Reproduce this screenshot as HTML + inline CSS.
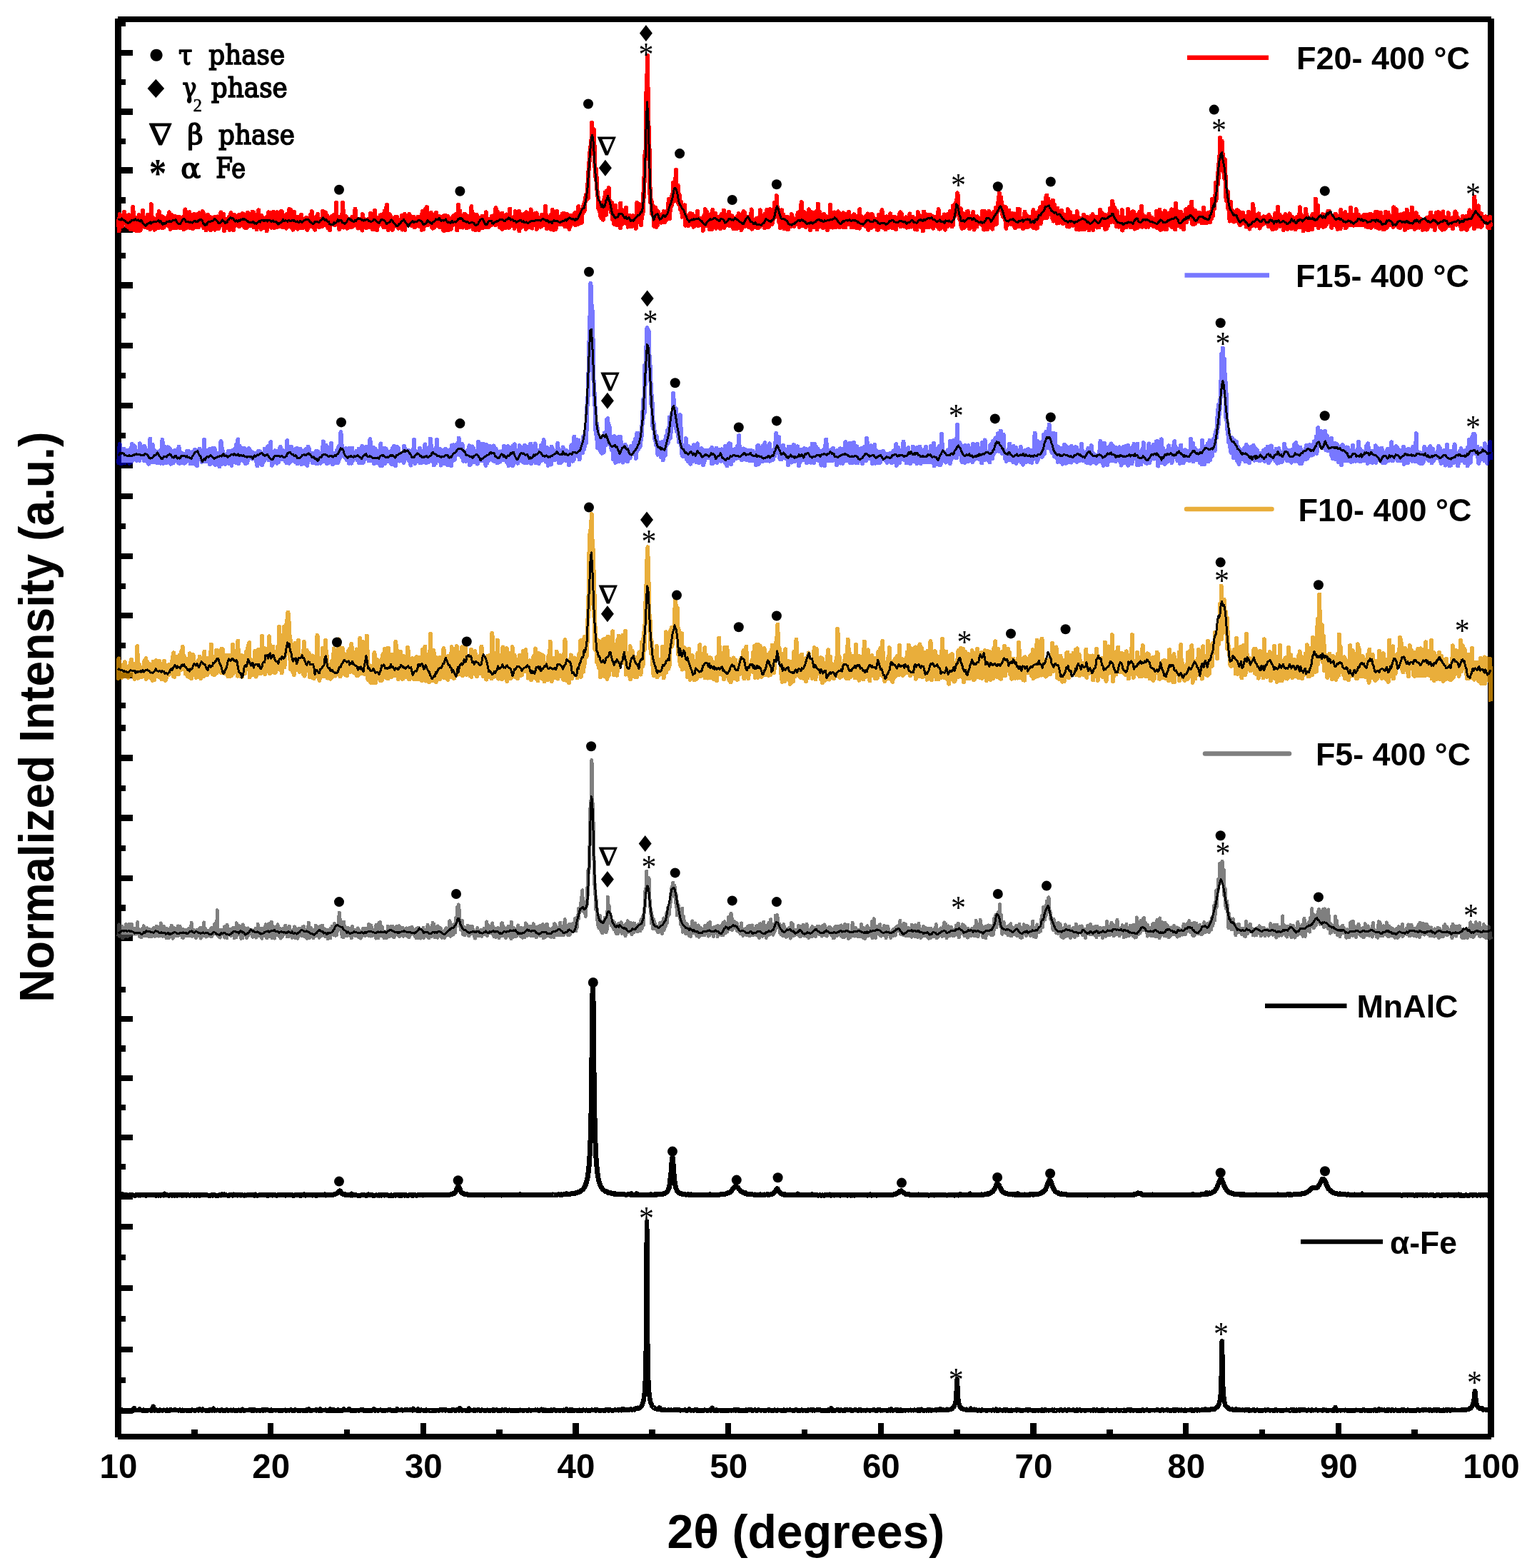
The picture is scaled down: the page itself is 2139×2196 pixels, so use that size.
<!DOCTYPE html>
<html lang="en"><head><meta charset="utf-8"><title>XRD patterns</title>
<style>html,body{margin:0;padding:0;background:#fff}svg{display:block}.ax{font-family:"Liberation Sans",sans-serif;font-weight:bold;fill:#000}.lg{font-family:"Liberation Sans",sans-serif;font-weight:bold;fill:#000}.ph{font-family:"DejaVu Serif","Liberation Serif",serif;fill:#000}.as{font-family:"Liberation Serif",serif;fill:#000}.nb{font-family:"DejaVu Serif","Liberation Serif",serif;fill:#000}.c{fill:none;stroke-linecap:butt;shape-rendering:crispEdges}</style></head><body>
<svg width="2139" height="2196" viewBox="0 0 2139 2196">
<rect width="2139" height="2196" fill="#fff"/>
<g fill="#000" shape-rendering="crispEdges">
<rect x="161" y="26" width="9" height="1987"/>
<rect x="2084" y="26" width="9" height="1987"/>
<rect x="165" y="23" width="1924" height="8"/>
<rect x="165" y="2008" width="1924" height="8"/>
<rect x="166" y="69.5" width="20.0" height="8.5"/>
<rect x="166" y="152.3" width="20.0" height="8.5"/>
<rect x="166" y="234.3" width="20.0" height="8.5"/>
<rect x="166" y="317.4" width="20.0" height="8.5"/>
<rect x="166" y="395.1" width="20.0" height="8.5"/>
<rect x="166" y="479.6" width="20.0" height="8.5"/>
<rect x="166" y="563.6" width="20.0" height="8.5"/>
<rect x="166" y="647.6" width="20.0" height="8.5"/>
<rect x="166" y="690.6" width="20.0" height="8.5"/>
<rect x="166" y="774.8" width="20.0" height="8.5"/>
<rect x="166" y="857.6" width="20.0" height="8.5"/>
<rect x="166" y="941.8" width="20.0" height="8.5"/>
<rect x="166" y="1057.3" width="20.0" height="8.5"/>
<rect x="166" y="1141.2" width="20.0" height="8.5"/>
<rect x="166" y="1225.7" width="20.0" height="8.5"/>
<rect x="166" y="1309.3" width="20.0" height="8.5"/>
<rect x="166" y="1422.8" width="20.0" height="8.5"/>
<rect x="166" y="1505.8" width="20.0" height="8.5"/>
<rect x="166" y="1588.8" width="20.0" height="8.5"/>
<rect x="166" y="1671.8" width="20.0" height="8.5"/>
<rect x="166" y="1713.5" width="20.0" height="8.5"/>
<rect x="166" y="1799.7" width="20.0" height="8.5"/>
<rect x="166" y="1885.5" width="20.0" height="8.5"/>
<rect x="166" y="1971.5" width="20.0" height="8.5"/>
<rect x="166" y="28.4" width="10.0" height="8.5"/>
<rect x="166" y="110.8" width="10.0" height="8.5"/>
<rect x="166" y="193.8" width="10.0" height="8.5"/>
<rect x="166" y="276.4" width="10.0" height="8.5"/>
<rect x="166" y="353.9" width="10.0" height="8.5"/>
<rect x="166" y="437.6" width="10.0" height="8.5"/>
<rect x="166" y="521.8" width="10.0" height="8.5"/>
<rect x="166" y="605.5" width="10.0" height="8.5"/>
<rect x="166" y="732.5" width="10.0" height="8.5"/>
<rect x="166" y="816.6" width="10.0" height="8.5"/>
<rect x="166" y="899.8" width="10.0" height="8.5"/>
<rect x="166" y="983.5" width="10.0" height="8.5"/>
<rect x="166" y="1015.0" width="10.0" height="8.5"/>
<rect x="166" y="1099.5" width="10.0" height="8.5"/>
<rect x="166" y="1183.5" width="10.0" height="8.5"/>
<rect x="166" y="1267.2" width="10.0" height="8.5"/>
<rect x="166" y="1381.7" width="10.0" height="8.5"/>
<rect x="166" y="1464.3" width="10.0" height="8.5"/>
<rect x="166" y="1546.8" width="10.0" height="8.5"/>
<rect x="166" y="1629.8" width="10.0" height="8.5"/>
<rect x="166" y="1756.8" width="10.0" height="8.5"/>
<rect x="166" y="1842.7" width="10.0" height="8.5"/>
<rect x="166" y="1928.5" width="10.0" height="8.5"/>
<rect x="268.1" y="2002.0" width="8.5" height="10.0"/>
<rect x="374.9" y="1993.0" width="8.5" height="19.0"/>
<rect x="481.8" y="2002.0" width="8.5" height="10.0"/>
<rect x="588.6" y="1993.0" width="8.5" height="19.0"/>
<rect x="695.4" y="2002.0" width="8.5" height="10.0"/>
<rect x="802.2" y="1993.0" width="8.5" height="19.0"/>
<rect x="909.1" y="2002.0" width="8.5" height="10.0"/>
<rect x="1015.9" y="1993.0" width="8.5" height="19.0"/>
<rect x="1122.8" y="2002.0" width="8.5" height="10.0"/>
<rect x="1229.6" y="1993.0" width="8.5" height="19.0"/>
<rect x="1336.4" y="2002.0" width="8.5" height="10.0"/>
<rect x="1443.2" y="1993.0" width="8.5" height="19.0"/>
<rect x="1550.1" y="2002.0" width="8.5" height="10.0"/>
<rect x="1656.9" y="1993.0" width="8.5" height="19.0"/>
<rect x="1763.8" y="2002.0" width="8.5" height="10.0"/>
<rect x="1870.6" y="1993.0" width="8.5" height="19.0"/>
<rect x="1977.4" y="2002.0" width="8.5" height="10.0"/>
</g>
<polyline class="c" stroke="#ff0000" stroke-opacity="1" stroke-width="6" stroke-linejoin="round" stroke-linecap="round" points="165.5,318.2 166.4,308.1 166.8,323.5 167.2,319.9 167.6,300.1 168.5,317.1 168.9,301.3 169.8,315.8 170.6,307.9 171.5,316.8 171.9,303.4 172.8,311.2 173.2,304.3 174.0,296.7 174.5,313.4 175.3,310.3 175.8,313.6 176.6,313.3 177.0,302.8 177.5,304.0 177.9,316.8 179.2,317.7 179.6,301.4 180.5,318.3 180.9,308.1 181.7,301.3 182.2,315.7 182.6,320.8 183.4,314.6 183.9,311.7 184.3,301.7 185.2,315.3 185.6,320.7 186.4,289.9 186.9,311.3 188.1,322.1 188.6,304.2 189.0,309.8 189.4,315.2 190.7,315.1 191.1,323.0 191.6,304.9 192.4,318.6 192.8,307.1 193.7,318.7 194.6,301.2 195.0,322.9 195.4,305.2 196.3,318.0 196.7,322.4 197.5,306.5 198.4,304.3 198.8,315.7 199.3,316.0 200.1,294.5 200.5,301.3 201.0,316.0 202.3,307.3 202.7,317.0 203.1,318.5 203.5,311.0 204.4,304.4 205.2,311.4 206.1,307.6 206.5,305.8 207.0,300.6 207.4,319.3 208.2,319.5 209.1,304.5 209.5,301.0 210.4,321.1 211.2,319.9 211.7,286.2 212.1,318.4 212.9,314.1 213.4,318.7 213.8,304.3 214.6,317.7 215.1,311.7 215.9,306.8 216.8,321.7 217.2,318.0 218.1,307.3 218.9,307.8 219.3,314.9 219.8,318.7 220.6,310.9 221.1,300.9 221.5,319.3 222.3,309.9 222.8,296.1 224.0,317.6 224.5,304.1 224.9,307.6 225.3,318.3 226.2,319.0 226.6,303.2 227.5,304.3 228.3,313.8 228.7,304.2 229.6,318.7 230.5,311.4 230.9,313.6 231.7,307.2 232.2,314.3 233.0,314.9 233.4,307.1 233.9,314.6 234.3,304.1 235.2,312.9 235.6,307.1 236.9,297.3 237.3,317.9 238.1,310.6 238.6,321.1 239.0,317.5 239.4,303.4 240.3,307.3 240.7,301.0 242.0,307.0 242.4,314.7 242.8,305.4 243.7,319.0 244.1,303.4 244.6,308.8 245.4,310.4 245.8,303.1 246.7,310.8 247.1,319.2 248.0,303.7 248.4,307.8 249.7,304.8 250.1,317.9 250.5,303.6 251.4,318.9 251.8,309.0 252.7,312.1 253.1,304.9 253.5,318.7 254.4,311.8 254.8,310.7 255.7,319.1 256.5,305.1 256.9,314.8 257.4,321.1 258.7,297.5 259.1,318.3 259.5,293.4 260.4,319.6 261.2,314.8 261.6,307.7 262.1,311.0 262.9,315.0 263.4,304.1 264.2,310.9 264.6,311.2 265.5,297.0 265.9,319.1 266.8,314.6 267.2,311.1 268.1,317.5 268.5,314.3 269.3,307.7 269.8,307.9 270.2,320.3 271.1,311.7 271.9,299.7 272.3,315.4 273.2,300.6 274.0,308.4 274.5,314.3 274.9,318.0 275.3,310.6 276.2,307.6 277.0,300.0 277.9,318.0 278.3,301.5 279.2,298.4 279.6,309.0 280.0,307.0 280.9,314.6 281.7,307.7 282.2,315.1 282.6,308.5 283.0,310.6 283.9,296.2 284.3,315.3 285.2,319.2 285.6,299.8 286.9,314.7 287.3,307.8 287.7,311.5 288.6,322.2 289.0,310.5 289.9,312.0 290.3,301.8 291.1,300.7 291.6,305.2 292.0,310.7 292.8,310.7 293.7,320.0 294.1,303.5 295.0,322.0 295.8,307.9 296.3,311.7 297.1,308.1 297.5,317.5 298.0,320.3 298.4,307.8 299.7,310.4 300.1,304.2 301.0,321.6 301.4,308.3 301.8,313.4 302.2,319.4 303.5,313.6 304.0,311.3 304.4,303.5 305.2,315.5 306.1,320.3 306.5,311.0 307.4,311.4 307.8,317.4 308.2,312.4 308.7,305.9 309.5,297.5 309.9,313.7 311.2,313.9 311.6,300.3 312.1,306.8 312.5,301.4 313.4,300.2 314.2,323.4 314.6,315.1 315.5,308.3 316.3,311.6 316.8,307.8 317.2,319.5 317.6,308.3 318.5,314.2 319.3,306.8 320.2,314.7 320.6,304.3 321.5,321.7 321.9,315.3 322.3,321.3 322.8,304.5 323.6,297.9 324.5,314.4 324.9,309.8 325.3,314.8 326.6,311.6 327.0,322.5 327.9,300.7 328.3,315.2 328.7,315.0 329.6,304.1 330.0,315.8 330.9,307.7 331.3,303.4 332.2,314.4 332.6,314.8 333.0,306.9 333.9,302.0 334.7,312.4 335.2,317.1 335.6,300.7 336.9,307.7 337.3,312.0 337.7,315.3 338.1,310.8 339.0,308.4 339.4,299.2 340.3,310.9 341.1,299.9 342.0,306.2 342.4,318.6 343.3,311.8 343.7,302.7 344.1,304.0 344.6,319.2 345.8,318.7 346.3,303.7 347.1,297.7 347.5,314.6 348.4,314.4 348.8,307.5 349.3,305.7 350.1,316.2 351.0,311.0 351.4,301.8 351.8,309.8 352.7,315.8 353.1,314.3 353.5,296.7 354.8,308.7 355.2,297.4 355.7,318.5 356.1,300.7 356.9,312.4 357.8,307.1 358.7,308.2 359.1,314.2 359.5,321.3 359.9,308.1 360.8,300.6 361.2,312.4 362.1,294.4 362.5,300.8 363.4,317.3 364.2,315.6 364.6,314.0 365.5,318.2 365.9,321.1 366.3,301.8 367.6,312.2 368.1,307.3 368.5,304.8 368.9,311.5 369.8,319.0 370.6,312.9 371.0,314.8 371.9,310.6 372.8,315.8 373.2,304.2 373.6,323.4 374.5,318.0 374.9,303.8 375.3,307.3 376.2,297.4 376.6,313.6 377.5,314.2 378.3,306.9 378.7,304.8 379.2,314.1 380.0,318.7 380.9,297.8 381.3,300.7 381.7,310.9 383.0,313.4 383.4,296.9 384.3,319.1 384.7,310.5 385.1,307.2 385.6,307.9 386.4,318.3 387.3,300.7 388.1,297.3 388.6,312.0 389.4,317.8 389.8,299.2 390.7,303.7 391.1,314.7 392.0,304.5 392.4,308.8 393.3,296.3 393.7,317.3 394.1,317.4 395.0,296.4 395.4,307.9 396.3,318.1 396.7,311.1 397.1,312.6 398.4,315.0 398.8,303.2 399.7,317.1 400.1,314.5 400.5,301.3 401.0,319.6 401.8,300.1 402.2,315.9 403.1,317.3 403.5,304.8 404.4,316.2 405.2,293.1 405.7,298.1 406.1,308.8 406.9,294.0 407.8,318.3 408.2,303.7 409.1,315.0 409.5,309.9 410.4,321.8 410.8,314.2 411.2,306.4 412.1,296.6 412.5,304.2 413.4,307.5 414.2,311.0 415.1,319.1 415.5,307.7 415.9,315.5 416.3,303.5 417.2,320.6 418.1,311.1 418.5,317.5 419.3,314.4 420.2,307.4 420.6,314.8 421.0,310.8 421.9,301.0 422.3,319.2 423.2,315.3 423.6,314.2 424.5,319.2 424.9,315.3 425.7,310.0 426.2,307.0 427.0,314.7 427.5,318.5 428.3,314.3 428.7,311.0 429.2,304.6 430.0,315.3 430.4,322.0 431.7,315.8 432.2,307.9 432.6,317.9 433.4,307.5 434.3,311.6 434.7,301.3 435.1,317.3 436.0,311.3 436.4,312.6 436.9,296.2 437.7,311.8 438.6,307.5 439.0,317.9 439.4,306.7 440.3,314.5 441.1,321.8 441.6,304.4 442.0,308.8 443.3,312.5 443.7,315.7 444.1,306.7 445.0,303.5 445.4,299.8 445.8,314.7 446.7,318.3 447.1,311.9 448.4,311.1 448.8,314.6 449.2,315.0 449.7,306.8 450.5,311.5 451.0,317.4 452.2,296.0 452.7,311.1 453.1,303.0 453.9,315.1 454.8,308.1 455.2,314.9 455.7,297.5 456.1,314.0 457.4,315.2 457.8,301.6 458.2,314.8 459.1,319.1 459.9,306.6 460.4,315.5 461.2,314.7 461.6,304.7 462.1,321.9 462.5,314.5 463.8,314.4 464.2,310.1 464.6,303.0 465.1,311.4 465.9,311.9 466.3,303.2 467.2,308.2 467.6,301.0 468.9,314.9 469.3,301.1 470.2,301.8 470.6,314.5 471.0,283.5 471.9,313.5 472.3,304.6 473.2,314.6 474.0,315.7 474.5,307.0 474.9,307.5 475.3,321.0 476.2,304.0 476.6,313.9 477.5,304.2 478.3,317.9 478.7,300.3 479.6,310.7 480.0,283.5 480.4,289.5 481.3,317.5 481.7,318.5 482.6,314.0 483.4,308.0 483.9,312.0 484.7,303.1 485.6,309.1 486.0,319.6 486.4,309.9 487.3,317.2 487.7,318.8 488.6,306.7 489.4,307.8 489.8,314.8 490.7,310.8 491.1,318.4 491.6,311.8 492.4,305.2 492.8,317.7 493.3,304.0 494.5,317.2 495.0,303.9 495.4,315.7 496.3,310.4 497.1,307.9 497.5,292.7 498.0,314.9 498.4,308.1 499.7,307.3 500.1,312.2 501.0,307.8 501.4,319.6 502.2,310.4 502.7,316.8 503.5,307.4 503.9,318.6 504.8,317.7 505.2,306.8 505.7,316.0 506.5,311.9 507.4,322.6 507.8,300.1 508.6,307.3 509.1,314.5 509.5,306.3 510.4,313.8 510.8,311.7 511.6,308.7 512.1,308.2 512.9,319.1 513.3,315.1 514.2,307.8 514.6,312.3 515.5,318.2 515.9,307.0 516.3,318.2 517.2,307.4 518.0,317.3 518.9,299.1 519.3,318.6 519.8,307.7 520.2,311.6 521.5,318.3 521.9,310.2 522.3,321.3 522.8,302.8 523.6,310.1 524.5,311.2 524.9,295.1 525.3,316.9 526.2,311.3 526.6,304.2 527.9,322.5 528.3,307.6 529.2,316.8 529.6,307.0 530.0,309.8 530.9,314.2 531.3,309.5 531.7,314.3 532.6,301.4 533.4,313.5 533.9,310.7 534.3,300.9 535.6,301.1 536.0,308.8 536.4,306.7 537.3,318.2 537.7,308.7 538.6,295.5 539.0,315.7 539.4,304.5 540.7,291.1 541.1,317.9 541.6,315.3 542.0,286.9 542.8,307.2 543.7,322.1 544.1,313.7 544.5,300.3 545.4,310.8 546.3,300.5 547.1,303.1 547.5,314.8 548.0,314.3 548.4,318.5 549.7,322.0 550.1,310.7 551.0,306.9 551.4,317.5 552.2,316.5 552.7,311.2 553.1,304.3 553.5,307.2 554.4,307.0 555.2,314.6 555.7,314.8 556.1,303.5 556.9,309.1 557.4,318.8 558.2,319.8 559.1,307.8 559.9,307.7 560.4,318.6 560.8,311.2 561.6,310.3 562.1,315.4 562.9,301.9 563.3,303.5 563.8,321.6 565.1,311.8 565.5,318.5 566.3,311.5 566.8,300.0 567.2,321.9 567.6,310.1 568.5,305.5 569.3,315.5 569.8,314.7 570.2,307.6 571.0,314.8 571.5,301.9 572.3,315.6 573.2,300.1 573.6,313.4 574.0,301.0 574.9,307.4 575.3,308.7 576.6,311.2 577.0,315.9 577.4,312.8 577.9,306.5 579.2,310.6 579.6,303.8 580.4,318.5 580.9,306.3 581.3,313.6 581.7,317.5 582.6,316.2 583.0,311.0 583.9,316.2 584.3,307.3 585.1,303.9 585.6,316.1 586.4,314.4 586.9,304.3 587.7,307.2 588.1,317.0 589.0,312.5 589.8,303.9 590.7,321.7 591.1,307.9 591.6,296.1 592.4,312.5 592.8,302.4 593.3,321.0 594.5,310.9 595.0,304.9 595.4,314.8 596.3,292.7 596.7,314.1 597.5,307.3 598.0,290.2 598.4,315.5 599.2,310.6 600.1,314.1 600.5,310.0 601.4,310.5 601.8,310.4 602.7,303.0 603.1,310.3 603.9,298.1 604.8,317.5 605.2,299.9 606.1,319.6 606.5,310.9 606.9,315.4 607.8,304.2 608.2,313.9 608.6,318.5 609.5,300.2 610.4,315.6 611.2,298.0 611.6,311.4 612.1,304.3 612.5,316.2 613.3,311.2 613.8,314.3 614.6,315.2 615.5,303.2 615.9,304.5 616.3,318.2 617.6,305.2 618.0,310.5 618.9,313.3 619.3,303.9 619.8,303.4 620.6,314.4 621.0,322.5 621.5,306.2 622.3,323.1 623.2,301.5 623.6,320.6 624.5,316.8 625.3,311.6 625.7,305.6 626.2,318.9 627.0,302.8 627.4,322.1 628.3,311.8 628.7,321.7 629.6,306.1 630.0,305.9 630.4,308.4 631.7,321.0 632.1,307.2 633.0,313.7 633.4,310.0 634.3,303.8 634.7,314.8 635.1,314.5 635.6,302.1 636.4,303.3 637.3,309.8 638.1,311.4 638.6,307.1 639.0,299.6 639.4,313.5 640.3,322.4 641.1,300.5 641.5,314.0 642.0,287.0 643.3,310.9 643.7,306.6 644.1,295.3 645.0,313.6 645.4,318.5 645.8,314.2 646.7,303.3 647.5,318.3 648.0,318.5 648.8,307.7 649.2,302.8 649.7,310.7 650.5,299.6 651.4,317.1 651.8,308.0 652.7,301.0 653.5,319.5 653.9,311.0 654.8,312.2 655.2,302.5 656.1,308.5 656.5,305.9 656.9,318.4 657.8,313.4 658.2,302.3 658.6,307.4 659.5,307.3 660.4,289.3 660.8,307.2 661.6,297.5 662.5,303.8 662.9,317.4 663.3,321.5 663.8,300.7 665.1,316.9 665.5,307.7 665.9,322.3 666.3,302.0 667.2,307.4 667.6,300.7 668.5,311.2 669.3,305.0 669.8,307.5 670.6,322.1 671.0,304.5 671.9,319.3 672.7,308.1 673.2,314.7 673.6,305.0 674.5,319.5 675.3,314.1 675.7,302.8 676.2,306.4 676.6,319.1 677.4,317.4 678.3,303.6 678.7,318.5 679.2,310.0 680.0,314.9 680.9,297.4 681.3,315.1 681.7,310.9 683.0,307.5 683.4,318.4 683.9,307.2 684.7,317.6 685.6,314.5 686.0,307.1 686.4,314.7 686.8,307.0 688.1,314.5 688.6,303.3 689.0,314.7 689.4,303.0 690.7,307.3 691.1,314.5 692.0,310.5 692.4,307.2 693.3,300.2 693.7,310.9 694.1,315.3 694.5,291.0 695.8,306.3 696.2,312.9 696.7,296.3 697.5,307.0 698.0,314.4 698.8,302.7 699.7,300.0 700.1,318.0 700.9,303.2 701.4,310.2 701.8,317.8 702.2,311.2 703.1,320.8 703.5,298.7 704.4,307.1 704.8,308.2 705.6,309.1 706.1,318.3 707.4,310.3 707.8,314.8 708.2,319.4 709.1,313.8 709.5,300.5 709.9,314.4 710.8,311.8 711.2,314.5 712.5,318.8 712.9,300.7 713.8,318.0 714.2,292.6 714.6,314.2 715.1,307.6 715.9,314.4 716.8,310.4 717.6,315.6 718.0,311.7 718.9,307.4 719.3,315.1 720.2,303.5 720.6,319.8 721.5,310.7 721.9,296.1 722.7,301.0 723.2,317.2 723.6,313.7 724.0,305.7 725.3,306.3 725.7,317.8 726.6,310.4 727.0,295.9 727.4,323.4 728.3,308.1 728.7,313.1 729.6,300.3 730.0,313.3 730.4,318.2 731.3,311.7 731.7,304.4 732.6,310.5 733.4,317.3 734.3,313.8 734.7,299.6 735.6,318.0 736.0,308.0 736.8,320.8 737.3,297.4 737.7,301.2 738.1,315.1 739.0,310.8 739.4,307.6 740.3,307.0 741.1,318.2 741.5,303.1 742.0,310.7 742.8,307.4 743.7,293.4 744.5,307.1 745.0,317.1 745.4,319.6 745.8,315.1 747.1,315.5 747.5,300.8 748.0,311.2 748.8,299.4 749.2,304.6 750.1,299.9 750.9,314.8 751.4,298.4 751.8,320.8 752.2,300.2 753.1,315.5 753.9,310.6 754.4,304.3 755.2,307.7 756.1,309.9 756.5,316.8 756.9,307.3 757.4,317.7 758.2,317.3 759.1,301.1 759.5,314.9 759.9,304.1 760.8,307.7 761.2,314.9 762.1,306.1 762.5,315.0 763.3,306.4 764.2,289.0 765.0,314.5 765.5,317.2 765.9,313.0 766.3,320.5 767.6,318.4 768.0,306.6 768.5,313.6 769.3,310.2 770.2,311.0 770.6,318.4 771.5,301.2 771.9,321.1 772.3,317.5 772.7,306.2 773.6,313.8 774.0,294.0 774.9,300.4 775.7,321.9 776.6,318.1 777.0,311.1 777.4,299.1 778.3,320.8 778.7,320.3 779.2,314.9 780.0,296.1 780.4,304.8 781.7,303.2 782.1,307.2 782.6,314.5 783.0,306.1 784.3,304.1 784.7,313.9 785.1,313.9 785.6,302.9 786.8,312.2 787.3,313.9 787.7,299.4 788.1,310.1 789.0,309.6 789.8,298.7 790.7,303.3 791.1,313.5 791.5,317.4 792.0,306.9 792.8,308.0 793.7,302.8 794.1,299.9 794.5,314.0 795.4,309.1 795.8,305.2 796.7,301.6 797.5,320.7 798.0,303.4 798.8,306.1 799.2,316.3 800.1,305.7 800.5,301.6 801.4,307.9 801.8,305.6 802.2,312.8 803.5,301.3 803.9,309.1 804.8,304.3 805.2,298.3 805.6,297.7 806.1,315.2 806.9,308.3 807.4,314.7 808.2,297.5 809.1,314.0 809.5,311.7 810.3,289.3 810.8,313.6 811.6,299.5 812.5,294.7 812.9,310.1 813.8,293.9 814.2,305.5 815.0,311.7 815.5,294.1 816.3,299.2 816.8,296.1 817.6,286.5 818.0,296.1 818.9,294.7 819.3,282.1 820.2,281.7 820.6,273.2 821.5,274.0 821.9,279.2 822.7,268.0 823.2,257.4 823.6,278.0 824.4,240.0 824.9,235.4 825.3,229.6 826.2,216.1 827.0,206.0 827.9,211.6 828.3,196.1 828.7,210.2 829.1,171.6 830.4,199.7 830.9,215.0 831.7,181.3 832.1,201.7 833.0,205.2 833.4,233.7 833.8,238.3 834.7,252.0 835.1,236.8 836.0,259.1 836.4,266.2 837.3,273.1 837.7,277.7 838.5,292.4 839.4,283.4 839.8,296.2 840.7,284.0 841.1,302.0 842.0,284.0 842.4,305.1 842.8,300.8 843.3,286.1 844.5,291.2 845.0,307.7 845.4,300.9 845.8,282.7 847.1,275.2 847.5,300.8 848.0,269.3 848.4,282.8 849.2,300.7 850.1,267.2 850.5,273.9 850.9,284.7 851.8,282.4 852.7,263.0 853.1,284.8 853.9,280.7 854.4,283.1 855.2,287.6 855.6,297.0 856.1,283.8 856.9,296.4 857.4,284.2 858.2,307.7 858.6,287.7 859.5,305.1 860.3,313.9 860.8,311.1 861.2,306.5 862.1,287.7 862.9,310.3 863.3,307.8 864.2,315.0 864.6,308.7 865.5,296.5 865.9,307.3 866.3,304.4 867.2,311.2 867.6,303.3 868.9,319.2 869.3,284.6 869.7,314.9 870.2,296.8 871.0,314.6 871.5,293.9 872.3,307.5 872.7,302.2 873.6,309.1 874.4,303.2 874.9,311.8 875.7,299.1 876.2,306.5 877.0,290.7 877.4,301.9 877.9,309.6 878.7,303.2 879.6,317.7 880.0,316.7 880.9,302.4 881.7,313.3 882.1,301.8 882.6,315.8 883.0,311.7 883.8,317.2 884.3,302.8 885.1,309.3 886.0,316.8 886.4,302.2 887.3,312.0 887.7,302.5 888.1,308.9 889.4,305.5 889.8,309.7 890.3,308.3 890.7,319.8 891.5,308.5 892.4,283.9 892.8,300.8 893.7,304.5 894.1,303.2 895.0,285.6 895.8,307.9 896.2,300.5 896.7,311.8 897.5,290.7 897.9,315.4 898.8,289.4 899.2,306.4 899.7,290.9 900.5,299.4 900.9,271.2 901.8,277.3 902.6,243.6 903.1,254.3 903.5,216.5 904.4,222.5 905.2,139.5 906.1,105.0 906.5,125.9 906.9,77.8 907.8,141.9 908.2,168.4 909.1,191.3 909.9,223.7 910.3,271.4 910.8,263.4 911.2,283.1 912.5,279.9 912.9,298.9 913.8,294.1 914.2,298.5 915.0,302.9 915.5,289.0 916.3,316.8 916.8,291.0 917.2,294.6 918.0,302.1 918.5,291.1 919.3,317.8 919.7,306.2 920.6,304.3 921.5,314.7 921.9,296.3 922.7,299.2 923.2,308.5 923.6,307.2 924.4,310.1 924.9,308.2 925.7,303.3 926.2,311.8 927.0,304.0 927.9,299.9 928.3,302.1 929.1,307.4 929.6,300.6 930.0,296.0 930.9,311.5 931.7,305.8 932.1,309.4 933.0,296.3 933.4,305.9 933.8,301.8 934.7,307.1 935.6,300.2 936.0,284.6 936.4,295.0 936.8,279.2 938.1,306.3 938.5,295.5 939.0,295.9 939.4,280.9 940.3,282.3 940.7,288.2 941.5,272.9 942.4,283.2 942.8,278.3 943.2,256.0 944.1,276.5 945.0,280.8 945.4,269.1 945.8,261.9 947.1,237.5 947.5,267.0 948.4,260.1 948.8,282.2 949.7,259.7 950.1,268.3 950.5,285.8 951.4,272.3 952.2,274.0 952.6,292.9 953.5,288.1 953.9,282.2 954.8,297.9 955.2,288.7 955.6,303.7 956.5,298.9 956.9,292.7 957.3,301.3 958.6,297.0 959.1,287.4 959.5,301.1 960.3,315.9 960.8,311.9 961.2,310.4 962.0,303.6 962.5,310.7 963.3,301.6 963.8,315.7 964.6,308.4 965.0,315.9 966.3,309.8 966.7,298.9 967.6,302.7 968.0,308.7 968.5,309.8 968.9,303.5 969.7,299.8 970.6,315.8 971.0,305.2 971.5,317.8 972.7,307.4 973.2,309.5 973.6,303.1 974.4,315.8 975.3,306.8 975.7,313.1 976.6,315.5 977.0,296.1 977.4,310.1 978.3,316.2 979.1,314.3 979.6,306.2 980.4,306.1 980.9,310.4 981.3,306.9 982.1,315.1 982.6,314.1 983.4,306.1 984.3,308.1 984.7,322.7 985.1,313.7 986.0,304.2 986.4,301.6 987.3,314.8 987.7,293.2 988.1,306.8 989.4,315.0 989.8,296.9 990.3,316.1 990.7,308.5 991.5,316.6 992.0,310.4 992.8,304.3 993.7,313.7 994.1,321.0 994.5,306.3 995.8,310.5 996.2,299.4 996.7,321.4 997.1,298.8 998.4,294.0 998.8,317.5 999.7,314.5 1000.1,307.1 1000.5,304.4 1000.9,317.6 1001.8,298.8 1002.6,319.0 1003.1,319.6 1003.9,317.0 1004.4,313.3 1004.8,303.6 1005.6,318.3 1006.5,310.6 1006.9,310.2 1007.8,305.6 1008.2,307.1 1009.1,320.4 1009.5,302.9 1010.3,308.5 1011.2,299.9 1011.6,317.2 1012.0,306.9 1012.9,306.1 1013.8,294.5 1014.2,318.9 1014.6,313.4 1015.5,306.8 1015.9,315.1 1016.7,300.5 1017.6,310.6 1018.0,315.6 1018.5,307.4 1018.9,306.4 1019.7,312.2 1020.6,307.6 1021.0,296.6 1021.9,313.7 1022.3,316.2 1023.2,310.3 1023.6,313.2 1024.0,302.0 1024.9,316.2 1025.7,302.4 1026.6,310.3 1027.0,312.5 1027.4,320.3 1027.9,305.6 1028.7,305.6 1029.6,309.1 1030.4,317.0 1030.8,309.3 1031.3,309.2 1032.1,320.4 1032.6,303.0 1033.0,315.3 1033.8,314.0 1034.7,299.0 1035.1,313.9 1036.0,310.2 1036.4,306.3 1036.8,313.5 1038.1,307.9 1038.5,322.1 1039.0,313.4 1039.4,317.5 1040.7,310.0 1041.1,304.4 1041.5,296.3 1042.0,314.0 1042.8,297.9 1043.7,316.9 1044.5,312.0 1045.0,307.3 1045.4,310.4 1045.8,315.4 1046.7,315.0 1047.1,310.1 1047.9,315.0 1048.4,304.0 1049.2,318.2 1049.7,306.8 1050.9,310.9 1051.4,318.9 1052.2,310.7 1052.6,293.5 1053.1,320.6 1053.5,311.0 1054.8,306.9 1055.2,314.6 1056.1,318.3 1056.5,310.9 1056.9,311.7 1057.3,316.5 1058.6,311.7 1059.1,318.0 1059.9,305.7 1060.3,313.9 1060.8,318.9 1061.6,307.1 1062.0,309.7 1062.5,318.7 1063.3,304.9 1064.2,306.6 1064.6,317.6 1065.0,294.3 1066.3,315.7 1066.7,302.5 1067.2,307.9 1067.6,311.6 1068.5,307.3 1069.3,311.3 1070.2,304.3 1070.6,319.1 1071.4,299.9 1071.9,311.3 1072.7,315.0 1073.2,318.1 1074.0,312.5 1074.4,293.5 1075.3,313.8 1075.7,306.5 1076.1,302.0 1077.0,318.0 1077.4,313.1 1078.3,303.1 1078.7,293.1 1079.1,307.7 1080.4,310.9 1080.8,303.3 1081.3,314.0 1081.7,312.6 1082.6,308.0 1083.0,293.5 1084.3,295.2 1084.7,304.4 1085.1,283.8 1086.0,303.8 1086.8,295.8 1087.3,297.6 1087.7,274.1 1088.1,293.5 1089.0,290.0 1089.4,302.7 1090.2,292.6 1091.1,305.0 1091.5,311.4 1092.4,294.5 1092.8,319.1 1093.2,299.0 1094.1,313.4 1094.5,297.8 1095.4,294.2 1095.8,310.1 1097.1,300.1 1097.5,314.4 1098.4,310.5 1098.8,320.4 1099.2,304.1 1099.7,311.6 1100.5,306.0 1100.9,303.7 1101.8,314.4 1102.6,314.5 1103.5,304.3 1103.9,321.5 1104.8,304.6 1105.2,309.6 1105.6,310.1 1106.5,311.3 1107.3,317.4 1107.8,304.4 1108.6,315.8 1109.1,300.1 1109.9,304.3 1110.3,312.7 1110.8,310.1 1111.6,315.1 1112.5,317.1 1112.9,307.3 1113.3,309.5 1113.8,314.1 1114.6,314.1 1115.0,309.5 1115.9,306.8 1116.3,311.5 1117.6,298.4 1118.0,311.2 1118.5,297.4 1119.3,306.9 1119.7,317.7 1120.2,308.2 1121.4,314.9 1121.9,292.9 1122.7,283.3 1123.2,314.7 1124.0,307.7 1124.4,316.1 1124.9,310.5 1125.3,307.3 1126.6,311.3 1127.0,297.4 1127.4,313.9 1127.9,308.7 1128.7,318.2 1129.6,303.4 1130.0,311.7 1130.4,302.0 1131.3,312.9 1131.7,303.0 1133.0,293.2 1133.4,307.4 1134.3,303.4 1134.7,314.9 1135.1,322.2 1136.0,310.0 1136.4,297.3 1136.8,311.4 1138.1,318.2 1138.5,310.3 1139.4,297.8 1139.8,310.6 1140.2,312.4 1140.7,305.4 1142.0,306.7 1142.4,318.2 1143.2,296.9 1143.7,318.3 1144.1,304.5 1144.5,321.2 1145.8,285.6 1146.2,317.9 1147.1,310.5 1147.5,314.7 1147.9,296.6 1148.4,315.3 1149.2,312.3 1150.1,306.5 1150.5,306.6 1150.9,303.8 1151.8,318.3 1152.6,311.3 1153.1,318.9 1153.9,299.9 1154.3,310.7 1155.2,318.4 1155.6,311.0 1156.5,305.1 1157.3,312.0 1157.8,303.2 1158.6,308.6 1159.0,322.3 1159.5,311.0 1159.9,318.9 1161.2,313.1 1161.6,317.9 1162.5,312.1 1162.9,287.0 1163.3,293.0 1164.2,314.7 1164.6,317.9 1165.5,304.2 1165.9,312.1 1166.7,318.6 1167.6,302.5 1168.0,316.8 1168.5,297.5 1169.3,311.3 1169.7,314.3 1170.6,298.0 1171.0,318.2 1171.4,315.3 1172.7,300.4 1173.2,311.3 1173.6,314.8 1174.0,296.4 1174.9,297.1 1175.7,318.0 1176.1,318.3 1177.0,310.1 1177.4,308.0 1178.3,313.8 1178.7,299.7 1179.1,310.0 1180.0,303.8 1180.8,314.3 1181.3,298.4 1181.7,318.3 1182.6,307.5 1183.4,313.8 1183.8,307.3 1184.3,318.4 1185.5,299.7 1186.0,307.7 1186.4,305.4 1187.3,313.3 1187.7,303.2 1188.5,308.3 1189.0,296.7 1189.8,314.5 1190.2,310.5 1191.1,303.3 1191.5,303.8 1192.4,312.1 1192.8,318.4 1193.7,302.8 1194.5,306.7 1194.9,318.1 1195.8,307.3 1196.2,300.3 1196.7,315.3 1197.5,311.1 1197.9,318.5 1198.4,303.7 1199.6,318.6 1200.1,307.3 1200.5,319.4 1200.9,310.4 1201.8,302.4 1202.2,319.5 1203.1,303.5 1203.9,319.6 1204.3,293.2 1204.8,310.4 1206.1,312.4 1206.5,305.7 1206.9,309.4 1207.3,314.3 1208.2,304.4 1208.6,314.8 1209.9,307.9 1210.3,315.5 1210.8,315.0 1211.6,304.1 1212.5,316.7 1212.9,303.1 1213.7,309.0 1214.2,317.1 1215.0,311.6 1215.5,299.5 1216.3,321.8 1216.7,315.0 1217.6,307.7 1218.0,303.0 1218.9,307.3 1219.3,318.1 1220.2,318.8 1220.6,307.6 1221.0,299.5 1221.9,308.6 1222.3,300.9 1222.7,315.4 1223.6,304.6 1224.0,315.6 1224.9,317.4 1225.3,311.0 1226.1,311.0 1227.0,317.3 1227.9,313.3 1228.3,307.3 1228.7,321.6 1229.1,307.5 1230.4,321.7 1230.8,300.9 1231.7,311.2 1232.1,318.5 1232.6,302.3 1233.0,315.6 1234.3,304.2 1234.7,309.9 1235.1,318.2 1235.5,294.3 1236.4,317.7 1237.3,303.6 1237.7,318.7 1238.5,307.7 1239.0,312.4 1239.8,315.5 1240.2,307.5 1240.7,321.3 1242.0,303.4 1242.4,315.0 1242.8,318.2 1243.7,306.8 1244.1,318.9 1244.9,305.3 1245.8,312.6 1246.2,311.5 1247.1,299.3 1247.5,314.2 1247.9,317.2 1248.8,307.6 1249.2,314.4 1249.6,318.8 1250.5,304.3 1251.4,319.2 1252.2,313.5 1252.6,318.1 1253.1,304.2 1253.5,312.5 1254.3,310.7 1255.2,321.3 1255.6,307.4 1256.5,309.9 1257.3,314.1 1257.8,311.7 1258.2,315.1 1259.0,303.9 1259.5,315.0 1259.9,300.3 1261.2,297.2 1261.6,317.5 1262.0,307.3 1262.5,315.3 1263.3,300.3 1263.7,311.9 1264.6,307.7 1265.0,315.6 1265.9,315.2 1266.7,307.6 1267.2,317.1 1267.6,311.1 1268.9,304.4 1269.3,313.2 1269.7,304.5 1270.2,318.8 1271.0,317.1 1271.4,304.5 1272.7,310.1 1273.1,318.4 1273.6,303.5 1274.4,299.5 1274.9,308.4 1275.3,314.8 1276.1,308.3 1277.0,317.6 1277.4,311.8 1277.8,316.6 1278.7,303.8 1279.1,308.2 1280.0,306.9 1280.8,315.1 1281.3,308.3 1282.1,321.1 1283.0,316.8 1283.4,308.6 1284.3,321.6 1284.7,304.9 1285.5,308.1 1286.0,297.1 1286.8,300.4 1287.2,309.1 1288.1,302.4 1288.5,317.3 1289.4,307.9 1289.8,314.9 1290.2,303.2 1290.7,318.4 1291.5,315.4 1292.4,303.9 1292.8,323.4 1293.7,296.6 1294.1,317.6 1294.5,296.8 1295.4,318.1 1295.8,304.7 1296.7,309.4 1297.1,314.8 1297.9,318.2 1298.8,311.8 1299.2,311.8 1300.1,300.5 1300.5,304.5 1300.9,318.0 1302.2,301.1 1302.6,310.8 1303.1,301.2 1303.5,310.6 1304.8,311.4 1305.2,307.4 1305.6,312.2 1306.1,302.8 1307.3,319.7 1307.8,311.6 1308.2,312.2 1308.6,305.5 1309.9,315.0 1310.3,310.1 1310.8,304.0 1311.2,308.3 1312.0,315.5 1312.5,311.3 1313.3,317.8 1313.7,307.7 1314.6,293.3 1315.5,314.3 1315.9,320.6 1316.3,311.8 1317.2,309.6 1318.0,319.7 1318.4,317.1 1319.3,306.9 1319.7,314.2 1320.6,313.4 1321.4,303.2 1321.9,311.9 1322.3,318.6 1322.7,300.4 1324.0,321.6 1324.4,310.2 1324.9,314.7 1325.3,311.8 1326.1,313.6 1326.6,301.1 1327.4,317.2 1328.3,299.7 1328.7,315.7 1329.1,310.5 1330.0,306.7 1330.4,313.6 1331.3,295.7 1332.1,307.6 1333.0,298.4 1333.4,317.4 1334.3,305.3 1334.7,315.9 1335.1,288.2 1335.5,306.1 1336.4,289.4 1336.8,303.2 1337.7,302.7 1338.1,285.1 1339.0,283.1 1339.4,291.3 1340.2,282.1 1341.1,270.2 1341.9,274.5 1342.4,295.3 1342.8,296.8 1343.7,302.4 1344.1,295.1 1344.5,308.0 1345.8,292.2 1346.2,315.0 1347.1,309.3 1347.5,319.9 1347.9,305.0 1348.4,309.5 1349.6,319.3 1350.1,299.4 1350.9,310.0 1351.3,300.9 1351.8,317.9 1352.2,309.8 1353.5,300.9 1353.9,313.8 1354.8,296.5 1355.2,313.0 1355.6,295.9 1356.1,313.5 1357.3,314.7 1357.8,306.3 1358.2,320.2 1358.6,311.6 1359.5,307.1 1359.9,302.7 1360.8,303.3 1361.6,310.3 1362.0,317.9 1362.5,306.9 1363.3,296.9 1364.2,315.1 1364.6,321.6 1365.5,303.0 1366.3,304.4 1366.7,317.7 1367.2,307.7 1367.6,311.9 1368.4,317.5 1368.9,303.4 1369.7,303.8 1370.6,313.2 1371.0,310.5 1371.4,307.9 1372.3,310.7 1372.7,307.5 1374.0,307.7 1374.4,314.1 1375.3,314.9 1375.7,302.2 1376.1,295.6 1376.6,314.4 1377.8,304.4 1378.3,321.6 1378.7,307.6 1379.6,296.0 1380.0,310.7 1380.8,303.5 1381.7,312.8 1382.1,300.1 1382.5,318.1 1383.4,321.4 1383.8,317.2 1384.7,313.6 1385.1,314.1 1385.5,295.9 1386.4,318.1 1387.2,306.2 1387.7,306.7 1388.5,309.7 1389.0,303.3 1389.4,308.8 1390.2,320.7 1391.1,311.8 1391.5,304.8 1392.4,296.6 1392.8,298.7 1393.7,308.2 1394.1,314.1 1394.9,290.6 1395.8,313.7 1396.2,307.0 1396.6,296.2 1397.1,290.1 1398.4,283.0 1398.8,294.4 1399.2,290.7 1399.6,270.0 1400.5,285.8 1400.9,280.8 1402.2,276.1 1402.6,283.0 1403.1,285.5 1403.9,299.7 1404.3,288.3 1405.2,303.8 1405.6,303.7 1406.5,294.8 1407.3,302.3 1407.8,305.8 1408.2,308.9 1408.6,290.0 1409.5,319.8 1409.9,297.5 1411.2,315.0 1411.6,295.1 1412.5,305.0 1412.9,310.7 1413.3,294.7 1414.2,309.5 1414.6,309.3 1415.4,310.3 1415.9,313.6 1416.7,305.8 1417.6,298.6 1418.0,314.5 1418.9,313.4 1419.3,305.4 1420.2,312.4 1420.6,317.0 1421.4,299.5 1421.9,319.4 1422.3,311.6 1423.1,303.3 1424.0,316.8 1424.4,303.1 1425.3,311.0 1425.7,292.7 1426.1,307.3 1426.6,311.4 1427.4,317.5 1428.3,293.4 1428.7,314.7 1429.1,304.3 1430.4,308.0 1430.8,317.6 1431.7,315.1 1432.1,306.1 1432.5,311.2 1433.0,320.5 1433.8,311.1 1434.7,303.9 1435.1,304.6 1435.5,296.8 1436.8,310.0 1437.2,307.8 1437.7,308.9 1438.5,318.4 1439.0,302.4 1439.8,314.6 1440.2,314.6 1441.1,303.7 1441.5,316.7 1441.9,306.4 1442.8,314.4 1443.2,310.2 1444.1,303.5 1444.5,316.4 1445.4,306.0 1445.8,303.2 1446.6,317.4 1447.5,294.0 1447.9,319.2 1448.4,299.9 1449.2,305.9 1450.1,313.6 1450.9,298.7 1451.3,319.8 1451.8,306.0 1452.6,297.8 1453.1,318.8 1453.5,309.2 1454.8,296.9 1455.2,311.7 1455.6,306.4 1456.0,296.1 1456.9,290.4 1457.8,313.3 1458.2,309.3 1459.0,296.5 1459.5,307.1 1459.9,296.3 1460.7,283.8 1461.6,305.5 1462.5,298.1 1462.9,289.9 1463.7,288.0 1464.2,300.0 1464.6,277.5 1465.0,305.0 1466.3,273.6 1466.7,304.9 1467.6,293.3 1468.0,300.1 1468.4,278.7 1469.3,290.4 1469.7,293.1 1470.6,298.0 1471.0,294.6 1471.9,285.4 1472.3,300.9 1472.7,284.3 1473.6,298.8 1474.4,306.7 1474.8,280.6 1475.7,309.6 1476.6,302.8 1477.0,286.5 1477.8,290.2 1478.3,297.4 1478.7,297.3 1479.5,305.6 1480.0,298.5 1480.8,312.6 1481.3,291.7 1481.7,306.4 1482.5,306.5 1483.0,300.3 1483.8,311.9 1484.3,300.7 1485.5,307.3 1486.0,301.9 1486.4,307.8 1487.2,294.7 1487.7,305.8 1488.5,299.0 1489.0,313.5 1489.8,300.5 1490.2,301.8 1491.1,305.4 1491.9,301.3 1492.4,310.2 1492.8,308.2 1493.2,311.1 1494.1,310.1 1494.9,317.3 1495.8,293.3 1496.2,311.9 1497.1,306.2 1497.5,316.2 1497.9,317.5 1498.4,299.1 1499.2,297.2 1499.6,311.0 1500.5,309.6 1501.3,313.1 1502.2,310.3 1502.6,302.9 1503.1,315.7 1503.9,303.8 1504.8,313.5 1505.2,303.3 1505.6,313.8 1506.0,307.3 1506.9,315.2 1507.3,307.3 1508.2,321.5 1508.6,296.3 1509.5,310.3 1509.9,303.5 1511.2,306.3 1511.6,321.6 1512.5,308.0 1512.9,307.5 1513.7,312.7 1514.2,306.2 1515.0,306.6 1515.4,321.5 1516.3,317.6 1516.7,311.3 1517.6,313.9 1518.0,300.8 1518.9,321.2 1519.3,308.0 1520.1,319.5 1520.6,315.0 1521.0,310.8 1521.4,314.1 1522.3,318.9 1523.1,303.8 1523.6,315.6 1524.0,307.6 1525.3,313.8 1525.7,322.3 1526.6,307.7 1527.0,310.6 1527.8,314.9 1528.3,303.0 1529.1,315.1 1529.5,307.8 1530.0,314.6 1530.4,300.3 1531.3,322.1 1532.1,309.2 1533.0,313.3 1533.4,304.3 1533.8,303.6 1534.2,311.4 1535.1,304.4 1536.0,316.9 1536.8,318.4 1537.2,304.2 1538.1,317.7 1538.5,310.2 1539.4,318.5 1539.8,310.6 1540.7,307.0 1541.1,293.5 1541.9,297.4 1542.4,311.5 1542.8,312.9 1543.2,307.1 1544.1,315.1 1544.9,299.3 1545.4,309.3 1546.2,314.4 1546.6,306.9 1547.5,312.9 1547.9,300.8 1548.4,321.2 1549.2,303.6 1550.1,320.2 1550.5,304.8 1551.3,313.9 1552.2,316.5 1552.6,308.1 1553.1,310.2 1553.5,299.1 1554.3,311.5 1554.8,292.3 1556.0,310.9 1556.5,299.0 1557.3,297.7 1557.8,300.4 1558.2,282.0 1559.0,287.7 1559.5,302.1 1559.9,289.4 1560.7,290.1 1561.2,311.5 1562.0,310.6 1562.9,294.1 1563.3,300.9 1564.2,317.5 1564.6,295.8 1565.0,313.4 1565.9,310.5 1566.3,313.8 1567.2,317.7 1568.0,305.5 1568.9,307.7 1569.3,314.0 1569.7,311.9 1570.1,303.5 1571.0,310.2 1571.9,294.3 1572.3,322.6 1572.7,309.8 1574.0,319.5 1574.4,305.1 1575.3,309.4 1575.7,314.5 1576.1,312.0 1577.0,305.0 1577.4,318.5 1577.8,314.9 1579.1,311.7 1579.5,307.3 1580.0,292.5 1580.8,313.3 1581.7,312.3 1582.1,303.8 1582.5,310.8 1583.4,318.3 1583.8,314.1 1584.2,308.3 1585.5,310.9 1586.0,296.9 1586.8,296.5 1587.2,310.5 1587.7,310.8 1588.1,297.2 1588.9,312.0 1589.4,320.6 1590.7,315.3 1591.1,312.2 1591.5,301.3 1592.4,316.9 1592.8,311.5 1593.6,318.8 1594.1,307.5 1594.5,300.5 1595.8,308.5 1596.2,297.1 1596.6,317.3 1597.1,303.4 1597.9,300.9 1598.8,311.5 1599.2,288.7 1600.1,314.8 1600.5,317.8 1601.3,304.4 1601.8,315.4 1602.2,304.6 1603.0,307.4 1603.5,313.9 1604.3,303.4 1605.2,308.0 1605.6,318.0 1606.0,307.6 1606.9,311.0 1607.3,317.2 1608.6,317.7 1609.0,306.0 1609.5,299.6 1610.3,314.1 1610.7,313.6 1611.6,309.5 1612.0,306.8 1612.5,309.7 1613.7,304.7 1614.2,308.9 1614.6,315.5 1615.4,310.1 1615.9,317.0 1616.3,306.9 1617.2,307.8 1618.0,316.4 1618.4,310.6 1619.3,313.8 1620.1,295.7 1620.6,319.0 1621.4,311.1 1621.9,304.1 1622.3,301.5 1622.7,310.2 1623.6,310.9 1624.4,293.8 1625.3,321.9 1625.7,297.8 1626.1,321.6 1626.6,307.6 1627.8,299.0 1628.3,319.0 1629.1,303.7 1629.5,320.3 1630.4,314.5 1630.8,311.1 1631.7,295.4 1632.1,314.5 1632.5,321.1 1633.4,299.6 1633.8,321.4 1634.2,307.5 1635.5,305.1 1636.0,313.8 1636.4,299.8 1636.8,314.9 1637.7,298.5 1638.5,310.6 1638.9,300.1 1639.4,315.4 1640.7,316.8 1641.1,293.4 1641.9,311.3 1642.4,318.3 1642.8,314.2 1643.2,303.2 1644.5,308.2 1644.9,313.8 1645.8,300.5 1646.2,321.5 1646.6,314.5 1647.1,285.0 1647.9,300.8 1648.3,306.7 1649.2,306.6 1650.1,315.2 1650.9,316.4 1651.3,313.3 1652.2,303.7 1652.6,313.9 1653.0,311.1 1653.9,296.5 1654.3,318.0 1654.8,307.1 1656.0,313.1 1656.5,301.3 1656.9,313.1 1657.7,309.2 1658.2,321.2 1659.0,302.3 1659.5,303.3 1660.3,310.0 1661.2,293.2 1661.6,308.4 1662.0,311.4 1662.9,303.8 1663.3,303.7 1663.7,292.5 1664.6,296.8 1665.4,301.6 1665.9,289.8 1666.3,304.0 1667.1,298.1 1667.6,306.3 1668.4,299.5 1669.3,282.5 1670.1,313.6 1670.6,298.2 1671.0,295.8 1671.4,314.5 1672.3,305.6 1673.1,299.3 1674.0,294.6 1674.4,312.9 1674.8,301.2 1675.7,309.0 1676.6,302.7 1677.0,306.4 1677.8,309.2 1678.3,298.1 1678.7,310.4 1679.1,305.4 1680.0,309.0 1680.4,298.0 1681.3,306.1 1681.7,304.9 1682.5,311.0 1683.4,305.3 1683.8,312.5 1684.2,300.6 1685.5,308.3 1686.0,290.7 1686.4,301.5 1686.8,299.7 1687.7,305.3 1688.1,312.3 1688.9,299.0 1689.8,310.7 1690.2,312.0 1691.1,303.8 1691.5,299.1 1692.4,309.8 1692.8,298.3 1693.6,309.7 1694.5,301.9 1694.9,311.5 1695.4,308.2 1695.8,297.2 1697.1,299.9 1697.5,305.9 1697.9,278.6 1698.8,291.3 1699.2,301.8 1700.1,281.4 1700.9,292.4 1701.3,277.6 1701.8,275.3 1702.2,281.7 1703.0,255.7 1703.5,281.0 1704.3,263.0 1704.8,255.7 1706.0,258.5 1706.5,240.2 1706.9,249.0 1707.7,221.6 1708.2,232.3 1709.0,193.0 1709.9,228.3 1710.3,214.8 1710.7,217.4 1711.6,197.7 1712.0,204.9 1712.9,220.8 1713.3,240.1 1713.7,225.2 1715.0,238.4 1715.4,250.6 1715.9,223.3 1716.7,250.9 1717.1,272.5 1717.6,278.6 1718.4,281.8 1719.3,275.1 1719.7,268.1 1720.1,291.6 1721.0,284.2 1721.8,300.8 1722.7,309.6 1723.1,300.7 1723.6,303.7 1724.0,283.1 1724.8,306.5 1725.3,296.1 1726.1,294.7 1726.5,309.1 1727.4,301.4 1728.3,310.1 1728.7,297.1 1729.1,310.6 1730.0,302.8 1730.4,307.3 1731.2,299.4 1732.1,304.0 1733.0,294.3 1733.4,309.8 1733.8,308.1 1734.7,295.2 1735.5,312.1 1735.9,297.6 1736.4,306.0 1737.2,315.0 1738.1,297.9 1738.5,312.8 1738.9,310.2 1739.4,308.1 1740.7,312.5 1741.1,298.0 1741.5,307.5 1742.4,312.6 1743.2,303.0 1743.6,302.7 1744.1,306.7 1744.9,313.1 1745.4,310.0 1745.8,317.6 1746.6,310.1 1747.1,316.6 1747.9,316.4 1748.8,298.0 1749.2,296.6 1749.6,315.5 1750.5,320.6 1750.9,305.0 1752.2,314.1 1752.6,309.4 1753.0,316.9 1753.9,302.9 1754.3,316.1 1754.8,285.9 1756.0,292.8 1756.5,311.0 1756.9,303.3 1757.7,314.1 1758.2,306.9 1759.0,316.6 1759.9,313.3 1760.3,301.1 1761.2,314.3 1761.6,305.0 1762.0,301.9 1762.4,311.5 1763.3,299.4 1764.2,314.4 1764.6,319.6 1765.0,306.5 1765.9,317.0 1766.3,307.2 1767.6,310.9 1768.0,305.2 1768.9,312.3 1769.3,307.0 1769.7,313.7 1770.1,303.2 1771.0,303.6 1771.8,311.0 1772.7,311.1 1773.1,310.1 1773.6,310.9 1774.4,303.9 1774.8,313.3 1775.3,307.1 1776.5,302.8 1777.0,317.5 1777.4,301.1 1778.3,308.1 1778.7,313.2 1779.1,303.6 1780.4,307.5 1780.8,316.9 1781.2,307.4 1782.1,315.9 1782.5,321.4 1783.4,307.9 1783.8,307.2 1784.7,314.5 1785.1,319.9 1785.9,304.4 1786.4,299.0 1787.2,317.4 1787.7,320.2 1788.1,311.2 1789.4,317.1 1789.8,303.8 1790.2,289.8 1790.6,310.8 1791.9,303.4 1792.4,311.0 1792.8,301.0 1793.2,316.6 1794.5,312.6 1794.9,303.8 1795.3,304.0 1795.8,305.0 1796.6,306.3 1797.1,314.7 1797.9,322.3 1798.8,307.3 1799.2,307.7 1800.0,313.3 1800.5,300.3 1801.3,313.7 1801.8,301.2 1802.6,306.7 1803.0,306.9 1803.5,320.9 1804.8,307.0 1805.2,314.8 1805.6,309.8 1806.5,299.3 1807.3,309.7 1807.7,318.3 1808.6,311.1 1809.0,320.3 1809.5,314.0 1809.9,303.6 1810.7,317.0 1811.6,310.1 1812.4,307.0 1812.9,312.0 1813.3,311.0 1814.2,314.5 1814.6,321.3 1815.4,307.8 1816.3,304.2 1816.7,317.9 1817.6,303.7 1818.0,313.7 1818.9,314.0 1819.3,310.0 1819.7,300.6 1820.6,318.3 1821.0,290.3 1821.4,306.9 1822.3,306.0 1822.7,300.6 1823.6,315.3 1824.0,307.0 1825.3,304.2 1825.7,323.3 1826.5,304.3 1827.0,310.7 1827.4,311.0 1827.8,319.2 1828.7,313.5 1829.1,292.8 1830.0,315.0 1830.4,300.5 1831.7,308.8 1832.1,322.1 1832.5,310.3 1833.4,318.5 1833.8,307.3 1834.2,321.7 1835.1,306.6 1835.5,311.0 1836.8,311.5 1837.2,306.5 1838.1,321.4 1838.5,300.0 1839.4,315.7 1839.8,307.6 1840.2,300.1 1841.1,307.8 1841.9,308.0 1842.4,314.9 1842.8,278.6 1843.2,284.6 1844.1,315.3 1844.9,303.8 1845.3,300.1 1845.8,287.5 1846.6,319.1 1847.1,310.0 1847.9,306.9 1848.3,317.2 1849.6,306.1 1850.0,309.9 1850.9,314.9 1851.3,306.4 1852.2,314.4 1852.6,300.0 1853.0,309.7 1853.9,317.9 1854.7,315.4 1855.2,307.3 1856.0,311.5 1856.5,316.6 1856.9,315.9 1857.3,300.5 1858.6,313.5 1859.0,306.8 1859.4,307.0 1860.3,295.9 1861.2,299.6 1861.6,311.0 1862.4,296.1 1862.9,310.2 1863.3,311.8 1863.7,299.6 1865.0,310.1 1865.4,318.8 1865.9,304.5 1866.7,313.9 1867.1,315.8 1867.6,306.5 1868.4,311.7 1868.9,303.6 1870.1,300.1 1870.6,308.9 1871.0,313.6 1871.4,300.1 1872.7,317.5 1873.1,311.4 1873.6,321.0 1874.0,307.9 1874.8,314.5 1875.7,306.8 1876.1,302.8 1876.5,320.5 1877.8,320.3 1878.3,294.0 1878.7,315.3 1879.5,301.4 1880.0,306.9 1880.4,315.2 1881.2,303.7 1882.1,311.6 1882.5,308.2 1883.4,315.1 1884.2,297.2 1884.7,319.5 1885.5,316.0 1885.9,319.0 1886.4,311.5 1886.8,300.5 1888.1,314.5 1888.5,310.7 1888.9,301.0 1889.4,315.1 1890.6,303.2 1891.1,315.2 1891.9,291.1 1892.4,310.7 1892.8,300.4 1893.6,315.1 1894.5,313.8 1894.9,300.4 1895.8,304.2 1896.2,315.7 1896.6,301.4 1897.5,307.6 1897.9,314.1 1898.8,307.2 1899.2,314.7 1899.6,293.2 1900.9,300.5 1901.3,315.0 1902.2,314.3 1902.6,311.8 1903.0,300.5 1903.9,314.7 1904.7,303.0 1905.2,310.6 1906.0,310.9 1906.5,313.1 1906.9,315.1 1907.3,310.2 1908.2,312.4 1909.0,303.9 1909.9,315.2 1910.3,301.2 1910.7,311.9 1911.2,308.5 1912.4,314.3 1912.9,310.9 1913.7,317.4 1914.1,301.1 1914.6,314.6 1915.4,304.0 1915.9,318.5 1916.7,307.0 1917.6,305.1 1918.0,317.9 1918.4,314.0 1918.8,299.9 1920.1,307.9 1920.6,319.0 1921.4,300.4 1921.8,307.3 1922.7,308.3 1923.1,311.2 1924.0,305.3 1924.4,303.8 1924.8,305.6 1925.3,314.9 1926.5,310.6 1927.0,296.7 1927.4,318.3 1928.2,302.6 1928.7,311.3 1929.1,318.6 1930.0,297.2 1930.8,304.7 1931.7,304.5 1932.1,320.4 1932.5,313.9 1933.0,307.4 1933.8,310.9 1934.2,297.9 1935.1,315.0 1935.9,307.6 1936.4,303.9 1937.2,306.9 1937.7,321.4 1938.1,311.8 1939.4,321.3 1939.8,307.0 1940.2,315.0 1941.1,297.1 1941.5,314.6 1941.9,313.0 1942.8,319.0 1943.2,311.1 1944.5,297.6 1944.9,312.0 1945.3,307.1 1945.8,301.1 1947.1,308.2 1947.5,315.0 1947.9,312.9 1948.8,310.6 1949.6,307.6 1950.0,314.0 1950.5,315.2 1951.3,302.4 1951.8,317.9 1952.2,290.4 1953.0,306.4 1953.5,315.6 1954.3,304.9 1954.7,311.8 1955.6,293.1 1956.5,313.5 1956.9,315.5 1957.3,304.1 1958.6,310.2 1959.0,318.1 1959.9,302.4 1960.3,309.1 1961.2,319.0 1961.6,300.4 1962.0,307.1 1962.4,300.7 1963.3,301.1 1964.1,307.7 1964.6,308.8 1965.0,316.2 1965.9,299.4 1966.7,314.3 1967.6,303.4 1968.0,321.8 1968.4,306.6 1969.3,311.5 1970.1,307.1 1970.6,293.7 1971.0,307.0 1971.8,319.1 1972.3,302.6 1972.7,317.6 1973.5,308.9 1974.4,301.5 1974.8,299.6 1975.7,303.2 1976.5,308.6 1977.0,318.1 1977.4,315.7 1977.8,290.6 1978.7,302.6 1979.1,315.6 1980.0,316.3 1980.8,301.4 1981.2,310.4 1981.7,320.9 1982.5,318.9 1983.4,304.0 1983.8,298.2 1984.7,318.2 1985.1,318.7 1985.5,315.5 1986.8,303.8 1987.2,314.9 1988.1,318.7 1988.5,307.1 1989.4,312.6 1989.8,307.6 1990.2,307.3 1990.6,311.7 1991.5,315.1 1992.3,308.0 1992.8,321.7 1993.6,309.9 1994.1,315.9 1994.9,308.6 1995.8,308.3 1996.2,307.6 1996.6,321.2 1997.5,306.7 1998.3,311.0 1998.8,321.6 1999.2,304.7 1999.6,314.2 2000.5,318.5 2001.3,310.6 2002.2,303.2 2002.6,314.0 2003.0,305.1 2003.5,316.3 2004.3,297.7 2005.2,315.2 2005.6,310.0 2006.5,302.6 2006.9,317.5 2007.7,310.8 2008.2,317.0 2008.6,312.6 2009.4,307.8 2009.9,322.1 2010.7,315.4 2011.2,309.8 2012.0,297.8 2012.9,310.7 2013.3,314.5 2014.1,299.2 2015.0,297.2 2015.4,314.0 2015.9,311.4 2016.7,306.0 2017.1,318.7 2018.0,304.5 2018.4,306.4 2018.8,319.3 2020.1,321.7 2020.6,311.9 2021.4,296.4 2021.8,312.8 2022.3,312.9 2023.1,321.3 2024.0,307.7 2024.4,315.6 2024.8,310.5 2025.3,319.2 2026.5,314.6 2027.0,310.3 2027.4,307.3 2027.8,315.9 2028.7,298.1 2029.5,309.9 2030.0,306.7 2030.4,316.4 2031.2,306.5 2031.7,313.9 2032.9,307.4 2033.4,306.2 2034.2,305.4 2034.7,311.8 2035.1,320.4 2035.5,304.4 2036.4,311.8 2037.2,304.2 2037.6,310.2 2038.5,296.4 2039.4,314.2 2039.8,298.2 2040.2,307.8 2040.6,314.7 2041.5,311.9 2042.3,304.6 2043.2,308.7 2043.6,313.5 2044.1,311.0 2044.5,314.5 2045.3,307.6 2045.8,316.5 2046.6,308.3 2047.0,320.9 2048.3,307.2 2048.8,302.7 2049.2,314.7 2049.6,308.0 2050.5,320.0 2050.9,304.7 2051.7,307.8 2052.6,303.4 2053.0,314.8 2053.5,303.9 2054.7,322.0 2055.2,302.9 2055.6,317.3 2056.0,306.2 2056.9,317.7 2057.3,307.1 2058.6,294.5 2059.0,315.1 2059.9,311.5 2060.3,306.6 2061.2,309.9 2061.6,313.8 2062.0,312.6 2062.4,302.0 2063.3,302.6 2063.7,304.3 2065.0,320.0 2065.4,275.8 2066.3,301.6 2066.7,313.4 2067.1,304.8 2067.6,312.6 2068.8,315.8 2069.3,308.0 2069.7,302.3 2070.6,317.3 2071.0,288.4 2071.4,317.4 2072.7,314.8 2073.1,307.0 2074.0,304.2 2074.4,317.8 2075.3,299.3 2075.7,314.3 2076.1,316.2 2076.5,303.3 2077.8,311.7 2078.2,310.7 2078.7,303.8 2079.5,308.0 2080.4,310.3 2080.8,304.9 2081.2,303.2 2081.7,307.7 2082.9,311.0 2083.4,314.3 2083.8,311.4 2084.2,318.7 2085.1,314.8 2085.9,307.4 2086.4,319.4 2087.2,304.1 2087.6,313.9 2088.5,317.9"/>
<polyline class="c" stroke="#000" stroke-width="3.0" stroke-linejoin="round" points="165.5,308.4 166.8,307.1 168.1,307.1 169.3,308.1 170.6,306.0 171.9,307.9 173.2,308.2 174.5,309.2 175.8,309.8 177.0,311.3 178.3,311.6 179.6,312.5 180.9,312.1 182.2,310.7 183.4,310.3 184.7,308.3 186.0,309.0 187.3,308.7 188.6,307.5 189.9,306.9 191.1,308.6 192.4,308.9 193.7,308.0 195.0,309.1 196.3,310.1 197.5,308.5 198.8,309.7 200.1,312.8 201.4,314.1 202.7,315.2 204.0,316.5 205.2,315.1 206.5,313.3 207.8,312.9 209.1,312.1 210.4,311.0 211.7,313.0 212.9,312.0 214.2,311.2 215.5,310.3 216.8,310.7 218.1,310.3 219.3,310.1 220.6,309.9 221.9,308.7 223.2,311.1 224.5,309.4 225.8,310.5 227.0,313.2 228.3,314.6 229.6,312.5 230.9,313.5 232.2,313.0 233.4,310.3 234.7,310.4 236.0,310.8 237.3,309.3 238.6,310.6 239.9,310.7 241.1,309.0 242.4,308.7 243.7,309.0 245.0,308.1 246.3,307.8 247.5,310.5 248.8,312.1 250.1,313.3 251.4,313.9 252.7,313.8 254.0,311.0 255.2,308.8 256.5,306.8 257.8,306.6 259.1,308.0 260.4,310.8 261.6,310.3 262.9,311.0 264.2,310.6 265.5,311.4 266.8,310.9 268.1,311.5 269.3,312.1 270.6,311.0 271.9,309.5 273.2,309.2 274.5,310.8 275.8,310.8 277.0,310.3 278.3,308.6 279.6,308.6 280.9,307.0 282.2,307.7 283.4,309.0 284.7,313.6 286.0,313.5 287.3,315.8 288.6,313.7 289.9,314.3 291.1,311.1 292.4,310.5 293.7,310.1 295.0,310.9 296.3,309.4 297.5,309.7 298.8,309.2 300.1,306.8 301.4,306.9 302.7,308.0 304.0,309.8 305.2,311.1 306.5,312.9 307.8,312.8 309.1,311.3 310.4,309.8 311.6,308.0 312.9,309.5 314.2,310.0 315.5,312.4 316.8,311.5 318.1,311.3 319.3,307.9 320.6,307.4 321.9,305.1 323.2,304.3 324.5,306.0 325.7,305.5 327.0,306.6 328.3,309.0 329.6,310.1 330.9,308.8 332.2,310.0 333.4,310.3 334.7,308.4 336.0,309.2 337.3,307.5 338.6,307.5 339.9,306.5 341.1,307.6 342.4,306.7 343.7,307.5 345.0,308.5 346.3,309.3 347.5,310.6 348.8,311.2 350.1,311.3 351.4,311.8 352.7,311.8 354.0,310.7 355.2,310.9 356.5,313.3 357.8,312.5 359.1,313.2 360.4,312.3 361.6,311.1 362.9,309.6 364.2,311.1 365.5,308.7 366.8,308.3 368.1,308.1 369.3,309.7 370.6,308.5 371.9,309.1 373.2,308.1 374.5,310.1 375.7,309.0 377.0,308.0 378.3,309.0 379.6,310.3 380.9,309.9 382.2,308.9 383.4,310.9 384.7,310.3 386.0,311.1 387.3,310.7 388.6,312.8 389.8,314.1 391.1,312.9 392.4,311.8 393.7,311.3 395.0,310.4 396.3,307.3 397.5,309.0 398.8,309.6 400.1,308.6 401.4,309.2 402.7,310.3 404.0,308.2 405.2,308.8 406.5,309.9 407.8,309.5 409.1,308.1 410.4,309.2 411.6,308.6 412.9,309.8 414.2,310.5 415.5,311.0 416.8,309.9 418.1,311.7 419.3,310.9 420.6,309.5 421.9,310.2 423.2,311.7 424.5,310.1 425.7,309.2 427.0,308.1 428.3,307.9 429.6,307.8 430.9,307.3 432.2,307.9 433.4,309.5 434.7,311.2 436.0,311.4 437.3,312.9 438.6,313.4 439.8,313.0 441.1,310.5 442.4,311.0 443.7,310.4 445.0,310.3 446.3,311.7 447.5,310.8 448.8,308.7 450.1,308.4 451.4,306.6 452.7,304.9 453.9,307.4 455.2,308.2 456.5,307.4 457.8,308.8 459.1,310.9 460.4,310.4 461.6,313.5 462.9,314.2 464.2,314.6 465.5,314.3 466.8,314.9 468.1,311.4 469.3,312.8 470.6,311.7 471.9,310.4 473.2,307.7 474.5,310.3 475.7,308.7 477.0,308.4 478.3,308.9 479.6,311.7 480.9,312.1 482.2,313.0 483.4,313.2 484.7,311.6 486.0,310.2 487.3,307.5 488.6,305.9 489.8,306.3 491.1,308.5 492.4,307.9 493.7,309.7 495.0,310.6 496.3,310.4 497.5,308.5 498.8,309.3 500.1,307.3 501.4,305.9 502.7,305.8 503.9,306.8 505.2,306.4 506.5,307.5 507.8,308.8 509.1,309.1 510.4,308.0 511.6,308.3 512.9,307.6 514.2,307.4 515.5,307.9 516.8,309.9 518.0,309.5 519.3,310.3 520.6,310.3 521.9,309.5 523.2,307.8 524.5,307.5 525.7,307.9 527.0,309.7 528.3,311.0 529.6,311.8 530.9,312.3 532.2,310.5 533.4,308.7 534.7,307.0 536.0,307.3 537.3,308.6 538.6,309.0 539.8,310.4 541.1,313.2 542.4,313.4 543.7,312.0 545.0,311.8 546.3,310.7 547.5,308.4 548.8,307.9 550.1,309.7 551.4,311.8 552.7,313.4 553.9,314.5 555.2,316.5 556.5,316.3 557.8,316.0 559.1,313.6 560.4,312.9 561.6,311.3 562.9,309.7 564.2,309.2 565.5,307.5 566.8,309.6 568.0,311.1 569.3,313.2 570.6,314.3 571.9,317.2 573.2,314.8 574.5,313.1 575.7,311.5 577.0,310.3 578.3,309.8 579.6,311.6 580.9,310.8 582.1,310.6 583.4,310.3 584.7,309.9 586.0,308.5 587.3,308.4 588.6,309.2 589.8,309.0 591.1,311.0 592.4,313.5 593.7,314.6 595.0,313.4 596.3,313.4 597.5,311.6 598.8,308.8 600.1,310.1 601.4,311.1 602.7,311.7 603.9,312.8 605.2,313.3 606.5,311.1 607.8,310.3 609.1,310.0 610.4,307.0 611.6,307.3 612.9,307.8 614.2,306.9 615.5,305.3 616.8,308.3 618.0,309.3 619.3,308.1 620.6,308.2 621.9,309.1 623.2,308.4 624.5,306.9 625.7,309.4 627.0,311.6 628.3,310.9 629.6,311.8 630.9,312.6 632.1,310.6 633.4,309.2 634.7,311.7 636.0,311.0 637.3,310.2 638.6,311.1 639.8,309.7 641.1,308.6 642.4,306.1 643.7,306.6 645.0,305.0 646.2,306.3 647.5,306.3 648.8,309.5 650.1,309.1 651.4,310.3 652.7,310.5 653.9,311.1 655.2,310.8 656.5,312.3 657.8,312.5 659.1,312.0 660.4,311.8 661.6,312.0 662.9,311.9 664.2,312.9 665.5,315.3 666.8,315.3 668.0,314.9 669.3,314.5 670.6,311.6 671.9,309.2 673.2,307.5 674.5,306.8 675.7,306.2 677.0,308.7 678.3,311.3 679.6,314.1 680.9,314.5 682.1,314.3 683.4,311.4 684.7,309.8 686.0,309.8 687.3,309.8 688.6,309.7 689.8,313.0 691.1,313.3 692.4,311.4 693.7,310.9 695.0,311.0 696.2,309.8 697.5,309.4 698.8,308.5 700.1,307.8 701.4,307.9 702.7,307.5 703.9,307.5 705.2,308.8 706.5,309.3 707.8,309.3 709.1,307.4 710.3,307.0 711.6,306.6 712.9,304.9 714.2,306.0 715.5,308.2 716.8,307.2 718.0,307.4 719.3,309.5 720.6,309.4 721.9,309.4 723.2,311.3 724.5,310.5 725.7,309.9 727.0,309.4 728.3,308.3 729.6,308.6 730.9,310.4 732.1,310.2 733.4,309.6 734.7,311.8 736.0,311.5 737.3,310.9 738.6,312.3 739.8,312.3 741.1,311.3 742.4,310.2 743.7,310.0 745.0,309.0 746.2,309.6 747.5,309.1 748.8,309.3 750.1,308.5 751.4,308.5 752.7,308.5 753.9,308.9 755.2,308.0 756.5,308.9 757.8,309.1 759.1,307.2 760.3,306.5 761.6,307.1 762.9,307.6 764.2,308.5 765.5,309.8 766.8,308.3 768.0,310.7 769.3,311.4 770.6,310.0 771.9,310.0 773.2,313.0 774.4,310.3 775.7,308.5 777.0,309.5 778.3,309.8 779.6,309.3 780.9,309.8 782.1,310.6 783.4,311.2 784.7,311.8 786.0,310.9 787.3,310.0 788.6,309.8 789.8,309.6 791.1,308.5 792.4,307.7 793.7,309.1 795.0,306.8 796.2,306.4 797.5,305.0 798.8,305.3 800.1,306.4 801.4,307.2 802.7,306.3 803.9,307.7 805.2,308.9 806.5,306.6 807.8,307.5 809.1,306.6 810.3,304.5 811.6,301.2 812.9,298.8 814.2,295.5 815.5,293.0 816.8,291.8 818.0,291.5 819.3,286.3 820.6,281.2 821.9,271.8 823.2,261.2 824.4,243.0 825.7,225.3 827.0,208.2 828.3,194.8 829.6,189.1 830.9,196.1 832.1,213.4 833.4,234.9 834.7,252.3 836.0,265.5 837.3,276.2 838.5,280.8 839.8,281.2 841.1,285.3 842.4,289.4 843.7,286.7 845.0,290.3 846.2,289.9 847.5,287.7 848.8,280.2 850.1,280.1 851.4,274.1 852.7,277.7 853.9,281.9 855.2,287.5 856.5,294.0 857.8,300.6 859.1,300.9 860.3,302.9 861.6,305.3 862.9,304.6 864.2,304.1 865.5,303.7 866.8,300.1 868.0,299.2 869.3,299.2 870.6,299.1 871.9,299.9 873.2,302.6 874.4,304.8 875.7,305.5 877.0,303.9 878.3,306.5 879.6,306.3 880.9,304.6 882.1,306.4 883.4,309.9 884.7,308.7 886.0,308.1 887.3,309.6 888.5,307.7 889.8,305.5 891.1,304.5 892.4,303.2 893.7,301.3 895.0,301.7 896.2,300.0 897.5,296.9 898.8,297.7 900.1,292.2 901.4,279.8 902.6,260.3 903.9,225.7 905.2,174.3 906.5,143.0 907.8,162.3 909.1,205.4 910.3,246.5 911.6,280.7 912.9,295.8 914.2,303.1 915.5,308.1 916.8,306.0 918.0,301.2 919.3,300.6 920.6,299.6 921.9,300.8 923.2,305.2 924.4,307.4 925.7,306.4 927.0,305.3 928.3,302.2 929.6,301.1 930.9,303.2 932.1,303.4 933.4,300.9 934.7,300.0 936.0,295.9 937.3,291.0 938.5,287.9 939.8,284.8 941.1,280.1 942.4,275.6 943.7,267.0 945.0,263.5 946.2,263.8 947.5,266.2 948.8,271.0 950.1,278.5 951.4,284.7 952.6,286.4 953.9,288.9 955.2,291.3 956.5,293.2 957.8,294.2 959.1,298.2 960.3,301.6 961.6,303.6 962.9,307.5 964.2,308.4 965.5,310.6 966.7,308.5 968.0,308.5 969.3,307.5 970.6,308.0 971.9,306.7 973.2,307.2 974.4,306.8 975.7,306.2 977.0,306.8 978.3,305.8 979.6,307.2 980.9,308.4 982.1,309.1 983.4,310.2 984.7,312.2 986.0,313.2 987.3,314.8 988.5,315.3 989.8,312.0 991.1,310.7 992.4,309.4 993.7,308.4 995.0,306.2 996.2,307.8 997.5,307.1 998.8,306.7 1000.1,305.7 1001.4,305.2 1002.6,306.2 1003.9,307.3 1005.2,307.9 1006.5,308.4 1007.8,309.8 1009.1,306.8 1010.3,306.7 1011.6,306.9 1012.9,307.3 1014.2,308.4 1015.5,312.3 1016.7,311.4 1018.0,310.2 1019.3,309.4 1020.6,307.1 1021.9,306.3 1023.2,306.8 1024.4,308.2 1025.7,307.5 1027.0,308.7 1028.3,307.0 1029.6,305.5 1030.8,306.7 1032.1,307.8 1033.4,307.7 1034.7,309.1 1036.0,310.4 1037.3,311.1 1038.5,312.1 1039.8,312.8 1041.1,314.0 1042.4,312.3 1043.7,308.8 1045.0,306.7 1046.2,305.7 1047.5,303.1 1048.8,305.4 1050.1,307.5 1051.4,310.6 1052.6,310.5 1053.9,311.6 1055.2,313.2 1056.5,313.8 1057.8,311.4 1059.1,313.8 1060.3,314.2 1061.6,314.4 1062.9,314.0 1064.2,314.6 1065.5,315.3 1066.7,315.6 1068.0,313.1 1069.3,312.9 1070.6,311.4 1071.9,308.2 1073.2,306.3 1074.4,307.8 1075.7,308.2 1077.0,309.2 1078.3,309.3 1079.6,310.7 1080.8,309.1 1082.1,308.1 1083.4,307.1 1084.7,304.2 1086.0,297.5 1087.3,292.4 1088.5,288.9 1089.8,291.5 1091.1,296.2 1092.4,300.7 1093.7,304.9 1094.9,306.2 1096.2,306.5 1097.5,306.4 1098.8,307.2 1100.1,307.2 1101.4,308.7 1102.6,309.3 1103.9,312.8 1105.2,314.1 1106.5,314.1 1107.8,314.2 1109.1,315.3 1110.3,313.9 1111.6,313.4 1112.9,313.5 1114.2,311.7 1115.5,310.8 1116.7,309.9 1118.0,308.9 1119.3,308.4 1120.6,309.6 1121.9,308.5 1123.2,307.5 1124.4,308.5 1125.7,309.7 1127.0,310.3 1128.3,310.8 1129.6,313.3 1130.8,313.4 1132.1,312.2 1133.4,313.1 1134.7,312.4 1136.0,311.1 1137.3,312.3 1138.5,313.2 1139.8,311.4 1141.1,311.2 1142.4,310.7 1143.7,309.1 1144.9,308.3 1146.2,307.2 1147.5,307.3 1148.8,309.0 1150.1,309.2 1151.4,308.5 1152.6,310.1 1153.9,310.9 1155.2,308.8 1156.5,309.7 1157.8,309.0 1159.0,308.7 1160.3,308.1 1161.6,308.5 1162.9,307.7 1164.2,307.6 1165.5,307.4 1166.7,306.9 1168.0,306.6 1169.3,304.5 1170.6,306.5 1171.9,306.8 1173.2,309.0 1174.4,310.6 1175.7,312.4 1177.0,313.1 1178.3,313.2 1179.6,311.3 1180.8,309.8 1182.1,310.5 1183.4,309.3 1184.7,308.6 1186.0,308.3 1187.3,309.1 1188.5,308.5 1189.8,307.8 1191.1,308.6 1192.4,309.7 1193.7,309.2 1194.9,308.1 1196.2,309.1 1197.5,308.9 1198.8,308.9 1200.1,309.8 1201.4,311.4 1202.6,310.9 1203.9,312.3 1205.2,313.1 1206.5,313.5 1207.8,313.6 1209.0,314.2 1210.3,313.3 1211.6,312.2 1212.9,310.0 1214.2,308.8 1215.5,308.9 1216.7,308.1 1218.0,310.0 1219.3,310.6 1220.6,310.7 1221.9,310.3 1223.1,310.5 1224.4,308.6 1225.7,308.4 1227.0,309.6 1228.3,310.0 1229.6,311.6 1230.8,312.7 1232.1,313.9 1233.4,313.4 1234.7,312.2 1236.0,312.0 1237.3,312.4 1238.5,312.1 1239.8,313.6 1241.1,314.3 1242.4,313.5 1243.7,312.5 1244.9,311.5 1246.2,309.4 1247.5,309.5 1248.8,308.8 1250.1,308.9 1251.4,308.6 1252.6,310.9 1253.9,310.9 1255.2,311.8 1256.5,311.9 1257.8,311.9 1259.0,310.0 1260.3,309.7 1261.6,309.6 1262.9,309.4 1264.2,310.2 1265.5,311.3 1266.7,310.8 1268.0,310.6 1269.3,312.9 1270.6,313.3 1271.9,311.9 1273.1,312.0 1274.4,311.5 1275.7,309.6 1277.0,308.8 1278.3,308.7 1279.6,310.9 1280.8,311.6 1282.1,311.5 1283.4,312.2 1284.7,312.0 1286.0,309.3 1287.2,308.5 1288.5,308.9 1289.8,307.3 1291.1,308.8 1292.4,309.8 1293.7,308.1 1294.9,307.1 1296.2,308.2 1297.5,307.4 1298.8,306.1 1300.1,305.3 1301.4,305.6 1302.6,306.3 1303.9,305.2 1305.2,304.5 1306.5,306.9 1307.8,307.9 1309.0,307.4 1310.3,309.2 1311.6,310.0 1312.9,310.6 1314.2,309.3 1315.5,309.5 1316.7,308.0 1318.0,310.7 1319.3,310.2 1320.6,310.5 1321.9,310.2 1323.1,312.3 1324.4,309.0 1325.7,309.9 1327.0,309.5 1328.3,310.2 1329.6,308.8 1330.8,310.3 1332.1,310.9 1333.4,311.5 1334.7,308.5 1336.0,307.4 1337.2,302.6 1338.5,296.3 1339.8,285.9 1341.1,287.6 1342.4,292.7 1343.7,300.4 1344.9,303.1 1346.2,309.3 1347.5,309.5 1348.8,308.6 1350.1,308.9 1351.3,310.5 1352.6,309.0 1353.9,308.0 1355.2,306.4 1356.5,305.2 1357.8,306.2 1359.0,305.4 1360.3,305.5 1361.6,307.5 1362.9,308.0 1364.2,305.3 1365.5,306.8 1366.7,309.0 1368.0,309.5 1369.3,309.5 1370.6,311.1 1371.9,311.4 1373.1,311.4 1374.4,310.6 1375.7,312.2 1377.0,311.8 1378.3,311.8 1379.6,309.2 1380.8,308.6 1382.1,305.2 1383.4,305.4 1384.7,305.4 1386.0,306.1 1387.2,308.0 1388.5,310.4 1389.8,308.2 1391.1,306.0 1392.4,304.0 1393.7,301.6 1394.9,299.7 1396.2,298.7 1397.5,295.7 1398.8,293.6 1400.1,289.8 1401.3,288.9 1402.6,290.8 1403.9,294.3 1405.2,297.8 1406.5,303.4 1407.8,306.4 1409.0,309.0 1410.3,309.3 1411.6,310.0 1412.9,310.0 1414.2,308.6 1415.4,307.1 1416.7,307.9 1418.0,307.7 1419.3,306.6 1420.6,308.7 1421.9,309.6 1423.1,310.9 1424.4,311.0 1425.7,311.5 1427.0,309.6 1428.3,309.6 1429.6,309.4 1430.8,308.9 1432.1,308.0 1433.4,310.3 1434.7,308.5 1436.0,308.0 1437.2,307.5 1438.5,307.8 1439.8,306.9 1441.1,308.0 1442.4,307.4 1443.7,311.7 1444.9,311.3 1446.2,310.8 1447.5,309.5 1448.8,312.0 1450.1,307.7 1451.3,307.9 1452.6,308.2 1453.9,306.1 1455.2,301.0 1456.5,301.9 1457.8,301.7 1459.0,298.3 1460.3,297.2 1461.6,296.2 1462.9,294.1 1464.2,289.0 1465.4,289.5 1466.7,289.2 1468.0,288.4 1469.3,287.9 1470.6,291.8 1471.9,292.6 1473.1,295.6 1474.4,295.8 1475.7,297.1 1477.0,298.8 1478.3,297.7 1479.5,297.8 1480.8,300.6 1482.1,300.1 1483.4,299.9 1484.7,300.3 1486.0,302.3 1487.2,303.9 1488.5,306.2 1489.8,306.7 1491.1,308.7 1492.4,309.5 1493.7,309.5 1494.9,310.5 1496.2,311.3 1497.5,310.0 1498.8,309.8 1500.1,310.3 1501.3,309.8 1502.6,310.1 1503.9,311.8 1505.2,312.5 1506.5,310.5 1507.8,310.7 1509.0,310.3 1510.3,308.8 1511.6,308.1 1512.9,308.0 1514.2,307.4 1515.4,306.4 1516.7,305.8 1518.0,306.7 1519.3,307.4 1520.6,308.3 1521.9,309.1 1523.1,311.8 1524.4,310.8 1525.7,312.5 1527.0,313.5 1528.3,312.9 1529.5,312.2 1530.8,311.0 1532.1,309.7 1533.4,307.6 1534.7,308.9 1536.0,310.4 1537.2,311.5 1538.5,312.8 1539.8,311.5 1541.1,309.3 1542.4,307.4 1543.6,306.2 1544.9,305.1 1546.2,306.9 1547.5,305.7 1548.8,306.3 1550.1,305.9 1551.3,306.0 1552.6,303.9 1553.9,303.6 1555.2,302.4 1556.5,302.4 1557.8,299.2 1559.0,299.7 1560.3,303.3 1561.6,305.5 1562.9,307.4 1564.2,309.7 1565.4,311.6 1566.7,311.8 1568.0,312.0 1569.3,312.5 1570.6,312.8 1571.9,312.7 1573.1,314.7 1574.4,314.0 1575.7,312.6 1577.0,312.8 1578.3,312.6 1579.5,311.5 1580.8,310.9 1582.1,312.0 1583.4,311.1 1584.7,311.6 1586.0,312.2 1587.2,313.6 1588.5,309.7 1589.8,308.3 1591.1,307.0 1592.4,305.8 1593.6,306.6 1594.9,310.7 1596.2,311.1 1597.5,311.4 1598.8,310.6 1600.1,309.1 1601.3,307.6 1602.6,308.2 1603.9,307.7 1605.2,308.4 1606.5,307.4 1607.7,308.4 1609.0,308.7 1610.3,309.9 1611.6,310.3 1612.9,310.9 1614.2,310.3 1615.4,311.9 1616.7,311.9 1618.0,312.5 1619.3,313.2 1620.6,313.9 1621.9,312.4 1623.1,310.8 1624.4,309.7 1625.7,308.0 1627.0,308.9 1628.3,309.6 1629.5,311.7 1630.8,311.3 1632.1,311.9 1633.4,310.9 1634.7,310.4 1636.0,308.9 1637.2,308.6 1638.5,307.7 1639.8,307.8 1641.1,306.3 1642.4,306.7 1643.6,306.4 1644.9,305.3 1646.2,304.1 1647.5,304.3 1648.8,306.6 1650.1,307.6 1651.3,311.8 1652.6,312.9 1653.9,312.5 1655.2,311.5 1656.5,309.5 1657.7,308.2 1659.0,306.4 1660.3,307.4 1661.6,304.2 1662.9,306.1 1664.2,303.8 1665.4,305.5 1666.7,301.9 1668.0,301.6 1669.3,302.5 1670.6,304.7 1671.8,305.0 1673.1,308.1 1674.4,309.3 1675.7,309.0 1677.0,308.0 1678.3,305.6 1679.5,303.7 1680.8,303.4 1682.1,303.1 1683.4,303.9 1684.7,303.6 1686.0,305.1 1687.2,306.1 1688.5,305.7 1689.8,306.6 1691.1,307.8 1692.4,308.0 1693.6,307.2 1694.9,302.0 1696.2,300.4 1697.5,296.1 1698.8,291.3 1700.1,286.8 1701.3,289.3 1702.6,277.4 1703.9,270.1 1705.2,257.3 1706.5,239.3 1707.7,226.5 1709.0,221.4 1710.3,215.0 1711.6,213.6 1712.9,223.7 1714.2,229.8 1715.4,236.3 1716.7,248.4 1718.0,263.5 1719.3,272.9 1720.6,281.2 1721.8,288.2 1723.1,293.1 1724.4,294.7 1725.7,297.3 1727.0,299.5 1728.3,301.7 1729.5,300.7 1730.8,301.5 1732.1,301.9 1733.4,305.4 1734.7,308.0 1735.9,310.3 1737.2,311.5 1738.5,309.9 1739.8,309.0 1741.1,308.0 1742.4,307.1 1743.6,309.0 1744.9,311.1 1746.2,311.8 1747.5,313.8 1748.8,316.5 1750.1,314.7 1751.3,314.9 1752.6,313.9 1753.9,312.1 1755.2,310.3 1756.5,310.0 1757.7,310.0 1759.0,308.2 1760.3,306.4 1761.6,307.4 1762.9,308.4 1764.2,309.4 1765.4,310.9 1766.7,310.9 1768.0,308.5 1769.3,307.7 1770.6,307.4 1771.8,308.6 1773.1,311.3 1774.4,311.1 1775.7,311.6 1777.0,311.6 1778.3,308.7 1779.5,307.7 1780.8,309.5 1782.1,308.8 1783.4,310.1 1784.7,313.2 1785.9,309.4 1787.2,309.0 1788.5,311.3 1789.8,310.1 1791.1,308.8 1792.4,311.4 1793.6,311.9 1794.9,311.1 1796.2,310.5 1797.5,309.3 1798.8,310.5 1800.0,311.5 1801.3,311.4 1802.6,313.7 1803.9,313.6 1805.2,312.6 1806.5,311.6 1807.7,310.3 1809.0,306.8 1810.3,308.4 1811.6,310.0 1812.9,308.8 1814.2,311.3 1815.4,312.8 1816.7,311.3 1818.0,308.4 1819.3,309.5 1820.6,307.3 1821.8,307.0 1823.1,308.4 1824.4,310.0 1825.7,308.4 1827.0,307.8 1828.3,305.8 1829.5,304.9 1830.8,305.0 1832.1,306.5 1833.4,304.5 1834.7,306.7 1835.9,305.9 1837.2,306.3 1838.5,305.0 1839.8,307.4 1841.1,306.8 1842.4,308.4 1843.6,307.8 1844.9,307.7 1846.2,305.2 1847.5,303.6 1848.8,303.1 1850.0,301.1 1851.3,303.9 1852.6,305.3 1853.9,302.6 1855.2,304.4 1856.5,305.3 1857.7,301.0 1859.0,298.7 1860.3,300.4 1861.6,298.4 1862.9,296.6 1864.1,296.5 1865.4,299.8 1866.7,301.8 1868.0,302.9 1869.3,305.7 1870.6,306.4 1871.8,307.7 1873.1,306.9 1874.4,306.0 1875.7,305.6 1877.0,307.9 1878.3,306.2 1879.5,307.8 1880.8,308.5 1882.1,310.7 1883.4,310.2 1884.7,311.4 1885.9,310.5 1887.2,310.3 1888.5,308.8 1889.8,309.5 1891.1,309.7 1892.4,311.4 1893.6,310.9 1894.9,312.3 1896.2,313.2 1897.5,312.4 1898.8,310.3 1900.0,310.7 1901.3,309.5 1902.6,306.0 1903.9,306.0 1905.2,308.0 1906.5,308.1 1907.7,307.0 1909.0,309.5 1910.3,309.0 1911.6,308.8 1912.9,308.9 1914.1,309.6 1915.4,311.6 1916.7,311.2 1918.0,310.3 1919.3,310.1 1920.6,310.2 1921.8,308.1 1923.1,308.0 1924.4,308.6 1925.7,308.2 1927.0,310.1 1928.2,308.0 1929.5,309.1 1930.8,308.8 1932.1,310.7 1933.4,309.9 1934.7,311.4 1935.9,314.8 1937.2,313.9 1938.5,313.7 1939.8,313.6 1941.1,314.0 1942.4,309.0 1943.6,310.1 1944.9,308.3 1946.2,308.8 1947.5,309.4 1948.8,310.4 1950.0,311.7 1951.3,315.3 1952.6,314.8 1953.9,314.6 1955.2,315.7 1956.5,313.9 1957.7,310.7 1959.0,310.5 1960.3,309.6 1961.6,309.5 1962.9,310.1 1964.1,311.6 1965.4,310.5 1966.7,311.4 1968.0,310.1 1969.3,311.5 1970.6,309.5 1971.8,311.3 1973.1,310.5 1974.4,312.8 1975.7,312.3 1977.0,312.7 1978.2,313.1 1979.5,312.7 1980.8,309.5 1982.1,308.0 1983.4,310.1 1984.7,307.9 1985.9,308.9 1987.2,310.8 1988.5,311.5 1989.8,308.9 1991.1,307.9 1992.3,307.5 1993.6,306.2 1994.9,306.7 1996.2,305.4 1997.5,307.9 1998.8,309.3 2000.0,311.0 2001.3,309.7 2002.6,311.0 2003.9,311.6 2005.2,310.3 2006.5,309.6 2007.7,307.9 2009.0,309.1 2010.3,308.9 2011.6,310.8 2012.9,311.3 2014.1,313.3 2015.4,312.8 2016.7,311.5 2018.0,310.7 2019.3,310.5 2020.6,311.0 2021.8,308.7 2023.1,308.7 2024.4,309.0 2025.7,309.4 2027.0,309.7 2028.2,314.2 2029.5,314.1 2030.8,312.9 2032.1,312.4 2033.4,313.1 2034.7,311.3 2035.9,311.0 2037.2,310.4 2038.5,310.2 2039.8,310.5 2041.1,309.5 2042.3,308.2 2043.6,309.3 2044.9,312.1 2046.2,309.9 2047.5,309.5 2048.8,310.9 2050.0,311.0 2051.3,307.2 2052.6,307.1 2053.9,308.0 2055.2,307.9 2056.4,307.0 2057.7,306.7 2059.0,306.7 2060.3,306.7 2061.6,305.4 2062.9,302.9 2064.1,300.7 2065.4,299.1 2066.7,295.4 2068.0,297.1 2069.3,299.1 2070.6,300.6 2071.8,301.5 2073.1,304.1 2074.4,303.9 2075.7,307.8 2077.0,308.4 2078.2,310.3 2079.5,311.6 2080.8,312.8 2082.1,311.8 2083.4,313.4 2084.7,312.9 2085.9,312.1 2087.2,310.7 2088.5,308.7"/>
<polyline class="c" stroke="#0000ff" stroke-opacity="0.53" stroke-width="6" stroke-linejoin="round" stroke-linecap="round" points="165.5,642.5 166.4,648.1 166.8,633.5 167.2,637.4 167.6,622.1 168.5,632.9 168.9,648.8 169.8,637.9 170.2,649.1 171.5,645.6 171.9,631.6 172.8,645.8 173.2,641.3 173.6,628.6 174.5,646.6 174.9,648.2 175.8,634.6 176.2,642.3 176.6,631.0 177.5,630.9 178.3,639.6 179.2,645.4 179.6,635.6 180.0,631.2 180.9,643.3 181.3,648.7 182.2,638.8 183.0,647.8 183.4,627.9 183.9,636.2 184.7,621.9 185.6,638.5 186.0,644.7 186.9,634.8 187.3,624.2 187.7,629.4 188.1,638.4 189.0,625.4 189.4,640.7 190.3,639.3 191.1,638.4 191.6,645.1 192.4,642.9 192.8,637.9 193.7,631.4 194.1,642.1 194.6,637.6 195.4,645.0 195.8,621.4 196.7,635.2 197.1,636.1 198.4,628.7 198.8,641.0 199.3,634.9 199.7,641.5 200.5,631.9 201.0,635.2 201.8,644.8 202.3,624.8 203.5,628.7 204.0,644.9 204.4,641.4 204.8,644.7 205.7,631.1 206.1,646.2 207.4,642.6 207.8,632.4 208.2,649.6 209.1,638.3 209.5,642.0 210.4,614.7 210.8,638.8 211.2,635.6 212.5,647.0 212.9,635.0 213.8,623.0 214.2,640.1 215.1,641.6 215.5,638.0 215.9,647.0 216.4,631.3 217.2,644.9 217.6,634.9 218.9,644.3 219.3,635.3 219.8,637.2 220.2,648.2 221.1,632.9 221.5,646.1 222.3,633.6 222.8,645.6 224.0,644.9 224.5,631.0 224.9,648.7 225.3,632.9 226.6,645.7 227.0,632.0 227.5,615.9 227.9,644.0 228.7,648.8 229.2,639.6 230.0,636.2 230.5,643.2 231.3,625.9 232.2,643.9 232.6,630.0 233.0,648.4 233.9,627.9 234.3,646.1 235.2,626.3 235.6,644.5 236.4,636.0 236.9,647.7 237.7,628.1 238.1,648.0 239.0,649.5 239.4,642.6 240.3,631.5 240.7,648.9 242.0,642.7 242.4,637.9 242.8,648.5 243.7,641.5 244.6,631.1 245.0,644.8 245.4,639.3 245.8,632.4 246.7,631.2 247.5,643.3 248.0,638.2 248.8,645.5 249.7,630.7 250.1,648.1 250.5,625.7 251.0,647.5 251.8,649.0 252.7,639.1 253.1,637.4 253.5,642.8 254.4,634.3 255.2,646.0 256.1,648.1 256.5,635.4 256.9,648.3 257.4,639.3 258.2,648.6 258.7,638.1 259.5,647.8 259.9,636.1 261.2,641.9 261.6,632.0 262.1,642.4 262.5,645.5 263.8,642.4 264.2,631.6 265.1,644.9 265.5,638.5 266.4,637.8 266.8,649.5 267.2,638.6 268.1,645.4 268.5,649.5 269.3,634.6 269.8,647.5 270.2,632.5 271.5,638.4 271.9,648.2 272.8,629.8 273.2,647.9 273.6,642.1 274.0,650.3 274.9,632.6 275.8,645.3 276.2,652.4 276.6,638.0 277.5,635.4 278.3,630.9 278.7,639.2 279.6,628.7 280.5,639.6 280.9,643.5 281.7,638.2 282.2,635.5 283.0,646.8 283.4,630.6 283.9,634.0 284.3,644.3 285.2,641.0 286.0,616.1 286.9,642.0 287.3,637.8 287.7,633.9 288.1,646.3 289.0,641.5 289.9,631.2 290.3,642.5 290.7,630.9 291.6,638.8 292.4,646.3 292.8,645.3 293.7,629.0 294.1,649.9 295.0,628.5 295.8,635.3 296.3,630.5 297.1,638.9 297.5,628.2 298.0,647.9 298.8,634.2 299.3,632.1 299.7,638.8 300.5,628.1 301.4,651.0 301.8,645.5 302.2,635.5 303.1,649.9 303.5,636.4 304.4,645.5 304.8,635.5 305.7,635.2 306.1,642.2 306.9,635.0 307.4,653.4 308.2,638.7 309.1,637.4 309.5,618.0 310.4,645.1 310.8,627.5 311.2,649.6 312.1,632.2 312.9,643.9 313.4,636.0 313.8,642.3 314.6,640.4 315.1,637.4 315.9,649.8 316.3,636.8 317.2,648.4 317.6,644.8 318.5,646.7 318.9,634.9 320.2,631.6 320.6,649.0 321.0,641.1 321.5,632.4 322.8,640.2 323.2,635.8 323.6,635.5 324.5,651.7 324.9,631.3 325.3,644.7 326.2,632.6 327.0,644.0 327.5,641.5 328.3,645.7 328.7,629.1 329.6,646.5 330.5,638.9 330.9,647.9 331.3,622.3 332.2,647.7 333.0,638.5 333.4,615.4 333.9,649.0 334.7,636.2 335.6,624.7 336.0,645.3 336.4,634.8 337.3,644.7 337.7,641.4 338.6,632.8 339.0,642.9 339.9,636.0 340.3,628.2 340.7,643.2 341.6,628.2 342.0,646.1 342.8,628.2 343.7,641.7 344.1,649.1 344.6,634.5 345.4,641.5 345.8,648.5 346.7,645.5 347.5,641.8 348.0,642.6 348.8,628.1 349.3,640.3 350.1,638.2 350.5,635.1 351.0,631.6 352.2,637.3 352.7,642.0 353.1,636.9 353.5,642.6 354.8,637.8 355.2,634.2 355.7,637.4 356.1,642.0 356.9,640.3 357.8,634.6 358.2,635.6 358.7,645.5 359.9,640.2 360.4,652.5 360.8,638.5 361.6,644.6 362.1,631.9 362.5,649.4 363.4,647.3 364.2,632.4 364.6,640.3 365.1,635.8 365.9,635.5 366.8,651.1 367.6,638.4 368.1,648.3 368.5,637.6 369.3,644.5 370.2,644.9 370.6,628.7 371.5,641.3 371.9,639.0 372.3,642.9 373.2,636.3 373.6,629.7 374.0,638.6 375.3,625.4 375.7,638.8 376.2,637.8 376.6,644.2 377.5,627.7 377.9,638.6 379.2,619.2 379.6,642.3 380.4,633.6 380.9,651.7 381.3,635.1 381.7,646.7 383.0,648.8 383.4,642.0 383.9,638.7 384.3,635.0 385.1,631.2 386.0,645.5 386.4,631.9 387.3,645.5 388.1,648.6 388.6,635.1 389.0,646.7 389.4,631.6 390.3,647.1 390.7,638.7 391.6,638.8 392.0,628.1 392.8,625.8 393.3,635.0 394.1,631.4 394.6,643.5 395.4,641.3 396.3,630.7 397.1,637.4 397.5,641.4 398.4,641.5 398.8,635.1 399.7,645.5 400.1,634.7 401.0,637.9 401.4,648.4 401.8,642.7 402.2,617.2 403.5,641.1 404.0,632.3 404.8,642.1 405.2,648.6 405.7,647.6 406.5,628.0 406.9,644.2 407.8,632.0 408.2,626.0 409.1,641.8 409.5,634.9 409.9,645.5 411.2,633.0 411.6,642.1 412.1,642.2 412.9,629.4 413.4,629.1 413.8,646.8 414.6,642.7 415.1,634.5 415.9,627.5 416.8,649.4 417.2,630.8 417.6,642.7 418.9,641.9 419.3,635.7 419.8,638.7 420.2,629.2 421.0,629.0 421.9,645.8 422.3,650.3 423.2,642.0 424.0,640.2 424.5,648.1 424.9,649.1 425.7,637.3 426.2,645.9 427.0,630.5 427.5,630.7 427.9,639.2 428.7,645.9 429.2,628.5 430.0,636.0 430.4,651.9 431.3,636.3 431.7,625.7 432.6,641.4 433.0,628.5 433.9,637.9 434.7,643.1 435.6,641.8 436.0,641.2 436.4,635.1 437.3,645.7 438.1,648.5 438.6,634.6 439.0,634.6 439.8,642.0 440.3,635.2 440.7,644.9 441.6,636.2 442.0,641.7 442.8,649.2 443.3,631.5 444.5,641.3 445.0,638.3 445.4,632.4 446.3,641.2 446.7,648.7 447.5,641.4 448.0,643.5 448.8,648.8 449.2,635.4 449.7,645.3 451.0,633.7 451.4,645.8 451.8,646.0 452.7,618.5 453.1,627.9 453.9,635.4 454.4,624.9 454.8,638.4 456.1,646.5 456.5,623.7 456.9,635.6 457.8,625.4 458.2,649.1 458.7,638.6 459.5,648.5 460.4,627.9 460.8,647.3 461.6,634.6 462.1,647.3 462.9,639.2 463.4,643.3 463.8,620.9 465.1,643.1 465.5,635.7 465.9,650.3 466.3,635.8 467.2,648.4 467.6,634.9 468.5,641.8 469.3,639.2 470.2,643.7 470.6,634.5 471.0,647.8 471.9,638.8 472.3,630.7 473.2,641.2 473.6,647.7 474.5,625.3 475.3,624.2 475.7,642.7 476.6,636.5 477.0,610.3 477.5,605.1 477.9,634.2 479.2,624.0 479.6,632.4 480.4,628.5 480.9,637.6 481.3,630.9 481.7,638.5 482.6,634.0 483.4,641.2 484.3,641.7 484.7,628.1 485.6,644.1 486.0,637.6 486.4,632.1 486.9,635.7 487.7,638.1 488.1,631.7 489.0,648.7 489.4,627.8 490.3,635.4 491.1,644.9 492.0,637.6 492.4,648.7 492.8,645.7 493.3,627.5 494.1,645.0 494.5,641.3 495.4,633.8 495.8,641.0 496.7,637.7 497.1,639.5 498.4,636.5 498.8,641.8 499.2,641.2 499.7,631.6 500.5,644.5 501.0,642.0 502.2,644.7 502.7,628.7 503.1,648.5 503.9,628.6 504.4,633.8 504.8,645.0 505.7,632.3 506.5,648.5 506.9,645.1 507.4,624.9 508.6,648.0 509.1,634.6 509.9,638.1 510.4,643.8 510.8,629.1 511.2,640.9 512.1,642.6 512.9,638.1 513.3,625.7 514.2,634.8 514.6,638.2 515.5,638.9 516.3,634.6 516.8,645.4 517.2,641.2 518.0,630.9 518.5,615.0 518.9,645.4 520.2,626.8 520.6,635.6 521.0,638.2 521.9,645.7 522.3,645.4 523.2,626.9 524.0,648.9 524.5,635.4 525.3,641.6 525.7,628.7 526.2,632.0 527.0,635.8 527.5,637.9 528.3,648.3 528.7,641.3 529.2,637.9 530.4,640.2 530.9,635.9 531.3,649.1 532.2,630.6 533.0,651.9 533.4,621.4 533.9,640.1 534.7,652.2 535.1,635.8 535.6,651.2 536.4,634.8 537.3,639.3 537.7,627.9 538.6,648.4 539.0,631.7 539.4,649.0 540.3,635.6 540.7,628.5 542.0,646.2 542.4,638.5 542.8,635.5 543.7,638.3 544.5,638.1 545.0,645.6 545.8,632.7 546.3,639.4 546.7,636.8 547.5,648.6 548.4,631.6 548.8,645.8 549.2,650.0 550.1,627.7 550.5,644.5 551.4,635.1 551.8,624.7 552.2,642.5 553.5,635.4 553.9,652.1 554.4,636.1 555.2,645.2 556.1,625.8 556.5,640.9 556.9,643.5 557.8,627.8 558.2,634.5 558.6,645.1 559.5,645.5 559.9,639.4 560.8,645.0 561.6,637.9 562.5,635.3 562.9,638.4 563.3,642.2 563.8,644.1 565.1,634.7 565.5,648.0 565.9,645.5 566.3,624.6 567.6,633.1 568.0,641.4 568.5,642.3 568.9,632.0 570.2,641.4 570.6,631.1 571.5,638.3 571.9,631.0 572.7,644.8 573.2,634.4 573.6,644.3 574.0,640.6 575.3,651.6 575.7,637.9 576.6,634.6 577.0,642.0 577.4,636.8 577.9,631.7 579.2,627.9 579.6,641.2 580.0,615.8 580.4,647.9 581.3,649.2 582.1,631.7 582.6,645.6 583.4,638.5 583.9,633.7 584.3,637.7 585.6,634.4 586.0,644.9 586.4,646.3 587.3,644.8 588.1,628.0 588.6,648.4 589.4,638.5 589.8,633.8 590.3,632.1 591.1,635.7 591.6,647.6 592.4,638.7 592.8,638.4 593.7,632.2 594.1,642.1 594.5,645.9 595.4,622.4 596.3,639.2 596.7,639.4 597.1,648.4 598.4,642.2 598.8,634.6 599.2,638.4 599.7,642.1 600.5,638.0 601.0,646.9 602.2,640.9 602.7,614.5 603.1,642.0 603.9,628.2 604.4,624.1 605.2,642.5 606.1,640.5 606.5,646.1 607.4,638.4 607.8,651.4 608.2,644.6 609.1,634.0 609.5,641.7 610.4,648.7 610.8,626.8 611.2,632.1 612.1,615.5 612.9,642.1 613.8,637.8 614.2,633.8 615.1,634.3 615.5,645.7 615.9,628.7 616.3,645.0 617.2,639.5 617.6,651.6 618.9,641.7 619.3,632.3 619.8,641.4 620.2,630.7 621.0,632.9 621.5,641.1 622.3,649.2 622.7,637.6 624.0,628.5 624.5,647.7 624.9,645.3 625.7,630.3 626.6,640.8 627.0,650.9 627.4,634.5 628.3,647.8 628.7,633.9 629.6,647.2 630.4,630.1 630.9,647.5 631.3,637.3 632.1,652.2 632.6,624.2 633.0,646.8 633.9,643.6 634.7,639.8 635.1,623.3 636.0,639.7 636.8,644.0 637.3,635.4 637.7,638.9 638.6,623.6 639.4,630.2 639.8,622.5 640.3,634.3 641.1,621.3 641.5,629.2 642.0,625.1 642.8,613.6 643.7,626.0 644.1,637.0 644.5,626.9 645.8,629.3 646.2,627.2 647.1,640.7 647.5,622.1 648.4,632.9 648.8,642.5 649.2,645.7 649.7,632.2 651.0,636.1 651.4,641.0 651.8,633.5 652.7,646.1 653.1,642.5 653.5,633.7 654.4,643.8 655.2,630.4 655.7,637.9 656.1,631.9 657.4,624.2 657.8,641.4 658.2,651.3 658.6,635.0 659.5,649.5 660.4,634.4 661.2,645.5 661.6,625.4 662.5,641.9 662.9,627.5 663.3,647.5 663.8,637.9 664.6,644.6 665.5,641.1 666.3,637.8 666.8,641.0 667.2,632.4 668.0,638.5 668.9,649.6 669.3,635.4 669.8,645.4 670.2,618.6 671.5,635.3 671.9,627.9 672.7,645.1 673.2,630.4 673.6,622.5 674.0,629.1 675.3,644.8 675.7,630.8 676.2,645.1 676.6,621.6 677.4,645.3 677.9,629.9 678.7,628.7 679.2,646.1 680.0,632.3 680.4,651.7 681.3,622.8 682.1,648.7 682.6,631.2 683.0,646.5 683.9,631.7 684.3,644.0 685.6,635.2 686.0,624.7 686.4,628.6 686.8,643.6 688.1,630.8 688.6,638.2 689.0,634.6 689.4,642.6 690.7,644.8 691.1,639.6 691.5,624.4 692.4,637.5 693.3,646.2 693.7,637.7 694.5,628.2 695.0,639.3 695.4,639.2 696.2,644.9 696.7,648.3 697.5,637.9 698.0,634.5 698.4,642.1 699.7,638.6 700.1,646.6 700.5,632.5 701.4,641.4 701.8,639.6 702.2,635.7 703.5,635.8 703.9,638.8 704.4,631.3 704.8,644.4 706.1,624.5 706.5,639.1 706.9,634.5 707.8,632.1 708.2,630.9 708.6,644.4 709.9,639.0 710.3,647.3 710.8,645.8 711.6,625.3 712.5,652.1 712.9,639.5 713.3,634.8 713.8,648.9 714.6,638.5 715.1,644.6 716.3,641.5 716.8,626.4 717.6,641.4 718.0,652.3 718.5,624.7 718.9,640.9 719.8,649.3 720.2,634.5 721.0,622.3 721.5,641.4 722.3,646.0 723.2,631.1 723.6,635.6 724.0,631.9 725.3,648.7 725.7,630.7 726.6,635.5 727.0,644.5 727.9,624.2 728.3,644.2 728.7,645.2 729.6,626.4 730.0,634.5 730.9,637.8 731.3,641.9 732.1,636.2 733.0,646.9 733.4,638.8 734.3,634.4 734.7,641.9 735.1,624.1 735.6,648.4 736.4,634.0 737.3,638.9 737.7,637.4 738.1,648.2 739.0,625.9 739.4,631.6 740.3,641.2 740.7,635.3 741.5,642.1 742.4,631.9 742.8,634.7 743.3,621.6 744.1,649.4 744.5,628.8 745.4,630.8 746.2,639.0 747.1,638.6 747.5,632.5 748.4,646.1 748.8,628.1 749.7,621.3 750.1,641.3 750.5,648.4 750.9,637.4 751.8,641.4 752.7,633.6 753.5,635.1 753.9,641.3 754.8,649.2 755.2,630.7 756.1,631.1 756.5,641.3 756.9,630.8 757.8,645.3 758.2,623.8 758.6,644.1 759.5,629.0 760.3,633.8 760.8,641.2 761.6,616.1 762.1,631.6 762.9,644.1 763.3,638.0 763.8,631.9 764.6,634.3 765.0,646.6 765.9,643.3 766.8,627.3 767.2,636.9 767.6,651.9 768.9,646.9 769.3,634.5 769.7,644.6 770.2,641.6 771.5,629.9 771.9,650.6 772.7,625.8 773.2,637.7 774.0,628.4 774.4,644.6 775.3,634.8 775.7,640.8 776.6,631.5 777.0,644.4 777.9,641.5 778.3,635.5 778.7,641.7 779.2,634.5 780.0,639.1 780.9,630.2 781.3,621.0 782.1,642.0 782.6,638.3 783.0,648.5 784.3,637.3 784.7,648.4 785.1,630.9 786.0,647.3 786.4,643.4 786.8,636.6 788.1,645.3 788.6,626.4 789.0,630.1 789.4,637.0 790.7,644.3 791.1,634.0 791.5,630.4 792.4,633.5 792.8,645.0 793.3,630.9 794.5,641.4 795.0,632.2 795.8,634.9 796.2,643.9 796.7,642.8 797.1,651.2 798.0,638.1 798.8,639.9 799.7,639.4 800.1,628.9 800.5,623.5 800.9,636.2 802.2,645.7 802.7,632.8 803.5,635.0 803.9,643.5 804.4,611.7 805.2,635.3 805.6,635.4 806.1,627.8 806.9,628.3 807.4,615.6 808.6,620.7 809.1,638.7 809.5,634.1 810.3,616.5 810.8,630.2 811.6,643.2 812.1,623.2 812.9,630.8 813.3,626.0 813.8,630.6 814.6,625.4 815.5,620.7 816.3,634.1 816.8,611.7 817.2,620.7 818.0,629.8 818.5,628.4 818.9,610.4 819.7,615.5 820.6,606.9 821.0,620.3 821.9,592.7 822.3,574.3 822.7,563.8 823.6,554.6 824.4,522.7 825.3,509.4 825.7,449.8 826.6,441.7 827.0,404.2 827.4,396.9 828.3,412.0 828.7,438.9 829.6,433.9 830.0,486.2 830.9,475.9 831.3,525.4 832.1,552.9 833.0,550.6 833.4,566.1 833.8,574.7 834.3,602.9 835.1,604.1 836.0,615.6 836.4,593.8 837.3,627.6 837.7,622.2 838.1,614.7 839.0,627.8 839.8,621.3 840.7,624.6 841.1,612.7 841.5,632.9 842.0,628.3 843.3,634.7 843.7,623.2 844.1,615.0 844.5,630.7 845.8,633.3 846.2,618.8 846.7,606.5 847.5,615.1 848.4,620.2 848.8,623.3 849.7,607.7 850.1,587.6 850.9,597.6 851.4,586.2 851.8,604.4 852.7,609.7 853.5,596.3 853.9,610.6 854.4,614.1 854.8,610.1 855.6,626.6 856.1,614.4 856.9,630.2 857.8,627.1 858.2,624.9 859.1,642.9 859.9,625.4 860.3,631.4 860.8,611.3 861.2,641.5 862.1,648.0 862.9,628.5 863.8,641.4 864.2,627.3 864.6,627.6 865.0,642.4 865.9,631.7 866.8,611.7 867.2,646.2 867.6,627.8 868.9,641.6 869.3,612.0 869.7,621.5 870.2,641.6 871.0,630.7 871.5,637.2 872.7,647.5 873.2,626.7 874.0,637.9 874.4,641.6 875.3,641.8 875.7,622.9 876.2,634.0 877.0,624.1 877.9,641.6 878.3,633.2 879.1,646.5 879.6,640.7 880.4,631.4 880.9,642.3 881.3,634.1 881.7,638.5 882.6,641.6 883.0,628.3 883.8,637.3 884.3,624.7 885.1,631.7 886.0,627.3 886.8,627.5 887.3,635.6 887.7,620.2 888.5,633.5 889.4,630.5 889.8,636.1 890.3,614.8 890.7,641.9 891.5,634.6 892.4,606.5 892.8,630.6 893.7,617.4 894.1,629.7 895.0,621.5 895.4,619.4 895.8,626.9 896.7,625.0 897.1,607.1 898.4,615.9 898.8,601.7 899.2,597.2 900.1,591.1 900.9,560.2 901.4,585.1 902.2,558.0 902.6,578.7 903.1,511.6 903.9,538.6 904.8,509.8 905.2,485.8 906.1,483.5 906.5,459.0 907.4,487.5 907.8,466.3 908.6,462.9 909.1,479.7 909.5,496.8 910.3,507.8 910.8,514.3 911.6,538.1 912.1,547.1 912.5,567.1 913.3,554.2 914.2,593.5 914.6,599.7 915.0,590.1 916.3,594.9 916.8,613.7 917.2,604.2 918.0,616.7 918.5,611.2 919.3,623.8 919.7,610.8 920.2,624.0 921.0,624.5 921.5,636.8 922.7,632.4 923.2,620.0 924.0,625.2 924.4,627.9 925.3,625.0 925.7,640.2 926.2,635.3 926.6,629.7 927.9,618.8 928.3,637.4 928.7,644.3 929.6,625.4 930.0,631.6 930.9,621.0 931.7,637.9 932.1,618.2 933.0,610.6 933.4,623.7 934.3,616.2 934.7,611.1 935.1,603.0 935.6,620.8 936.4,609.1 937.3,612.5 937.7,584.4 938.5,595.3 939.0,613.7 939.4,607.7 940.3,599.3 940.7,587.1 941.5,578.6 942.0,582.5 942.8,591.4 943.2,550.7 944.1,570.8 945.0,580.6 945.4,571.1 945.8,596.2 946.7,572.4 947.5,601.6 947.9,591.0 948.4,605.0 949.2,590.0 950.1,611.2 950.5,592.0 950.9,618.9 952.2,618.3 952.6,581.0 953.1,587.0 954.4,623.1 954.8,633.9 956.1,638.7 956.5,631.8 957.3,634.6 957.8,638.8 958.2,634.5 959.1,623.5 959.5,638.4 960.3,632.2 960.8,614.3 961.6,630.9 962.0,643.2 962.9,628.3 963.8,646.1 964.2,625.0 964.6,626.6 965.0,643.4 965.9,630.3 966.3,646.1 967.2,649.6 967.6,632.7 968.5,646.9 968.9,626.5 969.7,630.3 970.6,646.1 971.0,644.6 971.9,623.4 972.3,640.3 972.7,630.5 973.6,640.8 974.4,631.3 975.3,647.0 975.7,635.5 976.2,637.1 977.0,621.4 977.9,635.0 978.3,647.1 979.1,648.1 979.6,633.2 980.4,630.5 980.9,643.3 981.7,634.1 982.1,641.3 982.6,644.5 983.0,628.1 983.8,635.3 984.7,647.2 985.1,651.3 986.0,647.7 986.8,631.3 987.3,645.0 988.1,633.6 988.5,639.6 989.0,637.4 989.4,631.2 990.3,631.8 991.1,638.6 991.5,640.8 992.0,639.4 992.8,640.9 993.2,631.1 994.5,636.7 995.0,629.4 995.4,637.8 996.2,631.4 996.7,648.9 997.5,626.9 997.9,634.2 998.8,649.0 999.7,644.3 1000.1,630.8 1000.5,638.7 1001.4,632.7 1002.2,634.2 1002.6,640.9 1003.5,627.6 1003.9,637.7 1004.4,647.7 1004.8,635.0 1006.1,634.9 1006.5,642.6 1006.9,634.7 1007.8,644.6 1008.2,630.0 1009.1,638.0 1009.5,638.6 1009.9,645.7 1010.8,645.1 1011.6,629.3 1012.5,639.8 1012.9,638.2 1013.8,642.0 1014.2,644.5 1015.0,634.2 1015.5,640.9 1015.9,648.1 1016.3,624.6 1017.2,647.6 1018.0,637.9 1018.5,652.5 1018.9,634.7 1019.7,635.2 1020.2,631.1 1021.0,639.0 1021.4,621.2 1022.7,640.0 1023.2,622.2 1024.0,650.5 1024.4,631.7 1025.3,640.1 1025.7,629.9 1026.6,637.9 1027.0,645.3 1027.4,641.6 1027.9,634.8 1028.7,632.5 1029.1,637.8 1030.0,628.7 1030.8,641.5 1031.3,642.1 1031.7,631.5 1032.6,625.1 1033.0,641.3 1034.3,640.0 1034.7,625.8 1035.1,610.2 1036.0,637.0 1036.4,629.8 1036.8,638.1 1037.7,634.4 1038.5,644.2 1039.0,644.3 1039.4,636.8 1040.3,642.3 1041.1,631.8 1041.5,628.5 1042.0,640.0 1043.2,642.6 1043.7,631.9 1044.1,635.6 1045.0,630.4 1045.4,643.8 1045.8,636.7 1046.7,630.9 1047.5,640.4 1047.9,631.2 1048.8,643.5 1049.2,644.8 1050.1,631.3 1050.5,639.4 1051.4,644.7 1051.8,638.4 1052.2,631.0 1053.1,634.0 1053.9,644.9 1054.4,645.3 1054.8,631.9 1056.1,641.6 1056.5,638.1 1057.3,645.7 1057.8,636.8 1058.6,635.0 1059.1,651.0 1059.5,638.0 1060.3,644.4 1061.2,624.4 1061.6,641.5 1062.0,624.1 1062.5,649.9 1063.8,647.3 1064.2,637.1 1064.6,637.6 1065.5,644.1 1065.9,635.2 1066.7,639.0 1067.6,643.8 1068.0,638.1 1068.5,624.5 1068.9,645.9 1069.7,628.8 1070.2,645.0 1071.0,641.9 1071.4,620.3 1072.7,643.4 1073.2,628.8 1073.6,645.1 1074.4,638.3 1074.9,645.2 1075.7,640.4 1076.1,638.6 1077.0,625.3 1077.9,621.4 1078.3,645.7 1079.1,641.0 1079.6,630.3 1080.4,644.5 1080.8,630.8 1081.3,637.2 1081.7,641.9 1082.6,644.1 1083.4,640.0 1083.8,634.6 1084.7,633.0 1085.1,638.7 1085.5,627.1 1086.4,619.3 1087.3,606.9 1087.7,625.5 1088.5,615.6 1089.4,613.7 1089.8,629.4 1090.2,634.4 1091.1,612.4 1092.0,641.3 1092.4,634.4 1092.8,642.9 1093.2,627.3 1094.1,640.1 1094.9,643.2 1095.4,630.4 1095.8,637.9 1096.7,637.5 1097.1,624.0 1098.4,637.8 1098.8,628.1 1099.2,637.6 1100.1,631.4 1100.5,641.8 1101.4,635.8 1101.8,630.2 1102.6,635.4 1103.5,635.0 1103.9,651.4 1104.8,625.6 1105.2,636.9 1105.6,640.5 1106.1,637.9 1106.9,630.5 1107.3,644.7 1108.2,634.8 1108.6,647.5 1109.5,625.7 1110.3,639.1 1111.2,645.4 1111.6,628.3 1112.0,623.2 1112.9,646.2 1113.8,646.1 1114.2,638.9 1115.0,645.5 1115.5,638.3 1116.3,634.4 1116.7,645.0 1117.2,625.4 1118.0,645.5 1118.5,642.6 1119.3,652.3 1119.7,632.0 1120.2,648.4 1121.0,639.3 1121.4,645.5 1122.3,629.7 1123.2,635.6 1123.6,638.9 1124.4,644.5 1124.9,639.7 1125.7,637.7 1126.1,639.6 1126.6,628.1 1127.9,628.8 1128.3,636.9 1129.1,628.6 1129.6,638.9 1130.0,648.3 1130.4,643.3 1131.7,639.6 1132.1,631.6 1133.0,645.5 1133.4,637.8 1133.8,636.8 1134.7,628.0 1135.1,632.1 1136.0,647.7 1136.8,647.4 1137.3,639.0 1137.7,621.6 1138.1,644.2 1139.0,627.6 1139.8,648.1 1140.7,634.3 1141.1,642.9 1141.5,622.1 1142.0,642.2 1142.8,625.3 1143.7,644.2 1144.1,637.9 1144.5,638.5 1145.4,644.1 1145.8,629.0 1146.7,645.1 1147.1,636.8 1147.9,631.2 1148.8,645.1 1149.6,632.3 1150.1,648.4 1150.5,651.5 1151.4,638.6 1151.8,631.8 1152.6,641.9 1153.5,637.6 1153.9,630.0 1154.8,635.7 1155.2,652.1 1155.6,624.1 1156.1,638.6 1156.9,644.3 1157.3,615.5 1158.2,634.1 1158.6,642.6 1159.5,645.4 1159.9,637.6 1160.8,637.8 1161.6,633.3 1162.5,631.3 1162.9,642.0 1163.8,645.0 1164.2,631.0 1164.6,634.6 1165.5,639.0 1165.9,629.1 1166.7,644.8 1167.2,627.8 1167.6,641.1 1168.9,638.1 1169.3,641.2 1169.7,641.0 1170.6,638.4 1171.4,632.3 1171.9,651.3 1172.7,641.1 1173.2,630.5 1173.6,644.3 1174.4,631.3 1175.3,641.3 1175.7,634.5 1176.1,637.9 1177.0,628.3 1177.4,639.6 1177.9,648.6 1179.1,634.7 1179.6,641.4 1180.0,628.5 1180.4,648.9 1181.3,645.3 1182.1,638.2 1183.0,641.1 1183.4,628.1 1183.8,638.3 1184.3,619.2 1185.1,642.4 1185.5,629.0 1186.4,629.5 1186.8,645.5 1187.7,639.3 1188.5,630.7 1189.0,642.3 1189.4,637.3 1190.2,620.6 1190.7,648.2 1191.5,636.0 1192.0,647.8 1193.2,637.6 1193.7,645.9 1194.5,647.7 1194.9,645.0 1195.8,637.5 1196.2,620.0 1196.7,626.0 1197.1,645.0 1198.4,646.0 1198.8,625.2 1199.2,632.0 1199.6,648.2 1200.5,625.5 1201.4,648.3 1201.8,635.9 1202.6,639.3 1203.1,641.8 1203.9,635.9 1204.8,632.9 1205.2,644.4 1206.1,645.5 1206.5,637.2 1207.3,627.7 1207.8,649.2 1208.6,636.0 1209.0,644.5 1209.9,627.9 1210.3,642.1 1210.8,645.3 1211.2,625.7 1212.5,639.8 1212.9,645.0 1213.7,644.5 1214.2,613.6 1214.6,619.6 1215.0,639.6 1216.3,627.3 1216.7,629.4 1217.6,641.8 1218.0,637.4 1218.4,631.4 1218.9,641.4 1220.2,624.4 1220.6,637.7 1221.4,631.6 1221.9,649.4 1222.7,641.1 1223.1,642.2 1224.0,642.1 1224.4,631.4 1224.9,645.8 1225.3,623.0 1226.1,648.6 1226.6,638.2 1227.9,631.3 1228.3,638.6 1228.7,642.3 1229.6,632.6 1230.4,644.7 1230.8,640.2 1231.3,648.4 1231.7,642.0 1233.0,647.2 1233.4,632.7 1234.3,644.2 1234.7,635.9 1235.5,637.5 1236.0,638.8 1236.4,638.5 1237.3,631.7 1237.7,637.6 1238.5,634.0 1239.0,643.0 1239.4,638.1 1240.2,642.0 1240.7,645.1 1241.5,642.3 1242.0,638.4 1242.8,648.1 1243.7,635.7 1244.5,641.6 1244.9,637.1 1245.4,635.4 1245.8,639.6 1246.7,644.2 1247.5,635.1 1247.9,638.3 1248.8,648.1 1249.6,638.4 1250.1,647.9 1250.9,646.0 1251.4,631.5 1251.8,642.2 1252.2,633.3 1253.5,631.2 1253.9,646.9 1254.8,643.8 1255.2,622.3 1255.6,651.9 1256.1,640.6 1256.9,627.4 1257.3,644.4 1258.2,627.1 1258.6,638.7 1259.9,648.4 1260.3,630.6 1260.8,643.0 1261.2,641.7 1262.0,643.6 1262.5,631.2 1263.3,642.5 1263.7,632.1 1265.0,638.5 1265.5,618.8 1266.3,643.4 1266.7,634.3 1267.2,634.8 1268.0,644.7 1268.4,631.0 1269.3,641.8 1269.7,648.4 1270.6,638.7 1271.4,644.4 1271.9,637.0 1272.3,627.3 1273.1,648.5 1273.6,633.7 1274.0,641.8 1274.9,634.0 1275.3,649.4 1276.6,642.5 1277.0,642.1 1277.4,640.9 1278.3,644.7 1278.7,625.6 1279.6,644.8 1280.4,645.2 1280.8,632.1 1281.3,637.9 1281.7,646.3 1282.5,643.2 1283.0,635.4 1284.3,649.0 1284.7,626.8 1285.1,640.5 1286.0,642.5 1286.4,639.5 1286.8,644.6 1287.7,634.4 1288.5,625.6 1289.4,644.8 1289.8,649.1 1290.2,635.3 1291.1,636.6 1291.5,634.1 1292.4,641.8 1293.2,631.9 1293.7,640.2 1294.1,645.1 1294.9,629.6 1295.4,641.9 1295.8,647.4 1297.1,625.5 1297.5,647.3 1297.9,639.8 1298.8,642.5 1299.6,640.8 1300.1,637.5 1300.9,632.7 1301.4,644.9 1302.2,647.0 1302.6,634.8 1303.1,645.3 1303.5,644.8 1304.3,624.8 1305.2,645.9 1306.1,647.7 1306.5,624.5 1306.9,638.7 1307.8,643.9 1308.2,621.0 1308.6,652.2 1309.5,640.7 1310.3,648.9 1310.8,650.4 1311.2,631.7 1312.0,644.7 1312.9,641.0 1313.7,640.5 1314.2,628.0 1315.0,634.5 1315.5,650.9 1316.3,624.6 1316.7,640.8 1317.2,631.7 1317.6,650.9 1318.4,629.1 1318.9,608.1 1319.7,624.1 1320.6,642.0 1321.0,644.4 1321.4,635.8 1322.7,641.5 1323.1,645.3 1323.6,638.7 1324.0,641.9 1324.9,647.6 1325.3,633.1 1326.1,639.1 1326.6,641.5 1327.4,630.5 1327.8,633.4 1328.7,641.3 1329.6,637.2 1330.4,628.9 1330.8,649.0 1331.3,617.6 1332.1,644.2 1333.0,633.8 1333.4,641.5 1333.8,641.7 1334.3,637.1 1335.5,617.1 1336.0,634.8 1336.8,621.8 1337.2,634.1 1338.1,622.3 1338.5,629.1 1339.4,617.2 1339.8,641.4 1340.2,621.1 1341.1,595.1 1341.5,619.2 1341.9,626.9 1343.2,635.2 1343.7,627.5 1344.5,619.9 1344.9,630.8 1345.4,625.7 1346.2,636.4 1347.1,642.4 1347.5,646.9 1347.9,635.6 1348.8,646.2 1349.6,624.7 1350.1,637.0 1350.9,644.1 1351.3,632.1 1351.8,647.9 1352.2,623.6 1353.1,635.2 1353.5,638.8 1354.3,632.9 1355.2,634.1 1355.6,644.6 1356.5,624.2 1356.9,645.8 1357.3,628.6 1358.6,638.7 1359.0,642.1 1359.9,628.0 1360.3,641.4 1360.8,636.2 1361.2,641.2 1362.5,647.3 1362.9,622.1 1363.7,644.7 1364.2,637.6 1364.6,640.7 1365.5,625.2 1366.3,640.8 1366.7,630.2 1367.2,641.8 1368.0,637.1 1368.9,621.6 1369.3,637.9 1370.2,630.8 1370.6,642.3 1371.0,640.7 1371.4,630.9 1372.3,643.1 1372.7,627.9 1374.0,634.5 1374.4,645.0 1374.9,634.9 1375.3,648.3 1376.1,619.9 1376.6,638.8 1377.4,644.3 1377.8,630.8 1378.7,644.4 1379.6,616.5 1380.0,640.6 1380.4,629.2 1381.3,640.3 1381.7,632.6 1383.0,640.8 1383.4,633.8 1383.8,643.7 1384.7,633.2 1385.1,637.0 1385.5,633.4 1386.4,647.3 1386.8,624.2 1387.7,640.4 1388.1,622.4 1389.0,632.3 1389.8,642.5 1390.2,628.4 1390.7,618.1 1391.5,636.7 1392.4,628.3 1392.8,627.6 1393.2,619.3 1394.5,613.4 1394.9,632.6 1395.8,628.1 1396.2,617.1 1396.6,624.5 1397.1,612.7 1397.9,607.2 1398.4,629.1 1399.2,631.6 1399.6,618.5 1400.9,632.0 1401.3,619.9 1401.8,603.5 1402.2,620.6 1403.1,617.9 1403.5,634.7 1404.3,623.2 1405.2,634.2 1405.6,608.9 1406.0,630.0 1407.3,634.3 1407.8,641.7 1408.2,631.6 1409.0,638.6 1409.5,632.1 1409.9,645.8 1410.7,643.1 1411.6,633.3 1412.0,642.3 1412.5,629.9 1413.7,640.7 1414.2,621.6 1414.6,644.5 1415.4,637.5 1416.3,644.2 1416.7,638.1 1417.2,635.9 1418.0,633.4 1418.9,642.6 1419.3,647.2 1419.7,624.9 1420.2,644.5 1421.4,634.0 1421.9,645.6 1422.3,643.4 1423.1,626.6 1423.6,648.8 1424.4,633.5 1425.3,637.9 1425.7,641.9 1426.1,634.2 1426.6,644.1 1427.4,642.1 1427.8,638.2 1429.1,640.8 1429.6,625.9 1430.0,635.9 1430.4,647.1 1431.3,636.4 1431.7,648.2 1433.0,650.6 1433.4,638.2 1433.8,645.4 1434.3,633.7 1435.1,644.0 1435.5,631.3 1436.8,631.8 1437.2,647.4 1438.1,632.3 1438.5,643.6 1439.0,630.0 1439.4,638.1 1440.7,628.9 1441.1,643.9 1441.9,646.1 1442.4,631.5 1442.8,647.1 1443.2,633.6 1444.5,631.2 1444.9,639.8 1445.4,647.9 1445.8,640.7 1446.6,636.3 1447.1,634.6 1447.9,642.1 1448.8,629.4 1449.6,606.6 1450.1,637.1 1450.9,622.5 1451.3,636.5 1452.2,630.4 1452.6,646.8 1453.5,618.2 1453.9,643.5 1454.3,641.0 1454.8,625.4 1455.6,635.5 1456.5,632.5 1456.9,632.8 1457.8,619.5 1458.6,630.5 1459.0,637.7 1459.5,639.9 1459.9,619.1 1460.7,638.3 1461.6,628.8 1462.0,608.8 1462.9,635.7 1463.3,624.9 1464.2,616.6 1464.6,625.2 1465.4,604.8 1466.3,620.2 1466.7,608.6 1467.2,605.1 1468.0,624.9 1468.4,627.2 1468.9,610.9 1469.7,594.7 1470.1,599.3 1471.0,628.4 1471.4,613.2 1472.7,628.1 1473.1,632.8 1474.0,634.1 1474.4,614.4 1474.8,627.5 1475.7,606.8 1476.1,627.6 1476.6,638.7 1477.8,636.7 1478.3,607.6 1478.7,639.8 1479.5,625.3 1480.4,625.0 1480.8,631.6 1481.7,646.9 1482.1,625.8 1482.5,628.3 1483.4,640.1 1483.8,646.3 1484.3,632.9 1485.5,627.6 1486.0,647.0 1486.4,638.2 1486.8,636.8 1487.7,639.0 1488.5,649.8 1489.4,630.4 1489.8,648.7 1490.2,648.2 1491.1,623.1 1491.5,644.9 1492.4,624.3 1492.8,624.7 1493.2,648.9 1494.1,642.0 1494.5,631.0 1495.4,630.5 1496.2,646.8 1496.6,628.1 1497.1,645.3 1497.9,627.0 1498.8,644.3 1499.2,638.0 1499.6,635.2 1500.5,647.6 1500.9,625.0 1502.2,632.1 1502.6,642.4 1503.1,630.2 1503.5,645.2 1504.8,627.5 1505.2,635.7 1506.0,634.1 1506.5,626.0 1507.3,637.8 1507.8,626.9 1508.2,645.6 1508.6,646.9 1509.5,644.8 1510.3,630.5 1510.7,645.5 1511.6,641.9 1512.0,640.2 1512.9,639.2 1513.3,644.6 1514.2,637.1 1514.6,642.4 1515.0,621.6 1516.3,644.7 1516.7,631.6 1517.2,638.4 1518.0,645.0 1518.4,637.8 1518.9,644.5 1519.7,645.1 1520.6,637.8 1521.4,637.1 1521.9,647.9 1522.7,648.1 1523.1,631.2 1524.0,638.6 1524.4,627.9 1524.8,631.1 1525.3,647.6 1526.6,641.7 1527.0,631.6 1527.4,648.7 1528.3,634.8 1528.7,624.0 1529.1,644.6 1530.0,647.3 1530.8,641.5 1531.7,634.9 1532.1,647.3 1532.5,646.5 1533.4,636.8 1533.8,641.8 1534.2,639.0 1535.5,641.1 1536.0,649.0 1536.8,637.7 1537.2,641.2 1537.7,639.0 1538.1,645.8 1539.4,642.1 1539.8,631.9 1540.2,645.8 1540.7,627.7 1541.5,617.9 1542.4,638.8 1543.2,626.6 1543.6,643.8 1544.1,621.6 1544.5,644.4 1545.8,651.9 1546.2,634.9 1547.1,621.0 1547.5,642.0 1547.9,640.3 1548.8,641.3 1549.2,640.9 1550.1,635.3 1550.9,631.1 1551.3,651.2 1552.2,632.2 1552.6,626.8 1553.1,645.9 1553.9,633.6 1554.3,635.7 1554.8,625.2 1555.6,636.9 1556.5,621.5 1556.9,622.1 1557.3,633.8 1558.2,645.2 1558.6,628.7 1559.9,625.3 1560.3,634.3 1561.2,637.7 1561.6,644.6 1562.5,629.3 1562.9,646.3 1563.3,643.9 1563.7,627.3 1564.6,644.7 1565.4,632.3 1566.3,644.6 1566.7,637.5 1567.2,637.8 1568.0,626.4 1568.4,638.5 1568.9,646.2 1570.1,641.2 1570.6,651.6 1571.0,637.9 1571.4,642.2 1572.3,649.0 1573.1,627.1 1573.6,626.4 1574.0,645.7 1574.8,647.3 1575.3,639.9 1576.6,631.5 1577.0,648.1 1577.4,625.0 1577.8,635.2 1579.1,647.0 1579.5,632.3 1580.0,624.1 1580.4,651.8 1581.7,643.4 1582.1,633.0 1583.0,645.1 1583.4,627.6 1584.2,645.6 1584.7,634.7 1585.1,639.4 1585.5,649.3 1586.4,626.9 1587.2,642.6 1587.7,635.1 1588.5,621.9 1589.4,639.2 1589.8,629.2 1590.7,628.3 1591.1,642.1 1591.9,642.2 1592.4,629.0 1592.8,651.2 1593.2,621.5 1594.1,651.5 1594.5,640.3 1595.4,651.2 1596.2,632.5 1597.1,649.3 1597.5,633.8 1597.9,634.9 1598.3,650.5 1599.6,639.3 1600.1,645.7 1600.5,628.4 1601.3,645.4 1601.8,620.1 1602.2,641.1 1603.0,634.9 1603.9,641.6 1604.3,633.2 1604.8,648.3 1606.0,635.1 1606.5,649.0 1606.9,644.2 1607.3,648.1 1608.2,641.5 1609.0,635.8 1609.5,621.4 1609.9,648.0 1611.2,634.3 1611.6,644.6 1612.5,642.1 1612.9,631.8 1613.3,641.5 1614.2,631.5 1615.0,637.9 1615.4,623.3 1616.3,641.3 1616.7,642.6 1617.6,634.2 1618.0,640.0 1618.4,641.4 1619.3,621.9 1619.7,618.7 1620.1,641.3 1621.4,618.0 1621.9,645.0 1622.3,652.6 1623.1,631.1 1623.6,645.2 1624.0,638.2 1624.8,625.0 1625.3,648.3 1626.1,645.6 1627.0,615.3 1627.8,631.2 1628.3,648.5 1629.1,640.7 1629.5,628.5 1630.4,642.0 1630.8,634.7 1631.7,649.8 1632.1,631.5 1632.5,633.1 1633.4,647.3 1633.8,644.4 1634.2,631.2 1635.1,636.7 1636.0,645.0 1636.8,646.0 1637.2,624.4 1637.7,641.7 1638.5,629.3 1639.4,641.8 1639.8,630.9 1640.7,641.9 1641.1,639.0 1641.5,648.1 1642.4,636.1 1642.8,640.4 1643.6,624.8 1644.1,637.5 1644.9,634.3 1645.4,618.2 1645.8,635.3 1646.6,627.7 1647.1,640.1 1647.9,628.0 1648.3,638.5 1649.2,645.3 1650.1,637.7 1650.5,638.4 1650.9,635.1 1651.8,631.1 1652.6,648.9 1653.0,641.1 1653.5,647.8 1654.3,623.7 1654.8,640.9 1656.0,647.9 1656.5,645.3 1657.3,634.9 1657.7,648.3 1658.6,641.1 1659.0,635.3 1659.5,644.2 1659.9,630.4 1661.2,630.5 1661.6,636.9 1662.4,634.5 1662.9,640.6 1663.3,644.3 1663.7,636.9 1664.6,638.2 1665.0,632.5 1665.9,645.3 1666.7,631.8 1667.6,637.4 1668.0,614.8 1668.9,642.2 1669.3,630.3 1669.7,621.3 1670.1,638.1 1671.0,620.5 1671.4,646.5 1672.3,630.1 1672.7,634.0 1673.6,627.6 1674.0,641.3 1674.8,637.0 1675.3,643.7 1676.1,637.0 1677.0,631.4 1677.4,633.5 1677.8,644.2 1678.7,634.3 1679.5,631.4 1680.0,631.3 1680.8,647.8 1681.7,637.8 1682.1,633.8 1683.0,637.2 1683.4,650.2 1684.2,616.8 1684.7,635.5 1685.1,636.1 1685.5,641.2 1686.4,626.2 1687.2,650.3 1688.1,638.6 1688.5,636.3 1688.9,643.7 1689.4,638.9 1690.2,639.1 1690.7,645.6 1691.5,621.9 1691.9,639.0 1692.8,646.2 1693.2,628.9 1694.5,616.9 1694.9,621.6 1695.4,643.8 1696.2,627.7 1697.1,635.0 1697.5,619.1 1697.9,638.7 1698.3,628.9 1699.6,615.0 1700.1,626.9 1700.5,630.9 1700.9,623.6 1701.8,631.3 1702.2,609.2 1703.5,602.9 1703.9,608.8 1704.3,612.7 1705.2,589.4 1706.0,573.7 1706.5,598.0 1706.9,566.7 1707.7,571.2 1708.2,580.0 1709.0,564.7 1709.9,552.7 1710.3,538.6 1710.7,527.6 1711.2,495.6 1712.0,499.6 1712.9,487.5 1713.3,529.4 1713.7,516.3 1715.0,502.9 1715.4,549.3 1716.3,523.9 1716.7,542.3 1717.1,584.2 1718.0,551.9 1718.4,588.3 1719.3,600.4 1720.1,608.4 1720.6,602.6 1721.0,619.2 1721.8,612.5 1722.3,618.4 1723.1,626.0 1724.0,622.8 1724.4,633.7 1724.8,626.8 1725.3,612.6 1726.1,614.2 1726.5,632.7 1727.8,617.0 1728.3,641.2 1728.7,637.7 1729.5,617.2 1730.4,637.8 1730.8,618.9 1731.2,635.6 1732.1,618.7 1733.0,644.9 1733.4,638.0 1733.8,625.1 1734.7,639.2 1735.5,649.7 1735.9,632.2 1736.8,629.4 1737.2,643.0 1737.7,632.9 1738.5,643.6 1738.9,640.3 1739.8,633.1 1740.2,640.1 1741.1,633.3 1741.9,641.0 1742.4,633.8 1743.2,627.2 1743.6,636.5 1744.5,646.3 1744.9,630.3 1745.8,622.8 1746.2,627.6 1747.1,644.3 1747.5,625.6 1747.9,634.1 1748.3,632.2 1749.2,633.6 1750.1,647.9 1750.9,630.5 1751.3,644.3 1752.2,635.0 1752.6,626.2 1753.5,627.8 1753.9,637.0 1754.3,631.5 1754.8,638.9 1755.6,623.9 1756.5,637.2 1757.3,644.6 1757.7,628.9 1758.6,627.9 1759.0,642.9 1759.9,644.4 1760.3,630.8 1760.7,643.8 1761.2,630.9 1762.0,640.2 1762.9,637.1 1763.3,637.9 1763.7,644.9 1765.0,638.0 1765.4,645.1 1765.9,634.8 1766.7,642.8 1767.1,640.7 1767.6,638.0 1768.4,644.0 1769.3,635.5 1769.7,631.2 1770.1,634.7 1771.0,635.3 1771.8,645.7 1772.3,644.2 1773.1,628.6 1774.0,635.3 1774.4,644.2 1775.3,642.6 1775.7,625.7 1776.1,638.7 1777.0,648.3 1777.8,637.6 1778.3,644.6 1778.7,634.4 1779.1,645.0 1780.0,638.1 1780.8,624.4 1781.7,631.8 1782.1,637.3 1782.5,639.4 1783.0,637.2 1784.2,642.5 1784.7,638.0 1785.1,635.5 1785.5,631.5 1786.4,645.3 1787.2,633.5 1787.7,628.7 1788.5,642.1 1788.9,644.2 1789.4,648.8 1790.2,634.5 1791.1,641.2 1791.5,628.3 1791.9,647.7 1792.8,642.3 1793.6,633.4 1794.1,633.5 1794.5,638.2 1795.3,640.6 1795.8,647.0 1797.1,641.4 1797.5,634.8 1797.9,635.5 1798.3,642.5 1799.2,621.9 1799.6,638.6 1800.5,627.0 1800.9,638.1 1801.8,640.4 1802.6,642.0 1803.0,645.1 1803.5,631.1 1804.8,644.9 1805.2,630.7 1805.6,634.8 1806.5,642.5 1806.9,644.9 1807.7,633.5 1808.2,631.6 1809.0,647.6 1809.5,630.1 1810.3,634.8 1810.7,644.5 1811.6,631.8 1812.4,630.8 1812.9,638.9 1813.3,622.5 1814.2,645.9 1815.0,643.1 1815.4,620.1 1815.9,641.0 1816.7,624.7 1817.6,645.9 1818.0,625.9 1818.9,636.9 1819.3,643.3 1819.7,627.1 1820.1,634.7 1821.0,649.4 1821.4,626.6 1822.3,631.9 1823.1,649.4 1824.0,632.9 1824.4,645.9 1825.3,634.5 1825.7,640.9 1826.5,636.4 1827.0,643.2 1827.4,631.9 1828.3,641.0 1829.1,643.0 1829.5,625.9 1830.0,623.6 1830.8,642.3 1831.2,629.1 1831.7,639.7 1832.5,638.4 1833.4,628.7 1833.8,638.8 1834.7,623.3 1835.1,631.6 1835.5,637.5 1836.4,628.0 1837.2,633.0 1837.7,637.6 1838.5,634.4 1838.9,629.5 1839.4,636.8 1840.6,618.7 1841.1,633.9 1841.5,633.9 1842.4,623.9 1843.2,628.1 1843.6,611.5 1844.5,634.7 1844.9,620.0 1845.8,624.8 1846.2,599.2 1847.1,611.8 1847.5,618.9 1847.9,624.5 1848.8,609.7 1849.6,612.8 1850.0,608.7 1850.9,604.0 1851.3,623.9 1851.8,621.6 1852.2,617.0 1853.5,620.6 1853.9,614.8 1854.3,625.6 1855.2,610.5 1855.6,627.3 1856.0,603.8 1856.9,622.2 1857.3,630.0 1858.6,610.3 1859.0,627.5 1859.4,610.9 1860.3,631.0 1860.7,616.4 1861.2,626.2 1862.0,620.2 1862.4,625.7 1863.7,622.3 1864.1,632.4 1865.0,613.7 1865.4,638.5 1865.9,621.3 1866.7,642.2 1867.1,622.5 1867.6,641.8 1868.4,637.1 1868.9,635.8 1869.7,637.1 1870.1,620.9 1871.0,642.8 1871.4,627.4 1872.3,639.2 1872.7,622.2 1874.0,629.7 1874.4,639.8 1874.8,647.2 1875.3,626.9 1876.1,629.1 1877.0,643.0 1877.4,643.6 1878.3,625.1 1879.1,651.1 1879.5,632.8 1880.0,644.4 1880.8,623.1 1881.2,638.1 1881.7,642.5 1882.5,635.1 1883.0,645.5 1883.8,633.3 1884.2,643.5 1885.1,640.3 1885.5,629.9 1886.4,626.4 1886.8,645.1 1888.1,627.1 1888.5,640.9 1888.9,645.5 1889.4,633.9 1890.2,638.0 1890.6,645.5 1891.9,630.9 1892.4,647.0 1893.2,631.1 1893.6,640.6 1894.1,641.3 1894.9,623.8 1895.3,646.0 1896.2,638.3 1896.6,641.5 1897.1,637.0 1898.3,632.2 1898.8,645.6 1899.2,645.4 1900.0,635.2 1900.9,637.8 1901.3,631.3 1901.8,628.6 1902.2,642.4 1903.0,619.1 1903.5,645.6 1904.7,628.3 1905.2,646.0 1905.6,632.9 1906.0,641.5 1907.3,645.8 1907.7,634.3 1908.6,643.2 1909.0,632.4 1909.4,638.1 1909.9,645.3 1911.2,640.9 1911.6,645.2 1912.0,638.4 1912.4,641.4 1913.7,639.5 1914.1,624.5 1914.6,634.1 1915.0,644.8 1915.9,649.1 1916.3,621.4 1917.6,641.5 1918.0,637.5 1918.4,634.0 1918.8,641.2 1920.1,641.5 1920.6,633.3 1921.4,647.6 1921.8,642.7 1922.7,631.6 1923.1,647.6 1924.0,635.0 1924.4,642.5 1924.8,634.4 1925.7,644.3 1926.1,645.4 1927.0,624.3 1927.4,647.7 1928.2,637.9 1929.1,639.1 1929.5,631.4 1930.0,627.8 1930.8,641.3 1931.7,631.0 1932.1,635.4 1932.5,644.1 1933.0,628.5 1933.8,634.6 1934.7,638.4 1935.5,627.6 1935.9,647.5 1936.8,643.1 1937.2,637.5 1937.7,648.4 1938.5,634.9 1938.9,642.1 1939.4,634.3 1940.2,638.6 1941.1,647.7 1941.5,635.8 1942.4,644.3 1942.8,631.5 1943.6,638.5 1944.1,629.1 1944.9,645.5 1945.3,643.4 1945.8,629.7 1947.1,628.2 1947.5,638.5 1948.3,644.3 1948.8,642.1 1949.2,619.4 1950.0,645.2 1950.5,632.1 1950.9,645.5 1951.8,635.6 1952.2,640.5 1953.5,642.0 1953.9,627.2 1954.3,635.3 1955.2,641.7 1955.6,625.0 1956.5,641.4 1956.9,637.1 1957.7,627.8 1958.2,645.4 1959.0,631.8 1959.9,631.4 1960.3,641.5 1960.7,638.3 1961.6,631.1 1962.4,645.2 1962.9,631.5 1963.7,641.2 1964.1,634.8 1964.6,644.8 1965.0,637.9 1965.9,625.7 1966.7,650.0 1967.1,628.5 1967.6,644.7 1968.8,636.3 1969.3,645.9 1970.1,647.7 1970.6,638.7 1971.0,641.2 1971.8,642.7 1972.3,648.0 1973.1,629.0 1974.0,632.3 1974.4,635.3 1975.3,641.3 1975.7,631.2 1976.1,630.4 1977.0,642.7 1977.8,632.9 1978.2,645.6 1978.7,639.7 1979.5,625.6 1980.0,645.4 1980.8,640.8 1981.2,645.5 1982.1,635.5 1982.5,646.4 1983.4,623.0 1983.8,607.2 1984.2,641.5 1985.1,631.6 1985.5,644.3 1986.4,641.6 1987.2,633.3 1987.6,647.8 1988.5,641.3 1989.4,634.1 1989.8,634.9 1990.2,636.5 1990.6,649.5 1991.9,648.2 1992.3,644.3 1992.8,648.9 1993.2,636.0 1994.1,646.0 1994.9,628.3 1995.3,625.9 1996.2,641.4 1996.6,641.7 1997.1,637.3 1998.3,633.9 1998.8,641.5 1999.6,640.4 2000.0,628.8 2000.5,638.0 2001.3,645.0 2001.8,638.2 2002.2,628.2 2003.5,624.9 2003.9,640.7 2004.7,637.0 2005.2,644.4 2005.6,648.3 2006.5,628.7 2006.9,628.6 2007.3,641.8 2008.2,634.6 2008.6,644.8 2009.4,641.8 2009.9,642.6 2010.7,639.0 2011.2,634.8 2012.4,634.8 2012.9,639.0 2013.7,634.0 2014.1,631.5 2014.6,638.4 2015.4,624.8 2015.9,642.2 2016.7,634.3 2017.1,628.2 2018.0,646.6 2018.4,641.6 2018.8,648.8 2020.1,645.8 2020.6,638.0 2021.0,636.2 2021.4,641.4 2022.3,640.1 2022.7,631.1 2023.5,648.7 2024.4,638.8 2024.8,651.6 2025.7,638.8 2026.5,639.6 2027.0,623.0 2027.4,639.6 2027.8,644.4 2029.1,648.6 2029.5,636.6 2030.4,652.2 2030.8,634.2 2031.2,632.0 2031.7,649.2 2032.5,651.7 2032.9,641.5 2033.8,634.3 2034.7,646.4 2035.5,640.0 2035.9,630.8 2036.4,648.2 2036.8,631.4 2037.6,622.5 2038.5,635.9 2039.4,644.9 2039.8,636.2 2040.2,634.6 2040.6,645.1 2041.9,640.5 2042.3,652.5 2042.8,648.9 2043.2,644.1 2044.1,645.9 2044.5,632.0 2045.8,642.3 2046.2,633.7 2046.6,628.3 2047.0,641.5 2047.9,645.0 2048.8,640.9 2049.6,634.1 2050.0,643.1 2050.5,641.0 2051.3,647.7 2052.2,631.2 2052.6,648.4 2053.5,648.1 2053.9,630.6 2054.3,641.9 2055.2,631.2 2055.6,652.3 2056.0,627.1 2057.3,640.1 2057.7,616.2 2058.2,633.1 2058.6,636.9 2059.9,648.0 2060.3,630.8 2060.7,637.7 2061.6,613.3 2062.0,631.8 2062.4,617.8 2063.3,609.9 2064.1,607.7 2064.6,624.4 2065.0,607.8 2065.9,609.4 2066.3,634.8 2067.1,627.7 2068.0,629.1 2068.4,630.4 2069.3,625.6 2070.1,633.5 2070.6,643.1 2071.0,636.9 2071.4,648.9 2072.7,633.9 2073.1,636.5 2073.5,633.3 2074.4,641.4 2074.8,628.3 2075.3,638.6 2076.1,635.9 2076.5,643.5 2077.8,631.4 2078.2,641.1 2078.7,634.3 2079.5,645.2 2080.0,621.3 2080.4,637.6 2081.2,629.4 2082.1,639.4 2082.5,631.1 2083.4,648.9 2084.2,625.5 2084.7,643.3 2085.1,628.6 2085.9,641.0 2086.8,640.9 2087.2,619.3 2087.6,637.1 2088.5,644.1"/>
<polyline class="c" stroke="#000" stroke-width="3.0" stroke-linejoin="round" points="165.5,637.8 166.8,636.5 168.1,634.9 169.3,634.1 170.6,635.2 171.9,634.5 173.2,635.1 174.5,637.5 175.8,637.8 177.0,638.0 178.3,638.2 179.6,638.9 180.9,637.2 182.2,638.2 183.4,638.6 184.7,638.9 186.0,637.5 187.3,637.8 188.6,636.1 189.9,636.1 191.1,635.9 192.4,636.6 193.7,636.3 195.0,636.2 196.3,636.5 197.5,637.6 198.8,637.0 200.1,637.5 201.4,637.8 202.7,635.4 204.0,635.3 205.2,636.5 206.5,636.6 207.8,639.4 209.1,641.7 210.4,642.1 211.7,641.5 212.9,641.8 214.2,640.3 215.5,638.6 216.8,637.0 218.1,637.3 219.3,635.8 220.6,634.0 221.9,636.4 223.2,638.9 224.5,639.7 225.8,642.1 227.0,643.0 228.3,641.6 229.6,639.4 230.9,639.7 232.2,639.7 233.4,640.0 234.7,637.4 236.0,637.5 237.3,635.9 238.6,636.7 239.9,637.8 241.1,640.3 242.4,640.5 243.7,641.1 245.0,638.3 246.3,638.3 247.5,640.6 248.8,642.0 250.1,640.9 251.4,642.3 252.7,641.6 254.0,638.6 255.2,638.4 256.5,638.9 257.8,638.8 259.1,638.8 260.4,640.3 261.6,638.6 262.9,640.9 264.2,641.0 265.5,640.9 266.8,641.6 268.1,642.4 269.3,639.5 270.6,637.7 271.9,635.4 273.2,633.4 274.5,632.8 275.8,632.2 277.0,631.7 278.3,636.0 279.6,637.9 280.9,638.6 282.2,643.7 283.4,646.9 284.7,644.6 286.0,642.5 287.3,644.0 288.6,641.4 289.9,639.9 291.1,639.8 292.4,640.4 293.7,638.6 295.0,637.4 296.3,638.4 297.5,640.0 298.8,641.5 300.1,642.2 301.4,641.3 302.7,641.1 304.0,640.1 305.2,639.4 306.5,639.2 307.8,639.0 309.1,638.5 310.4,639.0 311.6,637.3 312.9,635.5 314.2,638.8 315.5,638.7 316.8,637.9 318.1,638.9 319.3,640.3 320.6,638.8 321.9,638.8 323.2,637.0 324.5,636.9 325.7,636.1 327.0,637.2 328.3,635.7 329.6,636.6 330.9,638.0 332.2,637.8 333.4,635.8 334.7,637.7 336.0,639.0 337.3,637.4 338.6,638.2 339.9,638.3 341.1,637.8 342.4,639.0 343.7,639.2 345.0,639.3 346.3,640.6 347.5,639.1 348.8,639.1 350.1,640.1 351.4,639.2 352.7,639.9 354.0,642.6 355.2,640.1 356.5,638.0 357.8,639.6 359.1,638.7 360.4,636.8 361.6,637.3 362.9,636.6 364.2,635.5 365.5,634.9 366.8,634.4 368.1,635.9 369.3,637.4 370.6,638.2 371.9,637.9 373.2,637.5 374.5,636.4 375.7,638.5 377.0,640.4 378.3,642.0 379.6,642.7 380.9,643.9 382.2,643.3 383.4,640.9 384.7,638.7 386.0,638.8 387.3,638.0 388.6,638.8 389.8,638.2 391.1,638.9 392.4,639.4 393.7,639.2 395.0,638.1 396.3,639.9 397.5,640.3 398.8,640.5 400.1,639.6 401.4,638.7 402.7,634.5 404.0,635.0 405.2,633.3 406.5,633.5 407.8,635.4 409.1,637.0 410.4,636.4 411.6,638.3 412.9,638.3 414.2,637.6 415.5,639.3 416.8,642.0 418.1,641.5 419.3,642.0 420.6,640.6 421.9,639.7 423.2,637.7 424.5,637.1 425.7,636.7 427.0,637.4 428.3,637.6 429.6,636.5 430.9,635.7 432.2,635.0 433.4,636.9 434.7,636.5 436.0,638.8 437.3,640.4 438.6,640.7 439.8,640.0 441.1,642.6 442.4,643.2 443.7,642.4 445.0,645.6 446.3,644.0 447.5,640.9 448.8,640.3 450.1,640.7 451.4,637.5 452.7,636.7 453.9,636.2 455.2,636.2 456.5,636.8 457.8,637.7 459.1,638.3 460.4,639.9 461.6,638.8 462.9,638.7 464.2,638.2 465.5,639.4 466.8,640.1 468.1,638.3 469.3,637.7 470.6,638.5 471.9,636.5 473.2,635.9 474.5,633.6 475.7,630.6 477.0,627.9 478.3,629.9 479.6,628.1 480.9,630.7 482.2,635.4 483.4,637.6 484.7,639.0 486.0,640.2 487.3,641.4 488.6,639.4 489.8,639.6 491.1,638.1 492.4,639.4 493.7,639.9 495.0,640.3 496.3,638.7 497.5,639.5 498.8,638.4 500.1,638.6 501.4,637.7 502.7,638.8 503.9,640.1 505.2,640.7 506.5,642.9 507.8,640.3 509.1,638.5 510.4,636.9 511.6,637.5 512.9,635.6 514.2,638.8 515.5,639.7 516.8,639.6 518.0,638.1 519.3,639.5 520.6,640.3 521.9,641.2 523.2,641.3 524.5,641.8 525.7,641.6 527.0,641.1 528.3,641.6 529.6,641.0 530.9,642.1 532.2,639.7 533.4,638.4 534.7,637.6 536.0,638.1 537.3,637.6 538.6,639.2 539.8,640.4 541.1,640.4 542.4,639.9 543.7,640.6 545.0,639.6 546.3,638.2 547.5,637.2 548.8,638.9 550.1,637.3 551.4,638.7 552.7,640.0 553.9,641.1 555.2,637.5 556.5,637.6 557.8,636.7 559.1,635.8 560.4,635.2 561.6,634.1 562.9,634.1 564.2,632.1 565.5,632.6 566.8,630.1 568.0,632.3 569.3,631.7 570.6,631.0 571.9,631.7 573.2,634.1 574.5,635.6 575.7,637.1 577.0,640.2 578.3,641.0 579.6,640.7 580.9,638.7 582.1,637.4 583.4,636.8 584.7,635.0 586.0,635.9 587.3,637.0 588.6,638.8 589.8,638.3 591.1,640.3 592.4,640.5 593.7,640.8 595.0,639.0 596.3,639.2 597.5,638.4 598.8,640.1 600.1,640.2 601.4,639.1 602.7,638.7 603.9,637.8 605.2,634.1 606.5,633.1 607.8,635.6 609.1,635.3 610.4,636.6 611.6,637.2 612.9,638.9 614.2,638.6 615.5,639.1 616.8,639.6 618.0,640.8 619.3,639.7 620.6,640.0 621.9,639.5 623.2,637.9 624.5,637.5 625.7,637.4 627.0,637.8 628.3,640.6 629.6,641.3 630.9,639.6 632.1,640.8 633.4,638.2 634.7,635.7 636.0,634.5 637.3,634.1 638.6,633.0 639.8,630.8 641.1,629.7 642.4,628.2 643.7,628.5 645.0,628.4 646.2,628.2 647.5,630.2 648.8,630.6 650.1,632.1 651.4,633.3 652.7,636.8 653.9,637.7 655.2,637.7 656.5,638.3 657.8,639.2 659.1,639.7 660.4,639.1 661.6,641.4 662.9,640.5 664.2,638.2 665.5,637.9 666.8,636.5 668.0,636.7 669.3,637.4 670.6,639.8 671.9,641.2 673.2,644.9 674.5,642.3 675.7,642.9 677.0,641.3 678.3,639.8 679.6,639.3 680.9,638.6 682.1,637.0 683.4,637.1 684.7,636.8 686.0,634.4 687.3,633.3 688.6,635.1 689.8,634.7 691.1,634.6 692.4,634.6 693.7,639.2 695.0,639.5 696.2,641.1 697.5,641.4 698.8,641.2 700.1,639.8 701.4,637.3 702.7,635.8 703.9,636.4 705.2,639.2 706.5,637.9 707.8,640.1 709.1,641.5 710.3,639.4 711.6,637.7 712.9,639.0 714.2,636.9 715.5,634.6 716.8,635.6 718.0,633.1 719.3,633.1 720.6,637.1 721.9,639.8 723.2,642.0 724.5,643.8 725.7,642.2 727.0,639.9 728.3,637.0 729.6,634.9 730.9,634.6 732.1,635.9 733.4,634.9 734.7,636.1 736.0,637.5 737.3,636.9 738.6,636.6 739.8,639.4 741.1,642.2 742.4,640.3 743.7,642.1 745.0,641.8 746.2,640.0 747.5,636.8 748.8,638.6 750.1,636.7 751.4,636.5 752.7,636.0 753.9,634.8 755.2,632.7 756.5,633.6 757.8,634.6 759.1,636.6 760.3,638.4 761.6,638.6 762.9,639.7 764.2,638.7 765.5,637.9 766.8,639.1 768.0,640.3 769.3,639.3 770.6,640.0 771.9,638.6 773.2,638.9 774.4,637.3 775.7,636.8 777.0,635.3 778.3,635.5 779.6,632.8 780.9,632.9 782.1,635.7 783.4,636.2 784.7,636.0 786.0,636.9 787.3,636.9 788.6,632.1 789.8,634.9 791.1,636.8 792.4,635.5 793.7,635.9 795.0,637.9 796.2,637.7 797.5,635.9 798.8,635.0 800.1,635.6 801.4,636.3 802.7,633.2 803.9,633.9 805.2,634.0 806.5,633.9 807.8,634.4 809.1,633.9 810.3,632.1 811.6,631.6 812.9,630.2 814.2,625.5 815.5,621.9 816.8,617.1 818.0,610.8 819.3,599.3 820.6,585.8 821.9,569.0 823.2,540.3 824.4,513.3 825.7,484.3 827.0,462.2 828.3,461.1 829.6,480.8 830.9,508.3 832.1,538.4 833.4,562.4 834.7,576.1 836.0,595.5 837.3,603.4 838.5,607.4 839.8,610.3 841.1,613.7 842.4,613.1 843.7,609.7 845.0,609.4 846.2,611.1 847.5,612.2 848.8,608.6 850.1,611.5 851.4,616.0 852.7,619.7 853.9,620.9 855.2,623.3 856.5,625.3 857.8,625.8 859.1,624.7 860.3,624.1 861.6,623.1 862.9,626.8 864.2,626.0 865.5,629.3 866.8,631.8 868.0,635.4 869.3,632.7 870.6,629.8 871.9,627.0 873.2,626.9 874.4,624.9 875.7,625.7 877.0,628.6 878.3,629.7 879.6,628.9 880.9,633.8 882.1,635.3 883.4,636.7 884.7,637.2 886.0,636.1 887.3,633.8 888.5,632.2 889.8,631.0 891.1,628.1 892.4,627.2 893.7,623.0 895.0,621.8 896.2,616.4 897.5,611.0 898.8,599.2 900.1,587.7 901.4,568.6 902.6,548.4 903.9,524.2 905.2,503.5 906.5,482.7 907.8,484.0 909.1,497.0 910.3,520.3 911.6,545.8 912.9,570.5 914.2,584.5 915.5,600.2 916.8,607.3 918.0,615.0 919.3,618.5 920.6,624.1 921.9,626.0 923.2,627.1 924.4,626.1 925.7,629.4 927.0,627.9 928.3,628.8 929.6,629.8 930.9,630.5 932.1,626.5 933.4,621.6 934.7,616.6 936.0,610.7 937.3,604.8 938.5,593.6 939.8,584.6 941.1,575.2 942.4,569.9 943.7,568.5 945.0,573.6 946.2,581.8 947.5,589.4 948.8,598.0 950.1,604.1 951.4,612.3 952.6,619.5 953.9,623.4 955.2,628.1 956.5,628.9 957.8,629.6 959.1,632.4 960.3,634.7 961.6,633.7 962.9,635.1 964.2,636.2 965.5,635.1 966.7,633.2 968.0,632.9 969.3,634.6 970.6,637.0 971.9,635.0 973.2,636.1 974.4,638.3 975.7,635.7 977.0,631.5 978.3,633.9 979.6,634.6 980.9,635.3 982.1,638.0 983.4,640.2 984.7,639.6 986.0,638.2 987.3,637.3 988.5,636.3 989.8,637.9 991.1,637.4 992.4,639.3 993.7,639.1 995.0,637.5 996.2,634.8 997.5,636.2 998.8,635.9 1000.1,636.1 1001.4,638.3 1002.6,642.8 1003.9,641.3 1005.2,639.0 1006.5,638.8 1007.8,637.8 1009.1,634.9 1010.3,636.8 1011.6,640.5 1012.9,641.9 1014.2,642.6 1015.5,644.0 1016.7,644.5 1018.0,642.3 1019.3,641.8 1020.6,642.5 1021.9,641.3 1023.2,638.9 1024.4,639.7 1025.7,639.2 1027.0,637.7 1028.3,637.5 1029.6,638.1 1030.8,638.8 1032.1,638.0 1033.4,638.5 1034.7,639.2 1036.0,639.9 1037.3,638.8 1038.5,638.3 1039.8,636.7 1041.1,636.1 1042.4,634.5 1043.7,635.2 1045.0,637.7 1046.2,636.9 1047.5,636.7 1048.8,636.3 1050.1,635.7 1051.4,634.5 1052.6,637.4 1053.9,637.1 1055.2,638.6 1056.5,638.9 1057.8,638.7 1059.1,636.9 1060.3,639.8 1061.6,638.4 1062.9,638.6 1064.2,639.2 1065.5,639.9 1066.7,639.7 1068.0,641.4 1069.3,642.1 1070.6,641.4 1071.9,642.0 1073.2,640.4 1074.4,640.9 1075.7,639.0 1077.0,638.6 1078.3,641.1 1079.6,640.2 1080.8,638.3 1082.1,637.8 1083.4,638.5 1084.7,633.3 1086.0,631.3 1087.3,626.6 1088.5,623.9 1089.8,625.1 1091.1,629.4 1092.4,630.9 1093.7,635.6 1094.9,636.9 1096.2,635.6 1097.5,633.9 1098.8,636.3 1100.1,636.2 1101.4,640.1 1102.6,639.5 1103.9,641.7 1105.2,639.9 1106.5,638.7 1107.8,637.0 1109.1,639.5 1110.3,639.2 1111.6,639.5 1112.9,641.2 1114.2,639.7 1115.5,640.1 1116.7,640.2 1118.0,639.2 1119.3,636.8 1120.6,639.2 1121.9,638.6 1123.2,636.6 1124.4,638.5 1125.7,641.1 1127.0,637.8 1128.3,635.2 1129.6,636.2 1130.8,634.7 1132.1,634.1 1133.4,636.9 1134.7,639.5 1136.0,639.4 1137.3,641.0 1138.5,639.8 1139.8,639.3 1141.1,639.7 1142.4,638.8 1143.7,637.6 1144.9,637.5 1146.2,637.4 1147.5,637.3 1148.8,639.4 1150.1,637.7 1151.4,636.7 1152.6,636.4 1153.9,635.5 1155.2,635.6 1156.5,636.8 1157.8,637.4 1159.0,635.8 1160.3,636.0 1161.6,635.1 1162.9,632.6 1164.2,633.5 1165.5,635.8 1166.7,634.9 1168.0,635.6 1169.3,639.4 1170.6,639.9 1171.9,639.3 1173.2,640.8 1174.4,640.3 1175.7,639.0 1177.0,638.6 1178.3,637.4 1179.6,637.0 1180.8,636.6 1182.1,636.3 1183.4,635.3 1184.7,636.6 1186.0,636.3 1187.3,638.2 1188.5,637.8 1189.8,639.6 1191.1,639.2 1192.4,639.9 1193.7,638.8 1194.9,639.8 1196.2,638.9 1197.5,638.9 1198.8,638.5 1200.1,639.1 1201.4,640.5 1202.6,642.5 1203.9,643.4 1205.2,643.4 1206.5,642.3 1207.8,641.6 1209.0,639.3 1210.3,638.5 1211.6,636.0 1212.9,635.7 1214.2,635.9 1215.5,636.8 1216.7,637.6 1218.0,639.2 1219.3,639.0 1220.6,638.1 1221.9,637.7 1223.1,637.2 1224.4,638.4 1225.7,640.2 1227.0,641.3 1228.3,640.8 1229.6,639.3 1230.8,638.8 1232.1,638.2 1233.4,637.4 1234.7,639.3 1236.0,641.6 1237.3,643.3 1238.5,642.6 1239.8,642.1 1241.1,639.9 1242.4,639.9 1243.7,640.6 1244.9,640.4 1246.2,641.3 1247.5,641.3 1248.8,640.3 1250.1,637.3 1251.4,637.2 1252.6,637.2 1253.9,636.1 1255.2,636.8 1256.5,638.6 1257.8,639.1 1259.0,637.0 1260.3,638.3 1261.6,637.4 1262.9,637.1 1264.2,637.6 1265.5,638.4 1266.7,639.6 1268.0,638.3 1269.3,639.0 1270.6,637.7 1271.9,635.9 1273.1,633.6 1274.4,635.6 1275.7,632.7 1277.0,633.9 1278.3,636.7 1279.6,636.8 1280.8,634.8 1282.1,636.4 1283.4,634.7 1284.7,634.1 1286.0,637.1 1287.2,637.9 1288.5,638.0 1289.8,639.8 1291.1,639.8 1292.4,638.3 1293.7,639.7 1294.9,639.5 1296.2,639.9 1297.5,639.8 1298.8,638.1 1300.1,636.8 1301.4,637.7 1302.6,636.7 1303.9,637.3 1305.2,640.2 1306.5,640.3 1307.8,639.7 1309.0,639.8 1310.3,640.8 1311.6,640.1 1312.9,643.2 1314.2,644.4 1315.5,641.8 1316.7,638.0 1318.0,636.8 1319.3,633.3 1320.6,630.8 1321.9,631.8 1323.1,634.3 1324.4,635.1 1325.7,637.1 1327.0,637.9 1328.3,637.3 1329.6,637.2 1330.8,637.4 1332.1,635.1 1333.4,634.9 1334.7,636.4 1336.0,635.4 1337.2,631.2 1338.5,630.4 1339.8,628.0 1341.1,625.0 1342.4,623.9 1343.7,626.4 1344.9,627.3 1346.2,630.5 1347.5,633.9 1348.8,636.0 1350.1,637.7 1351.3,639.0 1352.6,638.2 1353.9,636.3 1355.2,637.8 1356.5,637.6 1357.8,635.8 1359.0,638.4 1360.3,638.8 1361.6,637.8 1362.9,640.2 1364.2,640.0 1365.5,639.5 1366.7,638.4 1368.0,639.3 1369.3,637.3 1370.6,638.5 1371.9,635.9 1373.1,637.8 1374.4,636.5 1375.7,636.2 1377.0,635.9 1378.3,636.1 1379.6,634.7 1380.8,633.7 1382.1,633.8 1383.4,633.7 1384.7,634.1 1386.0,635.2 1387.2,635.9 1388.5,634.3 1389.8,634.1 1391.1,629.9 1392.4,629.6 1393.7,624.1 1394.9,621.0 1396.2,618.8 1397.5,620.6 1398.8,619.3 1400.1,622.2 1401.3,623.7 1402.6,625.0 1403.9,628.4 1405.2,628.8 1406.5,632.8 1407.8,635.0 1409.0,635.4 1410.3,635.9 1411.6,636.3 1412.9,633.1 1414.2,633.8 1415.4,636.4 1416.7,636.8 1418.0,638.5 1419.3,639.3 1420.6,639.0 1421.9,637.2 1423.1,637.2 1424.4,636.0 1425.7,638.1 1427.0,638.8 1428.3,637.6 1429.6,636.8 1430.8,638.0 1432.1,636.9 1433.4,635.3 1434.7,638.1 1436.0,638.8 1437.2,636.7 1438.5,638.3 1439.8,639.0 1441.1,637.9 1442.4,637.5 1443.7,639.5 1444.9,638.6 1446.2,638.7 1447.5,639.8 1448.8,637.6 1450.1,638.0 1451.3,638.2 1452.6,638.7 1453.9,636.6 1455.2,636.9 1456.5,636.8 1457.8,636.0 1459.0,633.1 1460.3,631.5 1461.6,628.1 1462.9,621.3 1464.2,618.1 1465.4,614.8 1466.7,612.1 1468.0,613.1 1469.3,612.3 1470.6,613.5 1471.9,616.5 1473.1,621.6 1474.4,623.6 1475.7,630.2 1477.0,632.7 1478.3,634.4 1479.5,636.1 1480.8,637.3 1482.1,636.1 1483.4,636.5 1484.7,638.2 1486.0,637.8 1487.2,638.2 1488.5,638.1 1489.8,636.9 1491.1,636.9 1492.4,637.0 1493.7,637.8 1494.9,637.6 1496.2,638.3 1497.5,639.2 1498.8,639.5 1500.1,638.8 1501.3,640.2 1502.6,640.5 1503.9,639.5 1505.2,637.3 1506.5,637.9 1507.8,636.7 1509.0,635.2 1510.3,635.5 1511.6,637.5 1512.9,636.5 1514.2,638.2 1515.4,639.3 1516.7,640.2 1518.0,639.0 1519.3,641.1 1520.6,639.1 1521.9,636.6 1523.1,634.2 1524.4,633.6 1525.7,632.4 1527.0,632.8 1528.3,636.0 1529.5,636.2 1530.8,638.7 1532.1,638.2 1533.4,638.7 1534.7,638.2 1536.0,639.3 1537.2,637.7 1538.5,637.1 1539.8,636.7 1541.1,637.5 1542.4,637.5 1543.6,639.3 1544.9,641.1 1546.2,640.5 1547.5,638.7 1548.8,639.1 1550.1,637.7 1551.3,634.9 1552.6,635.9 1553.9,636.1 1555.2,634.8 1556.5,633.9 1557.8,636.8 1559.0,636.1 1560.3,636.7 1561.6,637.6 1562.9,640.4 1564.2,638.2 1565.4,639.5 1566.7,638.7 1568.0,639.2 1569.3,637.3 1570.6,638.7 1571.9,638.3 1573.1,639.3 1574.4,639.0 1575.7,639.5 1577.0,639.5 1578.3,638.6 1579.5,638.8 1580.8,638.0 1582.1,636.1 1583.4,639.1 1584.7,637.5 1586.0,637.7 1587.2,637.7 1588.5,638.8 1589.8,635.7 1591.1,638.3 1592.4,637.2 1593.6,638.3 1594.9,641.0 1596.2,641.1 1597.5,641.3 1598.8,641.6 1600.1,640.7 1601.3,638.7 1602.6,640.9 1603.9,641.5 1605.2,644.0 1606.5,644.6 1607.7,644.4 1609.0,642.7 1610.3,641.3 1611.6,638.9 1612.9,636.8 1614.2,636.3 1615.4,637.3 1616.7,635.6 1618.0,635.1 1619.3,637.0 1620.6,634.7 1621.9,636.7 1623.1,638.2 1624.4,640.2 1625.7,640.7 1627.0,644.2 1628.3,640.8 1629.5,641.7 1630.8,638.8 1632.1,636.6 1633.4,637.6 1634.7,636.3 1636.0,635.0 1637.2,636.6 1638.5,636.2 1639.8,634.5 1641.1,635.6 1642.4,637.6 1643.6,636.8 1644.9,638.1 1646.2,636.6 1647.5,637.3 1648.8,633.8 1650.1,634.2 1651.3,631.9 1652.6,634.5 1653.9,634.1 1655.2,636.8 1656.5,636.9 1657.7,639.5 1659.0,637.0 1660.3,639.5 1661.6,638.4 1662.9,639.5 1664.2,639.6 1665.4,639.9 1666.7,637.8 1668.0,635.9 1669.3,634.3 1670.6,632.1 1671.8,631.1 1673.1,631.3 1674.4,634.0 1675.7,635.5 1677.0,634.6 1678.3,636.1 1679.5,635.7 1680.8,634.0 1682.1,633.3 1683.4,634.5 1684.7,632.6 1686.0,630.4 1687.2,628.9 1688.5,627.4 1689.8,627.2 1691.1,628.1 1692.4,628.8 1693.6,629.9 1694.9,629.8 1696.2,628.3 1697.5,627.8 1698.8,629.0 1700.1,626.5 1701.3,622.9 1702.6,618.2 1703.9,610.0 1705.2,600.2 1706.5,591.2 1707.7,579.3 1709.0,566.6 1710.3,552.2 1711.6,538.4 1712.9,533.8 1714.2,539.0 1715.4,549.8 1716.7,564.2 1718.0,578.2 1719.3,589.0 1720.6,595.4 1721.8,606.6 1723.1,611.3 1724.4,615.6 1725.7,618.3 1727.0,618.2 1728.3,619.2 1729.5,621.0 1730.8,623.3 1732.1,624.4 1733.4,628.4 1734.7,629.1 1735.9,630.7 1737.2,631.5 1738.5,634.5 1739.8,636.3 1741.1,634.9 1742.4,635.9 1743.6,635.4 1744.9,634.9 1746.2,636.5 1747.5,636.9 1748.8,638.2 1750.1,640.8 1751.3,641.4 1752.6,639.2 1753.9,643.8 1755.2,640.4 1756.5,639.2 1757.7,638.8 1759.0,642.6 1760.3,638.7 1761.6,641.2 1762.9,640.4 1764.2,638.8 1765.4,637.0 1766.7,638.6 1768.0,640.3 1769.3,640.7 1770.6,642.7 1771.8,640.4 1773.1,640.2 1774.4,636.9 1775.7,636.7 1777.0,635.9 1778.3,638.5 1779.5,636.9 1780.8,639.8 1782.1,640.3 1783.4,641.7 1784.7,638.7 1785.9,637.1 1787.2,636.7 1788.5,636.9 1789.8,632.7 1791.1,634.1 1792.4,637.5 1793.6,637.4 1794.9,636.9 1796.2,639.8 1797.5,638.3 1798.8,634.8 1800.0,632.0 1801.3,632.9 1802.6,633.0 1803.9,633.9 1805.2,637.1 1806.5,639.3 1807.7,639.9 1809.0,639.4 1810.3,639.8 1811.6,638.6 1812.9,637.4 1814.2,634.7 1815.4,636.3 1816.7,636.6 1818.0,636.3 1819.3,637.9 1820.6,638.1 1821.8,636.1 1823.1,634.0 1824.4,634.6 1825.7,632.2 1827.0,631.9 1828.3,632.0 1829.5,630.8 1830.8,629.1 1832.1,628.7 1833.4,628.9 1834.7,629.6 1835.9,631.1 1837.2,631.4 1838.5,630.4 1839.8,631.2 1841.1,628.0 1842.4,625.7 1843.6,624.3 1844.9,620.7 1846.2,619.8 1847.5,618.9 1848.8,623.0 1850.0,626.7 1851.3,629.0 1852.6,626.2 1853.9,625.4 1855.2,620.3 1856.5,617.8 1857.7,621.7 1859.0,623.8 1860.3,626.4 1861.6,628.2 1862.9,627.4 1864.1,627.4 1865.4,626.2 1866.7,626.6 1868.0,626.6 1869.3,627.8 1870.6,626.4 1871.8,627.6 1873.1,626.8 1874.4,628.7 1875.7,628.3 1877.0,627.3 1878.3,630.0 1879.5,630.7 1880.8,631.2 1882.1,630.1 1883.4,632.2 1884.7,632.6 1885.9,634.2 1887.2,634.4 1888.5,639.2 1889.8,640.9 1891.1,639.5 1892.4,640.1 1893.6,638.1 1894.9,635.8 1896.2,635.2 1897.5,635.4 1898.8,636.0 1900.0,639.3 1901.3,638.3 1902.6,638.4 1903.9,639.2 1905.2,638.6 1906.5,635.7 1907.7,640.0 1909.0,637.7 1910.3,636.8 1911.6,633.9 1912.9,635.1 1914.1,633.9 1915.4,634.9 1916.7,634.7 1918.0,637.2 1919.3,636.1 1920.6,633.2 1921.8,634.9 1923.1,636.8 1924.4,636.7 1925.7,637.7 1927.0,637.9 1928.2,638.7 1929.5,640.2 1930.8,641.5 1932.1,643.7 1933.4,646.7 1934.7,644.2 1935.9,641.1 1937.2,639.9 1938.5,638.5 1939.8,638.3 1941.1,638.4 1942.4,640.7 1943.6,642.0 1944.9,641.2 1946.2,637.8 1947.5,640.0 1948.8,638.9 1950.0,638.5 1951.3,639.6 1952.6,641.4 1953.9,638.9 1955.2,636.8 1956.5,637.5 1957.7,637.4 1959.0,638.6 1960.3,640.0 1961.6,642.1 1962.9,640.5 1964.1,638.9 1965.4,638.6 1966.7,637.7 1968.0,635.9 1969.3,635.4 1970.6,637.5 1971.8,636.5 1973.1,637.5 1974.4,638.0 1975.7,637.3 1977.0,636.8 1978.2,638.2 1979.5,637.2 1980.8,638.2 1982.1,638.3 1983.4,637.7 1984.7,635.3 1985.9,635.6 1987.2,635.6 1988.5,635.7 1989.8,636.9 1991.1,636.4 1992.3,636.3 1993.6,637.3 1994.9,637.6 1996.2,635.0 1997.5,638.1 1998.8,639.6 2000.0,637.7 2001.3,639.4 2002.6,640.8 2003.9,640.5 2005.2,638.8 2006.5,640.0 2007.7,638.1 2009.0,639.0 2010.3,637.1 2011.6,637.4 2012.9,638.1 2014.1,639.3 2015.4,640.0 2016.7,641.8 2018.0,641.9 2019.3,639.8 2020.6,639.6 2021.8,637.8 2023.1,637.1 2024.4,637.0 2025.7,638.9 2027.0,641.0 2028.2,641.5 2029.5,642.0 2030.8,642.4 2032.1,643.1 2033.4,641.2 2034.7,641.5 2035.9,640.5 2037.2,640.7 2038.5,639.5 2039.8,637.3 2041.1,637.3 2042.3,638.1 2043.6,636.4 2044.9,636.4 2046.2,638.6 2047.5,638.1 2048.8,638.1 2050.0,638.5 2051.3,637.9 2052.6,639.8 2053.9,639.0 2055.2,635.8 2056.4,637.0 2057.7,635.0 2059.0,632.8 2060.3,631.5 2061.6,631.3 2062.9,631.5 2064.1,630.5 2065.4,630.4 2066.7,632.4 2068.0,634.6 2069.3,631.9 2070.6,636.8 2071.8,634.2 2073.1,634.5 2074.4,633.7 2075.7,632.9 2077.0,629.6 2078.2,632.1 2079.5,631.1 2080.8,632.6 2082.1,633.4 2083.4,635.9 2084.7,635.3 2085.9,635.0 2087.2,634.1 2088.5,634.8"/>
<polyline class="c" stroke="#e29600" stroke-opacity="0.77" stroke-width="6" stroke-linejoin="round" stroke-linecap="round" points="165.5,948.3 165.9,950.1 166.4,922.4 167.2,935.7 167.6,942.1 168.9,947.9 169.3,944.0 169.8,941.3 170.6,949.0 171.5,944.9 171.9,934.4 172.3,931.1 173.2,946.1 173.6,943.7 174.0,946.8 174.9,927.4 175.3,944.0 176.2,947.3 177.0,943.6 177.5,940.2 177.9,934.3 178.7,939.4 179.6,948.8 180.0,942.1 180.9,936.1 181.3,932.7 182.2,943.3 182.6,928.4 183.4,942.9 183.9,923.9 184.3,945.0 185.2,932.9 186.0,944.3 186.4,938.6 187.3,948.0 187.7,930.2 188.6,950.9 189.4,946.5 189.9,936.4 190.3,943.9 190.7,935.2 191.6,946.0 192.4,905.1 192.8,941.1 193.7,949.7 194.1,938.8 195.0,930.7 195.8,948.2 196.3,941.5 196.7,944.8 197.5,935.2 198.0,948.1 198.8,939.4 199.7,943.2 200.1,945.3 201.0,934.4 201.4,944.3 201.8,947.2 202.3,925.9 203.1,932.9 204.0,939.8 204.4,922.3 204.8,950.8 205.7,926.1 206.1,946.7 207.0,928.5 207.8,942.7 208.2,944.7 209.1,930.5 209.5,929.7 210.4,948.1 211.2,946.3 211.7,937.3 212.1,950.3 212.9,936.3 213.8,952.9 214.2,948.4 214.6,926.7 215.5,946.3 215.9,952.1 216.8,930.9 217.2,946.5 218.1,938.5 218.5,925.0 219.3,947.4 219.8,945.4 220.6,935.5 221.5,927.8 221.9,947.2 222.8,925.9 223.2,946.2 223.6,948.2 224.0,934.6 225.3,929.5 225.8,950.3 226.2,937.8 226.6,951.2 227.5,935.9 228.3,946.7 229.2,941.9 229.6,944.5 230.0,925.8 230.5,947.5 231.3,942.8 231.7,952.9 232.6,937.8 233.4,948.7 234.3,931.9 234.7,945.9 235.2,939.6 236.0,945.1 236.4,931.1 236.9,938.9 237.7,942.2 238.6,938.8 239.4,932.9 239.9,939.7 240.7,926.0 241.1,943.1 241.6,920.1 242.0,941.7 242.8,947.1 243.3,914.4 244.1,947.8 245.0,924.1 245.8,944.3 246.3,922.0 247.1,941.1 247.5,926.6 248.0,919.6 248.4,941.3 249.7,935.6 250.1,944.5 250.5,941.5 251.0,931.6 251.8,917.4 252.7,930.2 253.1,938.5 254.0,914.9 254.4,911.7 254.8,934.3 255.7,906.0 256.1,931.6 256.9,937.2 257.4,918.4 258.7,922.4 259.1,933.8 259.5,922.8 259.9,943.6 260.8,935.8 261.6,933.4 262.1,934.6 262.9,947.4 263.4,947.0 263.8,923.1 264.6,943.8 265.1,948.0 265.9,915.3 266.4,948.5 267.2,927.7 268.1,950.5 268.5,947.9 269.3,944.7 269.8,945.4 270.6,917.3 271.5,944.5 271.9,932.2 272.3,933.4 273.2,941.3 273.6,938.4 274.5,944.2 274.9,948.9 275.3,935.4 276.6,948.3 277.0,928.6 277.5,925.1 277.9,944.5 278.7,943.4 279.6,919.7 280.0,933.1 280.9,948.3 281.3,950.3 282.2,937.1 282.6,934.2 283.4,926.9 283.9,943.7 284.7,946.1 285.2,931.3 285.6,946.9 286.4,912.8 286.9,945.0 288.1,932.1 288.6,925.2 289.4,923.2 289.9,945.2 290.3,922.4 290.7,944.3 291.6,942.4 292.0,921.7 292.8,923.1 293.3,931.1 294.1,937.1 295.0,927.6 295.8,902.6 296.3,934.3 296.7,930.8 297.5,943.9 298.0,933.6 298.4,920.6 299.3,931.2 300.1,945.4 300.5,919.6 301.4,934.2 301.8,942.4 302.7,920.3 303.1,911.0 303.5,942.8 304.8,936.2 305.2,920.4 305.7,911.4 306.1,928.6 306.9,920.1 307.4,936.1 308.2,921.9 309.1,941.4 309.9,942.2 310.4,908.8 311.2,938.2 311.6,925.4 312.1,909.6 312.9,923.7 313.8,942.0 314.2,921.5 314.6,932.0 315.5,943.4 316.3,924.9 316.8,936.0 317.2,917.7 317.6,942.0 318.9,919.2 319.3,947.1 319.8,933.3 320.2,921.7 321.0,938.7 321.9,917.5 322.8,946.9 323.2,924.4 324.0,946.0 324.5,923.2 325.3,938.9 325.7,925.1 326.2,902.7 326.6,943.2 327.5,911.1 328.3,941.8 328.7,937.8 329.2,914.9 330.0,927.1 330.5,937.0 331.7,925.2 332.2,916.0 333.0,946.7 333.4,897.7 333.9,941.3 334.3,921.8 335.6,943.7 336.0,921.0 336.9,938.3 337.3,947.5 337.7,936.9 338.1,928.3 339.0,918.2 339.4,947.6 340.7,930.8 341.1,934.4 341.6,934.7 342.0,924.9 342.8,943.2 343.3,933.7 344.1,938.5 345.0,912.4 345.4,924.8 345.8,934.8 347.1,907.7 347.5,936.1 348.0,904.1 348.4,932.2 349.3,900.1 349.7,948.3 350.5,936.0 351.0,923.6 351.8,937.4 352.7,945.2 353.5,924.6 354.0,928.5 354.8,944.6 355.2,936.2 356.1,943.2 356.5,935.8 357.4,911.6 357.8,945.5 358.7,947.6 359.1,922.9 359.5,917.9 360.4,940.2 361.2,943.9 361.6,909.9 362.1,912.3 362.5,939.4 363.8,933.1 364.2,936.6 364.6,929.5 365.1,943.5 366.3,939.9 366.8,923.8 367.2,891.0 368.1,941.7 368.9,926.5 369.3,941.7 369.8,907.8 370.2,933.9 371.5,944.2 371.9,911.3 372.3,921.8 372.8,934.8 373.6,925.1 374.0,932.0 374.9,908.7 375.7,939.7 376.2,932.0 377.0,891.4 377.5,899.4 377.9,943.0 378.7,921.6 379.6,930.9 380.0,925.9 380.4,927.4 381.7,932.1 382.2,905.6 382.6,917.8 383.0,912.1 383.9,941.6 384.7,920.6 385.1,916.3 386.0,941.7 386.9,933.0 387.3,913.0 387.7,916.3 388.1,921.7 389.0,905.7 389.4,937.5 390.3,928.7 391.1,877.8 392.0,912.3 392.4,919.7 393.3,890.0 393.7,924.8 394.6,942.4 395.0,923.6 395.8,924.0 396.3,931.8 396.7,910.7 397.1,919.8 398.0,877.7 398.4,934.2 399.3,924.2 399.7,912.0 401.0,913.6 401.4,874.0 401.8,897.0 402.7,859.2 403.1,881.1 403.5,857.8 404.8,873.7 405.2,915.9 405.7,889.8 406.5,925.2 406.9,937.3 407.4,897.0 408.2,933.8 408.7,924.3 409.9,929.6 410.4,941.4 411.2,923.9 411.6,945.1 412.1,925.3 412.9,935.4 413.4,900.8 414.2,923.7 414.6,938.2 415.5,925.3 415.9,921.6 416.3,937.9 417.6,934.4 418.1,896.7 418.5,931.1 418.9,935.9 419.8,941.0 420.2,917.5 421.5,933.7 421.9,921.0 422.3,939.2 422.8,932.9 423.6,929.4 424.0,918.0 424.9,943.9 425.7,898.9 426.6,946.6 427.0,924.9 427.5,942.3 428.3,917.8 429.2,934.5 429.6,910.8 430.0,938.3 430.9,919.3 431.7,920.6 432.2,935.4 432.6,914.4 433.0,933.3 433.9,924.0 434.3,948.2 435.6,931.0 436.0,940.3 436.4,943.0 436.9,930.4 437.7,918.5 438.6,949.5 439.0,924.2 439.8,950.0 440.7,920.0 441.1,940.1 441.6,937.0 442.4,938.7 442.8,925.8 443.3,941.0 444.1,931.9 444.5,889.9 445.8,927.8 446.3,948.2 446.7,927.5 447.5,952.7 448.4,937.8 448.8,935.2 449.2,944.5 450.1,930.9 451.0,937.8 451.4,922.7 452.2,908.0 452.7,941.5 453.1,914.6 453.5,947.3 454.4,942.4 455.2,935.2 456.1,897.0 456.5,931.7 456.9,929.4 457.4,912.4 458.2,943.7 458.7,949.5 459.5,944.0 460.4,945.3 461.2,949.3 461.6,930.6 462.1,939.0 462.9,950.7 463.4,941.2 463.8,948.9 464.6,925.9 465.1,948.1 465.9,926.1 466.8,936.3 467.2,934.9 467.6,908.4 468.5,910.3 469.3,946.6 470.2,945.2 470.6,922.8 471.0,943.7 471.9,936.2 472.8,931.2 473.2,942.7 474.0,944.8 474.5,895.5 474.9,935.8 475.3,930.2 476.6,947.5 477.0,929.6 477.9,939.4 478.3,944.0 479.2,942.9 479.6,907.7 480.4,940.3 480.9,914.9 481.3,934.4 482.2,923.3 482.6,917.0 483.4,944.7 483.9,931.6 484.3,942.9 485.6,932.0 486.0,946.5 486.9,916.5 487.3,937.8 488.1,912.2 488.6,923.0 489.4,909.3 489.8,933.1 490.3,941.2 490.7,919.0 491.6,936.4 492.4,901.9 493.3,924.9 493.7,933.5 494.5,934.4 495.0,924.5 495.4,913.7 495.8,941.7 497.1,919.9 497.5,923.5 498.0,917.7 498.4,943.6 499.7,909.4 500.1,946.0 501.0,922.7 501.4,944.6 501.8,915.9 502.2,945.7 503.5,938.9 503.9,928.0 504.4,894.0 505.2,939.2 506.1,911.0 506.5,943.4 507.4,923.5 507.8,898.8 508.6,942.0 509.1,913.3 509.5,932.4 510.4,912.4 510.8,929.9 511.2,944.4 512.5,940.6 512.9,924.5 513.8,890.6 514.2,943.9 515.1,911.8 515.5,951.8 515.9,935.5 516.8,948.0 517.2,948.8 517.6,932.1 518.9,954.8 519.3,950.7 520.2,956.5 520.6,942.5 521.0,932.8 521.5,951.3 522.3,954.0 523.2,932.9 523.6,956.2 524.5,914.1 524.9,935.4 525.3,942.9 526.2,956.3 527.0,942.3 527.9,923.5 528.3,950.1 528.7,931.6 529.2,941.9 530.0,948.1 530.4,933.2 531.3,937.6 531.7,940.9 532.6,952.9 533.0,940.3 534.3,923.8 534.7,952.7 535.6,939.2 536.0,925.4 536.4,916.3 536.9,948.8 537.7,921.2 538.6,946.5 539.0,909.1 539.4,941.3 540.7,948.9 541.1,922.7 542.0,947.6 542.4,932.0 543.3,950.4 543.7,907.7 544.1,935.3 544.5,913.6 545.4,946.2 546.3,923.3 547.1,941.4 547.5,934.1 548.0,948.0 548.4,932.0 549.7,916.7 550.1,937.3 550.5,932.3 551.4,943.0 551.8,939.1 552.7,918.4 553.5,946.5 553.9,925.8 554.4,898.9 555.2,924.0 556.1,911.0 556.5,946.9 557.4,935.7 557.8,951.0 558.2,924.6 559.1,934.2 559.5,928.4 560.4,938.2 560.8,912.5 561.6,942.0 562.1,924.4 562.5,943.5 563.3,920.6 563.8,950.8 564.6,950.5 565.1,919.1 565.9,919.5 566.8,945.4 567.2,948.2 568.0,925.5 568.5,948.4 569.3,926.1 569.8,933.5 570.2,948.0 571.0,906.8 571.9,942.2 572.3,912.1 572.7,951.3 573.6,951.4 574.0,940.4 574.9,936.6 575.3,938.9 576.6,935.4 577.0,948.1 577.4,922.3 578.3,940.9 579.2,949.9 579.6,935.4 580.4,951.5 580.9,933.1 581.7,933.4 582.1,951.3 583.0,944.9 583.4,920.1 583.9,951.0 584.7,935.9 585.1,932.6 586.0,942.0 586.4,938.2 586.9,951.1 587.7,920.9 588.1,950.1 589.0,948.1 589.8,927.4 590.3,925.7 591.1,952.9 591.6,943.8 592.0,910.1 592.8,924.8 593.3,950.5 594.1,950.6 595.0,923.4 595.4,905.5 595.8,947.4 596.7,953.6 597.1,916.9 598.4,942.3 598.8,950.7 599.2,948.6 600.1,946.2 601.0,955.3 601.4,928.8 601.8,944.2 602.2,923.1 603.1,887.5 603.5,943.4 604.4,944.1 604.8,947.3 605.7,920.5 606.1,953.3 606.9,947.7 607.4,911.1 608.6,931.3 609.1,950.3 609.5,932.6 609.9,950.9 610.8,955.2 611.6,921.0 612.5,943.5 612.9,934.2 613.3,934.0 614.2,942.4 614.6,928.2 615.1,942.1 615.9,920.9 616.3,951.2 617.6,930.2 618.0,947.0 618.5,930.3 618.9,942.8 620.2,938.2 620.6,917.5 621.0,940.9 621.5,908.3 622.3,949.5 622.7,930.4 624.0,937.0 624.5,937.2 624.9,949.7 625.3,928.4 626.2,920.1 627.0,942.4 627.4,951.8 628.3,918.7 628.7,945.1 629.2,929.7 630.0,938.1 630.9,946.8 631.7,926.1 632.1,948.4 632.6,906.3 633.4,938.1 633.9,939.4 634.3,924.8 635.1,917.1 636.0,949.8 636.8,935.5 637.3,931.7 638.1,932.8 638.6,908.8 639.4,935.8 639.8,905.3 640.7,944.9 641.1,935.9 642.0,923.2 642.4,933.1 643.3,931.5 643.7,914.3 644.1,944.3 644.5,922.4 645.4,933.2 645.8,917.1 646.7,934.4 647.1,906.4 648.0,946.1 648.8,921.4 649.2,911.8 650.1,937.3 650.5,915.6 651.0,941.2 651.8,898.6 652.7,936.1 653.5,945.0 653.9,924.4 654.4,944.5 654.8,930.1 656.1,919.1 656.5,941.8 656.9,928.2 657.8,944.4 658.2,946.4 658.6,930.8 659.9,909.7 660.4,948.0 661.2,931.4 661.6,933.3 662.1,933.3 662.9,916.7 663.3,920.8 664.2,943.0 665.1,926.1 665.5,912.0 665.9,944.1 666.8,938.0 667.6,934.4 668.0,947.1 668.5,927.1 669.3,942.5 669.8,939.3 670.6,928.8 671.0,932.6 671.5,942.9 672.3,918.3 672.7,936.4 673.6,943.2 674.5,905.6 674.9,921.3 675.7,937.6 676.2,932.2 677.0,946.9 677.4,920.6 678.3,939.7 678.7,939.6 679.2,936.1 680.0,938.3 680.9,923.7 681.3,951.6 682.1,936.3 682.6,935.9 683.0,919.0 683.9,940.6 684.3,929.1 685.1,948.1 686.0,918.1 686.8,922.6 687.3,942.0 688.1,916.7 688.6,950.5 689.0,945.6 689.4,887.0 690.7,927.9 691.1,914.1 691.5,928.1 692.0,947.6 693.3,946.8 693.7,918.6 694.1,933.2 695.0,946.4 695.8,917.3 696.2,942.7 696.7,896.7 697.1,949.0 698.4,950.4 698.8,917.7 699.2,929.1 699.7,928.8 700.5,948.1 700.9,932.7 702.2,945.9 702.7,930.5 703.1,951.3 703.9,918.5 704.4,906.5 704.8,932.0 706.1,909.8 706.5,941.5 707.4,922.5 707.8,949.4 708.2,939.6 708.6,920.7 709.9,908.3 710.3,954.0 710.8,944.2 711.2,939.0 712.5,922.0 712.9,950.1 713.3,947.9 713.8,914.7 715.1,946.5 715.5,917.8 715.9,949.6 716.8,920.7 717.2,938.5 717.6,906.3 718.9,925.6 719.3,930.4 719.8,939.3 720.6,917.6 721.5,936.3 721.9,948.3 722.3,938.4 723.2,928.5 723.6,947.4 724.0,932.3 724.9,950.1 725.7,935.9 726.6,923.7 727.0,932.8 727.9,918.0 728.3,940.8 729.2,946.3 729.6,928.6 730.4,925.7 730.9,945.0 731.3,939.9 731.7,932.2 732.6,933.0 733.0,912.1 733.9,939.5 734.7,926.0 735.1,940.0 735.6,929.7 736.4,910.0 737.3,939.4 737.7,925.4 738.6,929.3 739.4,930.7 739.8,949.6 740.3,935.2 741.1,949.2 742.0,925.3 742.4,929.1 743.3,939.5 743.7,952.2 744.1,937.8 744.5,952.1 745.4,928.1 746.2,942.2 747.1,936.2 747.5,919.3 748.0,925.4 748.4,938.7 749.7,949.6 750.1,908.4 750.5,911.4 750.9,943.1 751.8,928.9 752.2,946.1 753.5,953.4 753.9,914.7 754.8,946.2 755.2,915.5 755.6,947.9 756.5,931.7 756.9,945.2 757.8,916.7 758.6,949.8 759.1,927.6 759.5,933.2 760.3,948.4 760.8,918.2 761.2,939.8 762.1,930.5 762.5,954.4 763.8,930.6 764.2,940.9 764.6,928.7 765.0,937.7 765.9,945.0 766.8,948.6 767.2,952.1 767.6,931.5 768.5,918.7 768.9,942.0 770.2,948.5 770.6,898.7 771.5,918.8 771.9,951.6 772.7,954.3 773.2,945.0 773.6,942.1 774.4,923.1 774.9,921.8 775.7,943.0 776.2,949.1 776.6,922.9 777.9,937.5 778.3,939.2 779.2,940.5 779.6,912.6 780.0,926.8 780.9,941.5 781.3,950.6 782.1,936.4 782.6,924.9 783.4,943.7 783.9,917.8 784.3,942.3 785.1,946.6 785.6,926.4 786.8,946.2 787.3,920.1 787.7,942.9 788.1,931.0 789.4,951.8 789.8,927.3 790.3,915.7 790.7,946.5 791.5,896.1 792.0,927.6 792.8,935.7 793.3,952.7 794.5,930.0 795.0,933.3 795.4,948.9 795.8,937.1 796.7,944.4 797.1,955.9 798.4,939.9 798.8,933.9 799.7,917.5 800.1,948.6 800.9,928.3 801.4,949.9 801.8,947.6 802.2,928.2 803.1,938.3 803.5,928.6 804.8,921.4 805.2,941.6 805.6,941.1 806.1,928.7 806.9,941.7 807.4,932.4 808.2,924.5 808.6,949.3 809.5,924.2 810.3,945.1 810.8,916.8 811.2,943.7 812.1,914.9 812.5,939.7 813.3,897.3 813.8,947.9 814.6,922.7 815.5,941.9 815.9,924.9 816.3,915.9 817.2,940.6 818.0,895.3 818.5,933.2 818.9,891.8 819.7,914.7 820.6,906.9 821.0,910.0 821.5,919.9 822.7,898.0 823.2,886.1 824.0,836.1 824.4,850.9 824.9,854.3 825.7,749.5 826.2,806.4 827.0,761.9 827.4,741.5 827.9,755.3 828.7,720.1 829.1,778.3 830.0,806.7 830.4,757.8 831.7,862.8 832.1,800.1 833.0,869.9 833.4,909.3 834.3,879.3 834.7,910.4 835.1,894.7 836.0,927.4 836.4,913.1 836.8,923.1 837.7,930.7 838.5,897.4 839.0,935.5 839.8,912.5 840.3,915.3 841.1,948.1 841.5,945.9 842.0,937.8 843.3,920.2 843.7,939.5 844.5,896.2 845.0,942.6 845.4,927.4 846.2,933.3 847.1,947.0 847.5,894.8 848.0,936.2 848.4,921.5 849.7,937.9 850.1,932.2 850.5,950.9 851.4,891.6 852.2,929.7 852.7,945.4 853.5,901.1 853.9,922.5 854.4,923.1 855.2,908.8 855.6,928.9 856.1,892.4 856.9,901.9 857.8,938.5 858.2,884.4 859.1,929.1 859.5,915.4 860.3,945.3 861.2,935.8 861.6,929.6 862.1,930.8 862.9,940.1 863.3,917.8 864.2,945.7 865.0,935.1 865.5,895.1 866.3,925.9 866.8,890.7 867.2,902.9 867.6,924.9 868.5,930.0 868.9,893.2 869.7,905.7 870.6,928.4 871.0,922.7 871.5,904.0 872.7,889.6 873.2,923.3 873.6,914.8 874.0,919.4 874.9,923.8 875.3,906.2 876.2,883.9 876.6,944.6 877.9,943.6 878.3,933.2 878.7,941.1 879.1,921.0 880.0,921.3 880.9,944.7 881.3,938.0 882.1,947.2 882.6,905.3 883.0,951.5 883.8,943.7 884.3,910.7 885.6,911.5 886.0,946.8 886.8,929.8 887.3,936.8 887.7,938.8 888.5,929.2 889.4,928.5 889.8,948.3 890.3,920.9 890.7,936.9 891.5,928.5 892.0,947.9 892.8,935.4 893.7,922.7 894.1,936.5 894.5,921.1 895.4,913.7 896.2,933.9 897.1,928.5 897.5,944.6 897.9,932.2 898.8,899.4 899.2,919.9 899.7,930.1 900.5,932.8 901.4,893.9 902.2,885.5 902.6,910.5 903.1,891.1 903.5,874.4 904.8,833.3 905.2,819.8 905.6,836.6 906.5,782.6 907.4,766.4 907.8,811.8 908.2,791.3 909.1,860.6 909.5,859.0 909.9,884.0 910.8,869.9 911.6,914.8 912.5,896.6 912.9,916.0 913.3,899.5 913.8,929.9 914.6,932.5 915.0,942.3 915.9,945.9 916.8,911.5 917.6,921.3 918.0,936.7 918.5,946.5 919.3,928.5 919.7,905.0 920.6,948.3 921.0,926.0 921.9,946.3 922.7,923.8 923.2,935.8 924.0,925.1 924.4,943.3 924.9,928.9 925.7,938.3 926.2,925.3 927.0,944.5 927.4,929.6 927.9,906.1 929.1,918.7 929.6,949.5 930.0,923.1 930.9,928.4 931.3,934.4 931.7,941.4 933.0,885.3 933.4,941.6 933.8,902.6 934.7,919.1 935.6,909.3 936.0,936.8 936.4,896.8 936.8,934.8 938.1,930.7 938.5,899.0 939.0,905.6 939.4,883.0 940.3,906.1 941.1,878.5 941.5,904.6 942.0,891.6 943.2,894.4 943.7,891.4 944.5,893.4 945.0,853.0 945.4,863.0 946.2,838.2 946.7,851.5 947.5,864.8 948.4,881.9 948.8,851.3 949.2,857.3 950.1,916.2 950.9,882.2 951.4,909.4 951.8,909.7 952.6,929.5 953.1,907.7 953.5,933.1 954.8,923.7 955.2,887.4 955.6,937.6 956.5,911.8 956.9,913.9 957.3,935.2 958.2,919.9 958.6,907.0 959.5,916.3 960.3,930.0 960.8,914.8 961.2,937.4 962.0,915.0 962.9,948.2 963.3,946.6 964.2,928.3 964.6,940.3 965.0,909.1 966.3,925.7 966.7,951.9 967.2,934.1 968.0,922.6 968.5,917.9 968.9,931.0 969.7,918.3 970.2,947.6 971.0,926.3 971.9,950.1 972.3,952.5 973.2,926.4 973.6,927.7 974.0,938.0 975.3,927.8 975.7,950.8 976.2,946.6 977.0,926.0 977.4,914.8 978.3,945.7 978.7,932.0 979.6,944.9 980.4,903.1 980.9,947.1 981.7,945.3 982.1,923.8 983.0,945.2 983.4,922.6 983.8,945.8 984.3,928.1 985.1,938.1 985.6,930.0 986.4,946.9 987.3,907.3 987.7,949.4 988.5,918.6 989.0,917.0 989.8,936.6 990.3,920.1 990.7,948.3 991.5,949.4 992.0,935.3 993.2,944.1 993.7,928.0 994.1,920.5 995.0,937.8 995.4,949.4 995.8,922.0 997.1,948.6 997.5,927.4 998.4,927.0 998.8,936.8 999.2,950.6 999.7,933.2 1000.5,939.5 1001.4,951.3 1001.8,938.4 1002.6,951.7 1003.5,936.4 1003.9,953.3 1004.4,920.1 1005.2,944.8 1005.6,922.4 1006.5,943.5 1006.9,938.2 1007.3,893.6 1008.2,937.4 1008.6,929.2 1009.5,922.3 1010.3,944.5 1010.8,930.6 1011.6,944.7 1012.5,939.4 1012.9,924.7 1013.8,951.3 1014.2,929.6 1014.6,907.3 1015.0,937.4 1015.9,918.4 1016.7,943.0 1017.6,930.9 1018.0,947.3 1018.5,906.6 1018.9,936.6 1020.2,945.3 1020.6,931.1 1021.4,952.7 1021.9,922.6 1022.3,950.6 1023.2,939.7 1023.6,955.2 1024.4,932.7 1024.9,931.9 1025.7,941.9 1026.6,949.9 1027.0,923.3 1027.4,921.5 1027.9,950.5 1028.7,947.6 1029.6,934.2 1030.4,924.5 1030.8,942.6 1031.7,948.6 1032.1,933.5 1032.6,940.8 1033.0,951.8 1033.8,938.4 1034.3,930.0 1035.1,929.4 1035.6,944.6 1036.8,942.7 1037.3,923.9 1037.7,932.4 1038.5,921.6 1039.0,924.9 1039.8,931.5 1040.7,932.7 1041.1,938.3 1041.5,911.1 1042.4,950.4 1042.8,940.5 1043.2,922.3 1044.5,930.4 1045.0,941.0 1045.4,905.8 1046.2,946.5 1046.7,938.0 1047.1,929.8 1048.4,950.1 1048.8,938.8 1049.2,945.2 1050.1,934.9 1050.9,934.0 1051.4,940.8 1051.8,937.6 1052.2,929.7 1053.1,940.1 1053.5,924.3 1054.8,941.2 1055.2,914.0 1056.1,919.7 1056.5,933.0 1056.9,904.7 1057.8,948.9 1058.2,920.0 1059.1,938.1 1059.9,936.7 1060.3,902.8 1060.8,924.0 1061.6,949.0 1062.0,926.3 1062.5,903.1 1063.8,922.3 1064.2,947.0 1064.6,904.6 1065.5,925.7 1065.9,928.8 1066.7,947.9 1067.2,914.7 1067.6,940.8 1068.5,935.4 1069.3,927.4 1070.2,934.6 1070.6,908.3 1071.4,917.6 1071.9,945.1 1072.3,940.6 1073.2,918.7 1073.6,923.2 1074.0,945.0 1075.3,917.0 1075.7,936.8 1076.1,945.8 1076.6,931.4 1077.9,921.0 1078.3,942.1 1078.7,914.3 1079.1,945.2 1080.0,932.9 1080.8,922.9 1081.7,903.8 1082.1,941.8 1082.6,936.4 1083.4,914.3 1083.8,929.8 1084.3,942.1 1085.1,925.7 1086.0,904.5 1086.4,923.3 1087.3,900.3 1088.1,892.3 1088.5,899.7 1089.4,874.6 1089.8,908.4 1090.2,905.5 1090.7,921.1 1091.5,907.1 1092.0,920.3 1092.8,914.2 1093.7,920.6 1094.1,934.7 1094.5,944.4 1095.8,955.0 1096.2,930.9 1096.7,944.6 1097.1,915.6 1097.9,948.0 1098.8,922.9 1099.2,954.0 1100.1,909.3 1100.5,947.1 1100.9,930.3 1101.8,926.1 1102.6,942.1 1103.5,925.6 1103.9,932.3 1104.4,951.7 1105.2,937.8 1105.6,931.2 1106.5,938.8 1106.9,957.8 1107.3,927.2 1108.6,928.7 1109.1,941.3 1109.5,949.3 1109.9,941.2 1110.8,954.6 1111.6,925.8 1112.0,930.0 1112.5,912.4 1113.3,917.6 1113.8,947.3 1115.0,942.0 1115.5,895.8 1115.9,936.5 1116.3,926.7 1117.2,941.4 1118.0,918.8 1118.9,945.0 1119.3,922.6 1120.2,947.3 1120.6,938.0 1121.4,944.6 1121.9,949.5 1122.3,944.9 1123.2,916.5 1123.6,948.5 1124.0,939.3 1124.9,934.8 1125.3,941.4 1126.1,950.0 1127.0,931.0 1127.4,947.4 1128.3,922.4 1129.1,954.0 1129.6,932.3 1130.0,938.0 1130.8,928.4 1131.3,949.3 1132.1,923.8 1132.6,914.4 1133.4,945.6 1134.3,928.4 1134.7,946.1 1135.1,943.8 1136.0,930.0 1136.4,940.3 1137.3,948.2 1137.7,950.0 1138.5,936.1 1139.0,942.1 1139.4,928.2 1140.7,907.0 1141.1,939.4 1141.5,945.3 1142.4,951.4 1143.2,938.6 1143.7,908.9 1144.1,941.0 1144.5,927.4 1145.8,942.5 1146.2,935.2 1147.1,941.2 1147.5,942.2 1147.9,943.6 1148.8,926.4 1149.6,921.0 1150.1,951.0 1150.9,944.3 1151.4,939.9 1151.8,922.3 1152.2,956.2 1153.1,953.3 1153.9,934.6 1154.3,937.7 1154.8,950.4 1156.1,952.7 1156.5,939.1 1157.3,939.3 1157.8,942.6 1158.2,930.7 1159.0,919.5 1159.5,917.7 1160.3,910.4 1161.2,939.5 1161.6,951.5 1162.0,940.1 1162.9,919.9 1163.8,947.9 1164.2,929.0 1165.0,933.6 1165.5,948.6 1166.3,932.9 1166.7,949.6 1167.6,932.3 1168.0,950.0 1168.5,941.1 1169.3,933.8 1169.7,946.6 1170.6,926.4 1171.4,940.9 1171.9,921.0 1172.7,942.3 1173.2,880.9 1173.6,886.8 1174.4,940.6 1174.9,946.9 1175.7,919.9 1176.1,936.0 1177.0,948.9 1177.9,945.9 1178.3,939.2 1178.7,939.6 1179.6,946.9 1180.4,933.2 1180.8,936.2 1181.7,929.0 1182.1,934.6 1183.0,946.6 1183.4,925.6 1183.8,917.9 1184.7,949.2 1185.5,950.0 1186.0,917.5 1186.4,917.6 1186.8,934.7 1187.7,895.8 1188.5,950.2 1189.4,909.8 1189.8,921.9 1190.7,942.7 1191.1,946.6 1191.5,948.1 1192.4,924.7 1192.8,946.8 1193.2,934.5 1194.1,930.8 1194.9,918.6 1195.4,927.5 1196.2,937.2 1197.1,928.4 1197.5,949.3 1197.9,943.4 1198.8,923.9 1199.2,902.8 1200.1,945.5 1200.9,940.5 1201.4,949.9 1201.8,920.1 1202.6,939.6 1203.1,918.5 1203.5,952.7 1204.3,947.6 1205.2,923.0 1206.1,920.3 1206.5,937.8 1206.9,948.5 1207.8,949.8 1208.2,947.1 1209.0,926.8 1209.5,951.5 1209.9,926.8 1210.8,898.5 1211.2,946.3 1212.5,948.3 1212.9,926.5 1213.3,947.5 1214.2,939.8 1214.6,934.5 1215.0,938.3 1215.9,910.3 1216.7,928.7 1217.6,938.9 1218.0,922.7 1218.4,953.3 1218.9,923.2 1220.2,938.9 1220.6,923.8 1221.4,918.1 1221.9,942.5 1222.7,927.6 1223.1,945.9 1223.6,939.0 1224.0,940.3 1224.9,942.8 1225.7,922.2 1226.1,950.2 1227.0,945.9 1227.4,949.7 1227.9,925.6 1228.7,949.8 1229.1,923.5 1230.0,946.4 1230.4,912.4 1231.3,924.8 1231.7,940.3 1232.6,936.7 1233.4,907.7 1234.3,945.5 1234.7,931.8 1235.5,940.1 1236.0,933.1 1236.4,897.9 1236.8,946.9 1237.7,926.5 1238.1,948.1 1239.4,954.2 1239.8,932.5 1240.2,952.4 1240.7,939.2 1241.5,928.2 1242.4,946.0 1242.8,940.0 1243.7,922.3 1244.5,949.9 1244.9,939.0 1245.8,907.1 1246.2,944.7 1247.1,949.2 1247.5,949.9 1247.9,951.3 1248.8,950.3 1249.6,935.4 1250.1,954.8 1250.9,937.8 1251.4,950.8 1252.2,925.4 1252.6,948.4 1253.5,923.0 1253.9,939.4 1254.8,946.7 1255.2,939.6 1256.1,921.1 1256.5,936.8 1256.9,918.9 1257.3,927.2 1258.2,925.0 1259.0,945.2 1259.5,932.2 1260.3,903.8 1260.8,941.7 1261.2,925.1 1262.0,926.0 1262.5,927.9 1263.3,922.9 1264.2,941.9 1265.0,946.0 1265.5,926.4 1265.9,942.2 1266.7,927.5 1267.2,924.1 1267.6,943.0 1268.4,936.8 1269.3,926.4 1270.2,941.6 1270.6,913.4 1271.4,942.0 1271.9,922.5 1272.3,924.2 1272.7,903.5 1273.6,932.9 1274.0,933.4 1274.9,946.0 1275.7,908.1 1276.6,933.5 1277.0,943.7 1277.4,932.1 1278.3,921.9 1278.7,913.3 1279.6,933.9 1280.0,908.3 1280.8,942.5 1281.3,944.1 1282.1,918.7 1282.5,906.5 1283.0,950.7 1284.3,937.6 1284.7,945.6 1285.1,933.5 1285.5,937.5 1286.4,947.4 1286.8,906.8 1287.7,937.9 1288.5,902.4 1289.0,926.8 1289.8,938.1 1290.7,936.3 1291.1,907.8 1292.0,947.9 1292.4,937.9 1292.8,932.2 1293.2,946.5 1294.1,940.3 1294.5,916.7 1295.4,946.7 1295.8,913.7 1296.7,925.1 1297.1,941.8 1298.4,938.2 1298.8,951.7 1299.2,950.7 1299.6,911.7 1300.5,918.4 1301.4,946.1 1301.8,928.7 1302.6,945.5 1303.1,947.3 1303.5,898.3 1304.3,933.3 1304.8,952.1 1305.6,929.9 1306.1,926.8 1307.3,925.5 1307.8,947.0 1308.6,916.5 1309.0,947.2 1309.5,946.5 1309.9,912.1 1310.8,918.1 1311.6,951.4 1312.0,931.9 1312.5,939.0 1313.7,919.9 1314.2,941.9 1314.6,951.3 1315.0,940.5 1315.9,935.3 1316.3,947.5 1317.6,920.5 1318.0,929.5 1318.4,949.2 1319.3,914.6 1320.2,895.0 1320.6,936.9 1321.4,933.2 1321.9,911.3 1322.3,948.8 1323.1,938.6 1324.0,923.6 1324.4,933.5 1324.9,940.2 1325.3,912.5 1326.1,950.7 1327.0,921.8 1327.4,927.7 1327.8,949.9 1328.7,940.3 1329.1,957.6 1330.0,927.3 1330.8,950.8 1331.3,917.6 1331.7,941.3 1332.5,940.9 1333.4,917.8 1333.8,916.2 1334.3,931.4 1335.1,952.4 1335.5,928.0 1336.4,932.3 1336.8,954.6 1337.7,953.0 1338.1,943.9 1339.4,933.1 1339.8,947.2 1340.7,924.0 1341.1,943.4 1341.5,948.4 1342.4,911.3 1343.2,916.2 1343.7,947.7 1344.5,942.3 1344.9,926.5 1345.4,924.5 1346.2,908.0 1346.6,918.2 1347.5,946.7 1347.9,948.7 1348.4,929.1 1349.2,908.9 1350.1,954.9 1350.5,951.0 1351.3,920.1 1351.8,912.4 1352.6,950.4 1353.5,941.1 1353.9,948.5 1354.3,950.3 1354.8,938.7 1355.6,943.2 1356.1,915.7 1356.9,930.5 1357.8,950.3 1358.2,949.3 1359.0,933.3 1359.5,936.2 1359.9,926.2 1361.2,930.8 1361.6,911.1 1362.5,923.9 1362.9,946.9 1363.3,931.8 1364.2,952.1 1364.6,914.7 1365.5,950.6 1366.3,935.8 1366.7,938.1 1367.2,936.6 1368.0,948.1 1368.9,908.9 1369.3,940.2 1369.7,922.1 1370.6,946.4 1371.0,926.2 1371.9,948.6 1372.3,915.1 1373.1,933.3 1374.0,947.2 1374.4,935.4 1374.9,914.1 1375.3,949.8 1376.6,948.4 1377.0,925.2 1377.8,946.0 1378.3,938.5 1379.1,937.8 1379.6,911.0 1380.0,946.6 1380.4,924.0 1381.3,924.9 1381.7,953.1 1382.5,936.5 1383.0,911.8 1383.8,929.3 1384.3,924.1 1385.1,922.4 1385.5,937.9 1386.4,913.0 1386.8,932.9 1387.7,951.7 1388.1,923.0 1389.0,949.6 1389.8,938.3 1390.7,919.8 1391.1,950.2 1391.5,933.7 1392.4,907.9 1393.2,942.4 1393.7,937.4 1394.1,898.4 1394.5,931.2 1395.8,937.0 1396.2,934.0 1396.6,947.8 1397.5,926.2 1397.9,908.8 1398.8,938.8 1399.2,917.1 1399.6,946.4 1400.5,949.9 1400.9,916.4 1402.2,950.7 1402.6,920.4 1403.5,943.6 1403.9,912.9 1404.3,917.4 1404.8,914.0 1406.0,926.7 1406.5,937.9 1406.9,904.7 1407.3,946.5 1408.2,945.7 1409.0,937.2 1409.5,925.4 1409.9,937.9 1410.7,934.7 1411.6,917.6 1412.0,908.7 1412.5,925.8 1413.3,925.2 1413.7,913.1 1414.6,944.0 1415.0,937.4 1416.3,923.8 1416.7,941.0 1417.2,950.7 1418.0,924.4 1418.9,949.1 1419.3,922.6 1420.2,940.0 1420.6,925.7 1421.0,927.2 1421.4,946.6 1422.3,949.6 1422.7,941.8 1424.0,948.5 1424.4,926.7 1424.9,934.4 1425.7,949.6 1426.1,937.9 1427.0,899.6 1427.8,914.2 1428.3,949.3 1428.7,938.8 1429.1,930.2 1430.4,924.3 1430.8,948.4 1431.3,944.8 1431.7,934.1 1432.5,930.1 1433.4,952.4 1433.8,951.4 1434.3,921.8 1435.1,952.6 1436.0,920.3 1436.8,921.1 1437.2,927.8 1437.7,940.3 1438.5,931.0 1439.0,928.7 1439.8,942.5 1440.7,934.8 1441.1,927.1 1441.9,940.8 1442.4,927.0 1442.8,919.3 1443.7,938.9 1444.5,917.0 1444.9,946.3 1445.8,942.1 1446.2,937.4 1446.6,910.2 1447.5,950.1 1447.9,937.3 1448.8,926.2 1449.2,925.4 1449.6,938.0 1450.5,948.0 1451.3,924.5 1451.8,945.1 1452.6,896.6 1453.5,946.9 1453.9,935.1 1454.3,946.5 1454.8,927.9 1455.6,943.3 1456.5,925.6 1457.3,936.6 1457.8,919.1 1458.6,945.6 1459.0,934.4 1459.5,894.6 1460.3,927.4 1460.7,933.6 1461.2,940.3 1462.0,924.3 1462.9,945.3 1463.7,945.5 1464.2,924.8 1464.6,924.9 1465.0,947.6 1465.9,943.8 1466.7,945.5 1467.2,929.7 1467.6,935.3 1468.4,930.9 1468.9,924.4 1469.7,942.4 1470.6,923.1 1471.0,944.3 1471.4,923.5 1472.3,935.5 1472.7,937.6 1474.0,901.0 1474.4,937.8 1474.8,916.3 1475.7,938.1 1476.1,940.0 1477.0,924.6 1477.8,938.2 1478.3,921.7 1479.1,936.6 1479.5,906.5 1480.0,926.9 1480.8,948.9 1481.3,933.5 1482.1,937.9 1482.5,929.6 1483.4,947.9 1483.8,951.4 1484.7,930.6 1485.5,918.8 1486.0,938.5 1486.4,946.6 1487.2,933.4 1487.7,933.9 1488.1,954.6 1489.4,925.0 1489.8,945.6 1490.2,937.9 1490.7,954.4 1491.5,925.8 1492.4,937.7 1493.2,937.7 1493.7,915.1 1494.1,925.8 1494.9,948.4 1495.4,913.5 1496.2,941.1 1496.6,927.9 1497.1,949.1 1498.4,919.2 1498.8,939.2 1499.2,943.2 1500.1,926.3 1500.5,917.7 1500.9,941.0 1502.2,933.8 1502.6,940.5 1503.1,935.5 1503.5,914.9 1504.3,917.5 1505.2,936.6 1505.6,940.8 1506.5,930.1 1506.9,909.6 1507.8,945.5 1508.6,934.6 1509.0,908.4 1509.5,915.1 1509.9,928.3 1510.7,927.9 1511.6,916.9 1512.0,946.5 1512.5,936.3 1513.3,925.2 1513.7,931.1 1514.6,929.3 1515.0,935.6 1515.9,928.5 1516.3,940.0 1517.2,942.8 1518.0,945.0 1518.4,944.3 1518.9,929.2 1519.7,939.1 1520.6,927.8 1521.0,934.9 1521.4,909.6 1522.3,948.9 1523.1,925.7 1524.0,935.1 1524.4,923.7 1524.8,940.8 1525.3,935.7 1526.1,942.7 1526.6,925.2 1527.4,918.6 1528.3,940.4 1528.7,919.4 1529.5,940.7 1530.4,918.5 1530.8,944.6 1531.3,952.4 1531.7,940.8 1532.5,948.2 1533.4,923.7 1533.8,926.0 1534.7,941.8 1535.5,946.7 1536.0,908.5 1536.4,942.3 1537.2,929.3 1537.7,952.9 1538.1,918.8 1538.9,936.3 1539.8,929.9 1540.7,933.7 1541.1,941.2 1541.9,930.1 1542.4,946.3 1543.2,940.3 1543.6,926.0 1544.1,921.9 1544.9,948.1 1545.4,941.3 1546.2,925.2 1547.1,937.7 1547.5,927.8 1547.9,899.5 1548.4,949.4 1549.6,953.9 1550.1,936.3 1550.5,945.9 1551.3,928.8 1551.8,937.5 1552.6,905.5 1553.5,906.2 1553.9,942.6 1554.8,937.0 1555.2,935.6 1556.0,919.4 1556.5,934.5 1557.3,941.4 1557.8,889.2 1558.6,914.8 1559.0,953.9 1559.5,926.4 1560.3,947.0 1560.7,919.3 1561.2,943.5 1562.0,916.6 1562.9,913.3 1563.3,944.5 1563.7,925.5 1565.0,940.2 1565.4,934.1 1566.3,906.5 1566.7,938.7 1567.2,927.5 1568.0,938.3 1568.4,922.5 1569.3,941.3 1570.1,939.5 1570.6,914.6 1571.4,936.1 1571.9,924.6 1572.7,926.8 1573.1,937.2 1574.0,916.4 1574.4,942.9 1575.3,924.8 1575.7,935.6 1576.6,945.0 1577.0,926.4 1577.8,912.4 1578.3,941.0 1578.7,928.8 1579.1,917.2 1580.0,931.8 1580.8,950.4 1581.3,934.8 1581.7,925.4 1583.0,935.2 1583.4,927.0 1584.2,927.1 1584.7,908.4 1585.1,924.3 1586.0,889.2 1586.8,944.9 1587.2,932.3 1587.7,949.0 1588.5,937.7 1589.4,926.4 1589.8,944.0 1590.2,942.9 1590.7,926.3 1591.5,938.3 1591.9,930.6 1592.8,938.9 1593.2,914.0 1594.5,931.8 1594.9,945.2 1595.4,930.9 1596.2,942.9 1596.6,947.5 1597.5,936.3 1597.9,934.3 1598.8,944.8 1599.2,947.0 1600.1,910.2 1600.9,904.1 1601.3,928.0 1601.8,929.6 1602.2,945.4 1603.0,938.8 1603.9,925.6 1604.8,947.3 1605.2,923.2 1605.6,946.8 1606.5,930.0 1606.9,928.1 1607.3,915.4 1608.2,947.0 1609.0,917.1 1609.5,926.6 1610.3,937.4 1610.7,950.3 1611.6,938.7 1612.0,930.8 1612.5,936.9 1613.3,945.7 1614.2,932.1 1615.0,920.5 1615.4,952.8 1615.9,942.8 1616.7,938.6 1617.2,949.8 1617.6,943.5 1618.4,923.9 1619.3,938.8 1620.1,934.9 1620.6,913.7 1621.4,940.1 1621.9,915.5 1622.3,929.0 1623.1,943.8 1623.6,938.6 1624.0,950.8 1624.8,950.8 1625.3,937.0 1626.1,930.5 1626.6,943.7 1627.4,930.1 1628.3,949.3 1628.7,949.0 1629.1,925.8 1630.0,941.6 1630.8,924.7 1631.7,938.5 1632.1,947.4 1632.5,929.3 1633.0,950.2 1634.2,925.9 1634.7,949.7 1635.5,931.5 1636.0,942.1 1636.4,925.0 1636.8,953.3 1637.7,952.5 1638.1,910.2 1639.4,950.4 1639.8,936.5 1640.2,932.3 1641.1,947.4 1641.9,938.7 1642.4,951.2 1643.2,955.1 1643.6,931.2 1644.5,916.3 1644.9,955.0 1645.4,926.8 1645.8,945.5 1647.1,925.3 1647.5,941.8 1647.9,941.8 1648.8,931.1 1649.6,941.2 1650.1,925.1 1650.9,943.3 1651.3,939.3 1651.8,913.7 1652.2,953.0 1653.5,946.1 1653.9,914.1 1654.3,902.9 1654.8,949.0 1656.0,929.0 1656.5,942.9 1657.3,946.1 1657.7,934.1 1658.6,942.2 1659.0,952.5 1659.5,935.0 1659.9,952.9 1660.7,941.5 1661.2,934.0 1662.4,930.5 1662.9,945.9 1663.7,951.1 1664.2,913.7 1665.0,931.1 1665.4,941.5 1665.9,944.1 1666.3,912.1 1667.1,946.5 1667.6,940.0 1668.4,938.1 1669.3,904.1 1670.1,919.5 1670.6,955.8 1671.4,940.2 1671.8,947.4 1672.7,929.1 1673.1,936.6 1674.0,931.5 1674.4,950.5 1675.3,925.8 1675.7,942.6 1676.6,931.4 1677.0,945.3 1677.4,933.6 1678.3,931.1 1678.7,909.9 1679.1,943.2 1680.0,939.1 1680.4,930.0 1681.3,938.5 1682.1,923.7 1682.5,946.9 1683.4,934.1 1683.8,950.6 1684.7,915.1 1685.1,905.4 1685.5,937.6 1686.8,926.5 1687.2,934.9 1687.7,935.6 1688.5,919.5 1689.4,934.8 1689.8,944.9 1690.2,934.1 1691.1,939.0 1691.5,946.0 1691.9,897.8 1692.8,916.6 1693.6,943.9 1694.1,912.3 1694.5,934.0 1695.4,918.6 1695.8,904.1 1696.6,922.0 1697.1,928.0 1697.9,932.8 1698.8,901.2 1699.6,913.1 1700.1,901.3 1700.5,911.4 1701.3,909.1 1701.8,886.2 1702.6,913.7 1703.0,910.2 1703.5,898.7 1704.3,886.8 1705.2,922.3 1705.6,894.7 1706.0,880.7 1706.9,902.8 1707.7,885.2 1708.2,887.2 1709.0,845.8 1709.9,856.9 1710.3,893.2 1710.7,820.8 1711.2,894.8 1712.4,850.1 1712.9,883.3 1713.7,886.1 1714.2,861.6 1714.6,839.6 1715.0,875.2 1716.3,879.8 1716.7,861.3 1717.1,856.3 1718.0,879.2 1718.9,865.6 1719.3,908.8 1719.7,883.9 1720.6,908.6 1721.4,904.7 1721.8,915.7 1722.7,919.8 1723.1,930.2 1724.0,913.9 1724.4,932.9 1724.8,925.4 1725.7,914.0 1726.1,924.1 1726.5,915.9 1727.8,931.6 1728.3,915.8 1728.7,910.2 1729.1,932.4 1730.0,909.4 1730.8,943.5 1731.7,940.3 1732.1,894.0 1732.5,941.3 1733.0,912.3 1733.8,943.8 1734.2,932.9 1735.1,941.1 1735.5,925.5 1736.4,913.7 1737.2,936.5 1737.7,933.7 1738.1,905.6 1739.4,949.4 1739.8,912.5 1740.2,915.5 1741.1,933.1 1741.5,920.1 1741.9,903.6 1742.8,939.0 1743.6,914.0 1744.5,945.1 1744.9,929.2 1745.4,925.7 1746.2,887.9 1746.6,922.5 1747.5,929.1 1748.3,921.9 1748.8,935.9 1749.2,936.7 1750.1,921.8 1750.9,923.8 1751.3,935.0 1751.8,939.5 1752.6,930.8 1753.0,931.2 1753.5,935.3 1754.3,930.7 1754.8,938.2 1755.6,933.0 1756.5,909.0 1756.9,919.1 1757.7,942.4 1758.2,942.4 1758.6,908.9 1759.9,944.1 1760.3,912.4 1761.2,933.0 1761.6,925.0 1762.4,927.5 1762.9,949.7 1763.3,934.1 1764.2,944.5 1764.6,926.4 1765.0,911.7 1765.9,938.1 1766.3,933.6 1767.1,924.9 1767.6,944.9 1768.9,943.6 1769.3,934.9 1769.7,949.3 1770.1,933.2 1771.0,895.3 1771.8,937.9 1772.3,946.8 1772.7,922.6 1774.0,929.5 1774.4,948.0 1775.3,937.9 1775.7,917.1 1776.1,917.1 1777.0,935.0 1777.4,936.9 1777.8,924.2 1778.7,913.2 1779.5,950.0 1780.0,953.4 1780.4,920.3 1781.2,924.2 1782.1,946.8 1783.0,937.2 1783.4,942.3 1784.2,949.2 1784.7,938.9 1785.1,905.0 1785.5,924.8 1786.8,950.5 1787.2,937.8 1787.7,919.5 1788.5,941.8 1788.9,954.9 1789.8,933.8 1790.2,936.2 1791.1,949.7 1791.5,925.8 1792.4,952.6 1792.8,903.7 1793.6,947.7 1794.1,952.2 1794.5,942.6 1795.3,953.5 1795.8,925.8 1796.6,951.2 1797.1,936.1 1798.3,940.5 1798.8,930.1 1799.2,927.8 1799.6,946.2 1800.5,921.6 1801.3,941.6 1801.8,920.9 1802.2,950.2 1803.0,950.5 1803.9,933.1 1804.8,948.1 1805.2,906.7 1806.0,942.4 1806.5,928.5 1806.9,945.3 1807.7,923.3 1808.2,917.4 1809.0,942.1 1809.9,924.1 1810.3,949.0 1811.2,933.0 1811.6,946.0 1812.4,927.1 1812.9,947.0 1813.3,924.2 1813.7,947.0 1814.6,927.5 1815.4,947.2 1815.9,936.3 1816.3,943.4 1817.1,939.2 1818.0,937.4 1818.9,949.3 1819.3,918.0 1820.1,940.8 1820.6,912.4 1821.4,947.2 1821.8,930.4 1822.3,919.4 1822.7,948.6 1823.6,922.7 1824.0,950.5 1824.8,937.1 1825.7,927.6 1826.5,922.0 1827.0,941.2 1827.4,944.8 1827.8,926.4 1828.7,915.7 1829.1,939.4 1830.4,944.1 1830.8,903.4 1831.2,915.3 1832.1,934.0 1832.5,947.1 1833.4,907.5 1833.8,935.9 1834.7,947.0 1835.1,934.2 1835.5,919.1 1836.8,914.2 1837.2,936.6 1837.7,934.1 1838.5,944.8 1838.9,892.8 1839.8,924.2 1840.6,931.2 1841.1,911.2 1841.9,940.9 1842.4,896.4 1843.2,918.9 1843.6,936.3 1844.1,940.5 1844.9,896.5 1845.8,866.8 1846.2,929.9 1846.6,915.1 1847.1,898.6 1847.9,889.6 1848.3,832.6 1849.2,923.2 1849.6,905.9 1850.5,921.9 1850.9,904.1 1851.8,875.2 1852.6,916.8 1853.0,927.1 1853.5,909.9 1854.3,891.2 1855.2,939.3 1855.6,937.8 1856.0,916.3 1857.3,919.7 1857.7,931.4 1858.2,919.7 1858.6,927.9 1859.4,949.0 1859.9,921.0 1860.7,946.2 1861.6,918.9 1862.0,936.7 1862.4,915.6 1863.7,942.0 1864.1,926.6 1864.6,922.8 1865.0,934.8 1865.9,919.0 1866.3,951.3 1867.1,940.4 1868.0,919.1 1868.4,921.8 1869.3,940.0 1870.1,941.5 1870.6,928.0 1871.0,928.7 1871.4,951.9 1872.3,938.6 1873.1,948.1 1873.6,931.8 1874.0,916.2 1875.3,945.5 1875.7,888.5 1876.5,920.8 1877.0,934.4 1877.4,935.0 1877.8,906.0 1878.7,926.9 1879.5,940.7 1880.4,937.8 1880.8,922.1 1881.7,937.0 1882.1,945.3 1883.0,920.3 1883.4,945.8 1883.8,950.3 1884.2,922.6 1885.5,938.6 1885.9,949.1 1886.4,926.0 1887.2,938.7 1888.1,949.4 1888.5,930.9 1888.9,952.1 1889.4,932.4 1890.6,947.5 1891.1,904.2 1891.9,934.3 1892.4,939.3 1892.8,944.7 1893.6,918.9 1894.5,935.1 1894.9,911.4 1895.3,946.4 1895.8,921.3 1896.6,915.3 1897.1,935.0 1897.9,937.2 1898.3,944.4 1899.6,916.4 1900.0,950.2 1900.5,928.6 1901.3,949.8 1901.8,902.4 1902.6,941.8 1903.0,931.6 1903.5,907.7 1904.3,940.9 1904.7,917.3 1906.0,931.2 1906.5,947.1 1907.3,929.9 1907.7,936.6 1908.6,939.0 1909.0,919.4 1909.9,936.5 1910.3,947.0 1910.7,926.7 1911.2,940.0 1912.4,936.3 1912.9,947.2 1913.3,948.4 1913.7,937.3 1914.6,939.0 1915.0,926.6 1915.9,916.8 1916.3,946.3 1917.6,955.9 1918.0,920.7 1918.4,909.8 1919.3,945.6 1919.7,927.8 1920.6,949.1 1921.0,929.5 1921.8,939.8 1922.7,916.9 1923.1,948.2 1923.5,939.7 1924.4,946.9 1924.8,947.3 1925.3,928.6 1926.1,952.8 1927.0,925.8 1927.8,939.7 1928.2,930.6 1928.7,950.8 1929.1,926.5 1930.0,942.1 1930.8,929.8 1931.2,944.8 1932.1,911.9 1933.0,938.7 1933.4,934.4 1933.8,941.5 1934.2,932.2 1935.1,933.0 1935.5,950.0 1936.8,930.8 1937.2,941.3 1937.7,915.1 1938.5,945.0 1938.9,948.7 1939.8,936.6 1940.2,927.1 1940.6,941.5 1941.9,924.0 1942.4,951.8 1942.8,949.0 1943.6,939.4 1944.1,939.9 1944.9,954.8 1945.3,941.6 1946.2,896.6 1946.6,932.8 1947.5,946.8 1948.3,926.1 1948.8,941.1 1949.6,937.6 1950.0,927.9 1950.5,935.7 1951.3,905.4 1951.8,950.4 1952.2,927.0 1953.0,938.6 1953.5,924.5 1954.3,926.7 1954.7,943.1 1955.6,927.4 1956.5,921.1 1956.9,930.5 1957.3,916.2 1958.2,926.3 1959.0,920.1 1959.4,932.6 1960.3,911.8 1961.2,892.9 1961.6,927.1 1962.0,922.2 1962.4,896.1 1963.7,936.3 1964.1,910.0 1964.6,919.4 1965.4,941.3 1965.9,929.1 1966.7,911.5 1967.1,923.4 1968.0,920.7 1968.4,908.0 1968.8,938.4 1970.1,914.7 1970.6,935.5 1971.0,910.8 1971.8,941.5 1972.3,924.9 1973.1,947.1 1973.5,937.1 1974.4,915.0 1974.8,904.1 1975.7,936.0 1976.5,935.5 1977.0,922.0 1977.4,911.2 1977.8,935.0 1979.1,919.8 1979.5,935.9 1980.0,945.5 1980.4,916.6 1981.2,946.9 1982.1,930.5 1982.5,913.9 1983.4,933.2 1984.2,913.2 1984.7,942.9 1985.1,946.4 1985.5,913.3 1986.4,908.9 1986.8,945.5 1988.1,945.8 1988.5,920.1 1988.9,940.9 1989.8,908.4 1990.2,946.2 1990.6,926.8 1991.9,914.8 1992.3,946.3 1992.8,945.4 1993.2,916.3 1994.5,943.5 1994.9,910.9 1995.8,909.2 1996.2,946.3 1996.6,934.5 1997.1,899.3 1997.9,945.1 1998.8,930.1 1999.6,926.1 2000.0,934.2 2000.5,912.0 2000.9,926.6 2002.2,928.8 2002.6,945.8 2003.0,935.4 2003.5,927.3 2004.7,925.6 2005.2,897.0 2005.6,950.5 2006.0,926.5 2007.3,949.0 2007.7,913.5 2008.2,940.0 2008.6,953.1 2009.4,915.2 2010.3,939.0 2010.7,951.3 2011.6,918.8 2012.4,951.3 2012.9,949.1 2013.3,938.8 2013.7,947.3 2014.6,930.8 2015.0,950.3 2015.9,940.7 2016.3,913.8 2017.1,951.0 2017.6,922.0 2018.4,941.8 2019.3,919.0 2020.1,931.7 2020.6,950.8 2021.4,929.4 2021.8,953.8 2022.7,938.5 2023.1,951.7 2023.5,947.8 2024.0,923.8 2025.3,951.1 2025.7,938.7 2026.1,923.0 2026.5,940.7 2027.8,950.3 2028.2,937.5 2028.7,931.5 2029.5,943.7 2030.0,937.0 2030.4,951.3 2031.2,936.2 2032.1,952.1 2032.5,931.8 2033.4,940.2 2034.2,950.4 2034.7,904.3 2035.5,920.7 2035.9,948.0 2036.4,938.0 2036.8,925.1 2037.6,921.6 2038.1,944.5 2038.9,936.6 2039.8,911.2 2040.2,930.5 2041.1,926.6 2041.9,935.3 2042.3,940.2 2042.8,922.6 2043.6,946.7 2044.5,911.7 2044.9,937.0 2045.8,937.4 2046.2,896.8 2047.0,940.3 2047.5,911.9 2048.3,936.1 2048.8,904.3 2049.2,929.4 2050.0,918.1 2050.9,936.1 2051.3,908.9 2052.2,911.5 2052.6,936.9 2053.0,926.3 2053.9,933.7 2054.7,949.8 2055.2,938.2 2055.6,947.8 2056.4,916.5 2056.9,922.2 2057.7,949.7 2058.2,928.3 2058.6,945.5 2059.9,943.7 2060.3,920.7 2061.2,931.3 2061.6,948.2 2062.0,908.1 2062.4,949.6 2063.3,946.6 2063.7,930.9 2065.0,951.6 2065.4,929.2 2065.9,947.8 2066.7,927.9 2067.1,947.3 2067.6,936.2 2068.4,947.4 2068.8,928.8 2069.7,928.5 2070.1,950.2 2071.0,953.8 2071.8,928.3 2072.7,949.2 2073.1,932.4 2073.5,953.1 2074.0,922.1 2074.8,938.5 2075.3,957.4 2076.5,940.3 2077.0,953.6 2077.4,944.8 2078.2,956.0 2079.1,948.6 2079.5,920.5 2080.0,956.9 2080.4,942.0 2081.2,953.1 2081.7,921.7 2082.5,950.6 2083.4,937.0 2083.8,922.9 2084.2,948.5 2085.5,927.9 2085.9,953.2 2086.8,950.9 2087.2,923.2 2087.6,934.9 2088.5,982.5"/>
<polyline class="c" stroke="#000" stroke-width="3.0" stroke-linejoin="round" points="165.5,936.4 166.8,937.7 168.1,938.0 169.3,938.8 170.6,938.9 171.9,938.9 173.2,940.2 174.5,940.0 175.8,940.3 177.0,940.9 178.3,941.4 179.6,941.3 180.9,940.8 182.2,938.9 183.4,938.9 184.7,939.2 186.0,939.1 187.3,939.8 188.6,939.2 189.9,942.2 191.1,940.7 192.4,941.8 193.7,940.4 195.0,940.7 196.3,941.1 197.5,939.6 198.8,941.1 200.1,938.3 201.4,941.2 202.7,939.8 204.0,938.1 205.2,938.3 206.5,937.9 207.8,939.6 209.1,939.1 210.4,941.8 211.7,942.1 212.9,941.9 214.2,942.4 215.5,941.3 216.8,939.7 218.1,936.7 219.3,938.5 220.6,939.9 221.9,940.2 223.2,939.7 224.5,940.0 225.8,941.5 227.0,939.8 228.3,940.2 229.6,940.6 230.9,943.2 232.2,942.8 233.4,943.0 234.7,944.3 236.0,942.3 237.3,941.7 238.6,937.8 239.9,936.8 241.1,938.1 242.4,935.9 243.7,933.7 245.0,931.8 246.3,933.7 247.5,935.5 248.8,932.9 250.1,934.6 251.4,934.4 252.7,936.0 254.0,932.0 255.2,930.9 256.5,932.9 257.8,930.5 259.1,934.1 260.4,934.4 261.6,936.3 262.9,938.1 264.2,937.9 265.5,940.3 266.8,936.9 268.1,937.5 269.3,936.1 270.6,931.9 271.9,929.8 273.2,930.0 274.5,932.3 275.8,929.4 277.0,931.3 278.3,934.7 279.6,933.2 280.9,929.3 282.2,926.6 283.4,927.6 284.7,930.0 286.0,930.1 287.3,930.3 288.6,935.2 289.9,937.2 291.1,938.8 292.4,932.3 293.7,932.0 295.0,934.2 296.3,932.7 297.5,932.7 298.8,928.1 300.1,928.2 301.4,926.7 302.7,925.2 304.0,922.9 305.2,922.2 306.5,924.8 307.8,929.6 309.1,931.1 310.4,935.3 311.6,941.0 312.9,943.4 314.2,942.0 315.5,938.4 316.8,936.4 318.1,931.8 319.3,925.7 320.6,922.9 321.9,924.0 323.2,925.6 324.5,922.9 325.7,922.7 327.0,924.0 328.3,925.4 329.6,926.4 330.9,924.3 332.2,927.2 333.4,934.8 334.7,940.9 336.0,942.3 337.3,943.1 338.6,949.0 339.9,947.7 341.1,941.6 342.4,932.7 343.7,931.9 345.0,933.6 346.3,929.6 347.5,923.3 348.8,926.3 350.1,928.8 351.4,932.1 352.7,929.4 354.0,928.1 355.2,935.1 356.5,931.7 357.8,930.9 359.1,930.7 360.4,930.4 361.6,932.8 362.9,930.6 364.2,935.9 365.5,936.8 366.8,934.5 368.1,928.8 369.3,926.9 370.6,927.8 371.9,917.9 373.2,918.3 374.5,917.4 375.7,922.2 377.0,916.5 378.3,914.9 379.6,922.2 380.9,920.7 382.2,917.0 383.4,917.6 384.7,923.1 386.0,925.1 387.3,926.5 388.6,927.1 389.8,929.5 391.1,923.5 392.4,922.5 393.7,923.2 395.0,919.7 396.3,920.3 397.5,922.4 398.8,920.7 400.1,914.1 401.4,905.9 402.7,900.0 404.0,905.9 405.2,901.2 406.5,911.9 407.8,913.6 409.1,921.3 410.4,926.1 411.6,922.5 412.9,923.8 414.2,922.0 415.5,930.0 416.8,926.2 418.1,921.6 419.3,921.1 420.6,921.4 421.9,920.4 423.2,917.5 424.5,921.7 425.7,921.3 427.0,925.8 428.3,928.6 429.6,931.5 430.9,928.3 432.2,926.8 433.4,927.4 434.7,930.7 436.0,930.0 437.3,930.8 438.6,930.7 439.8,934.8 441.1,944.7 442.4,938.4 443.7,938.7 445.0,940.1 446.3,942.7 447.5,942.5 448.8,937.0 450.1,936.6 451.4,934.5 452.7,932.6 453.9,931.6 455.2,920.2 456.5,918.9 457.8,928.3 459.1,934.2 460.4,936.1 461.6,935.4 462.9,939.2 464.2,939.2 465.5,938.1 466.8,940.8 468.1,941.5 469.3,942.5 470.6,942.0 471.9,942.7 473.2,941.1 474.5,937.0 475.7,934.2 477.0,934.5 478.3,930.9 479.6,929.0 480.9,926.9 482.2,924.2 483.4,925.9 484.7,926.2 486.0,927.4 487.3,926.1 488.6,925.9 489.8,931.2 491.1,928.8 492.4,929.5 493.7,926.2 495.0,930.8 496.3,930.4 497.5,932.4 498.8,932.6 500.1,933.6 501.4,938.0 502.7,934.2 503.9,936.9 505.2,933.9 506.5,937.8 507.8,937.0 509.1,940.9 510.4,931.6 511.6,927.1 512.9,918.5 514.2,925.7 515.5,936.3 516.8,935.2 518.0,937.7 519.3,939.8 520.6,939.2 521.9,939.0 523.2,936.3 524.5,938.9 525.7,942.3 527.0,941.9 528.3,941.2 529.6,942.3 530.9,944.9 532.2,941.0 533.4,939.0 534.7,931.9 536.0,932.8 537.3,931.0 538.6,932.7 539.8,936.1 541.1,935.2 542.4,936.4 543.7,935.7 545.0,934.3 546.3,935.3 547.5,930.3 548.8,934.6 550.1,933.5 551.4,935.7 552.7,938.6 553.9,935.8 555.2,936.9 556.5,936.0 557.8,937.8 559.1,934.7 560.4,934.6 561.6,931.2 562.9,932.2 564.2,934.3 565.5,933.7 566.8,935.8 568.0,936.8 569.3,934.5 570.6,934.0 571.9,932.9 573.2,935.5 574.5,935.2 575.7,934.8 577.0,940.5 578.3,945.4 579.6,942.3 580.9,940.7 582.1,939.7 583.4,940.1 584.7,937.3 586.0,930.3 587.3,930.7 588.6,932.9 589.8,930.0 591.1,929.7 592.4,932.0 593.7,937.1 595.0,936.1 596.3,931.6 597.5,935.2 598.8,937.5 600.1,940.2 601.4,941.1 602.7,946.3 603.9,947.8 605.2,950.8 606.5,949.1 607.8,946.9 609.1,948.0 610.4,941.3 611.6,943.1 612.9,939.7 614.2,936.3 615.5,936.0 616.8,935.5 618.0,936.0 619.3,933.0 620.6,929.4 621.9,929.6 623.2,924.1 624.5,921.5 625.7,924.9 627.0,928.0 628.3,931.3 629.6,931.6 630.9,935.1 632.1,935.2 633.4,941.4 634.7,938.6 636.0,941.6 637.3,943.5 638.6,947.4 639.8,945.7 641.1,934.8 642.4,941.1 643.7,932.8 645.0,930.4 646.2,929.0 647.5,931.3 648.8,929.6 650.1,923.6 651.4,927.2 652.7,926.8 653.9,918.9 655.2,918.9 656.5,917.5 657.8,919.9 659.1,919.0 660.4,921.5 661.6,927.8 662.9,926.1 664.2,930.7 665.5,927.0 666.8,926.5 668.0,927.9 669.3,928.0 670.6,929.8 671.9,931.8 673.2,931.6 674.5,929.8 675.7,920.8 677.0,916.9 678.3,918.7 679.6,920.1 680.9,923.8 682.1,927.9 683.4,934.0 684.7,940.7 686.0,939.8 687.3,941.2 688.6,942.8 689.8,944.9 691.1,943.7 692.4,940.5 693.7,942.5 695.0,939.4 696.2,938.5 697.5,933.0 698.8,936.3 700.1,936.5 701.4,935.0 702.7,933.8 703.9,930.6 705.2,935.1 706.5,934.8 707.8,935.2 709.1,932.7 710.3,932.0 711.6,934.2 712.9,935.8 714.2,935.3 715.5,937.2 716.8,942.4 718.0,946.4 719.3,942.6 720.6,937.3 721.9,937.8 723.2,935.1 724.5,933.5 725.7,933.0 727.0,933.8 728.3,935.2 729.6,936.2 730.9,939.5 732.1,937.1 733.4,935.8 734.7,935.0 736.0,934.9 737.3,934.0 738.6,931.6 739.8,933.9 741.1,933.5 742.4,938.6 743.7,942.3 745.0,939.5 746.2,942.7 747.5,940.9 748.8,943.6 750.1,939.1 751.4,934.1 752.7,934.6 753.9,933.8 755.2,937.1 756.5,933.9 757.8,940.0 759.1,936.1 760.3,936.9 761.6,935.0 762.9,932.6 764.2,933.3 765.5,929.9 766.8,934.7 768.0,936.4 769.3,936.5 770.6,934.9 771.9,935.7 773.2,936.1 774.4,937.3 775.7,936.8 777.0,935.2 778.3,937.7 779.6,935.7 780.9,930.6 782.1,930.6 783.4,930.2 784.7,931.0 786.0,932.6 787.3,933.3 788.6,937.0 789.8,934.5 791.1,931.5 792.4,929.7 793.7,923.5 795.0,925.0 796.2,925.6 797.5,926.6 798.8,927.9 800.1,932.9 801.4,942.9 802.7,941.1 803.9,943.2 805.2,945.5 806.5,946.6 807.8,945.7 809.1,935.6 810.3,936.7 811.6,930.3 812.9,928.1 814.2,923.3 815.5,920.2 816.8,920.6 818.0,910.7 819.3,913.6 820.6,907.9 821.9,901.1 823.2,873.2 824.4,843.2 825.7,819.3 827.0,786.1 828.3,773.9 829.6,792.7 830.9,823.2 832.1,856.2 833.4,879.4 834.7,895.7 836.0,911.6 837.3,914.3 838.5,919.4 839.8,919.4 841.1,925.5 842.4,927.7 843.7,926.7 845.0,924.9 846.2,927.6 847.5,928.4 848.8,921.8 850.1,920.2 851.4,920.4 852.7,918.7 853.9,913.5 855.2,913.8 856.5,920.2 857.8,924.9 859.1,927.7 860.3,931.3 861.6,926.7 862.9,927.3 864.2,923.6 865.5,926.3 866.8,927.8 868.0,929.8 869.3,935.6 870.6,926.8 871.9,925.4 873.2,918.1 874.4,913.3 875.7,922.6 877.0,926.0 878.3,934.6 879.6,935.5 880.9,936.8 882.1,933.7 883.4,925.8 884.7,921.9 886.0,921.7 887.3,918.3 888.5,923.1 889.8,927.3 891.1,929.5 892.4,930.4 893.7,933.0 895.0,936.2 896.2,926.5 897.5,924.6 898.8,922.8 900.1,923.5 901.4,908.2 902.6,894.0 903.9,878.6 905.2,849.0 906.5,820.7 907.8,824.7 909.1,847.2 910.3,874.7 911.6,893.6 912.9,906.1 914.2,920.2 915.5,925.6 916.8,930.6 918.0,933.6 919.3,938.3 920.6,942.4 921.9,939.1 923.2,939.6 924.4,940.9 925.7,940.0 927.0,937.1 928.3,931.6 929.6,932.9 930.9,931.1 932.1,929.2 933.4,925.2 934.7,925.0 936.0,922.5 937.3,924.8 938.5,910.5 939.8,902.7 941.1,894.7 942.4,885.2 943.7,882.3 945.0,875.8 946.2,879.8 947.5,882.8 948.8,892.5 950.1,907.5 951.4,917.8 952.6,908.3 953.9,913.7 955.2,919.6 956.5,915.3 957.8,910.9 959.1,913.4 960.3,922.2 961.6,924.1 962.9,920.5 964.2,926.3 965.5,929.2 966.7,933.3 968.0,936.9 969.3,939.6 970.6,945.1 971.9,943.9 973.2,943.2 974.4,935.9 975.7,937.3 977.0,938.5 978.3,940.2 979.6,941.2 980.9,940.5 982.1,940.1 983.4,938.5 984.7,932.2 986.0,931.6 987.3,928.8 988.5,928.7 989.8,928.7 991.1,929.0 992.4,934.0 993.7,929.3 995.0,935.7 996.2,932.8 997.5,935.3 998.8,936.2 1000.1,933.6 1001.4,937.4 1002.6,935.4 1003.9,937.7 1005.2,936.5 1006.5,935.3 1007.8,937.2 1009.1,936.9 1010.3,934.6 1011.6,933.9 1012.9,939.2 1014.2,938.7 1015.5,941.1 1016.7,941.2 1018.0,943.4 1019.3,943.6 1020.6,940.6 1021.9,939.0 1023.2,934.0 1024.4,932.7 1025.7,931.0 1027.0,933.6 1028.3,933.0 1029.6,936.4 1030.8,938.6 1032.1,938.5 1033.4,938.6 1034.7,934.0 1036.0,928.9 1037.3,924.0 1038.5,920.4 1039.8,922.3 1041.1,922.1 1042.4,924.2 1043.7,931.4 1045.0,936.9 1046.2,939.0 1047.5,934.5 1048.8,935.9 1050.1,932.0 1051.4,930.6 1052.6,931.4 1053.9,930.0 1055.2,935.2 1056.5,932.3 1057.8,937.0 1059.1,936.1 1060.3,932.1 1061.6,935.7 1062.9,933.1 1064.2,935.5 1065.5,936.0 1066.7,940.1 1068.0,944.4 1069.3,944.3 1070.6,939.0 1071.9,938.6 1073.2,934.0 1074.4,928.4 1075.7,924.8 1077.0,926.4 1078.3,931.8 1079.6,931.8 1080.8,941.2 1082.1,939.3 1083.4,931.4 1084.7,924.0 1086.0,924.0 1087.3,926.7 1088.5,911.8 1089.8,917.2 1091.1,926.6 1092.4,932.2 1093.7,933.3 1094.9,930.6 1096.2,939.6 1097.5,935.1 1098.8,937.3 1100.1,938.7 1101.4,936.0 1102.6,935.8 1103.9,934.2 1105.2,939.3 1106.5,940.7 1107.8,941.4 1109.1,941.0 1110.3,942.9 1111.6,942.7 1112.9,941.1 1114.2,937.9 1115.5,939.8 1116.7,941.8 1118.0,937.7 1119.3,936.6 1120.6,937.3 1121.9,940.0 1123.2,935.5 1124.4,936.5 1125.7,936.0 1127.0,932.4 1128.3,929.4 1129.6,924.0 1130.8,921.1 1132.1,917.1 1133.4,914.6 1134.7,922.4 1136.0,922.5 1137.3,922.1 1138.5,926.5 1139.8,933.9 1141.1,934.9 1142.4,931.7 1143.7,934.6 1144.9,936.6 1146.2,937.7 1147.5,937.7 1148.8,942.4 1150.1,937.5 1151.4,940.2 1152.6,943.0 1153.9,941.9 1155.2,939.3 1156.5,939.3 1157.8,949.6 1159.0,947.6 1160.3,946.5 1161.6,942.9 1162.9,941.8 1164.2,943.3 1165.5,942.1 1166.7,941.1 1168.0,942.8 1169.3,945.5 1170.6,947.4 1171.9,942.9 1173.2,940.9 1174.4,940.0 1175.7,939.3 1177.0,939.8 1178.3,937.7 1179.6,940.0 1180.8,932.9 1182.1,930.5 1183.4,930.8 1184.7,930.2 1186.0,931.6 1187.3,932.2 1188.5,937.1 1189.8,939.7 1191.1,938.4 1192.4,939.9 1193.7,937.4 1194.9,935.4 1196.2,935.6 1197.5,932.6 1198.8,935.2 1200.1,931.9 1201.4,931.3 1202.6,932.9 1203.9,931.5 1205.2,936.2 1206.5,935.1 1207.8,936.7 1209.0,939.2 1210.3,938.7 1211.6,941.7 1212.9,938.4 1214.2,941.0 1215.5,936.6 1216.7,933.6 1218.0,931.7 1219.3,931.8 1220.6,934.4 1221.9,932.8 1223.1,935.0 1224.4,934.0 1225.7,934.0 1227.0,936.4 1228.3,932.1 1229.6,924.3 1230.8,927.0 1232.1,932.6 1233.4,937.3 1234.7,936.1 1236.0,940.1 1237.3,945.4 1238.5,945.1 1239.8,950.1 1241.1,949.9 1242.4,944.8 1243.7,943.4 1244.9,940.1 1246.2,938.2 1247.5,929.7 1248.8,927.1 1250.1,931.1 1251.4,929.9 1252.6,931.3 1253.9,931.7 1255.2,934.2 1256.5,936.2 1257.8,932.3 1259.0,930.1 1260.3,932.1 1261.6,933.9 1262.9,932.1 1264.2,932.8 1265.5,931.9 1266.7,935.4 1268.0,930.2 1269.3,933.3 1270.6,934.4 1271.9,932.8 1273.1,939.5 1274.4,939.6 1275.7,941.6 1277.0,941.5 1278.3,941.0 1279.6,941.7 1280.8,932.5 1282.1,930.9 1283.4,934.0 1284.7,931.8 1286.0,931.9 1287.2,930.8 1288.5,933.5 1289.8,935.3 1291.1,932.6 1292.4,933.7 1293.7,933.4 1294.9,939.0 1296.2,944.2 1297.5,942.9 1298.8,943.5 1300.1,940.5 1301.4,938.3 1302.6,932.0 1303.9,929.1 1305.2,930.8 1306.5,928.9 1307.8,930.4 1309.0,933.2 1310.3,932.6 1311.6,931.6 1312.9,930.9 1314.2,934.3 1315.5,934.8 1316.7,936.3 1318.0,943.7 1319.3,941.9 1320.6,941.9 1321.9,942.0 1323.1,942.5 1324.4,940.4 1325.7,934.8 1327.0,940.9 1328.3,944.5 1329.6,940.7 1330.8,939.3 1332.1,941.0 1333.4,939.7 1334.7,938.4 1336.0,934.6 1337.2,939.8 1338.5,934.7 1339.8,929.5 1341.1,929.3 1342.4,924.4 1343.7,922.0 1344.9,921.3 1346.2,928.6 1347.5,930.0 1348.8,936.2 1350.1,939.0 1351.3,940.3 1352.6,938.5 1353.9,944.6 1355.2,945.8 1356.5,939.7 1357.8,937.1 1359.0,931.3 1360.3,929.0 1361.6,923.8 1362.9,927.0 1364.2,931.0 1365.5,929.2 1366.7,930.6 1368.0,928.8 1369.3,927.6 1370.6,927.8 1371.9,921.1 1373.1,916.7 1374.4,919.3 1375.7,921.1 1377.0,918.5 1378.3,914.7 1379.6,922.3 1380.8,930.9 1382.1,927.6 1383.4,927.7 1384.7,930.7 1386.0,933.2 1387.2,928.8 1388.5,928.9 1389.8,931.2 1391.1,931.4 1392.4,930.5 1393.7,929.3 1394.9,931.9 1396.2,932.9 1397.5,930.2 1398.8,931.3 1400.1,930.7 1401.3,932.4 1402.6,930.0 1403.9,927.7 1405.2,924.4 1406.5,921.8 1407.8,923.9 1409.0,924.8 1410.3,923.3 1411.6,925.8 1412.9,932.2 1414.2,927.9 1415.4,928.9 1416.7,926.8 1418.0,929.0 1419.3,923.8 1420.6,925.8 1421.9,929.4 1423.1,927.5 1424.4,933.3 1425.7,933.1 1427.0,936.9 1428.3,933.2 1429.6,936.3 1430.8,939.8 1432.1,932.9 1433.4,933.6 1434.7,933.6 1436.0,937.0 1437.2,934.3 1438.5,933.3 1439.8,940.1 1441.1,937.8 1442.4,935.8 1443.7,933.7 1444.9,934.3 1446.2,934.1 1447.5,932.0 1448.8,931.1 1450.1,930.3 1451.3,930.7 1452.6,929.4 1453.9,930.1 1455.2,925.1 1456.5,930.2 1457.8,930.7 1459.0,931.3 1460.3,935.3 1461.6,929.1 1462.9,929.7 1464.2,927.2 1465.4,922.4 1466.7,919.4 1468.0,913.6 1469.3,915.8 1470.6,919.7 1471.9,921.9 1473.1,929.7 1474.4,931.3 1475.7,934.5 1477.0,931.5 1478.3,929.2 1479.5,931.0 1480.8,932.0 1482.1,931.5 1483.4,935.1 1484.7,942.0 1486.0,947.5 1487.2,945.9 1488.5,947.9 1489.8,945.5 1491.1,943.5 1492.4,941.1 1493.7,934.8 1494.9,936.2 1496.2,932.6 1497.5,939.2 1498.8,940.5 1500.1,939.8 1501.3,947.1 1502.6,946.5 1503.9,944.6 1505.2,942.5 1506.5,936.4 1507.8,939.0 1509.0,931.9 1510.3,929.3 1511.6,932.3 1512.9,933.1 1514.2,937.8 1515.4,931.2 1516.7,932.8 1518.0,934.3 1519.3,934.3 1520.6,933.6 1521.9,927.8 1523.1,933.2 1524.4,939.7 1525.7,937.4 1527.0,935.8 1528.3,938.9 1529.5,942.4 1530.8,941.4 1532.1,936.6 1533.4,935.9 1534.7,934.2 1536.0,923.0 1537.2,922.8 1538.5,918.5 1539.8,922.2 1541.1,921.8 1542.4,923.5 1543.6,931.6 1544.9,932.6 1546.2,938.7 1547.5,937.0 1548.8,937.3 1550.1,935.1 1551.3,934.0 1552.6,933.5 1553.9,931.3 1555.2,926.0 1556.5,928.6 1557.8,927.9 1559.0,929.9 1560.3,935.9 1561.6,938.4 1562.9,942.0 1564.2,940.2 1565.4,941.6 1566.7,935.6 1568.0,929.8 1569.3,927.8 1570.6,928.6 1571.9,931.4 1573.1,937.0 1574.4,939.1 1575.7,939.6 1577.0,941.2 1578.3,940.1 1579.5,936.6 1580.8,926.9 1582.1,929.3 1583.4,927.3 1584.7,925.9 1586.0,928.5 1587.2,930.2 1588.5,937.1 1589.8,933.6 1591.1,933.8 1592.4,933.4 1593.6,929.8 1594.9,930.4 1596.2,927.1 1597.5,926.0 1598.8,929.4 1600.1,927.2 1601.3,928.7 1602.6,927.6 1603.9,926.0 1605.2,927.2 1606.5,923.9 1607.7,924.7 1609.0,926.7 1610.3,928.3 1611.6,933.7 1612.9,935.1 1614.2,935.5 1615.4,936.5 1616.7,937.5 1618.0,941.0 1619.3,939.2 1620.6,938.0 1621.9,940.3 1623.1,939.1 1624.4,935.3 1625.7,927.9 1627.0,934.3 1628.3,938.3 1629.5,940.0 1630.8,946.3 1632.1,944.7 1633.4,947.9 1634.7,941.7 1636.0,940.0 1637.2,934.5 1638.5,931.4 1639.8,933.8 1641.1,931.0 1642.4,931.5 1643.6,932.4 1644.9,938.3 1646.2,939.6 1647.5,938.9 1648.8,942.2 1650.1,943.5 1651.3,946.0 1652.6,944.3 1653.9,942.3 1655.2,945.1 1656.5,948.9 1657.7,949.1 1659.0,944.9 1660.3,944.3 1661.6,944.2 1662.9,942.1 1664.2,938.9 1665.4,934.9 1666.7,936.4 1668.0,937.2 1669.3,935.6 1670.6,932.6 1671.8,929.3 1673.1,926.7 1674.4,928.3 1675.7,929.9 1677.0,935.0 1678.3,935.1 1679.5,938.9 1680.8,946.6 1682.1,939.0 1683.4,929.7 1684.7,929.5 1686.0,934.8 1687.2,929.1 1688.5,925.1 1689.8,929.6 1691.1,934.4 1692.4,929.4 1693.6,924.1 1694.9,924.7 1696.2,920.9 1697.5,915.1 1698.8,913.4 1700.1,901.1 1701.3,891.4 1702.6,890.3 1703.9,884.2 1705.2,871.4 1706.5,863.0 1707.7,865.1 1709.0,860.5 1710.3,846.0 1711.6,842.2 1712.9,848.7 1714.2,847.1 1715.4,850.6 1716.7,860.1 1718.0,876.8 1719.3,893.9 1720.6,906.0 1721.8,919.3 1723.1,926.4 1724.4,925.7 1725.7,924.6 1727.0,918.4 1728.3,919.8 1729.5,921.5 1730.8,923.4 1732.1,924.8 1733.4,925.7 1734.7,930.0 1735.9,933.4 1737.2,930.0 1738.5,926.5 1739.8,935.5 1741.1,934.9 1742.4,929.0 1743.6,922.9 1744.9,922.7 1746.2,927.0 1747.5,920.7 1748.8,923.3 1750.1,925.7 1751.3,931.2 1752.6,928.6 1753.9,926.2 1755.2,923.8 1756.5,921.0 1757.7,925.8 1759.0,928.7 1760.3,930.2 1761.6,933.9 1762.9,933.6 1764.2,937.7 1765.4,938.8 1766.7,932.4 1768.0,937.1 1769.3,933.0 1770.6,938.6 1771.8,935.1 1773.1,931.2 1774.4,931.3 1775.7,926.7 1777.0,926.0 1778.3,925.1 1779.5,924.7 1780.8,928.3 1782.1,930.3 1783.4,932.9 1784.7,937.7 1785.9,934.2 1787.2,936.6 1788.5,935.8 1789.8,937.1 1791.1,935.5 1792.4,930.7 1793.6,932.0 1794.9,935.3 1796.2,932.0 1797.5,930.6 1798.8,934.5 1800.0,936.1 1801.3,936.1 1802.6,935.3 1803.9,936.1 1805.2,933.8 1806.5,930.2 1807.7,932.1 1809.0,936.1 1810.3,933.1 1811.6,932.5 1812.9,933.8 1814.2,937.3 1815.4,937.2 1816.7,932.6 1818.0,932.6 1819.3,937.2 1820.6,940.0 1821.8,933.4 1823.1,939.5 1824.4,939.6 1825.7,942.2 1827.0,938.0 1828.3,936.1 1829.5,943.5 1830.8,940.7 1832.1,942.0 1833.4,941.9 1834.7,937.1 1835.9,934.7 1837.2,929.6 1838.5,919.0 1839.8,917.1 1841.1,912.0 1842.4,917.2 1843.6,916.1 1844.9,920.8 1846.2,918.8 1847.5,920.7 1848.8,920.9 1850.0,917.7 1851.3,922.8 1852.6,915.1 1853.9,919.9 1855.2,921.1 1856.5,918.1 1857.7,920.2 1859.0,919.3 1860.3,926.1 1861.6,922.4 1862.9,923.0 1864.1,928.3 1865.4,927.5 1866.7,927.3 1868.0,925.9 1869.3,932.5 1870.6,933.5 1871.8,932.4 1873.1,929.4 1874.4,930.2 1875.7,928.4 1877.0,927.4 1878.3,929.2 1879.5,928.8 1880.8,934.7 1882.1,935.3 1883.4,936.6 1884.7,936.5 1885.9,934.6 1887.2,936.2 1888.5,940.9 1889.8,943.1 1891.1,938.8 1892.4,943.1 1893.6,944.1 1894.9,946.6 1896.2,940.2 1897.5,938.1 1898.8,942.8 1900.0,940.4 1901.3,939.0 1902.6,934.2 1903.9,935.0 1905.2,930.7 1906.5,929.4 1907.7,928.4 1909.0,930.4 1910.3,929.1 1911.6,933.1 1912.9,934.0 1914.1,935.5 1915.4,930.2 1916.7,926.0 1918.0,925.3 1919.3,922.6 1920.6,925.6 1921.8,923.4 1923.1,931.0 1924.4,933.6 1925.7,940.6 1927.0,941.6 1928.2,939.9 1929.5,939.6 1930.8,939.7 1932.1,941.1 1933.4,938.1 1934.7,937.0 1935.9,936.9 1937.2,937.0 1938.5,938.5 1939.8,939.6 1941.1,937.3 1942.4,934.3 1943.6,938.5 1944.9,942.0 1946.2,939.4 1947.5,933.6 1948.8,936.1 1950.0,930.6 1951.3,925.7 1952.6,922.2 1953.9,922.4 1955.2,924.7 1956.5,927.9 1957.7,936.6 1959.0,935.4 1960.3,932.1 1961.6,928.3 1962.9,924.6 1964.1,920.0 1965.4,920.4 1966.7,919.9 1968.0,923.2 1969.3,927.0 1970.6,929.6 1971.8,926.4 1973.1,929.7 1974.4,930.3 1975.7,927.5 1977.0,927.6 1978.2,927.8 1979.5,929.7 1980.8,925.2 1982.1,924.1 1983.4,925.5 1984.7,927.6 1985.9,927.5 1987.2,928.2 1988.5,929.8 1989.8,931.8 1991.1,929.7 1992.3,927.4 1993.6,924.9 1994.9,926.9 1996.2,925.7 1997.5,924.3 1998.8,928.8 2000.0,925.7 2001.3,930.3 2002.6,927.5 2003.9,927.3 2005.2,932.4 2006.5,930.5 2007.7,932.4 2009.0,928.5 2010.3,927.9 2011.6,929.2 2012.9,924.1 2014.1,924.6 2015.4,921.2 2016.7,920.3 2018.0,924.7 2019.3,924.7 2020.6,928.2 2021.8,929.2 2023.1,931.6 2024.4,932.4 2025.7,935.9 2027.0,935.4 2028.2,934.9 2029.5,933.0 2030.8,931.7 2032.1,935.9 2033.4,927.9 2034.7,926.4 2035.9,923.3 2037.2,923.2 2038.5,926.6 2039.8,926.8 2041.1,927.5 2042.3,929.2 2043.6,934.1 2044.9,931.4 2046.2,928.7 2047.5,924.3 2048.8,923.6 2050.0,926.8 2051.3,926.0 2052.6,933.1 2053.9,935.7 2055.2,944.4 2056.4,947.7 2057.7,947.3 2059.0,949.4 2060.3,945.1 2061.6,941.7 2062.9,936.8 2064.1,939.1 2065.4,936.4 2066.7,935.8 2068.0,937.8 2069.3,938.4 2070.6,935.0 2071.8,933.5 2073.1,939.1 2074.4,937.7 2075.7,937.7 2077.0,937.1 2078.2,940.1 2079.5,942.3 2080.8,937.8 2082.1,941.6 2083.4,945.0 2084.7,944.1 2085.9,943.1 2087.2,940.0 2088.5,938.3"/>
<polyline class="c" stroke="#505050" stroke-opacity="0.73" stroke-width="5" stroke-linejoin="round" stroke-linecap="round" points="165.5,1311.2 166.4,1308.4 166.8,1294.8 167.2,1311.1 167.6,1299.2 168.5,1308.2 168.9,1303.0 169.8,1297.2 170.2,1308.6 171.1,1297.0 171.9,1314.1 172.8,1300.3 173.2,1305.8 174.0,1311.7 174.5,1300.7 174.9,1311.2 175.3,1305.2 176.2,1307.7 176.6,1294.3 177.9,1302.2 178.3,1307.9 178.7,1311.4 179.2,1303.9 180.5,1309.0 180.9,1293.9 181.3,1305.6 182.2,1309.9 182.6,1299.8 183.0,1308.4 184.3,1308.7 184.7,1294.4 185.2,1299.9 185.6,1305.3 186.4,1308.1 186.9,1302.4 188.1,1302.7 188.6,1308.1 189.4,1300.3 189.9,1307.1 190.3,1308.0 191.1,1305.2 191.6,1303.5 192.0,1305.4 192.8,1291.6 193.3,1307.7 194.1,1305.7 194.6,1308.4 195.4,1311.2 195.8,1308.6 196.7,1304.7 197.5,1313.0 198.0,1312.9 198.4,1302.3 199.3,1300.5 200.1,1310.5 201.0,1306.1 201.4,1296.7 202.3,1310.7 202.7,1301.0 203.1,1308.7 204.0,1302.9 204.4,1310.5 205.2,1303.1 205.7,1306.0 206.1,1299.8 207.0,1308.7 207.4,1302.1 208.2,1311.5 209.1,1303.4 209.5,1301.2 209.9,1311.3 210.8,1308.7 211.2,1311.1 212.5,1305.2 212.9,1311.2 213.8,1300.8 214.2,1308.8 214.6,1305.7 215.5,1299.5 215.9,1308.4 216.4,1305.0 217.2,1311.4 217.6,1308.5 218.5,1308.6 218.9,1297.2 219.8,1300.4 220.6,1297.9 221.1,1310.7 221.5,1305.2 222.8,1311.0 223.2,1299.3 223.6,1305.5 224.5,1299.8 224.9,1310.9 225.3,1292.9 226.6,1297.8 227.0,1308.5 227.5,1301.0 227.9,1311.2 228.7,1304.6 229.2,1308.4 230.0,1297.6 230.9,1310.8 231.7,1310.9 232.2,1302.9 233.0,1313.9 233.4,1300.0 233.9,1303.5 234.7,1313.0 235.2,1309.9 236.0,1301.8 236.4,1313.7 236.9,1301.6 238.1,1308.8 238.6,1303.4 239.0,1311.6 239.4,1300.7 240.3,1296.3 241.1,1308.1 241.6,1301.9 242.4,1314.3 242.8,1310.6 243.7,1303.4 244.1,1299.6 244.6,1310.3 245.4,1305.4 246.3,1300.7 246.7,1304.6 247.1,1310.9 248.4,1305.6 248.8,1310.9 249.3,1296.9 249.7,1303.1 251.0,1304.7 251.4,1307.2 251.8,1310.0 252.2,1297.3 253.1,1306.0 254.0,1309.1 254.8,1302.0 255.2,1312.9 256.1,1301.5 256.5,1313.5 256.9,1306.1 257.8,1311.6 258.2,1302.0 258.7,1308.2 259.9,1310.7 260.4,1303.3 261.2,1302.2 261.6,1306.3 262.5,1302.8 262.9,1308.0 263.4,1302.6 263.8,1310.8 264.6,1300.2 265.1,1309.3 266.4,1308.4 266.8,1310.9 267.6,1309.3 268.1,1292.3 268.5,1305.2 269.3,1311.4 269.8,1303.1 270.6,1307.3 271.1,1308.2 271.5,1302.2 272.3,1305.9 272.8,1310.6 273.6,1307.9 274.5,1313.9 275.3,1310.8 275.8,1302.1 276.2,1307.7 277.0,1303.0 277.9,1304.6 278.3,1308.5 278.7,1310.6 279.6,1300.0 280.5,1307.9 280.9,1299.0 281.3,1314.2 282.2,1299.9 282.6,1307.4 283.4,1308.5 284.3,1302.2 284.7,1310.4 285.6,1291.9 286.0,1303.2 286.4,1308.0 287.3,1300.4 288.1,1306.3 288.6,1312.1 289.0,1302.8 289.4,1310.9 290.7,1309.0 291.1,1306.5 292.0,1303.1 292.4,1308.8 292.8,1310.9 293.3,1303.4 294.1,1304.9 294.6,1310.9 295.8,1299.8 296.3,1312.0 296.7,1306.4 297.1,1310.9 298.0,1299.3 298.8,1307.8 299.3,1300.5 299.7,1306.3 300.5,1294.5 301.4,1307.8 302.2,1292.7 302.7,1306.1 303.1,1308.2 303.5,1305.3 304.4,1274.7 305.2,1310.3 305.7,1310.9 306.1,1302.3 306.9,1308.6 307.4,1305.0 308.2,1313.1 309.1,1302.6 309.5,1305.7 309.9,1308.1 311.2,1302.5 311.6,1302.9 312.1,1302.8 312.9,1308.7 313.8,1308.2 314.2,1298.4 314.6,1313.2 315.1,1302.9 315.9,1304.8 316.3,1297.0 317.6,1313.8 318.1,1295.2 318.5,1302.6 319.3,1300.0 320.2,1305.5 320.6,1308.4 321.0,1308.1 321.9,1301.2 322.8,1309.4 323.2,1305.4 323.6,1310.6 324.5,1303.0 325.3,1303.9 325.7,1308.9 326.2,1303.6 326.6,1299.6 327.9,1300.0 328.3,1313.7 328.7,1305.0 329.6,1308.9 330.5,1298.1 330.9,1313.1 331.3,1292.7 332.2,1310.2 333.0,1299.8 333.4,1308.3 334.3,1308.4 334.7,1296.5 335.2,1308.5 336.0,1305.3 336.4,1305.5 336.9,1297.8 337.7,1314.4 338.1,1305.3 339.4,1297.8 339.9,1313.8 340.3,1294.9 340.7,1310.5 341.6,1309.2 342.0,1299.3 343.3,1308.7 343.7,1300.4 344.6,1310.6 345.0,1304.8 345.4,1313.6 346.3,1305.3 347.1,1311.4 347.5,1300.0 348.4,1307.9 348.8,1301.8 349.3,1308.4 349.7,1303.1 350.5,1307.5 351.0,1303.0 351.8,1304.2 352.7,1306.1 353.1,1302.6 354.0,1312.4 354.4,1311.1 354.8,1305.2 355.7,1303.4 356.1,1308.1 356.9,1311.5 357.8,1300.6 358.7,1313.2 359.1,1304.8 359.5,1302.0 360.4,1308.7 361.2,1294.3 361.6,1305.4 362.1,1311.0 362.5,1303.0 363.4,1301.7 363.8,1309.5 365.1,1300.4 365.5,1307.7 366.3,1311.4 366.8,1314.3 367.2,1309.0 368.1,1307.7 368.5,1300.1 368.9,1311.1 369.8,1299.9 370.6,1308.3 371.5,1308.2 371.9,1296.4 372.3,1294.6 373.2,1313.5 373.6,1300.4 374.0,1313.6 375.3,1301.0 375.7,1299.2 376.2,1309.1 376.6,1293.7 377.5,1309.4 378.3,1311.4 378.7,1310.7 379.2,1300.4 380.4,1291.1 380.9,1303.0 381.3,1313.7 381.7,1308.5 382.6,1305.5 383.4,1297.7 383.9,1308.2 384.7,1314.1 385.1,1302.5 386.0,1310.4 386.4,1300.7 387.3,1305.6 387.7,1296.7 388.1,1310.0 389.0,1294.7 389.4,1308.4 390.7,1311.2 391.1,1304.6 391.6,1300.1 392.0,1311.0 392.8,1306.3 393.3,1314.1 394.6,1303.1 395.0,1308.6 395.4,1311.4 396.3,1300.5 396.7,1301.9 397.1,1309.1 398.4,1302.0 398.8,1307.0 399.3,1307.9 399.7,1296.0 401.0,1302.1 401.4,1305.6 401.8,1303.4 402.2,1311.7 403.5,1306.7 404.0,1303.6 404.4,1311.9 405.2,1297.4 405.7,1298.5 406.1,1310.7 406.9,1310.9 407.4,1306.2 408.2,1304.1 409.1,1313.5 409.5,1308.4 410.4,1303.0 410.8,1302.6 411.6,1308.0 412.5,1297.8 412.9,1313.3 413.4,1307.9 414.2,1300.0 414.6,1300.3 415.5,1313.5 416.3,1311.0 416.8,1314.3 417.2,1313.4 418.1,1308.6 418.9,1300.1 419.3,1305.8 420.2,1302.3 420.6,1309.4 421.5,1302.3 421.9,1310.4 422.3,1302.5 422.8,1308.7 423.6,1310.7 424.0,1298.1 424.9,1304.2 425.7,1297.6 426.2,1305.9 426.6,1311.7 427.5,1312.1 427.9,1302.8 428.7,1302.5 429.2,1310.8 430.0,1314.2 430.9,1305.3 431.3,1308.0 432.2,1292.1 433.0,1308.2 433.4,1300.2 433.9,1313.5 434.3,1303.0 435.6,1299.8 436.0,1310.0 436.4,1306.0 437.3,1310.6 438.1,1306.0 438.6,1302.8 439.0,1314.1 439.8,1303.4 440.3,1308.5 440.7,1302.6 442.0,1308.6 442.4,1296.1 443.3,1300.3 443.7,1310.9 444.1,1302.4 444.5,1309.0 445.8,1305.2 446.3,1298.4 447.1,1313.3 447.5,1311.0 448.4,1305.4 448.8,1302.1 449.2,1296.9 449.7,1306.0 450.5,1310.9 451.0,1303.5 451.8,1296.3 452.7,1303.0 453.1,1307.6 453.5,1300.2 454.8,1311.3 455.2,1302.4 455.7,1301.4 456.5,1308.7 457.4,1303.9 457.8,1311.1 458.2,1302.3 459.1,1314.9 459.5,1305.8 460.4,1305.5 461.2,1311.3 461.6,1302.7 462.1,1302.1 462.9,1313.8 463.4,1300.1 463.8,1308.3 465.1,1297.4 465.5,1308.7 465.9,1307.7 466.8,1302.0 467.2,1299.8 467.6,1309.7 468.5,1293.4 469.3,1307.5 470.2,1310.2 470.6,1306.7 471.5,1296.7 471.9,1309.3 472.3,1296.6 472.8,1304.4 474.0,1299.0 474.5,1288.3 475.3,1278.0 475.7,1288.0 476.2,1286.8 477.0,1300.1 477.9,1290.9 478.3,1308.1 478.7,1306.4 479.2,1312.0 480.0,1304.1 480.9,1312.7 481.7,1291.1 482.2,1310.7 482.6,1310.3 483.0,1296.7 483.9,1305.7 484.3,1309.3 485.1,1310.8 485.6,1305.1 486.4,1310.6 487.3,1303.1 487.7,1299.4 488.1,1307.6 489.0,1300.0 489.8,1310.2 490.7,1303.2 491.1,1308.9 492.0,1300.4 492.4,1313.7 493.3,1305.8 493.7,1297.4 494.5,1305.5 495.0,1302.7 495.8,1307.9 496.3,1302.1 497.1,1302.8 497.5,1310.7 498.0,1302.2 498.8,1310.8 499.2,1305.7 499.7,1310.2 501.0,1308.5 501.4,1299.9 501.8,1302.9 502.2,1312.4 503.1,1302.6 503.5,1311.6 504.8,1308.1 505.2,1314.1 506.1,1306.2 506.5,1308.6 507.4,1310.3 507.8,1303.8 508.6,1300.7 509.1,1307.3 509.5,1305.0 509.9,1303.1 510.8,1305.9 511.6,1310.7 512.1,1300.1 512.9,1308.7 513.3,1309.5 513.8,1302.3 515.1,1305.1 515.5,1308.5 516.3,1294.7 516.8,1310.5 517.2,1294.8 518.0,1309.0 518.5,1301.3 519.3,1311.2 519.8,1295.9 520.6,1300.1 521.0,1300.1 521.9,1310.3 522.8,1302.1 523.2,1308.4 524.0,1306.1 524.5,1302.7 524.9,1306.1 525.3,1303.6 526.6,1314.2 527.0,1295.1 527.5,1311.3 528.3,1302.5 528.7,1304.9 529.2,1308.0 530.0,1313.6 530.9,1292.1 531.3,1302.2 532.2,1306.5 532.6,1291.6 533.4,1307.9 533.9,1302.8 534.7,1310.5 535.1,1297.7 535.6,1310.7 536.9,1303.4 537.3,1310.7 537.7,1313.5 538.6,1305.8 539.0,1307.6 539.4,1313.6 540.7,1310.6 541.1,1308.5 541.6,1313.4 542.4,1308.3 542.8,1306.2 543.3,1297.2 544.5,1302.4 545.0,1311.4 545.4,1304.6 546.3,1308.9 546.7,1311.1 547.1,1305.4 548.0,1308.3 548.4,1297.1 549.2,1305.0 550.1,1297.2 550.5,1311.5 551.4,1304.8 552.2,1312.7 552.7,1299.9 553.1,1302.1 553.5,1305.2 554.8,1305.7 555.2,1308.2 555.7,1297.1 556.5,1308.8 557.4,1309.3 557.8,1300.7 558.2,1308.6 559.1,1296.7 559.5,1311.6 559.9,1304.4 560.8,1310.3 561.6,1303.4 562.5,1307.6 562.9,1308.8 563.8,1307.6 564.2,1299.2 564.6,1305.9 565.1,1311.3 565.9,1309.1 566.3,1306.3 567.6,1308.0 568.0,1302.4 568.5,1310.3 569.3,1299.8 569.8,1305.4 570.6,1311.1 571.0,1309.7 571.9,1305.1 572.3,1307.9 573.2,1312.7 573.6,1299.4 574.0,1305.6 574.9,1303.0 575.7,1308.3 576.2,1304.8 577.0,1298.0 577.4,1307.7 578.3,1305.0 578.7,1302.4 579.6,1308.5 580.0,1301.9 580.9,1310.5 581.7,1303.1 582.1,1305.1 583.0,1313.9 583.4,1300.7 584.3,1309.0 584.7,1300.1 585.6,1302.1 586.0,1313.6 586.4,1299.2 586.9,1308.5 587.7,1308.7 588.6,1308.0 589.0,1308.1 589.4,1314.1 590.3,1313.0 591.1,1302.5 591.6,1302.1 592.4,1311.7 592.8,1299.2 593.7,1313.5 594.1,1308.8 594.5,1301.8 595.4,1307.7 595.8,1310.4 596.7,1302.0 597.5,1305.6 598.0,1311.3 598.4,1300.0 599.2,1295.2 600.1,1313.2 600.5,1303.4 601.0,1314.0 602.2,1299.6 602.7,1308.3 603.5,1307.6 603.9,1301.1 604.8,1311.2 605.2,1310.2 606.1,1292.0 606.5,1305.4 606.9,1302.2 607.8,1294.1 608.6,1300.0 609.1,1313.1 609.5,1305.8 609.9,1301.5 611.2,1305.6 611.6,1311.7 612.5,1308.8 612.9,1313.3 613.3,1296.9 614.2,1308.4 614.6,1299.4 615.5,1310.5 616.3,1308.4 616.8,1302.7 617.2,1299.7 618.0,1305.6 618.9,1313.4 619.3,1308.4 619.8,1312.5 620.2,1307.5 621.0,1304.7 621.5,1311.1 622.7,1313.5 623.2,1302.6 623.6,1307.7 624.0,1311.1 624.9,1299.8 625.3,1309.2 626.6,1309.9 627.0,1301.0 627.9,1308.3 628.3,1302.0 629.2,1309.4 629.6,1302.0 630.0,1289.6 630.9,1311.4 631.3,1310.4 632.1,1299.1 632.6,1304.7 633.0,1309.7 633.9,1302.0 634.3,1295.6 635.1,1308.8 636.0,1297.3 636.4,1294.6 636.8,1300.4 637.7,1305.8 638.6,1285.4 639.4,1292.1 639.8,1284.8 640.3,1285.0 640.7,1270.2 641.5,1276.1 642.4,1267.0 642.8,1269.5 643.7,1284.8 644.1,1288.5 644.5,1295.7 645.4,1302.1 646.2,1297.7 646.7,1302.8 647.5,1289.6 648.0,1300.6 648.4,1308.7 649.7,1304.1 650.1,1308.3 650.5,1298.8 651.0,1309.7 651.8,1298.8 652.7,1307.9 653.5,1304.4 653.9,1301.5 654.4,1307.6 655.2,1296.1 655.7,1305.9 656.5,1302.3 656.9,1311.1 657.8,1297.4 658.6,1305.3 659.1,1299.9 659.5,1308.1 659.9,1302.8 661.2,1297.0 661.6,1307.6 662.5,1308.1 662.9,1301.6 663.3,1305.6 664.2,1311.1 665.1,1305.0 665.5,1314.2 665.9,1310.0 666.8,1304.6 667.2,1310.8 667.6,1305.9 668.9,1299.6 669.3,1304.4 669.8,1305.2 670.2,1310.8 671.0,1304.5 671.5,1305.7 672.3,1310.7 673.2,1302.6 673.6,1302.6 674.0,1307.7 674.9,1311.1 675.7,1307.3 676.2,1302.1 677.0,1306.8 677.9,1300.2 678.3,1304.6 678.7,1306.5 679.6,1304.9 680.0,1308.7 680.9,1302.4 681.7,1290.9 682.1,1305.1 682.6,1310.8 683.4,1298.7 683.9,1295.8 684.3,1307.3 685.1,1297.0 685.6,1300.0 686.4,1303.1 687.3,1306.9 688.1,1305.8 688.6,1302.3 689.4,1307.5 689.8,1292.9 690.3,1300.2 690.7,1308.4 692.0,1311.7 692.4,1300.0 692.8,1308.1 693.7,1304.1 694.1,1300.0 694.5,1312.7 695.4,1311.1 695.8,1305.0 696.7,1305.6 697.5,1299.7 698.0,1304.2 698.4,1299.8 699.2,1313.6 700.1,1302.3 700.5,1301.2 700.9,1308.0 702.2,1306.0 702.7,1293.0 703.5,1292.9 703.9,1308.4 704.4,1310.9 705.2,1297.5 706.1,1299.7 706.5,1311.2 706.9,1305.4 707.8,1300.0 708.6,1313.4 709.1,1304.7 709.5,1301.8 710.3,1307.9 710.8,1310.4 711.2,1300.3 712.1,1297.4 712.9,1307.4 713.3,1311.2 714.2,1301.4 714.6,1307.8 715.1,1301.4 715.9,1314.6 716.3,1291.3 717.2,1307.6 718.0,1305.3 718.5,1312.7 719.3,1304.6 720.2,1299.8 720.6,1305.7 721.0,1311.8 721.5,1307.1 722.7,1308.5 723.2,1311.1 724.0,1310.9 724.5,1306.0 724.9,1301.9 725.7,1295.8 726.2,1302.7 726.6,1307.2 727.4,1300.4 727.9,1307.9 729.2,1305.0 729.6,1311.5 730.0,1299.3 730.9,1308.4 731.3,1308.8 732.1,1313.3 732.6,1310.9 733.4,1300.0 733.9,1305.6 734.7,1308.1 735.1,1312.9 736.0,1302.6 736.4,1293.0 737.3,1310.7 737.7,1308.2 738.1,1295.3 739.0,1310.3 739.4,1300.3 740.3,1308.2 740.7,1297.1 742.0,1303.4 742.4,1310.2 742.8,1297.6 743.3,1308.3 744.1,1304.3 745.0,1310.6 745.8,1302.5 746.2,1296.8 746.7,1307.2 747.1,1293.7 748.0,1302.9 748.8,1310.7 749.2,1300.2 749.7,1308.7 750.9,1298.0 751.4,1312.7 751.8,1310.1 752.2,1306.0 753.1,1298.8 753.5,1302.4 754.4,1297.5 755.2,1305.1 755.6,1310.2 756.5,1304.8 756.9,1310.9 757.4,1296.3 758.2,1308.3 758.6,1300.3 759.5,1305.4 760.3,1294.5 761.2,1313.6 761.6,1304.4 762.1,1310.2 762.5,1299.4 763.3,1312.7 763.8,1302.6 764.6,1295.7 765.0,1310.8 766.3,1294.1 766.8,1308.0 767.2,1303.5 767.6,1310.3 768.9,1302.4 769.3,1305.5 769.7,1300.8 770.6,1311.6 771.0,1302.1 771.9,1312.2 772.3,1307.2 773.2,1301.9 773.6,1307.3 774.4,1299.8 775.3,1299.3 775.7,1313.0 776.6,1293.7 777.0,1302.2 777.4,1294.5 777.9,1309.5 779.2,1297.3 779.6,1309.5 780.4,1299.1 780.9,1304.2 781.7,1301.7 782.1,1308.5 782.6,1302.4 783.4,1310.0 783.9,1301.8 784.7,1292.1 785.6,1299.5 786.0,1309.6 786.8,1301.5 787.3,1306.1 788.1,1304.5 788.6,1309.6 789.0,1298.9 789.4,1309.5 790.7,1301.8 791.1,1287.5 792.0,1296.1 792.4,1301.8 792.8,1298.4 793.3,1304.1 794.5,1301.0 795.0,1309.3 795.4,1307.1 795.8,1295.9 796.7,1302.2 797.1,1309.9 798.0,1294.4 798.8,1308.5 799.2,1303.6 799.7,1304.9 800.5,1294.4 801.4,1298.3 802.2,1302.5 802.7,1296.8 803.1,1292.9 803.9,1302.5 804.4,1300.8 805.2,1289.7 805.6,1286.4 806.1,1299.9 806.9,1304.0 807.8,1285.6 808.2,1299.0 808.6,1291.7 809.9,1280.9 810.3,1287.2 810.8,1272.0 811.2,1279.1 812.1,1277.6 812.5,1271.8 813.8,1269.5 814.2,1257.4 814.6,1261.1 815.0,1269.7 815.9,1246.6 816.3,1276.2 817.2,1272.3 817.6,1265.7 818.9,1279.0 819.3,1267.9 820.2,1283.5 820.6,1269.1 821.5,1262.3 821.9,1269.2 822.3,1263.8 823.2,1236.2 823.6,1253.2 824.0,1218.1 824.9,1221.9 825.7,1192.0 826.2,1179.2 827.0,1130.9 827.9,1127.5 828.3,1104.6 828.7,1064.6 829.6,1073.3 830.0,1124.0 830.9,1141.7 831.3,1171.7 832.1,1209.6 832.6,1213.0 833.0,1240.2 833.8,1239.2 834.3,1273.6 835.1,1259.5 836.0,1272.4 836.4,1276.8 837.3,1295.3 838.1,1281.6 838.5,1295.0 839.0,1300.0 839.8,1294.1 840.3,1282.3 840.7,1298.9 842.0,1303.9 842.4,1290.3 843.3,1300.7 843.7,1307.0 844.1,1293.2 844.5,1305.4 845.4,1294.0 845.8,1298.9 846.7,1299.3 847.1,1285.0 848.4,1289.1 848.8,1295.4 849.2,1305.6 849.7,1284.2 850.5,1301.4 851.4,1256.2 851.8,1277.6 852.7,1290.0 853.1,1268.2 853.9,1278.1 854.4,1279.2 854.8,1285.4 855.6,1288.2 856.1,1295.9 856.9,1288.6 857.8,1293.6 858.2,1298.4 858.6,1289.9 859.5,1295.7 859.9,1301.7 860.8,1291.9 861.6,1298.0 862.1,1296.3 862.5,1304.6 863.3,1307.3 863.8,1296.6 864.6,1306.4 865.0,1296.3 865.9,1307.5 866.8,1293.1 867.2,1300.4 868.0,1303.9 868.5,1304.2 868.9,1298.9 870.2,1291.8 870.6,1304.8 871.0,1307.1 871.9,1303.7 872.7,1299.3 873.2,1296.8 873.6,1299.5 874.4,1303.7 874.9,1301.3 875.3,1308.4 876.2,1310.7 876.6,1294.4 877.9,1306.0 878.3,1302.9 879.1,1289.7 879.6,1305.5 880.0,1295.8 880.4,1301.8 881.3,1296.4 882.1,1301.9 883.0,1303.3 883.4,1298.9 883.8,1292.6 884.7,1306.6 885.1,1309.0 885.6,1297.2 886.4,1303.3 887.3,1293.0 887.7,1305.7 888.1,1300.3 889.0,1293.3 889.4,1303.5 890.3,1302.1 891.1,1298.3 891.5,1300.5 892.0,1299.9 892.8,1300.7 893.2,1304.8 894.1,1294.9 895.0,1301.8 895.4,1294.0 895.8,1303.8 896.7,1304.0 897.5,1294.0 897.9,1288.3 898.4,1297.0 899.2,1300.7 900.1,1284.0 900.9,1282.8 901.4,1295.4 901.8,1287.2 902.2,1274.2 903.1,1270.7 903.5,1248.1 904.8,1249.9 905.2,1237.2 905.6,1220.1 906.5,1236.2 907.4,1243.1 907.8,1229.0 908.2,1244.0 909.1,1230.3 909.5,1251.4 910.3,1263.3 911.2,1274.1 911.6,1279.5 912.1,1276.3 912.5,1293.3 913.3,1282.2 913.8,1291.6 914.6,1300.9 915.0,1293.4 915.9,1287.8 916.8,1296.9 917.2,1292.4 917.6,1296.7 918.5,1297.5 918.9,1301.1 919.7,1300.6 920.6,1297.3 921.0,1304.7 921.5,1301.4 922.3,1305.8 923.2,1298.3 923.6,1301.8 924.4,1292.4 924.9,1299.5 925.3,1303.6 926.6,1297.4 927.0,1305.2 927.4,1307.4 927.9,1290.8 928.7,1300.1 929.6,1285.9 930.0,1302.7 930.9,1291.1 931.3,1298.7 932.1,1297.6 933.0,1294.1 933.4,1282.8 933.8,1278.3 934.3,1293.2 935.1,1283.6 935.6,1271.3 936.4,1271.0 937.3,1281.3 937.7,1277.7 938.5,1262.7 939.4,1263.8 939.8,1250.5 940.3,1252.7 941.1,1241.9 941.5,1252.0 942.0,1245.2 942.8,1236.0 943.7,1255.3 944.1,1250.2 945.0,1240.2 945.4,1255.1 946.2,1250.4 946.7,1262.4 947.5,1270.9 947.9,1253.7 948.4,1281.7 949.7,1280.3 950.1,1267.5 950.5,1278.7 950.9,1281.8 951.8,1273.2 952.2,1281.0 953.1,1288.2 953.9,1295.2 954.4,1282.7 954.8,1290.3 955.6,1272.1 956.1,1305.3 956.9,1301.3 957.8,1283.5 958.6,1299.8 959.1,1303.3 959.5,1295.8 960.3,1307.4 960.8,1306.6 961.2,1293.4 962.5,1294.4 962.9,1305.2 963.3,1297.1 963.8,1303.4 964.6,1300.3 965.0,1310.3 965.9,1305.6 966.3,1300.4 967.2,1302.1 967.6,1311.6 968.5,1298.0 968.9,1301.5 969.7,1289.9 970.6,1302.0 971.0,1306.3 971.5,1301.3 972.3,1301.2 972.7,1306.8 973.6,1292.9 974.0,1307.1 975.3,1298.2 975.7,1310.5 976.2,1297.0 977.0,1300.9 977.4,1302.5 978.3,1295.9 978.7,1308.6 979.1,1312.2 980.4,1310.1 980.9,1306.5 981.3,1299.1 982.1,1304.4 982.6,1310.0 983.0,1301.8 983.8,1304.6 984.7,1308.5 985.1,1304.2 986.0,1301.4 986.4,1302.7 986.8,1309.7 987.7,1296.1 988.1,1306.9 989.4,1299.3 989.8,1305.3 990.3,1300.9 990.7,1308.3 992.0,1293.3 992.4,1311.2 992.8,1296.4 993.2,1304.1 994.1,1310.0 994.5,1291.3 995.8,1307.2 996.2,1302.8 997.1,1301.8 997.5,1305.0 997.9,1305.5 998.4,1301.6 999.2,1302.8 999.7,1311.6 1000.5,1298.4 1001.4,1307.2 1002.2,1305.2 1002.6,1300.0 1003.5,1300.8 1003.9,1307.1 1004.4,1296.8 1005.2,1311.6 1005.6,1298.5 1006.1,1296.7 1006.9,1308.1 1007.3,1301.1 1008.6,1304.5 1009.1,1296.9 1009.9,1309.1 1010.3,1301.5 1010.8,1304.6 1011.6,1297.0 1012.0,1310.1 1012.9,1292.4 1013.3,1309.5 1014.2,1304.0 1014.6,1306.3 1015.0,1290.7 1015.9,1306.6 1016.7,1303.3 1017.2,1305.9 1018.0,1296.6 1018.9,1304.6 1019.3,1301.8 1019.7,1301.4 1020.6,1284.2 1021.0,1300.7 1021.9,1289.3 1022.3,1301.8 1022.7,1293.8 1023.6,1298.7 1024.0,1279.5 1025.3,1286.4 1025.7,1302.5 1026.1,1290.8 1026.6,1297.7 1027.4,1299.9 1027.9,1294.5 1028.7,1290.7 1029.6,1298.1 1030.0,1293.6 1030.4,1299.7 1031.3,1298.7 1032.1,1292.6 1032.6,1303.9 1033.0,1298.6 1033.8,1302.0 1034.7,1301.1 1035.6,1306.1 1036.0,1298.2 1036.8,1303.0 1037.3,1307.9 1037.7,1303.1 1038.5,1292.8 1039.0,1307.0 1039.8,1301.7 1040.7,1310.4 1041.1,1303.2 1041.5,1301.4 1042.0,1309.5 1043.2,1302.6 1043.7,1300.8 1044.1,1307.6 1044.5,1305.0 1045.4,1304.5 1046.2,1309.9 1047.1,1310.0 1047.5,1297.3 1047.9,1309.9 1048.8,1296.8 1049.2,1300.3 1050.1,1310.8 1050.5,1310.4 1050.9,1296.0 1051.8,1302.0 1052.2,1307.7 1053.1,1304.1 1053.9,1295.9 1054.4,1305.0 1054.8,1309.8 1056.1,1303.1 1056.5,1307.9 1056.9,1301.3 1057.8,1307.8 1058.2,1307.5 1059.1,1308.8 1059.5,1296.9 1060.3,1310.1 1060.8,1296.9 1061.2,1307.4 1062.5,1305.7 1062.9,1311.3 1063.3,1313.6 1063.8,1294.4 1065.0,1293.9 1065.5,1305.1 1065.9,1301.8 1066.3,1310.6 1067.6,1311.2 1068.0,1295.0 1068.5,1302.4 1068.9,1310.0 1069.7,1291.1 1070.6,1308.0 1071.4,1307.1 1071.9,1299.1 1072.7,1304.7 1073.2,1313.5 1073.6,1306.1 1074.0,1296.3 1075.3,1302.1 1075.7,1307.8 1076.6,1309.3 1077.0,1292.0 1077.9,1297.5 1078.3,1307.3 1078.7,1308.3 1079.6,1287.7 1080.0,1304.9 1080.4,1305.2 1081.3,1303.2 1081.7,1304.2 1082.6,1300.7 1083.0,1309.2 1083.8,1294.1 1084.7,1298.3 1085.1,1304.5 1086.0,1297.3 1086.4,1282.3 1087.3,1299.6 1087.7,1292.6 1088.5,1281.1 1089.4,1286.5 1089.8,1296.1 1090.2,1297.2 1091.1,1293.9 1091.5,1299.5 1092.0,1294.1 1092.8,1306.9 1093.2,1300.2 1094.5,1309.2 1094.9,1298.9 1095.4,1297.5 1096.2,1307.4 1097.1,1310.9 1097.5,1296.4 1097.9,1294.4 1098.8,1307.0 1099.2,1301.8 1100.1,1303.3 1100.5,1309.9 1101.4,1312.3 1101.8,1301.8 1102.2,1310.8 1103.1,1302.7 1103.9,1310.5 1104.4,1310.0 1104.8,1300.5 1105.6,1299.7 1106.5,1302.4 1107.3,1314.1 1107.8,1307.9 1108.6,1292.6 1109.1,1310.4 1109.5,1305.2 1110.3,1307.9 1110.8,1294.6 1111.2,1311.0 1112.0,1305.9 1112.5,1305.3 1113.8,1309.7 1114.2,1305.8 1114.6,1302.3 1115.5,1304.2 1115.9,1303.1 1116.3,1302.1 1117.2,1308.5 1117.6,1303.8 1118.5,1296.2 1118.9,1310.4 1119.7,1311.0 1120.2,1298.1 1121.0,1311.6 1121.9,1297.3 1122.3,1311.0 1123.2,1305.3 1124.0,1307.7 1124.4,1302.7 1124.9,1308.6 1125.3,1295.3 1126.6,1310.6 1127.0,1302.1 1127.4,1300.8 1128.3,1308.4 1128.7,1304.6 1129.6,1311.2 1130.0,1294.0 1130.4,1308.6 1131.3,1302.7 1131.7,1307.6 1133.0,1313.4 1133.4,1306.2 1133.8,1308.5 1134.3,1302.8 1135.5,1310.8 1136.0,1300.4 1136.8,1308.4 1137.3,1311.6 1137.7,1297.5 1138.5,1310.4 1139.0,1309.4 1139.8,1305.8 1140.7,1310.6 1141.1,1307.8 1141.5,1299.4 1142.4,1311.4 1143.2,1305.3 1143.7,1300.1 1144.5,1307.6 1144.9,1297.2 1145.4,1305.7 1146.2,1301.6 1147.1,1303.3 1147.5,1308.4 1147.9,1297.5 1148.4,1307.2 1149.2,1302.8 1149.6,1305.3 1150.9,1304.9 1151.4,1311.2 1151.8,1296.7 1152.2,1308.0 1153.1,1308.1 1153.9,1304.7 1154.8,1294.9 1155.2,1309.7 1155.6,1296.3 1156.1,1303.4 1157.3,1308.2 1157.8,1302.4 1158.2,1311.2 1158.6,1302.1 1159.5,1300.4 1159.9,1305.6 1160.8,1305.6 1161.6,1298.1 1162.0,1302.1 1162.5,1306.8 1163.8,1301.8 1164.2,1299.9 1164.6,1306.3 1165.0,1310.4 1166.3,1306.3 1166.7,1311.3 1167.2,1313.7 1168.0,1303.2 1168.5,1313.4 1169.3,1299.3 1170.2,1299.8 1170.6,1297.2 1171.4,1309.0 1171.9,1306.2 1172.3,1310.9 1173.2,1302.9 1173.6,1308.3 1174.0,1297.6 1174.9,1309.0 1175.7,1305.1 1176.6,1305.2 1177.0,1297.5 1177.9,1310.7 1178.3,1295.8 1178.7,1299.1 1179.6,1311.2 1180.0,1305.4 1180.8,1312.9 1181.7,1303.4 1182.1,1313.1 1182.6,1308.4 1183.4,1294.3 1184.3,1308.1 1184.7,1311.1 1185.1,1308.2 1186.0,1303.0 1186.8,1303.3 1187.3,1310.1 1187.7,1295.1 1188.5,1314.5 1189.0,1311.4 1189.8,1308.6 1190.2,1308.3 1190.7,1313.1 1191.5,1305.2 1192.0,1310.7 1193.2,1310.2 1193.7,1299.3 1194.1,1292.5 1194.5,1307.0 1195.4,1301.5 1195.8,1310.8 1196.7,1302.6 1197.1,1306.1 1197.9,1311.1 1198.8,1299.4 1199.2,1305.6 1200.1,1308.3 1200.9,1303.2 1201.4,1311.5 1201.8,1302.2 1202.6,1311.5 1203.5,1311.0 1203.9,1303.3 1204.3,1302.9 1204.8,1311.7 1205.6,1311.9 1206.5,1294.3 1206.9,1309.1 1207.8,1305.4 1208.6,1300.4 1209.0,1311.1 1209.5,1313.8 1209.9,1299.7 1211.2,1308.4 1211.6,1314.6 1212.5,1306.0 1212.9,1312.1 1213.7,1310.8 1214.2,1305.6 1215.0,1296.7 1215.5,1310.4 1216.3,1310.7 1216.7,1308.7 1217.2,1302.8 1217.6,1308.8 1218.4,1304.2 1218.9,1301.9 1220.2,1300.7 1220.6,1305.9 1221.4,1290.7 1221.9,1313.6 1222.3,1302.5 1223.1,1311.8 1223.6,1310.5 1224.4,1286.7 1224.9,1308.7 1225.7,1300.4 1226.6,1313.9 1227.0,1310.0 1227.9,1305.0 1228.3,1302.7 1228.7,1307.9 1229.1,1297.4 1230.4,1307.8 1230.8,1305.2 1231.7,1309.2 1232.1,1300.0 1232.6,1294.7 1233.4,1310.2 1234.3,1310.9 1234.7,1299.8 1235.1,1309.1 1236.0,1305.3 1236.8,1309.0 1237.3,1299.6 1238.1,1309.4 1238.5,1296.4 1239.4,1300.8 1239.8,1308.2 1240.2,1306.0 1241.1,1313.7 1242.0,1308.2 1242.4,1305.5 1242.8,1305.1 1243.2,1297.1 1244.1,1299.4 1244.5,1308.8 1245.4,1304.7 1245.8,1305.8 1247.1,1308.2 1247.5,1311.2 1247.9,1313.5 1248.8,1304.7 1249.2,1306.5 1250.1,1302.8 1250.5,1304.4 1250.9,1311.0 1251.8,1301.3 1252.2,1305.2 1253.1,1308.1 1253.9,1299.7 1254.3,1310.2 1255.2,1300.8 1255.6,1303.9 1256.5,1297.5 1256.9,1303.7 1257.3,1298.2 1258.6,1300.1 1259.0,1303.5 1259.9,1294.3 1260.3,1300.0 1260.8,1289.2 1261.2,1308.2 1262.0,1297.4 1262.9,1305.6 1263.3,1301.6 1264.2,1309.0 1264.6,1305.7 1265.5,1309.7 1265.9,1293.2 1266.3,1305.3 1267.6,1300.9 1268.0,1305.2 1268.4,1294.4 1268.9,1310.9 1270.2,1310.8 1270.6,1299.7 1271.0,1310.5 1271.4,1300.9 1272.3,1307.9 1272.7,1299.3 1273.6,1305.4 1274.0,1311.1 1274.9,1303.8 1275.3,1311.2 1276.6,1302.7 1277.0,1312.3 1277.4,1295.3 1278.3,1308.6 1278.7,1310.6 1279.1,1302.8 1280.0,1305.2 1280.8,1307.7 1281.7,1311.3 1282.1,1295.7 1283.0,1308.2 1283.4,1310.1 1283.8,1299.3 1284.3,1307.8 1285.5,1312.9 1286.0,1308.2 1286.4,1308.8 1286.8,1293.3 1287.7,1299.8 1288.5,1304.9 1289.4,1308.0 1289.8,1313.5 1290.2,1303.7 1291.1,1306.0 1291.5,1301.0 1292.0,1311.5 1292.8,1305.5 1293.7,1297.4 1294.1,1299.7 1294.5,1310.7 1295.8,1310.4 1296.2,1306.4 1296.7,1305.0 1297.1,1299.8 1297.9,1308.1 1298.4,1311.7 1299.2,1307.9 1299.6,1300.2 1300.5,1303.7 1300.9,1314.4 1301.8,1311.0 1302.2,1300.3 1303.5,1313.7 1303.9,1300.2 1304.3,1302.8 1304.8,1306.2 1306.1,1311.8 1306.5,1303.1 1306.9,1302.8 1307.3,1308.2 1308.2,1312.0 1309.0,1308.5 1309.5,1300.5 1309.9,1306.7 1310.8,1299.9 1311.2,1294.5 1312.0,1307.5 1312.5,1314.0 1313.7,1302.3 1314.2,1311.7 1314.6,1307.9 1315.0,1303.1 1316.3,1306.3 1316.7,1310.0 1317.2,1305.7 1317.6,1299.9 1318.4,1305.7 1318.9,1303.1 1319.7,1311.4 1320.2,1300.5 1321.4,1297.8 1321.9,1305.0 1322.3,1309.5 1322.7,1291.9 1323.6,1308.7 1324.0,1310.7 1324.9,1294.2 1325.3,1307.6 1326.1,1313.7 1326.6,1297.8 1327.4,1307.7 1328.3,1296.9 1328.7,1299.2 1329.6,1311.0 1330.4,1305.6 1330.8,1302.5 1331.3,1309.5 1332.1,1298.9 1332.5,1298.4 1333.4,1303.1 1333.8,1307.6 1334.3,1310.3 1335.5,1307.4 1336.0,1306.8 1336.4,1310.5 1336.8,1302.6 1338.1,1301.4 1338.5,1305.1 1339.4,1296.0 1339.8,1305.6 1340.7,1303.0 1341.1,1308.8 1341.5,1310.0 1342.4,1293.2 1342.8,1304.8 1343.2,1312.8 1344.1,1308.4 1344.5,1301.2 1345.4,1302.5 1346.2,1299.6 1346.6,1307.3 1347.1,1299.4 1348.4,1294.8 1348.8,1305.3 1349.6,1300.0 1350.1,1299.4 1350.9,1310.7 1351.3,1296.9 1351.8,1307.8 1352.2,1310.5 1353.5,1310.6 1353.9,1305.5 1354.3,1308.4 1354.8,1302.7 1355.6,1313.3 1356.1,1300.1 1356.9,1310.8 1357.3,1304.8 1358.2,1310.8 1358.6,1302.6 1359.5,1306.1 1359.9,1310.7 1360.8,1304.5 1361.6,1300.6 1362.5,1303.9 1362.9,1306.9 1363.7,1305.6 1364.2,1299.6 1364.6,1311.0 1365.5,1297.3 1365.9,1302.7 1366.7,1308.5 1367.2,1289.2 1367.6,1309.9 1368.4,1305.1 1368.9,1311.1 1369.7,1305.7 1370.2,1311.5 1371.0,1306.9 1371.9,1304.6 1372.7,1305.9 1373.1,1288.4 1373.6,1301.3 1374.0,1299.2 1375.3,1296.6 1375.7,1306.8 1376.6,1299.5 1377.0,1312.5 1377.8,1299.7 1378.3,1306.5 1378.7,1312.8 1379.6,1301.6 1380.4,1297.6 1380.8,1313.9 1381.7,1304.4 1382.1,1309.5 1382.5,1302.0 1383.0,1304.7 1383.8,1306.8 1384.3,1295.9 1385.1,1307.7 1386.0,1299.3 1386.8,1307.4 1387.2,1296.6 1388.1,1309.3 1388.5,1300.6 1389.0,1297.6 1389.8,1310.0 1390.2,1296.7 1390.7,1305.3 1391.5,1309.1 1392.4,1300.1 1392.8,1286.0 1393.2,1296.3 1394.5,1291.1 1394.9,1282.2 1395.4,1281.0 1395.8,1299.0 1397.1,1282.1 1397.5,1288.3 1397.9,1291.6 1398.4,1277.7 1399.6,1291.9 1400.1,1281.3 1400.5,1266.3 1401.3,1297.2 1402.2,1298.7 1402.6,1281.2 1403.5,1299.2 1403.9,1308.4 1404.3,1299.1 1404.8,1295.2 1406.0,1291.1 1406.5,1302.7 1406.9,1304.2 1407.8,1300.3 1408.2,1306.3 1409.0,1303.8 1409.5,1298.2 1409.9,1307.1 1410.7,1307.5 1411.6,1298.8 1412.0,1309.9 1412.5,1296.8 1413.7,1302.3 1414.2,1305.0 1414.6,1307.6 1415.0,1310.4 1415.9,1293.6 1416.7,1311.0 1417.2,1305.1 1418.0,1307.1 1418.4,1308.1 1419.3,1304.9 1419.7,1304.4 1420.6,1299.1 1421.0,1308.8 1421.9,1302.6 1422.7,1300.1 1423.1,1306.5 1423.6,1296.4 1424.0,1307.7 1424.9,1310.8 1425.7,1302.0 1426.1,1310.1 1426.6,1297.9 1427.4,1301.7 1427.8,1294.4 1428.7,1302.0 1429.1,1312.9 1430.0,1304.6 1430.4,1313.5 1431.3,1302.1 1431.7,1313.2 1432.5,1304.7 1433.0,1307.3 1434.3,1294.8 1434.7,1302.7 1435.1,1305.7 1436.0,1307.5 1436.4,1304.1 1436.8,1308.0 1437.7,1310.4 1438.5,1296.2 1439.0,1307.3 1439.8,1296.8 1440.2,1301.7 1440.7,1306.0 1441.9,1308.0 1442.4,1299.3 1442.8,1299.7 1443.2,1310.3 1444.1,1298.8 1444.5,1310.3 1445.8,1300.7 1446.2,1302.1 1446.6,1290.2 1447.1,1304.8 1447.9,1311.9 1448.8,1298.8 1449.2,1306.6 1449.6,1300.8 1450.5,1303.5 1451.3,1312.6 1451.8,1303.1 1452.6,1294.9 1453.1,1304.0 1453.9,1305.3 1454.8,1303.2 1455.2,1301.1 1455.6,1300.7 1456.0,1305.2 1457.3,1301.4 1457.8,1303.8 1458.2,1295.6 1459.0,1286.3 1459.5,1282.1 1460.3,1298.3 1460.7,1298.4 1461.6,1270.6 1462.0,1290.5 1462.9,1280.2 1463.7,1288.0 1464.2,1273.3 1465.0,1282.9 1465.4,1275.8 1466.3,1262.1 1466.7,1275.5 1467.6,1273.4 1468.0,1259.7 1468.4,1271.6 1468.9,1256.7 1469.7,1261.0 1470.1,1277.4 1471.0,1277.1 1471.9,1287.7 1472.3,1288.7 1473.1,1286.2 1473.6,1288.3 1474.4,1300.5 1474.8,1292.5 1475.3,1302.5 1476.1,1287.3 1477.0,1296.1 1477.8,1292.9 1478.3,1299.5 1479.1,1298.1 1479.5,1306.4 1480.0,1296.9 1480.8,1303.6 1481.7,1303.5 1482.1,1307.3 1482.5,1292.6 1483.4,1302.1 1484.3,1300.5 1484.7,1293.9 1485.1,1294.5 1486.0,1307.4 1486.4,1299.2 1486.8,1312.4 1487.7,1307.9 1488.5,1303.8 1489.0,1302.5 1489.4,1313.6 1490.2,1299.8 1490.7,1306.8 1491.9,1308.5 1492.4,1294.8 1492.8,1311.3 1493.7,1302.3 1494.5,1310.3 1494.9,1298.7 1495.4,1302.1 1495.8,1305.9 1496.6,1302.7 1497.1,1310.6 1497.9,1297.1 1498.4,1305.8 1499.6,1313.4 1500.1,1304.0 1500.5,1302.3 1500.9,1307.8 1502.2,1311.0 1502.6,1301.8 1503.5,1299.6 1503.9,1310.0 1504.8,1302.4 1505.2,1307.8 1505.6,1312.9 1506.5,1306.3 1507.3,1294.3 1507.8,1305.0 1508.6,1299.3 1509.0,1307.8 1509.9,1310.0 1510.3,1302.9 1510.7,1302.6 1511.2,1304.9 1512.5,1297.5 1512.9,1304.0 1513.3,1297.9 1514.2,1306.5 1514.6,1304.5 1515.4,1296.9 1515.9,1298.1 1516.7,1309.7 1517.6,1302.3 1518.0,1302.9 1518.4,1305.7 1519.3,1303.0 1519.7,1301.5 1520.6,1313.5 1521.0,1304.9 1521.4,1301.1 1522.7,1301.0 1523.1,1307.6 1523.6,1296.4 1524.4,1305.0 1524.8,1305.2 1525.7,1300.3 1526.6,1308.8 1527.0,1302.2 1527.4,1294.4 1527.8,1305.3 1528.7,1299.7 1529.1,1308.2 1530.0,1307.6 1530.4,1307.9 1531.7,1298.2 1532.1,1305.4 1533.0,1307.8 1533.4,1304.6 1533.8,1310.1 1534.2,1305.3 1535.1,1297.3 1536.0,1312.7 1536.4,1302.8 1537.2,1297.3 1538.1,1302.5 1538.5,1307.7 1538.9,1305.8 1539.4,1309.7 1540.2,1309.1 1540.7,1299.8 1541.5,1299.4 1542.4,1308.1 1542.8,1307.7 1543.2,1302.4 1544.5,1313.4 1544.9,1301.6 1545.8,1308.4 1546.2,1299.4 1546.6,1302.3 1547.5,1305.9 1548.4,1302.6 1548.8,1309.2 1549.2,1311.4 1550.1,1301.3 1550.5,1290.3 1551.3,1302.0 1551.8,1296.8 1552.6,1304.5 1553.1,1306.9 1553.5,1303.2 1554.3,1309.6 1555.2,1309.4 1556.0,1297.9 1556.5,1305.9 1556.9,1292.1 1557.8,1307.4 1558.6,1299.4 1559.0,1304.1 1559.5,1295.0 1559.9,1310.6 1560.7,1295.8 1561.6,1308.6 1562.5,1309.1 1562.9,1299.2 1563.7,1299.1 1564.2,1308.1 1564.6,1306.9 1565.0,1288.4 1565.9,1303.9 1566.7,1300.8 1567.2,1304.6 1568.0,1310.9 1568.9,1307.3 1569.3,1299.9 1569.7,1307.9 1570.6,1302.4 1571.0,1304.8 1571.9,1303.4 1572.3,1295.6 1572.7,1307.2 1574.0,1307.8 1574.4,1312.9 1574.8,1303.3 1575.3,1308.4 1576.6,1304.0 1577.0,1312.0 1577.4,1304.6 1577.8,1294.4 1578.7,1307.5 1579.1,1302.1 1580.0,1307.0 1580.8,1304.6 1581.3,1310.7 1582.1,1302.1 1582.5,1302.3 1583.4,1296.2 1583.8,1308.1 1584.2,1301.2 1585.1,1307.3 1585.5,1299.1 1586.4,1303.7 1586.8,1310.8 1587.7,1295.2 1588.1,1311.1 1589.4,1305.5 1589.8,1313.2 1590.2,1309.5 1590.7,1299.1 1591.5,1312.9 1592.4,1284.8 1592.8,1293.0 1593.6,1306.9 1594.1,1307.0 1594.9,1308.4 1595.4,1305.9 1595.8,1302.3 1596.6,1293.7 1597.1,1306.8 1597.9,1289.5 1598.8,1296.8 1599.2,1291.7 1600.1,1302.9 1600.5,1291.9 1601.3,1287.3 1602.2,1300.3 1602.6,1285.6 1603.0,1289.6 1603.5,1302.4 1604.8,1301.9 1605.2,1293.5 1606.0,1295.1 1606.5,1302.3 1607.3,1311.1 1607.7,1295.5 1608.2,1301.5 1608.6,1308.9 1609.5,1307.2 1610.3,1301.0 1610.7,1304.4 1611.2,1299.5 1612.5,1310.1 1612.9,1305.4 1613.3,1310.8 1614.2,1304.8 1614.6,1293.8 1615.0,1307.9 1615.9,1310.6 1616.3,1295.0 1617.2,1293.2 1617.6,1307.8 1618.4,1302.0 1618.9,1311.7 1619.7,1305.0 1620.1,1299.2 1621.0,1288.4 1621.4,1308.1 1622.3,1305.0 1623.1,1296.3 1623.6,1302.8 1624.0,1314.0 1624.8,1285.9 1625.7,1307.3 1626.1,1310.5 1626.6,1299.5 1627.4,1291.4 1628.3,1308.6 1629.1,1302.2 1629.5,1307.9 1630.4,1305.5 1630.8,1310.7 1631.7,1307.9 1632.1,1292.2 1632.5,1300.4 1633.4,1311.1 1633.8,1309.6 1634.2,1297.2 1635.5,1296.0 1636.0,1307.5 1636.4,1304.6 1637.2,1312.9 1637.7,1308.6 1638.5,1301.2 1639.4,1299.7 1639.8,1305.6 1640.2,1310.2 1640.7,1298.8 1641.5,1308.7 1641.9,1299.5 1642.8,1298.9 1643.6,1308.7 1644.1,1305.1 1644.5,1296.4 1645.8,1302.2 1646.2,1305.6 1646.6,1301.2 1647.5,1307.6 1647.9,1310.3 1648.3,1298.8 1649.2,1312.1 1649.6,1299.7 1650.5,1305.1 1650.9,1299.9 1651.8,1301.9 1652.6,1304.1 1653.0,1310.5 1653.5,1302.0 1654.8,1305.2 1655.2,1304.4 1655.6,1302.6 1656.5,1309.1 1656.9,1309.0 1657.3,1298.5 1658.2,1294.0 1658.6,1304.7 1659.9,1304.1 1660.3,1308.7 1660.7,1296.3 1661.2,1306.2 1662.4,1298.6 1662.9,1302.4 1663.3,1293.5 1664.2,1304.0 1664.6,1303.9 1665.4,1300.9 1665.9,1289.5 1666.3,1301.6 1667.1,1296.4 1667.6,1305.4 1668.4,1300.7 1669.3,1293.2 1670.1,1300.8 1670.6,1306.5 1671.0,1310.3 1671.8,1308.2 1672.7,1310.5 1673.1,1292.0 1673.6,1297.4 1674.0,1308.6 1674.8,1299.4 1675.7,1293.2 1676.1,1303.6 1676.6,1306.0 1677.4,1306.3 1678.3,1303.6 1678.7,1307.9 1679.1,1303.8 1680.4,1307.9 1680.8,1295.1 1681.3,1306.7 1682.1,1303.8 1683.0,1308.6 1683.4,1302.9 1683.8,1308.5 1684.7,1302.5 1685.1,1300.3 1686.0,1306.2 1686.8,1291.6 1687.2,1303.6 1688.1,1295.8 1688.5,1302.2 1689.4,1305.2 1689.8,1296.0 1690.2,1298.7 1691.1,1293.6 1691.9,1293.1 1692.4,1303.3 1692.8,1295.0 1693.6,1305.4 1694.1,1297.0 1694.9,1291.3 1695.4,1299.8 1695.8,1292.5 1696.6,1302.3 1697.5,1285.3 1697.9,1289.3 1698.8,1296.5 1699.6,1290.6 1700.1,1279.6 1700.5,1280.2 1700.9,1267.8 1701.8,1288.7 1702.6,1263.7 1703.0,1267.3 1703.9,1246.8 1704.3,1270.5 1705.2,1245.8 1706.0,1248.1 1706.5,1231.9 1706.9,1232.5 1707.3,1231.2 1708.2,1233.0 1708.6,1209.0 1709.9,1218.3 1710.3,1220.5 1711.2,1233.1 1711.6,1209.0 1712.0,1206.0 1712.9,1238.1 1713.7,1231.4 1714.2,1217.9 1715.0,1254.5 1715.4,1243.5 1716.3,1245.7 1716.7,1262.2 1717.1,1272.5 1717.6,1264.4 1718.9,1262.3 1719.3,1274.6 1720.1,1279.0 1720.6,1284.8 1721.0,1299.7 1721.4,1279.5 1722.3,1286.1 1723.1,1295.6 1723.6,1294.0 1724.0,1296.8 1724.8,1301.4 1725.3,1294.1 1726.1,1295.0 1726.5,1302.0 1727.4,1286.8 1728.3,1301.8 1729.1,1300.5 1729.5,1293.9 1730.0,1296.5 1730.8,1309.7 1731.2,1307.3 1732.1,1302.1 1732.5,1297.4 1733.0,1302.2 1733.8,1302.2 1734.2,1294.5 1735.5,1294.2 1735.9,1306.0 1736.8,1302.2 1737.2,1303.5 1738.1,1300.5 1738.5,1304.1 1739.4,1302.4 1739.8,1309.0 1740.2,1300.5 1741.1,1306.7 1741.9,1308.4 1742.4,1301.1 1743.2,1305.9 1743.6,1311.2 1744.5,1311.6 1744.9,1300.9 1745.4,1290.4 1745.8,1307.5 1746.6,1304.7 1747.5,1307.6 1747.9,1301.9 1748.8,1305.7 1749.6,1295.7 1750.1,1304.4 1750.9,1301.5 1751.3,1294.1 1752.2,1299.0 1752.6,1302.6 1753.0,1299.6 1753.5,1303.2 1754.8,1301.1 1755.2,1309.9 1756.0,1309.6 1756.5,1301.4 1757.3,1310.2 1757.7,1307.5 1758.6,1304.3 1759.0,1309.0 1759.5,1300.6 1759.9,1309.8 1760.7,1305.5 1761.2,1299.6 1762.0,1304.6 1762.9,1300.6 1763.7,1307.2 1764.2,1296.7 1764.6,1302.4 1765.4,1308.1 1765.9,1301.6 1766.3,1310.9 1767.1,1302.5 1768.0,1304.3 1768.4,1307.6 1768.9,1299.4 1769.7,1302.3 1770.1,1299.2 1771.0,1301.4 1771.8,1310.7 1772.3,1305.3 1772.7,1302.7 1773.6,1302.2 1774.4,1304.7 1774.8,1301.8 1775.3,1304.6 1776.1,1307.6 1777.0,1310.1 1777.4,1309.9 1778.3,1304.2 1778.7,1306.8 1779.5,1305.2 1780.0,1293.5 1780.8,1307.7 1781.2,1302.0 1781.7,1307.9 1783.0,1309.4 1783.4,1299.3 1784.2,1295.7 1784.7,1307.5 1785.5,1307.4 1785.9,1308.0 1786.4,1295.5 1787.2,1309.3 1787.7,1313.1 1788.5,1309.7 1788.9,1295.2 1789.4,1308.0 1790.2,1301.1 1790.6,1303.8 1791.5,1310.5 1792.4,1301.8 1793.2,1298.2 1793.6,1305.2 1794.1,1304.9 1794.9,1300.0 1795.3,1310.2 1796.2,1299.5 1796.6,1282.8 1797.1,1307.5 1797.9,1302.3 1798.3,1307.5 1799.2,1295.9 1800.0,1301.5 1800.5,1304.2 1800.9,1309.9 1802.2,1307.0 1802.6,1312.2 1803.0,1303.9 1803.5,1306.8 1804.3,1297.1 1805.2,1307.6 1805.6,1308.4 1806.5,1301.0 1806.9,1307.7 1807.7,1295.6 1808.6,1303.7 1809.0,1312.5 1809.9,1309.5 1810.3,1296.0 1811.2,1301.6 1811.6,1296.7 1812.4,1302.4 1812.9,1309.6 1813.7,1313.0 1814.2,1304.1 1814.6,1303.9 1815.4,1307.2 1815.9,1299.7 1816.7,1310.1 1817.6,1303.8 1818.0,1290.9 1818.4,1308.9 1818.9,1298.4 1819.7,1302.7 1820.1,1297.6 1821.0,1301.1 1821.8,1306.2 1822.3,1302.9 1822.7,1308.2 1824.0,1295.1 1824.4,1300.9 1825.3,1311.4 1825.7,1294.4 1826.1,1302.3 1827.0,1286.3 1827.4,1308.3 1828.3,1311.5 1828.7,1297.8 1829.1,1304.3 1830.0,1294.1 1830.8,1301.9 1831.2,1298.9 1832.1,1303.6 1832.5,1302.7 1833.0,1297.3 1833.8,1290.8 1834.7,1305.1 1835.5,1285.9 1835.9,1290.5 1836.8,1284.2 1837.2,1297.7 1837.7,1272.5 1838.5,1286.6 1838.9,1286.3 1839.8,1288.4 1840.2,1300.0 1840.6,1287.5 1841.5,1281.9 1842.4,1295.0 1843.2,1296.1 1843.6,1285.1 1844.1,1293.9 1844.9,1289.3 1845.3,1290.0 1846.2,1276.7 1847.1,1290.1 1847.5,1273.5 1847.9,1283.4 1848.8,1280.7 1849.2,1294.3 1849.6,1285.4 1850.5,1278.4 1850.9,1287.6 1852.2,1283.4 1852.6,1287.6 1853.0,1273.6 1853.5,1292.5 1854.3,1298.5 1854.7,1293.5 1855.6,1272.9 1856.0,1293.4 1857.3,1297.6 1857.7,1295.3 1858.2,1286.9 1859.0,1296.2 1859.9,1288.8 1860.3,1300.3 1860.7,1273.8 1861.6,1293.6 1862.4,1294.8 1862.9,1301.7 1863.3,1307.1 1863.7,1293.5 1865.0,1305.6 1865.4,1298.4 1865.9,1303.4 1866.3,1295.9 1867.1,1298.4 1867.6,1300.6 1868.4,1301.5 1868.9,1299.3 1869.7,1305.4 1870.6,1283.6 1871.4,1297.9 1871.8,1305.3 1872.7,1289.5 1873.1,1305.6 1873.6,1309.3 1874.0,1296.7 1875.3,1308.7 1875.7,1302.9 1876.1,1302.9 1877.0,1311.7 1877.4,1300.4 1878.3,1305.6 1878.7,1298.3 1879.1,1307.2 1880.0,1307.0 1880.8,1296.2 1881.2,1304.2 1882.1,1306.7 1883.0,1299.5 1883.4,1305.1 1884.2,1302.2 1884.7,1307.5 1885.5,1307.1 1885.9,1313.3 1886.8,1301.7 1887.2,1303.9 1887.7,1312.6 1888.5,1302.1 1888.9,1307.6 1889.8,1302.2 1890.2,1312.8 1891.1,1302.3 1891.5,1305.0 1891.9,1291.8 1893.2,1307.7 1893.6,1296.5 1894.1,1301.5 1894.9,1310.2 1895.3,1290.3 1895.8,1302.8 1897.1,1296.5 1897.5,1304.5 1897.9,1307.2 1898.8,1304.2 1899.6,1312.7 1900.0,1305.6 1900.5,1307.3 1900.9,1299.6 1902.2,1307.4 1902.6,1298.2 1903.0,1294.0 1903.5,1307.4 1904.3,1308.1 1904.7,1307.2 1905.6,1300.6 1906.0,1310.3 1906.9,1305.4 1907.7,1311.0 1908.6,1308.2 1909.0,1300.3 1909.4,1299.4 1910.3,1313.0 1910.7,1308.0 1911.6,1302.8 1912.0,1304.5 1912.4,1293.7 1913.3,1299.7 1914.1,1309.8 1914.6,1308.2 1915.0,1305.2 1915.9,1308.7 1916.3,1296.8 1917.6,1301.1 1918.0,1310.4 1918.4,1308.2 1918.8,1305.1 1919.7,1304.8 1920.6,1307.3 1921.0,1306.4 1921.8,1301.9 1922.3,1312.1 1923.1,1293.4 1923.5,1292.1 1924.0,1307.5 1925.3,1307.9 1925.7,1302.2 1926.5,1303.7 1927.0,1306.0 1927.8,1304.2 1928.2,1311.6 1928.7,1304.3 1929.5,1307.8 1930.0,1313.3 1930.4,1304.9 1931.2,1290.8 1931.7,1302.9 1933.0,1291.5 1933.4,1308.7 1934.2,1310.8 1934.7,1304.3 1935.1,1302.1 1935.9,1305.6 1936.8,1307.4 1937.2,1310.5 1938.1,1308.4 1938.5,1296.7 1939.4,1302.8 1939.8,1308.9 1940.2,1300.1 1940.6,1308.7 1941.5,1305.3 1942.4,1291.8 1943.2,1306.1 1943.6,1311.1 1944.5,1308.4 1944.9,1296.7 1945.3,1311.8 1945.8,1296.8 1946.6,1307.5 1947.5,1304.9 1947.9,1299.3 1948.8,1300.4 1949.2,1299.7 1949.6,1310.9 1950.5,1300.2 1951.3,1308.0 1951.8,1304.1 1952.2,1308.2 1953.0,1305.8 1953.9,1313.4 1954.3,1304.6 1954.7,1302.2 1956.0,1308.4 1956.5,1300.5 1957.3,1303.0 1957.7,1313.4 1958.6,1305.7 1959.0,1297.8 1959.9,1311.4 1960.3,1299.9 1960.7,1308.1 1961.6,1303.0 1962.0,1297.9 1962.4,1308.5 1963.3,1306.2 1963.7,1299.9 1964.6,1294.5 1965.0,1311.5 1965.9,1309.6 1966.7,1306.6 1967.1,1307.7 1967.6,1303.4 1968.4,1305.8 1969.3,1302.6 1970.1,1300.4 1970.6,1308.6 1971.4,1308.1 1971.8,1303.3 1972.7,1294.8 1973.1,1305.0 1974.0,1310.7 1974.4,1308.9 1974.8,1297.2 1975.3,1310.6 1976.5,1304.4 1977.0,1294.9 1977.8,1309.6 1978.2,1308.4 1978.7,1309.8 1979.5,1299.7 1980.0,1309.5 1980.4,1305.1 1981.2,1310.6 1981.7,1300.7 1982.5,1310.9 1982.9,1310.1 1983.8,1300.2 1984.2,1311.3 1985.1,1307.9 1985.9,1297.1 1986.8,1302.4 1987.2,1308.5 1987.6,1293.9 1988.5,1312.7 1988.9,1310.7 1989.4,1292.3 1990.2,1308.1 1991.1,1299.6 1991.9,1308.1 1992.3,1299.1 1992.8,1305.1 1993.6,1293.2 1994.1,1301.7 1994.5,1308.2 1995.3,1308.9 1995.8,1306.6 1996.6,1300.7 1997.1,1307.2 1997.9,1304.9 1998.3,1294.1 1999.6,1308.3 2000.0,1300.4 2000.5,1297.4 2000.9,1305.9 2001.8,1302.3 2002.6,1309.4 2003.0,1310.7 2003.9,1305.1 2004.7,1298.8 2005.2,1307.9 2005.6,1308.2 2006.5,1305.7 2006.9,1310.5 2007.7,1302.7 2008.2,1305.9 2009.0,1311.3 2009.9,1300.9 2010.3,1306.1 2010.7,1305.1 2011.2,1308.2 2012.0,1310.7 2012.4,1302.3 2013.7,1310.7 2014.1,1299.0 2014.6,1302.6 2015.4,1313.4 2016.3,1307.2 2016.7,1300.4 2017.1,1302.0 2018.0,1308.0 2018.8,1305.5 2019.3,1309.2 2020.1,1311.5 2020.6,1303.2 2021.0,1302.9 2021.4,1311.4 2022.3,1297.4 2022.7,1306.1 2023.5,1307.5 2024.0,1294.7 2025.3,1308.3 2025.7,1304.2 2026.1,1307.5 2027.0,1298.1 2027.4,1309.9 2027.8,1302.3 2028.7,1305.5 2029.1,1302.1 2030.0,1303.3 2030.8,1307.8 2031.2,1303.6 2032.1,1307.4 2032.9,1302.6 2033.4,1311.9 2033.8,1296.8 2034.2,1313.7 2035.1,1294.5 2035.5,1305.4 2036.4,1297.2 2036.8,1305.0 2037.6,1307.6 2038.1,1302.1 2039.4,1297.2 2039.8,1311.2 2040.2,1297.5 2041.1,1307.7 2041.9,1297.5 2042.3,1300.0 2042.8,1302.5 2043.6,1306.7 2044.5,1296.7 2044.9,1304.6 2045.8,1302.9 2046.2,1305.9 2047.0,1301.7 2047.5,1307.8 2047.9,1313.4 2048.3,1305.9 2049.2,1302.8 2050.0,1304.4 2050.5,1305.9 2050.9,1313.6 2052.2,1305.3 2052.6,1309.4 2053.0,1302.7 2053.5,1307.6 2054.7,1304.5 2055.2,1312.6 2055.6,1313.2 2056.4,1305.2 2057.3,1308.5 2057.7,1300.0 2058.2,1303.1 2059.0,1310.9 2059.9,1291.7 2060.3,1311.6 2061.2,1310.9 2061.6,1304.6 2062.4,1295.2 2062.9,1308.0 2063.3,1305.6 2063.7,1312.6 2064.6,1298.0 2065.0,1310.6 2065.9,1305.6 2066.7,1307.9 2067.1,1291.5 2068.0,1305.5 2068.4,1307.6 2069.3,1302.7 2069.7,1304.8 2070.1,1301.8 2071.4,1299.4 2071.8,1304.1 2072.3,1311.1 2072.7,1292.6 2073.5,1302.9 2074.0,1311.4 2074.8,1308.1 2075.3,1304.8 2076.5,1305.6 2077.0,1310.9 2077.8,1302.3 2078.2,1294.5 2079.1,1299.7 2079.5,1312.1 2080.0,1305.9 2080.4,1297.4 2081.7,1314.0 2082.1,1303.4 2082.5,1308.1 2082.9,1303.4 2083.8,1305.0 2084.7,1309.0 2085.1,1297.8 2085.9,1306.5 2086.8,1314.1 2087.2,1305.7 2087.6,1310.7 2088.5,1315.0"/>
<polyline class="c" stroke="#000" stroke-width="3.0" stroke-linejoin="round" points="165.5,1307.0 166.8,1306.3 168.1,1305.7 169.3,1304.5 170.6,1304.1 171.9,1303.1 173.2,1304.1 174.5,1303.8 175.8,1303.8 177.0,1303.8 178.3,1304.3 179.6,1303.9 180.9,1303.6 182.2,1304.2 183.4,1304.0 184.7,1304.8 186.0,1305.0 187.3,1305.8 188.6,1307.0 189.9,1306.2 191.1,1306.1 192.4,1306.3 193.7,1306.6 195.0,1306.7 196.3,1306.7 197.5,1308.1 198.8,1308.4 200.1,1307.5 201.4,1305.7 202.7,1306.5 204.0,1305.1 205.2,1303.8 206.5,1304.4 207.8,1304.6 209.1,1304.3 210.4,1304.8 211.7,1305.9 212.9,1305.8 214.2,1306.0 215.5,1306.2 216.8,1304.9 218.1,1303.6 219.3,1304.2 220.6,1304.5 221.9,1304.9 223.2,1307.0 224.5,1306.9 225.8,1305.7 227.0,1306.4 228.3,1306.8 229.6,1306.5 230.9,1306.2 232.2,1308.2 233.4,1307.7 234.7,1307.0 236.0,1306.4 237.3,1308.6 238.6,1308.0 239.9,1308.1 241.1,1306.9 242.4,1306.8 243.7,1305.8 245.0,1305.3 246.3,1306.2 247.5,1307.3 248.8,1307.1 250.1,1307.5 251.4,1307.1 252.7,1306.6 254.0,1306.5 255.2,1306.6 256.5,1306.0 257.8,1306.2 259.1,1306.3 260.4,1306.3 261.6,1307.5 262.9,1307.7 264.2,1306.5 265.5,1304.9 266.8,1304.9 268.1,1303.9 269.3,1304.2 270.6,1306.0 271.9,1306.2 273.2,1305.2 274.5,1304.7 275.8,1305.0 277.0,1305.4 278.3,1307.0 279.6,1306.3 280.9,1307.1 282.2,1307.0 283.4,1306.5 284.7,1305.9 286.0,1307.1 287.3,1307.0 288.6,1306.3 289.9,1306.2 291.1,1306.5 292.4,1308.2 293.7,1308.2 295.0,1308.3 296.3,1308.3 297.5,1307.7 298.8,1305.8 300.1,1305.8 301.4,1306.1 302.7,1307.7 304.0,1308.6 305.2,1308.7 306.5,1309.2 307.8,1309.6 309.1,1307.8 310.4,1306.7 311.6,1307.5 312.9,1306.9 314.2,1306.4 315.5,1307.2 316.8,1308.5 318.1,1308.6 319.3,1308.5 320.6,1309.4 321.9,1308.4 323.2,1308.2 324.5,1306.6 325.7,1306.7 327.0,1304.0 328.3,1304.0 329.6,1304.4 330.9,1305.5 332.2,1305.1 333.4,1305.4 334.7,1307.1 336.0,1304.4 337.3,1303.5 338.6,1304.6 339.9,1306.1 341.1,1305.3 342.4,1307.3 343.7,1309.1 345.0,1308.8 346.3,1307.6 347.5,1306.5 348.8,1305.8 350.1,1303.4 351.4,1301.7 352.7,1302.8 354.0,1304.2 355.2,1303.7 356.5,1305.0 357.8,1305.7 359.1,1305.4 360.4,1304.9 361.6,1305.8 362.9,1305.9 364.2,1307.2 365.5,1308.0 366.8,1307.2 368.1,1307.2 369.3,1306.9 370.6,1305.5 371.9,1305.0 373.2,1304.7 374.5,1304.8 375.7,1304.0 377.0,1305.4 378.3,1304.1 379.6,1304.0 380.9,1303.0 382.2,1304.0 383.4,1302.8 384.7,1302.7 386.0,1304.5 387.3,1304.3 388.6,1304.3 389.8,1305.1 391.1,1306.7 392.4,1305.2 393.7,1304.9 395.0,1305.1 396.3,1305.5 397.5,1306.3 398.8,1305.7 400.1,1306.7 401.4,1305.8 402.7,1306.1 404.0,1304.5 405.2,1305.6 406.5,1305.9 407.8,1306.9 409.1,1304.8 410.4,1306.8 411.6,1307.5 412.9,1306.4 414.2,1307.1 415.5,1308.3 416.8,1307.5 418.1,1305.9 419.3,1305.8 420.6,1303.9 421.9,1302.7 423.2,1302.6 424.5,1303.3 425.7,1304.1 427.0,1304.5 428.3,1304.7 429.6,1303.8 430.9,1304.8 432.2,1305.3 433.4,1305.8 434.7,1307.2 436.0,1308.0 437.3,1307.8 438.6,1308.7 439.8,1309.3 441.1,1308.7 442.4,1307.4 443.7,1306.5 445.0,1304.2 446.3,1303.6 447.5,1302.5 448.8,1303.9 450.1,1304.4 451.4,1304.3 452.7,1305.7 453.9,1307.1 455.2,1306.6 456.5,1306.9 457.8,1308.9 459.1,1306.9 460.4,1307.5 461.6,1306.3 462.9,1306.4 464.2,1306.0 465.5,1305.1 466.8,1303.2 468.1,1301.1 469.3,1298.5 470.6,1296.2 471.9,1295.5 473.2,1295.5 474.5,1296.7 475.7,1297.5 477.0,1298.0 478.3,1298.9 479.6,1298.4 480.9,1301.4 482.2,1302.8 483.4,1303.2 484.7,1304.1 486.0,1306.3 487.3,1305.0 488.6,1305.8 489.8,1307.1 491.1,1307.4 492.4,1306.2 493.7,1306.8 495.0,1305.1 496.3,1304.8 497.5,1305.4 498.8,1305.9 500.1,1306.0 501.4,1306.4 502.7,1306.0 503.9,1306.0 505.2,1306.5 506.5,1305.4 507.8,1306.2 509.1,1307.1 510.4,1306.8 511.6,1305.5 512.9,1306.3 514.2,1305.4 515.5,1304.7 516.8,1304.4 518.0,1304.0 519.3,1304.5 520.6,1304.9 521.9,1305.3 523.2,1305.5 524.5,1306.3 525.7,1306.7 527.0,1306.5 528.3,1305.4 529.6,1304.9 530.9,1305.6 532.2,1305.5 533.4,1304.9 534.7,1305.2 536.0,1305.8 537.3,1305.5 538.6,1304.7 539.8,1305.5 541.1,1306.2 542.4,1305.2 543.7,1303.9 545.0,1303.6 546.3,1302.6 547.5,1302.2 548.8,1303.5 550.1,1303.6 551.4,1304.5 552.7,1305.4 553.9,1306.0 555.2,1305.2 556.5,1306.2 557.8,1305.9 559.1,1306.1 560.4,1305.8 561.6,1305.2 562.9,1304.6 564.2,1304.5 565.5,1303.9 566.8,1304.0 568.0,1304.7 569.3,1305.0 570.6,1305.1 571.9,1305.2 573.2,1305.5 574.5,1305.4 575.7,1306.1 577.0,1306.6 578.3,1306.9 579.6,1306.6 580.9,1307.1 582.1,1305.7 583.4,1304.8 584.7,1304.1 586.0,1302.7 587.3,1300.0 588.6,1301.9 589.8,1301.6 591.1,1302.7 592.4,1304.2 593.7,1306.9 595.0,1305.7 596.3,1305.6 597.5,1305.5 598.8,1305.5 600.1,1306.4 601.4,1307.5 602.7,1307.5 603.9,1307.5 605.2,1306.4 606.5,1305.5 607.8,1305.9 609.1,1306.1 610.4,1305.3 611.6,1306.3 612.9,1305.6 614.2,1304.1 615.5,1304.6 616.8,1305.1 618.0,1305.8 619.3,1306.7 620.6,1307.8 621.9,1308.5 623.2,1308.3 624.5,1307.2 625.7,1305.9 627.0,1304.5 628.3,1303.3 629.6,1302.4 630.9,1301.0 632.1,1300.1 633.4,1299.7 634.7,1299.3 636.0,1298.3 637.3,1296.5 638.6,1294.0 639.8,1292.1 641.1,1286.5 642.4,1286.1 643.7,1289.1 645.0,1294.7 646.2,1296.5 647.5,1299.7 648.8,1301.1 650.1,1302.6 651.4,1302.5 652.7,1302.8 653.9,1304.4 655.2,1305.2 656.5,1305.8 657.8,1306.7 659.1,1305.5 660.4,1305.2 661.6,1304.8 662.9,1305.1 664.2,1304.7 665.5,1305.5 666.8,1304.6 668.0,1305.1 669.3,1304.1 670.6,1304.5 671.9,1306.1 673.2,1306.2 674.5,1307.0 675.7,1307.1 677.0,1306.8 678.3,1305.5 679.6,1305.9 680.9,1304.0 682.1,1306.0 683.4,1306.3 684.7,1306.4 686.0,1304.8 687.3,1305.6 688.6,1304.7 689.8,1304.2 691.1,1303.9 692.4,1305.2 693.7,1304.7 695.0,1305.1 696.2,1304.3 697.5,1305.1 698.8,1305.9 700.1,1307.4 701.4,1306.7 702.7,1307.7 703.9,1306.8 705.2,1305.3 706.5,1304.5 707.8,1304.9 709.1,1305.3 710.3,1304.0 711.6,1304.1 712.9,1304.3 714.2,1302.9 715.5,1303.7 716.8,1303.6 718.0,1304.0 719.3,1302.9 720.6,1303.8 721.9,1302.6 723.2,1304.6 724.5,1305.3 725.7,1307.7 727.0,1306.8 728.3,1307.3 729.6,1307.0 730.9,1307.5 732.1,1306.6 733.4,1306.4 734.7,1306.0 736.0,1304.7 737.3,1303.1 738.6,1301.7 739.8,1303.4 741.1,1302.3 742.4,1303.7 743.7,1304.2 745.0,1303.9 746.2,1303.2 747.5,1304.0 748.8,1303.5 750.1,1304.8 751.4,1306.6 752.7,1307.0 753.9,1307.6 755.2,1308.5 756.5,1307.4 757.8,1307.1 759.1,1305.7 760.3,1305.0 761.6,1305.1 762.9,1305.0 764.2,1305.0 765.5,1306.1 766.8,1307.9 768.0,1307.2 769.3,1307.8 770.6,1308.0 771.9,1307.4 773.2,1305.8 774.4,1305.2 775.7,1304.6 777.0,1304.3 778.3,1304.1 779.6,1303.2 780.9,1302.9 782.1,1301.5 783.4,1301.5 784.7,1302.3 786.0,1303.8 787.3,1304.0 788.6,1305.8 789.8,1306.7 791.1,1306.8 792.4,1305.4 793.7,1305.6 795.0,1304.6 796.2,1302.5 797.5,1301.8 798.8,1302.9 800.1,1303.4 801.4,1305.3 802.7,1306.0 803.9,1304.7 805.2,1302.4 806.5,1298.8 807.8,1291.8 809.1,1286.4 810.3,1282.9 811.6,1276.7 812.9,1272.6 814.2,1272.6 815.5,1271.3 816.8,1270.3 818.0,1273.9 819.3,1273.6 820.6,1271.4 821.9,1268.5 823.2,1257.9 824.4,1232.7 825.7,1195.6 827.0,1150.1 828.3,1115.5 829.6,1120.6 830.9,1158.6 832.1,1201.6 833.4,1235.1 834.7,1258.2 836.0,1271.5 837.3,1279.9 838.5,1285.1 839.8,1288.9 841.1,1290.1 842.4,1291.6 843.7,1292.3 845.0,1292.8 846.2,1290.5 847.5,1287.5 848.8,1285.8 850.1,1282.6 851.4,1277.0 852.7,1276.5 853.9,1278.0 855.2,1279.7 856.5,1284.4 857.8,1291.5 859.1,1293.7 860.3,1295.0 861.6,1297.9 862.9,1298.3 864.2,1296.6 865.5,1296.5 866.8,1298.2 868.0,1295.5 869.3,1296.8 870.6,1298.1 871.9,1299.4 873.2,1299.2 874.4,1300.6 875.7,1299.8 877.0,1300.6 878.3,1302.5 879.6,1304.3 880.9,1304.4 882.1,1304.2 883.4,1303.4 884.7,1303.0 886.0,1300.9 887.3,1301.9 888.5,1301.7 889.8,1301.6 891.1,1299.2 892.4,1298.8 893.7,1296.7 895.0,1295.2 896.2,1295.0 897.5,1294.0 898.8,1293.7 900.1,1289.2 901.4,1285.3 902.6,1273.9 903.9,1260.6 905.2,1246.5 906.5,1241.0 907.8,1241.7 909.1,1249.5 910.3,1264.4 911.6,1275.2 912.9,1283.6 914.2,1289.4 915.5,1294.9 916.8,1295.8 918.0,1297.3 919.3,1297.7 920.6,1297.8 921.9,1299.3 923.2,1299.4 924.4,1297.9 925.7,1296.6 927.0,1296.0 928.3,1295.3 929.6,1292.8 930.9,1290.8 932.1,1289.7 933.4,1284.3 934.7,1277.0 936.0,1268.8 937.3,1265.4 938.5,1257.6 939.8,1251.0 941.1,1245.0 942.4,1244.8 943.7,1243.4 945.0,1244.9 946.2,1250.3 947.5,1257.1 948.8,1265.7 950.1,1271.3 951.4,1278.3 952.6,1284.0 953.9,1289.5 955.2,1292.4 956.5,1294.8 957.8,1296.3 959.1,1297.4 960.3,1299.6 961.6,1299.5 962.9,1300.2 964.2,1300.1 965.5,1302.9 966.7,1300.6 968.0,1301.3 969.3,1302.3 970.6,1304.2 971.9,1302.6 973.2,1304.9 974.4,1304.9 975.7,1305.1 977.0,1304.3 978.3,1306.5 979.6,1306.1 980.9,1306.3 982.1,1306.7 983.4,1306.7 984.7,1304.8 986.0,1304.3 987.3,1304.9 988.5,1304.3 989.8,1304.4 991.1,1303.6 992.4,1303.5 993.7,1302.8 995.0,1304.1 996.2,1304.3 997.5,1304.5 998.8,1304.6 1000.1,1304.8 1001.4,1303.7 1002.6,1302.9 1003.9,1304.3 1005.2,1304.3 1006.5,1305.1 1007.8,1306.8 1009.1,1307.2 1010.3,1307.7 1011.6,1306.2 1012.9,1303.9 1014.2,1300.7 1015.5,1300.1 1016.7,1297.8 1018.0,1298.4 1019.3,1300.3 1020.6,1301.1 1021.9,1298.4 1023.2,1298.3 1024.4,1298.0 1025.7,1296.8 1027.0,1295.5 1028.3,1297.1 1029.6,1296.6 1030.8,1297.4 1032.1,1297.6 1033.4,1300.0 1034.7,1301.8 1036.0,1303.5 1037.3,1304.1 1038.5,1304.0 1039.8,1303.5 1041.1,1303.5 1042.4,1304.3 1043.7,1305.3 1045.0,1306.7 1046.2,1306.8 1047.5,1306.4 1048.8,1306.4 1050.1,1305.7 1051.4,1304.5 1052.6,1305.1 1053.9,1307.2 1055.2,1307.2 1056.5,1306.7 1057.8,1306.4 1059.1,1306.6 1060.3,1304.8 1061.6,1304.1 1062.9,1304.1 1064.2,1304.8 1065.5,1304.6 1066.7,1306.2 1068.0,1307.0 1069.3,1307.2 1070.6,1307.8 1071.9,1307.3 1073.2,1305.6 1074.4,1305.7 1075.7,1305.1 1077.0,1303.8 1078.3,1304.2 1079.6,1304.4 1080.8,1303.7 1082.1,1303.0 1083.4,1301.7 1084.7,1298.3 1086.0,1294.6 1087.3,1291.4 1088.5,1291.9 1089.8,1292.3 1091.1,1295.7 1092.4,1298.8 1093.7,1301.6 1094.9,1302.3 1096.2,1304.6 1097.5,1304.8 1098.8,1305.8 1100.1,1304.5 1101.4,1302.8 1102.6,1301.9 1103.9,1302.4 1105.2,1301.9 1106.5,1301.5 1107.8,1302.9 1109.1,1304.0 1110.3,1304.3 1111.6,1304.0 1112.9,1306.2 1114.2,1307.4 1115.5,1306.1 1116.7,1306.2 1118.0,1305.1 1119.3,1303.7 1120.6,1302.3 1121.9,1303.7 1123.2,1304.2 1124.4,1307.2 1125.7,1307.6 1127.0,1308.4 1128.3,1307.4 1129.6,1307.3 1130.8,1305.9 1132.1,1306.1 1133.4,1306.5 1134.7,1307.5 1136.0,1307.0 1137.3,1306.2 1138.5,1305.1 1139.8,1303.4 1141.1,1302.8 1142.4,1301.7 1143.7,1301.6 1144.9,1303.5 1146.2,1304.5 1147.5,1304.6 1148.8,1306.3 1150.1,1306.6 1151.4,1306.8 1152.6,1306.5 1153.9,1306.2 1155.2,1304.8 1156.5,1304.8 1157.8,1303.0 1159.0,1304.4 1160.3,1304.6 1161.6,1306.1 1162.9,1306.8 1164.2,1306.9 1165.5,1306.7 1166.7,1306.9 1168.0,1305.5 1169.3,1305.8 1170.6,1306.9 1171.9,1306.3 1173.2,1305.2 1174.4,1305.8 1175.7,1304.2 1177.0,1303.8 1178.3,1303.8 1179.6,1305.3 1180.8,1304.3 1182.1,1305.0 1183.4,1304.7 1184.7,1303.8 1186.0,1303.6 1187.3,1304.0 1188.5,1304.4 1189.8,1305.3 1191.1,1305.3 1192.4,1305.1 1193.7,1305.1 1194.9,1305.4 1196.2,1304.3 1197.5,1305.0 1198.8,1304.9 1200.1,1304.8 1201.4,1304.0 1202.6,1303.7 1203.9,1303.1 1205.2,1304.5 1206.5,1305.0 1207.8,1305.9 1209.0,1306.0 1210.3,1306.9 1211.6,1305.5 1212.9,1306.3 1214.2,1304.9 1215.5,1306.9 1216.7,1306.1 1218.0,1305.3 1219.3,1303.7 1220.6,1304.7 1221.9,1303.9 1223.1,1303.0 1224.4,1303.8 1225.7,1303.8 1227.0,1302.8 1228.3,1302.0 1229.6,1302.4 1230.8,1302.4 1232.1,1303.0 1233.4,1303.9 1234.7,1305.1 1236.0,1306.0 1237.3,1306.4 1238.5,1306.3 1239.8,1305.5 1241.1,1304.9 1242.4,1305.3 1243.7,1305.5 1244.9,1305.2 1246.2,1307.0 1247.5,1306.1 1248.8,1306.6 1250.1,1305.5 1251.4,1305.8 1252.6,1303.9 1253.9,1303.9 1255.2,1301.6 1256.5,1301.6 1257.8,1300.6 1259.0,1300.5 1260.3,1302.1 1261.6,1304.3 1262.9,1304.9 1264.2,1307.6 1265.5,1308.6 1266.7,1307.3 1268.0,1306.8 1269.3,1306.2 1270.6,1304.8 1271.9,1303.6 1273.1,1303.7 1274.4,1303.8 1275.7,1304.0 1277.0,1302.8 1278.3,1304.3 1279.6,1304.0 1280.8,1303.6 1282.1,1303.4 1283.4,1304.4 1284.7,1303.7 1286.0,1304.6 1287.2,1303.8 1288.5,1305.6 1289.8,1305.6 1291.1,1305.8 1292.4,1306.1 1293.7,1307.8 1294.9,1306.2 1296.2,1306.5 1297.5,1306.7 1298.8,1305.7 1300.1,1306.9 1301.4,1308.4 1302.6,1309.1 1303.9,1308.7 1305.2,1308.0 1306.5,1306.1 1307.8,1305.2 1309.0,1306.0 1310.3,1306.1 1311.6,1307.9 1312.9,1308.7 1314.2,1308.4 1315.5,1306.7 1316.7,1307.0 1318.0,1305.8 1319.3,1304.5 1320.6,1304.1 1321.9,1303.9 1323.1,1303.7 1324.4,1304.1 1325.7,1306.1 1327.0,1306.3 1328.3,1305.9 1329.6,1305.5 1330.8,1305.2 1332.1,1303.6 1333.4,1304.0 1334.7,1303.2 1336.0,1304.0 1337.2,1303.7 1338.5,1302.5 1339.8,1301.3 1341.1,1302.0 1342.4,1300.8 1343.7,1299.9 1344.9,1301.4 1346.2,1302.3 1347.5,1303.3 1348.8,1304.0 1350.1,1306.3 1351.3,1305.9 1352.6,1305.5 1353.9,1304.8 1355.2,1304.5 1356.5,1302.6 1357.8,1303.3 1359.0,1303.2 1360.3,1302.8 1361.6,1303.2 1362.9,1305.9 1364.2,1303.4 1365.5,1303.6 1366.7,1304.3 1368.0,1304.5 1369.3,1303.3 1370.6,1304.0 1371.9,1304.5 1373.1,1305.5 1374.4,1305.6 1375.7,1305.9 1377.0,1307.4 1378.3,1305.7 1379.6,1304.7 1380.8,1303.6 1382.1,1303.1 1383.4,1303.1 1384.7,1303.9 1386.0,1303.6 1387.2,1302.4 1388.5,1302.7 1389.8,1301.1 1391.1,1298.6 1392.4,1296.2 1393.7,1292.8 1394.9,1285.5 1396.2,1280.6 1397.5,1280.7 1398.8,1282.0 1400.1,1286.8 1401.3,1293.0 1402.6,1298.1 1403.9,1300.1 1405.2,1300.3 1406.5,1301.8 1407.8,1302.0 1409.0,1302.3 1410.3,1301.7 1411.6,1302.1 1412.9,1301.9 1414.2,1302.7 1415.4,1303.3 1416.7,1304.5 1418.0,1305.8 1419.3,1305.3 1420.6,1304.2 1421.9,1302.6 1423.1,1301.9 1424.4,1300.9 1425.7,1302.5 1427.0,1304.2 1428.3,1305.5 1429.6,1306.8 1430.8,1307.3 1432.1,1307.1 1433.4,1305.7 1434.7,1305.7 1436.0,1304.9 1437.2,1305.2 1438.5,1303.9 1439.8,1306.3 1441.1,1305.8 1442.4,1305.3 1443.7,1304.4 1444.9,1304.7 1446.2,1302.7 1447.5,1303.3 1448.8,1303.7 1450.1,1303.5 1451.3,1302.6 1452.6,1303.1 1453.9,1301.3 1455.2,1298.5 1456.5,1298.2 1457.8,1295.7 1459.0,1289.9 1460.3,1287.6 1461.6,1288.1 1462.9,1280.9 1464.2,1276.0 1465.4,1274.1 1466.7,1271.2 1468.0,1268.6 1469.3,1271.3 1470.6,1278.9 1471.9,1282.6 1473.1,1287.9 1474.4,1291.0 1475.7,1294.4 1477.0,1297.8 1478.3,1300.7 1479.5,1302.3 1480.8,1303.0 1482.1,1304.9 1483.4,1304.1 1484.7,1304.1 1486.0,1304.2 1487.2,1305.3 1488.5,1303.7 1489.8,1304.0 1491.1,1303.5 1492.4,1302.2 1493.7,1301.4 1494.9,1302.6 1496.2,1302.2 1497.5,1302.2 1498.8,1302.9 1500.1,1303.8 1501.3,1303.9 1502.6,1304.0 1503.9,1305.1 1505.2,1305.4 1506.5,1305.3 1507.8,1305.3 1509.0,1306.1 1510.3,1307.1 1511.6,1306.7 1512.9,1306.6 1514.2,1306.4 1515.4,1304.6 1516.7,1302.2 1518.0,1302.8 1519.3,1303.9 1520.6,1305.8 1521.9,1306.1 1523.1,1307.2 1524.4,1306.2 1525.7,1307.0 1527.0,1304.0 1528.3,1305.4 1529.5,1306.1 1530.8,1307.7 1532.1,1305.3 1533.4,1305.8 1534.7,1304.4 1536.0,1303.6 1537.2,1304.2 1538.5,1306.6 1539.8,1306.3 1541.1,1305.3 1542.4,1305.9 1543.6,1304.7 1544.9,1303.6 1546.2,1304.5 1547.5,1305.9 1548.8,1305.3 1550.1,1304.4 1551.3,1303.0 1552.6,1303.7 1553.9,1303.0 1555.2,1303.0 1556.5,1303.4 1557.8,1304.4 1559.0,1301.7 1560.3,1301.5 1561.6,1301.8 1562.9,1301.8 1564.2,1302.3 1565.4,1301.9 1566.7,1302.3 1568.0,1303.0 1569.3,1302.8 1570.6,1301.5 1571.9,1303.6 1573.1,1304.1 1574.4,1302.1 1575.7,1302.7 1577.0,1303.6 1578.3,1303.0 1579.5,1303.0 1580.8,1305.3 1582.1,1306.1 1583.4,1305.7 1584.7,1306.2 1586.0,1306.0 1587.2,1306.8 1588.5,1306.4 1589.8,1307.6 1591.1,1307.8 1592.4,1307.9 1593.6,1306.1 1594.9,1305.2 1596.2,1303.1 1597.5,1301.7 1598.8,1299.0 1600.1,1298.6 1601.3,1298.7 1602.6,1299.7 1603.9,1300.4 1605.2,1303.6 1606.5,1303.8 1607.7,1304.3 1609.0,1304.0 1610.3,1304.5 1611.6,1304.0 1612.9,1304.6 1614.2,1304.1 1615.4,1305.0 1616.7,1303.1 1618.0,1302.5 1619.3,1302.8 1620.6,1304.3 1621.9,1304.0 1623.1,1305.4 1624.4,1306.7 1625.7,1305.9 1627.0,1306.1 1628.3,1306.0 1629.5,1306.4 1630.8,1305.8 1632.1,1305.8 1633.4,1302.5 1634.7,1301.8 1636.0,1302.1 1637.2,1301.6 1638.5,1302.0 1639.8,1303.2 1641.1,1303.4 1642.4,1303.6 1643.6,1305.6 1644.9,1304.7 1646.2,1305.2 1647.5,1306.7 1648.8,1305.3 1650.1,1302.6 1651.3,1302.9 1652.6,1303.3 1653.9,1303.0 1655.2,1302.3 1656.5,1304.0 1657.7,1303.8 1659.0,1302.7 1660.3,1300.7 1661.6,1301.0 1662.9,1300.7 1664.2,1298.5 1665.4,1298.8 1666.7,1298.6 1668.0,1299.9 1669.3,1299.1 1670.6,1302.5 1671.8,1302.2 1673.1,1304.5 1674.4,1305.6 1675.7,1306.3 1677.0,1307.0 1678.3,1306.7 1679.5,1305.0 1680.8,1303.7 1682.1,1302.6 1683.4,1298.7 1684.7,1297.1 1686.0,1297.1 1687.2,1297.3 1688.5,1296.7 1689.8,1298.2 1691.1,1299.3 1692.4,1298.9 1693.6,1296.5 1694.9,1293.4 1696.2,1291.2 1697.5,1287.7 1698.8,1282.5 1700.1,1277.7 1701.3,1273.2 1702.6,1268.5 1703.9,1261.9 1705.2,1254.4 1706.5,1246.8 1707.7,1241.2 1709.0,1234.8 1710.3,1231.7 1711.6,1234.8 1712.9,1238.8 1714.2,1245.2 1715.4,1251.6 1716.7,1260.8 1718.0,1265.9 1719.3,1273.1 1720.6,1281.4 1721.8,1286.9 1723.1,1287.9 1724.4,1291.4 1725.7,1292.5 1727.0,1291.4 1728.3,1293.1 1729.5,1295.5 1730.8,1297.7 1732.1,1299.8 1733.4,1302.3 1734.7,1301.3 1735.9,1302.6 1737.2,1302.7 1738.5,1303.7 1739.8,1303.0 1741.1,1302.5 1742.4,1303.5 1743.6,1303.3 1744.9,1302.9 1746.2,1300.9 1747.5,1302.3 1748.8,1302.3 1750.1,1302.8 1751.3,1304.0 1752.6,1305.6 1753.9,1305.2 1755.2,1303.7 1756.5,1303.0 1757.7,1301.2 1759.0,1300.9 1760.3,1300.8 1761.6,1301.5 1762.9,1302.4 1764.2,1302.7 1765.4,1303.6 1766.7,1304.5 1768.0,1304.4 1769.3,1303.4 1770.6,1302.7 1771.8,1302.0 1773.1,1302.3 1774.4,1302.5 1775.7,1302.9 1777.0,1303.1 1778.3,1303.8 1779.5,1303.6 1780.8,1302.5 1782.1,1302.4 1783.4,1303.0 1784.7,1303.1 1785.9,1303.4 1787.2,1304.4 1788.5,1305.4 1789.8,1304.5 1791.1,1305.1 1792.4,1304.7 1793.6,1305.4 1794.9,1304.5 1796.2,1304.4 1797.5,1302.1 1798.8,1303.4 1800.0,1302.0 1801.3,1302.6 1802.6,1302.6 1803.9,1303.3 1805.2,1300.6 1806.5,1299.7 1807.7,1298.3 1809.0,1298.4 1810.3,1300.2 1811.6,1301.4 1812.9,1302.9 1814.2,1304.5 1815.4,1306.1 1816.7,1304.3 1818.0,1304.8 1819.3,1304.2 1820.6,1301.7 1821.8,1300.0 1823.1,1300.5 1824.4,1300.5 1825.7,1300.1 1827.0,1300.6 1828.3,1300.0 1829.5,1299.1 1830.8,1298.0 1832.1,1297.0 1833.4,1296.0 1834.7,1296.5 1835.9,1296.0 1837.2,1294.9 1838.5,1293.6 1839.8,1291.6 1841.1,1289.8 1842.4,1287.2 1843.6,1286.4 1844.9,1285.5 1846.2,1289.0 1847.5,1288.9 1848.8,1291.6 1850.0,1291.9 1851.3,1294.1 1852.6,1292.0 1853.9,1292.4 1855.2,1291.6 1856.5,1292.3 1857.7,1292.1 1859.0,1293.6 1860.3,1294.5 1861.6,1296.9 1862.9,1297.3 1864.1,1297.5 1865.4,1299.1 1866.7,1298.9 1868.0,1298.9 1869.3,1300.3 1870.6,1301.3 1871.8,1301.8 1873.1,1302.1 1874.4,1303.3 1875.7,1302.6 1877.0,1303.4 1878.3,1302.3 1879.5,1303.8 1880.8,1302.3 1882.1,1302.9 1883.4,1303.8 1884.7,1306.4 1885.9,1305.8 1887.2,1306.1 1888.5,1306.7 1889.8,1305.6 1891.1,1304.4 1892.4,1304.4 1893.6,1304.7 1894.9,1304.9 1896.2,1304.9 1897.5,1304.2 1898.8,1303.9 1900.0,1303.9 1901.3,1303.1 1902.6,1304.4 1903.9,1304.9 1905.2,1305.6 1906.5,1304.8 1907.7,1304.9 1909.0,1303.4 1910.3,1303.6 1911.6,1303.8 1912.9,1304.7 1914.1,1304.5 1915.4,1305.0 1916.7,1304.5 1918.0,1303.7 1919.3,1302.9 1920.6,1302.4 1921.8,1302.7 1923.1,1303.2 1924.4,1304.1 1925.7,1305.0 1927.0,1305.2 1928.2,1305.4 1929.5,1305.2 1930.8,1305.9 1932.1,1305.9 1933.4,1307.2 1934.7,1307.5 1935.9,1307.7 1937.2,1305.1 1938.5,1305.9 1939.8,1305.4 1941.1,1304.0 1942.4,1303.1 1943.6,1304.7 1944.9,1303.8 1946.2,1305.3 1947.5,1305.7 1948.8,1305.7 1950.0,1307.3 1951.3,1308.0 1952.6,1306.7 1953.9,1308.0 1955.2,1308.7 1956.5,1307.4 1957.7,1306.7 1959.0,1305.4 1960.3,1304.8 1961.6,1305.3 1962.9,1306.0 1964.1,1306.3 1965.4,1306.3 1966.7,1306.8 1968.0,1307.2 1969.3,1305.8 1970.6,1304.9 1971.8,1306.7 1973.1,1305.4 1974.4,1303.6 1975.7,1303.6 1977.0,1303.7 1978.2,1303.0 1979.5,1303.2 1980.8,1303.4 1982.1,1305.0 1983.4,1304.9 1984.7,1304.7 1985.9,1305.1 1987.2,1305.6 1988.5,1303.4 1989.8,1304.7 1991.1,1304.8 1992.3,1305.5 1993.6,1305.6 1994.9,1306.6 1996.2,1305.8 1997.5,1306.3 1998.8,1305.4 2000.0,1304.1 2001.3,1304.5 2002.6,1304.4 2003.9,1303.3 2005.2,1303.9 2006.5,1306.2 2007.7,1305.7 2009.0,1306.2 2010.3,1307.3 2011.6,1306.2 2012.9,1304.5 2014.1,1304.5 2015.4,1303.5 2016.7,1303.3 2018.0,1304.1 2019.3,1304.7 2020.6,1305.4 2021.8,1306.0 2023.1,1305.1 2024.4,1305.8 2025.7,1305.4 2027.0,1304.4 2028.2,1305.4 2029.5,1306.1 2030.8,1305.8 2032.1,1307.2 2033.4,1308.5 2034.7,1306.8 2035.9,1306.9 2037.2,1306.7 2038.5,1305.7 2039.8,1306.1 2041.1,1306.6 2042.3,1306.2 2043.6,1306.8 2044.9,1306.1 2046.2,1304.9 2047.5,1304.8 2048.8,1302.9 2050.0,1300.9 2051.3,1301.5 2052.6,1301.2 2053.9,1299.9 2055.2,1302.1 2056.4,1303.8 2057.7,1302.5 2059.0,1304.4 2060.3,1306.0 2061.6,1306.1 2062.9,1305.4 2064.1,1306.7 2065.4,1305.0 2066.7,1304.7 2068.0,1303.5 2069.3,1303.1 2070.6,1304.7 2071.8,1305.0 2073.1,1304.8 2074.4,1305.5 2075.7,1306.0 2077.0,1304.2 2078.2,1303.8 2079.5,1304.6 2080.8,1304.1 2082.1,1304.1 2083.4,1304.6 2084.7,1304.4 2085.9,1303.0 2087.2,1303.2 2088.5,1302.7"/>
<polyline class="c" stroke="#000" stroke-width="7.0" stroke-linejoin="round" points="165.5,1673.9 166.6,1673.2 167.6,1674.1 168.7,1673.7 169.8,1673.8 170.8,1674.2 171.9,1672.7 173.0,1673.8 174.0,1673.9 175.1,1673.5 176.2,1674.0 177.3,1673.6 178.3,1674.1 179.4,1674.0 180.5,1674.0 181.5,1673.7 182.6,1673.8 183.7,1674.2 184.7,1673.7 185.8,1673.8 186.9,1674.0 187.9,1674.1 189.0,1674.0 190.1,1674.1 191.1,1673.6 192.2,1673.8 193.3,1673.7 194.3,1674.1 195.4,1673.7 196.5,1674.1 197.6,1673.6 198.6,1673.8 199.7,1673.7 200.8,1673.8 201.8,1673.7 202.9,1673.6 204.0,1674.1 205.0,1674.1 206.1,1673.4 207.2,1673.7 208.2,1673.8 209.3,1673.7 210.4,1673.5 211.4,1674.0 212.5,1673.8 213.6,1673.6 214.6,1673.8 215.7,1673.4 216.8,1673.9 217.8,1674.1 218.9,1674.1 220.0,1673.4 221.1,1674.0 222.1,1674.2 223.2,1673.6 224.3,1674.0 225.3,1674.2 226.4,1673.7 227.5,1673.8 228.5,1673.7 229.6,1674.0 230.7,1672.1 231.7,1673.6 232.8,1674.0 233.9,1673.3 234.9,1674.0 236.0,1674.1 237.1,1674.1 238.1,1673.8 239.2,1673.3 240.3,1674.0 241.4,1674.2 242.4,1673.8 243.5,1673.9 244.6,1674.2 245.6,1673.7 246.7,1673.9 247.8,1674.1 248.8,1673.7 249.9,1673.6 251.0,1673.6 252.0,1673.5 253.1,1673.5 254.2,1673.9 255.2,1674.2 256.3,1673.8 257.4,1674.1 258.4,1673.8 259.5,1673.6 260.6,1674.1 261.6,1674.1 262.7,1673.8 263.8,1673.8 264.9,1674.0 265.9,1674.1 267.0,1673.8 268.1,1673.4 269.1,1673.8 270.2,1673.5 271.3,1673.4 272.3,1674.2 273.4,1673.9 274.5,1674.0 275.5,1674.1 276.6,1673.8 277.7,1673.3 278.7,1674.1 279.8,1674.1 280.9,1673.8 281.9,1673.8 283.0,1673.5 284.1,1674.0 285.2,1673.8 286.2,1673.6 287.3,1674.0 288.4,1673.8 289.4,1673.9 290.5,1674.0 291.6,1674.0 292.6,1674.2 293.7,1674.1 294.8,1674.0 295.8,1674.0 296.9,1673.9 298.0,1674.1 299.0,1673.8 300.1,1673.8 301.2,1673.9 302.2,1674.1 303.3,1674.1 304.4,1674.0 305.5,1674.0 306.5,1674.1 307.6,1673.8 308.7,1673.6 309.7,1674.1 310.8,1673.0 311.9,1673.8 312.9,1673.7 314.0,1672.9 315.1,1674.0 316.1,1673.5 317.2,1673.9 318.3,1674.1 319.3,1674.2 320.4,1674.2 321.5,1674.1 322.5,1673.1 323.6,1673.7 324.7,1674.0 325.8,1674.1 326.8,1673.8 327.9,1673.0 329.0,1673.9 330.0,1673.6 331.1,1673.7 332.2,1674.0 333.2,1674.0 334.3,1673.8 335.4,1673.5 336.4,1673.9 337.5,1674.1 338.6,1673.3 339.6,1673.9 340.7,1674.0 341.8,1674.1 342.8,1673.9 343.9,1674.0 345.0,1674.0 346.0,1673.9 347.1,1673.8 348.2,1673.8 349.3,1673.7 350.3,1673.2 351.4,1673.7 352.5,1673.9 353.5,1673.9 354.6,1673.5 355.7,1674.1 356.7,1674.2 357.8,1673.1 358.9,1674.0 359.9,1674.0 361.0,1674.0 362.1,1674.0 363.1,1673.9 364.2,1674.0 365.3,1673.9 366.3,1673.7 367.4,1673.7 368.5,1674.0 369.6,1673.9 370.6,1674.0 371.7,1673.7 372.8,1674.0 373.8,1674.1 374.9,1673.5 376.0,1674.1 377.0,1673.5 378.1,1674.0 379.2,1673.6 380.2,1673.7 381.3,1674.0 382.4,1674.0 383.4,1673.4 384.5,1673.6 385.6,1673.7 386.6,1674.1 387.7,1674.1 388.8,1674.0 389.9,1673.8 390.9,1673.8 392.0,1673.8 393.1,1674.0 394.1,1673.8 395.2,1674.0 396.3,1673.5 397.3,1674.0 398.4,1673.7 399.5,1674.1 400.5,1674.0 401.6,1673.9 402.7,1673.9 403.7,1673.9 404.8,1674.0 405.9,1673.9 406.9,1673.8 408.0,1674.0 409.1,1673.5 410.1,1674.1 411.2,1674.2 412.3,1674.1 413.4,1673.7 414.4,1673.6 415.5,1673.9 416.6,1674.0 417.6,1673.9 418.7,1673.8 419.8,1674.1 420.8,1673.6 421.9,1674.2 423.0,1673.9 424.0,1673.2 425.1,1673.7 426.2,1672.9 427.2,1674.0 428.3,1674.1 429.4,1673.9 430.4,1673.7 431.5,1673.4 432.6,1673.4 433.7,1673.9 434.7,1673.9 435.8,1673.4 436.9,1674.0 437.9,1674.0 439.0,1673.7 440.1,1673.7 441.1,1674.0 442.2,1674.1 443.3,1673.9 444.3,1674.1 445.4,1673.7 446.5,1673.1 447.5,1673.6 448.6,1673.8 449.7,1673.4 450.7,1673.9 451.8,1673.6 452.9,1673.8 453.9,1673.9 455.0,1673.0 456.1,1674.0 457.2,1674.0 458.2,1673.1 459.3,1673.8 460.4,1673.9 461.4,1673.6 462.5,1673.7 463.6,1673.6 464.6,1673.1 465.7,1673.4 466.8,1673.3 467.8,1673.0 468.9,1672.4 470.0,1672.2 471.0,1671.7 472.1,1671.1 473.2,1669.9 474.2,1668.8 475.3,1667.9 476.4,1668.0 477.5,1670.0 478.5,1670.6 479.6,1671.8 480.7,1672.1 481.7,1672.8 482.8,1673.2 483.9,1672.7 484.9,1673.4 486.0,1673.6 487.1,1673.3 488.1,1673.7 489.2,1673.6 490.3,1673.4 491.3,1673.9 492.4,1672.1 493.5,1674.0 494.5,1673.8 495.6,1673.7 496.7,1673.6 497.8,1674.0 498.8,1673.8 499.9,1674.0 501.0,1674.0 502.0,1674.0 503.1,1674.0 504.2,1674.1 505.2,1674.1 506.3,1673.6 507.4,1673.5 508.4,1674.0 509.5,1673.8 510.6,1673.9 511.6,1674.1 512.7,1674.1 513.8,1674.1 514.8,1674.1 515.9,1672.9 517.0,1674.0 518.0,1673.8 519.1,1674.0 520.2,1673.8 521.3,1673.6 522.3,1674.1 523.4,1674.1 524.5,1674.1 525.5,1674.1 526.6,1673.9 527.7,1674.0 528.7,1674.1 529.8,1673.8 530.9,1674.1 531.9,1673.8 533.0,1673.9 534.1,1674.1 535.1,1673.6 536.2,1674.0 537.3,1673.8 538.3,1674.0 539.4,1674.0 540.5,1673.4 541.6,1673.7 542.6,1673.7 543.7,1674.1 544.8,1674.1 545.8,1674.0 546.9,1674.1 548.0,1673.8 549.0,1674.1 550.1,1674.0 551.2,1674.1 552.2,1673.7 553.3,1674.0 554.4,1674.1 555.4,1673.6 556.5,1673.7 557.6,1673.3 558.6,1674.0 559.7,1674.1 560.8,1674.1 561.9,1673.6 562.9,1674.1 564.0,1674.0 565.1,1673.8 566.1,1673.8 567.2,1674.1 568.3,1673.8 569.3,1674.0 570.4,1674.1 571.5,1674.1 572.5,1674.1 573.6,1673.8 574.7,1673.8 575.7,1673.7 576.8,1674.1 577.9,1673.9 578.9,1674.1 580.0,1673.5 581.1,1674.0 582.2,1673.9 583.2,1674.1 584.3,1674.1 585.4,1673.7 586.4,1673.9 587.5,1673.8 588.6,1674.0 589.6,1673.8 590.7,1673.7 591.8,1674.0 592.8,1674.0 593.9,1673.7 595.0,1673.8 596.0,1673.2 597.1,1673.5 598.2,1673.7 599.2,1674.0 600.3,1673.7 601.4,1673.8 602.4,1673.6 603.5,1673.5 604.6,1673.6 605.7,1674.0 606.7,1673.5 607.8,1674.0 608.9,1673.9 609.9,1673.9 611.0,1673.6 612.1,1674.0 613.1,1673.8 614.2,1673.9 615.3,1673.6 616.3,1673.9 617.4,1673.8 618.5,1673.7 619.5,1673.7 620.6,1673.5 621.7,1673.7 622.7,1673.6 623.8,1673.7 624.9,1673.6 626.0,1673.6 627.0,1673.4 628.1,1673.2 629.2,1673.4 630.2,1673.1 631.3,1672.9 632.4,1672.6 633.4,1672.3 634.5,1671.8 635.6,1671.6 636.6,1670.9 637.7,1669.5 638.8,1668.1 639.8,1664.9 640.9,1662.7 642.0,1662.1 643.0,1662.6 644.1,1665.4 645.2,1668.0 646.2,1669.6 647.3,1670.6 648.4,1671.5 649.5,1671.8 650.5,1672.0 651.6,1672.7 652.7,1672.4 653.7,1672.6 654.8,1672.7 655.9,1673.5 656.9,1673.5 658.0,1673.6 659.1,1673.6 660.1,1673.1 661.2,1673.6 662.3,1673.5 663.3,1673.8 664.4,1673.7 665.5,1673.6 666.5,1673.9 667.6,1673.7 668.7,1673.6 669.8,1673.4 670.8,1673.8 671.9,1673.8 673.0,1673.5 674.0,1673.6 675.1,1673.7 676.2,1673.8 677.2,1673.6 678.3,1674.0 679.4,1674.0 680.4,1673.6 681.5,1673.9 682.6,1673.7 683.6,1673.7 684.7,1673.3 685.8,1673.6 686.8,1673.6 687.9,1673.6 689.0,1673.5 690.1,1673.7 691.1,1673.9 692.2,1673.8 693.3,1673.3 694.3,1673.7 695.4,1673.7 696.5,1674.0 697.5,1673.5 698.6,1673.9 699.7,1673.8 700.7,1673.6 701.8,1674.0 702.9,1674.0 703.9,1673.6 705.0,1674.0 706.1,1673.2 707.1,1673.6 708.2,1674.0 709.3,1673.9 710.4,1673.8 711.4,1673.8 712.5,1673.5 713.6,1673.9 714.6,1673.8 715.7,1674.0 716.8,1673.7 717.8,1673.9 718.9,1673.7 720.0,1673.7 721.0,1673.8 722.1,1673.8 723.2,1673.7 724.2,1673.6 725.3,1673.9 726.4,1673.6 727.4,1673.2 728.5,1672.6 729.6,1673.8 730.6,1673.2 731.7,1673.4 732.8,1673.7 733.9,1673.3 734.9,1673.8 736.0,1673.4 737.1,1673.8 738.1,1673.7 739.2,1673.9 740.3,1673.7 741.3,1673.6 742.4,1673.2 743.5,1673.9 744.5,1673.7 745.6,1673.3 746.7,1673.7 747.7,1673.4 748.8,1673.8 749.9,1673.7 750.9,1673.7 752.0,1673.6 753.1,1673.6 754.2,1673.6 755.2,1673.7 756.3,1673.4 757.4,1673.8 758.4,1673.2 759.5,1673.8 760.6,1673.7 761.6,1673.7 762.7,1673.6 763.8,1673.7 764.8,1673.5 765.9,1673.3 767.0,1673.7 768.0,1673.7 769.1,1673.7 770.2,1673.5 771.2,1673.6 772.3,1673.5 773.4,1673.3 774.5,1672.9 775.5,1673.5 776.6,1673.4 777.7,1673.5 778.7,1673.1 779.8,1673.3 780.9,1673.4 781.9,1672.7 783.0,1672.8 784.1,1673.1 785.1,1673.2 786.2,1672.8 787.3,1673.2 788.3,1673.0 789.4,1672.9 790.5,1672.9 791.5,1672.6 792.6,1672.6 793.7,1671.8 794.7,1672.7 795.8,1672.3 796.9,1672.4 798.0,1672.5 799.0,1672.1 800.1,1671.8 801.2,1671.5 802.2,1671.9 803.3,1671.8 804.4,1671.3 805.4,1671.4 806.5,1670.6 807.6,1670.5 808.6,1670.6 809.7,1669.5 810.8,1669.7 811.8,1669.1 812.9,1668.8 814.0,1667.7 815.0,1666.8 816.1,1666.1 817.2,1665.0 817.6,1664.4 817.8,1664.1 818.0,1663.8 818.3,1663.5 818.5,1663.1 818.7,1662.8 818.9,1662.4 819.1,1662.0 819.3,1661.6 819.5,1661.1 819.7,1660.6 820.0,1660.1 820.2,1659.5 820.4,1658.9 820.6,1658.3 820.8,1657.7 821.0,1657.1 821.2,1656.4 821.5,1655.6 821.7,1654.9 821.9,1654.1 822.1,1653.3 822.3,1652.4 822.5,1651.5 822.7,1650.5 823.0,1649.4 823.2,1648.3 823.4,1647.1 823.6,1645.7 823.8,1644.2 824.0,1642.6 824.2,1640.9 824.4,1639.1 824.7,1637.1 824.9,1634.8 825.1,1632.4 825.3,1629.7 825.5,1626.8 825.7,1623.7 825.9,1620.4 826.2,1616.7 826.4,1612.6 826.6,1608.1 826.8,1603.0 827.0,1597.1 827.2,1590.5 827.4,1583.0 827.7,1574.6 827.9,1564.9 828.1,1554.0 828.3,1541.5 828.5,1527.2 828.7,1511.0 828.9,1492.9 829.1,1472.8 829.4,1451.3 829.6,1429.5 829.8,1408.8 830.0,1391.5 830.2,1379.9 830.4,1375.9 830.6,1380.0 830.9,1391.7 831.1,1409.1 831.3,1429.6 831.5,1451.2 831.7,1472.5 831.9,1492.4 832.1,1510.5 832.4,1526.8 832.6,1541.2 832.8,1553.9 833.0,1564.9 833.2,1574.6 833.4,1583.0 833.6,1590.4 833.8,1597.0 834.1,1602.8 834.3,1608.0 834.5,1612.4 834.7,1616.3 834.9,1619.8 835.1,1623.0 835.3,1625.9 835.6,1628.9 835.8,1631.6 836.0,1634.2 836.2,1636.5 836.4,1638.7 836.6,1640.6 836.8,1642.4 837.1,1644.1 837.3,1645.6 837.5,1647.0 837.7,1648.3 837.9,1649.5 838.1,1650.6 838.3,1651.6 838.6,1652.5 838.8,1653.4 839.0,1654.1 839.2,1654.8 839.4,1655.5 839.6,1656.1 839.8,1656.8 840.0,1657.5 840.3,1658.2 840.5,1658.8 840.7,1659.5 840.9,1660.0 841.1,1660.5 841.3,1661.0 841.5,1661.4 841.8,1661.9 842.0,1662.2 842.2,1662.6 842.4,1662.9 842.6,1663.2 842.8,1663.5 843.0,1663.8 843.3,1664.1 843.9,1665.0 845.0,1666.2 846.0,1667.0 847.1,1668.1 848.2,1668.8 849.2,1668.2 850.3,1669.4 851.4,1669.3 852.4,1670.7 853.5,1670.8 854.6,1670.7 855.6,1670.7 856.7,1671.3 857.8,1671.8 858.8,1671.8 859.9,1672.1 861.0,1671.5 862.1,1672.2 863.1,1672.3 864.2,1672.4 865.3,1672.4 866.3,1672.4 867.4,1672.4 868.5,1672.7 869.5,1672.8 870.6,1672.6 871.7,1672.8 872.7,1673.0 873.8,1672.8 874.9,1672.8 875.9,1673.0 877.0,1673.3 878.1,1673.2 879.1,1672.9 880.2,1672.9 881.3,1672.7 882.4,1672.9 883.4,1673.4 884.5,1671.8 885.6,1673.3 886.6,1672.9 887.7,1673.4 888.8,1673.4 889.8,1673.4 890.9,1673.4 892.0,1671.8 893.0,1673.4 894.1,1673.5 895.2,1673.6 896.2,1673.5 897.3,1673.6 898.4,1673.4 899.4,1673.1 900.5,1673.4 901.6,1673.5 902.6,1673.3 903.7,1673.3 904.8,1673.6 905.9,1673.0 906.9,1673.4 908.0,1673.6 909.1,1673.3 910.1,1673.5 911.2,1672.6 912.3,1673.5 913.3,1673.3 914.4,1673.2 915.5,1673.2 916.5,1673.2 917.6,1672.8 918.7,1673.2 919.7,1673.3 920.8,1672.7 921.9,1673.0 922.9,1672.8 924.0,1672.7 925.1,1672.3 926.2,1672.4 927.2,1672.1 928.3,1672.3 929.1,1671.9 929.4,1671.8 929.6,1671.8 929.8,1671.7 930.0,1671.6 930.2,1671.5 930.4,1671.4 930.6,1671.4 930.9,1671.3 931.1,1671.3 931.3,1671.2 931.5,1671.2 931.7,1671.1 931.9,1670.9 932.1,1670.8 932.3,1670.6 932.6,1670.4 932.8,1670.3 933.0,1670.1 933.2,1669.9 933.4,1669.7 933.6,1669.4 933.8,1669.3 934.1,1669.1 934.3,1669.0 934.5,1668.8 934.7,1668.6 934.9,1668.4 935.1,1668.1 935.3,1667.8 935.6,1667.5 935.8,1667.2 936.0,1666.8 936.2,1666.3 936.4,1665.8 936.6,1665.3 936.8,1664.7 937.1,1664.0 937.3,1663.3 937.5,1662.5 937.7,1661.6 937.9,1660.7 938.1,1658.9 938.3,1657.1 938.5,1655.1 938.8,1653.0 939.0,1650.7 939.2,1649.4 939.4,1647.9 939.6,1646.2 939.8,1644.2 940.0,1642.1 940.3,1639.1 940.5,1636.0 940.7,1632.9 940.9,1629.7 941.1,1626.8 941.3,1624.3 941.5,1622.2 941.8,1620.9 942.0,1620.5 942.2,1620.9 942.4,1622.2 942.6,1624.3 942.8,1626.9 943.0,1629.9 943.2,1633.1 943.5,1636.2 943.7,1639.2 943.9,1642.1 944.1,1644.8 944.3,1647.3 944.5,1649.6 944.7,1651.8 945.0,1653.7 945.2,1655.4 945.4,1656.9 945.6,1658.3 945.8,1659.5 946.0,1660.7 946.2,1661.7 946.5,1662.6 946.7,1663.3 946.9,1663.9 947.1,1664.5 947.3,1665.0 947.5,1665.4 947.7,1666.0 947.9,1666.5 948.2,1667.1 948.4,1667.5 948.6,1668.0 948.8,1668.3 949.0,1668.6 949.2,1668.9 949.4,1669.1 949.7,1669.4 949.9,1669.6 950.1,1669.8 950.3,1670.0 950.5,1670.2 950.7,1670.4 950.9,1670.5 951.2,1670.7 951.4,1670.8 951.6,1670.9 951.8,1671.0 952.0,1671.1 952.2,1671.1 952.4,1671.2 952.6,1671.2 952.9,1671.3 953.1,1671.3 953.3,1671.4 953.5,1671.4 953.7,1671.4 953.9,1671.5 954.1,1671.6 954.4,1671.7 954.6,1671.9 954.8,1672.0 955.0,1672.1 956.1,1672.5 957.1,1672.2 958.2,1672.4 959.3,1672.8 960.3,1673.1 961.4,1673.1 962.5,1672.9 963.5,1673.1 964.6,1672.8 965.7,1673.3 966.8,1673.4 967.8,1672.8 968.9,1673.3 970.0,1673.1 971.0,1673.4 972.1,1673.5 973.2,1673.7 974.2,1673.3 975.3,1673.6 976.4,1673.3 977.4,1673.6 978.5,1673.6 979.6,1673.7 980.6,1673.4 981.7,1673.6 982.8,1673.6 983.8,1673.7 984.9,1673.5 986.0,1673.3 987.0,1673.6 988.1,1673.3 989.2,1673.6 990.3,1673.4 991.3,1673.2 992.4,1673.6 993.5,1673.5 994.5,1672.8 995.6,1673.5 996.7,1673.4 997.7,1673.1 998.8,1673.5 999.9,1673.2 1000.9,1673.3 1002.0,1673.1 1003.1,1673.2 1004.1,1673.2 1005.2,1673.1 1006.3,1673.2 1007.3,1673.2 1008.4,1673.0 1009.5,1672.8 1010.6,1672.3 1011.6,1672.8 1012.7,1672.7 1013.8,1672.5 1014.8,1672.3 1015.9,1672.1 1017.0,1671.7 1018.0,1671.7 1019.1,1671.3 1020.2,1670.5 1021.2,1670.4 1022.3,1669.9 1023.4,1668.9 1024.4,1668.0 1025.5,1666.7 1026.6,1665.2 1027.6,1664.4 1028.7,1663.2 1029.8,1661.5 1030.8,1662.1 1031.9,1662.3 1033.0,1662.9 1034.1,1663.9 1035.1,1665.2 1036.2,1666.2 1037.3,1667.9 1038.3,1668.7 1039.4,1669.5 1040.5,1669.7 1041.5,1670.3 1042.6,1670.9 1043.7,1671.6 1044.7,1670.9 1045.8,1671.8 1046.9,1672.3 1047.9,1672.5 1049.0,1672.5 1050.1,1672.6 1051.1,1672.7 1052.2,1672.7 1053.3,1673.0 1054.4,1672.9 1055.4,1673.1 1056.5,1673.2 1057.6,1673.0 1058.6,1673.2 1059.7,1673.3 1060.8,1673.1 1061.8,1673.4 1062.9,1673.1 1064.0,1673.5 1065.0,1672.9 1066.1,1673.0 1067.2,1673.3 1068.2,1673.5 1069.3,1673.4 1070.4,1673.0 1071.4,1673.4 1072.5,1673.1 1073.6,1672.9 1074.7,1673.1 1075.7,1672.8 1076.8,1673.3 1077.9,1673.1 1078.9,1672.8 1080.0,1672.7 1081.1,1672.3 1082.1,1672.1 1083.2,1670.9 1084.3,1670.3 1085.3,1668.8 1086.4,1667.6 1087.5,1665.6 1088.5,1664.5 1089.6,1665.5 1090.7,1667.8 1091.7,1669.1 1092.8,1670.2 1093.9,1671.1 1095.0,1672.1 1096.0,1672.4 1097.1,1672.7 1098.2,1673.1 1099.2,1672.7 1100.3,1673.3 1101.4,1673.5 1102.4,1673.3 1103.5,1673.2 1104.6,1673.3 1105.6,1673.7 1106.7,1673.7 1107.8,1673.3 1108.8,1673.4 1109.9,1673.8 1111.0,1673.5 1112.0,1673.9 1113.1,1673.8 1114.2,1673.3 1115.2,1674.0 1116.3,1673.8 1117.4,1672.1 1118.5,1673.9 1119.5,1673.9 1120.6,1674.0 1121.7,1673.6 1122.7,1673.8 1123.8,1674.0 1124.9,1673.9 1125.9,1673.2 1127.0,1674.0 1128.1,1673.9 1129.1,1674.0 1130.2,1673.5 1131.3,1673.5 1132.3,1673.7 1133.4,1673.7 1134.5,1673.9 1135.5,1673.6 1136.6,1673.6 1137.7,1672.8 1138.8,1673.6 1139.8,1673.4 1140.9,1674.0 1142.0,1673.9 1143.0,1673.8 1144.1,1673.5 1145.2,1674.0 1146.2,1674.0 1147.3,1674.0 1148.4,1673.8 1149.4,1674.1 1150.5,1674.1 1151.6,1674.0 1152.6,1673.9 1153.7,1674.1 1154.8,1674.1 1155.8,1673.7 1156.9,1674.0 1158.0,1673.7 1159.1,1674.0 1160.1,1673.9 1161.2,1673.8 1162.3,1673.0 1163.3,1674.1 1164.4,1674.1 1165.5,1673.6 1166.5,1673.9 1167.6,1674.0 1168.7,1674.0 1169.7,1673.8 1170.8,1674.0 1171.9,1673.6 1172.9,1673.7 1174.0,1674.0 1175.1,1673.9 1176.1,1673.8 1177.2,1674.1 1178.3,1674.0 1179.3,1673.4 1180.4,1673.5 1181.5,1674.0 1182.6,1673.9 1183.6,1674.0 1184.7,1673.9 1185.8,1674.0 1186.8,1674.1 1187.9,1673.5 1189.0,1673.9 1190.0,1673.8 1191.1,1673.7 1192.2,1674.1 1193.2,1673.4 1194.3,1674.1 1195.4,1673.8 1196.4,1674.0 1197.5,1674.0 1198.6,1673.8 1199.6,1673.7 1200.7,1673.8 1201.8,1673.7 1202.9,1673.9 1203.9,1673.9 1205.0,1673.7 1206.1,1673.5 1207.1,1673.8 1208.2,1673.8 1209.3,1673.9 1210.3,1673.7 1211.4,1674.0 1212.5,1673.7 1213.5,1673.7 1214.6,1674.0 1215.7,1674.1 1216.7,1673.8 1217.8,1673.9 1218.9,1673.0 1219.9,1673.9 1221.0,1674.1 1222.1,1674.0 1223.2,1673.4 1224.2,1673.9 1225.3,1673.8 1226.4,1673.7 1227.4,1674.0 1228.5,1674.0 1229.6,1673.8 1230.6,1673.5 1231.7,1673.8 1232.8,1673.8 1233.8,1673.9 1234.9,1673.6 1236.0,1673.5 1237.0,1673.6 1238.1,1673.3 1239.2,1673.7 1240.2,1673.8 1241.3,1673.7 1242.4,1673.8 1243.4,1673.6 1244.5,1673.7 1245.6,1673.6 1246.7,1673.7 1247.7,1673.3 1248.8,1673.0 1249.9,1673.3 1250.9,1673.1 1252.0,1672.8 1253.1,1672.9 1254.1,1672.6 1255.2,1671.8 1256.3,1671.8 1257.3,1670.6 1258.4,1670.6 1259.5,1669.7 1260.5,1668.2 1261.6,1668.0 1262.7,1667.7 1263.7,1668.8 1264.8,1669.8 1265.9,1670.3 1267.0,1671.2 1268.0,1671.9 1269.1,1672.5 1270.2,1672.8 1271.2,1672.5 1272.3,1672.2 1273.4,1672.8 1274.4,1673.3 1275.5,1673.2 1276.6,1673.5 1277.6,1673.6 1278.7,1673.5 1279.8,1673.6 1280.8,1673.6 1281.9,1673.7 1283.0,1673.7 1284.0,1673.7 1285.1,1673.7 1286.2,1673.0 1287.2,1673.8 1288.3,1673.4 1289.4,1673.5 1290.5,1673.7 1291.5,1674.0 1292.6,1673.9 1293.7,1673.5 1294.7,1673.6 1295.8,1673.7 1296.9,1674.0 1297.9,1673.8 1299.0,1673.7 1300.1,1674.0 1301.1,1674.0 1302.2,1674.0 1303.3,1673.6 1304.3,1673.5 1305.4,1673.9 1306.5,1673.9 1307.5,1674.0 1308.6,1674.0 1309.7,1673.9 1310.8,1673.8 1311.8,1673.9 1312.9,1673.8 1314.0,1673.4 1315.0,1674.0 1316.1,1673.8 1317.2,1673.8 1318.2,1673.1 1319.3,1673.5 1320.4,1673.6 1321.4,1674.0 1322.5,1673.8 1323.6,1673.8 1324.6,1673.5 1325.7,1674.0 1326.8,1674.0 1327.8,1673.9 1328.9,1673.9 1330.0,1673.4 1331.1,1673.3 1332.1,1673.9 1333.2,1673.9 1334.3,1673.6 1335.3,1673.8 1336.4,1674.0 1337.5,1674.0 1338.5,1673.8 1339.6,1674.0 1340.7,1673.9 1341.7,1674.0 1342.8,1674.0 1343.9,1673.8 1344.9,1672.3 1346.0,1673.8 1347.1,1673.6 1348.1,1673.7 1349.2,1673.7 1350.3,1673.8 1351.4,1673.7 1352.4,1673.6 1353.5,1673.4 1354.6,1673.5 1355.6,1673.7 1356.7,1673.8 1357.8,1673.5 1358.8,1672.0 1359.9,1673.4 1361.0,1673.6 1362.0,1673.8 1363.1,1673.5 1364.2,1673.8 1365.2,1673.5 1366.3,1673.6 1367.4,1673.3 1368.4,1673.2 1369.5,1673.4 1370.6,1673.4 1371.6,1673.2 1372.7,1673.4 1373.8,1673.3 1374.9,1672.7 1375.9,1673.3 1377.0,1673.3 1378.1,1673.1 1379.1,1673.0 1380.2,1672.2 1381.3,1672.3 1382.3,1672.6 1383.4,1671.6 1384.5,1672.2 1384.7,1672.2 1384.9,1672.1 1385.1,1672.0 1385.3,1671.9 1385.5,1671.8 1385.8,1671.8 1386.0,1671.7 1386.2,1671.7 1386.4,1671.6 1386.6,1671.6 1386.8,1671.4 1387.0,1671.3 1387.2,1671.2 1387.5,1671.0 1387.7,1670.9 1387.9,1670.7 1388.1,1670.6 1388.3,1670.4 1388.5,1670.3 1388.7,1670.1 1389.0,1669.9 1389.2,1669.7 1389.4,1669.4 1389.6,1669.2 1389.8,1668.9 1390.0,1668.9 1390.2,1668.8 1390.5,1668.7 1390.7,1668.6 1390.9,1668.5 1391.1,1668.2 1391.3,1667.9 1391.5,1667.6 1391.7,1667.2 1391.9,1666.9 1392.2,1666.6 1392.4,1666.4 1392.6,1666.2 1392.8,1665.9 1393.0,1665.6 1393.2,1665.2 1393.4,1664.8 1393.7,1664.4 1393.9,1664.0 1394.1,1663.5 1394.3,1663.1 1394.5,1662.6 1394.7,1662.2 1394.9,1661.7 1395.2,1661.2 1395.4,1660.7 1395.6,1660.1 1395.8,1659.6 1396.0,1659.2 1396.2,1658.7 1396.4,1658.5 1396.6,1658.3 1396.9,1658.1 1397.1,1658.0 1397.3,1658.0 1397.5,1657.9 1397.7,1658.0 1397.9,1658.1 1398.1,1658.2 1398.4,1658.5 1398.6,1658.7 1398.8,1658.9 1399.0,1659.1 1399.2,1659.5 1399.4,1659.8 1399.6,1660.3 1399.9,1660.9 1400.1,1661.5 1400.3,1662.0 1400.5,1662.6 1400.7,1663.0 1400.9,1663.3 1401.1,1663.7 1401.3,1664.0 1401.6,1664.3 1401.8,1664.7 1402.0,1665.1 1402.2,1665.5 1402.4,1665.9 1402.6,1666.2 1402.8,1666.7 1403.1,1667.0 1403.3,1667.4 1403.5,1667.8 1403.7,1668.1 1403.9,1668.3 1404.1,1668.4 1404.3,1668.5 1404.6,1668.6 1404.8,1668.7 1405.0,1669.0 1405.2,1669.3 1405.4,1669.5 1405.6,1669.8 1405.8,1670.1 1406.0,1670.2 1406.3,1670.2 1406.5,1670.3 1406.7,1670.4 1406.9,1670.5 1407.1,1670.6 1407.3,1670.8 1407.5,1671.0 1407.8,1671.1 1408.0,1671.3 1408.2,1671.3 1408.4,1671.4 1408.6,1671.4 1408.8,1671.5 1409.0,1671.5 1409.3,1671.6 1409.5,1671.6 1409.7,1671.6 1409.9,1671.7 1410.1,1671.7 1411.2,1671.9 1412.2,1672.3 1413.3,1672.4 1414.4,1672.6 1415.5,1672.7 1416.5,1672.8 1417.6,1673.0 1418.7,1673.0 1419.7,1672.8 1420.8,1673.1 1421.9,1672.9 1422.9,1673.2 1424.0,1673.0 1425.1,1673.3 1426.1,1671.7 1427.2,1673.4 1428.3,1673.4 1429.3,1673.1 1430.4,1673.2 1431.5,1673.2 1432.5,1673.4 1433.6,1673.6 1434.7,1673.3 1435.7,1673.0 1436.8,1673.3 1437.9,1673.5 1439.0,1673.4 1440.0,1673.5 1441.1,1673.4 1442.2,1672.8 1443.2,1673.2 1444.3,1672.8 1445.4,1672.8 1446.4,1672.9 1447.5,1673.2 1448.6,1672.8 1449.6,1672.9 1450.7,1672.6 1451.8,1672.6 1452.8,1672.0 1453.9,1672.3 1455.0,1672.2 1456.0,1671.7 1457.1,1671.6 1457.5,1671.3 1457.8,1671.2 1458.0,1671.1 1458.2,1671.0 1458.4,1670.8 1458.6,1670.6 1458.8,1670.4 1459.0,1670.1 1459.3,1669.9 1459.5,1669.9 1459.7,1669.9 1459.9,1669.9 1460.1,1669.8 1460.3,1669.8 1460.5,1669.7 1460.7,1669.5 1461.0,1669.4 1461.2,1669.3 1461.4,1669.1 1461.6,1668.9 1461.8,1668.7 1462.0,1668.5 1462.2,1668.3 1462.5,1668.1 1462.7,1668.0 1462.9,1667.8 1463.1,1667.7 1463.3,1667.5 1463.5,1667.3 1463.7,1667.0 1464.0,1666.7 1464.2,1666.4 1464.4,1666.0 1464.6,1665.7 1464.8,1665.2 1465.0,1664.8 1465.2,1664.3 1465.4,1663.9 1465.7,1663.3 1465.9,1662.8 1466.1,1662.3 1466.3,1661.7 1466.5,1661.1 1466.7,1660.5 1466.9,1659.9 1467.2,1659.4 1467.4,1658.8 1467.6,1658.3 1467.8,1657.7 1468.0,1657.1 1468.2,1656.5 1468.4,1655.9 1468.7,1655.3 1468.9,1654.8 1469.1,1654.3 1469.3,1653.8 1469.5,1653.4 1469.7,1653.1 1469.9,1652.8 1470.1,1652.8 1470.4,1652.8 1470.6,1653.0 1470.8,1653.2 1471.0,1653.5 1471.2,1653.6 1471.4,1653.8 1471.6,1654.0 1471.9,1654.3 1472.1,1654.7 1472.3,1655.3 1472.5,1656.0 1472.7,1656.7 1472.9,1657.4 1473.1,1658.1 1473.4,1658.8 1473.6,1659.5 1473.8,1660.1 1474.0,1660.8 1474.2,1661.4 1474.4,1661.9 1474.6,1662.3 1474.8,1662.7 1475.1,1663.1 1475.3,1663.5 1475.5,1664.1 1475.7,1664.6 1475.9,1665.1 1476.1,1665.6 1476.3,1666.1 1476.6,1666.4 1476.8,1666.6 1477.0,1666.9 1477.2,1667.2 1477.4,1667.4 1477.6,1667.7 1477.8,1668.0 1478.1,1668.3 1478.3,1668.5 1478.5,1668.8 1478.7,1669.0 1478.9,1669.1 1479.1,1669.3 1479.3,1669.4 1479.5,1669.5 1479.8,1669.7 1480.0,1669.8 1480.2,1670.0 1480.4,1670.1 1480.6,1670.2 1480.8,1670.2 1481.0,1670.2 1481.3,1670.2 1481.5,1670.2 1481.7,1670.1 1481.9,1670.4 1482.1,1670.7 1482.3,1670.9 1482.5,1671.2 1482.8,1671.4 1483.0,1671.5 1483.8,1671.8 1484.9,1672.0 1486.0,1672.3 1487.0,1671.9 1488.1,1672.3 1489.2,1672.9 1490.2,1672.9 1491.3,1672.9 1492.4,1672.7 1493.4,1672.8 1494.5,1673.2 1495.6,1673.3 1496.6,1673.1 1497.7,1673.5 1498.8,1673.0 1499.8,1673.4 1500.9,1673.4 1502.0,1673.3 1503.1,1673.2 1504.1,1673.3 1505.2,1673.5 1506.3,1673.6 1507.3,1673.7 1508.4,1673.1 1509.5,1673.8 1510.5,1673.5 1511.6,1673.3 1512.7,1673.7 1513.7,1673.6 1514.8,1673.7 1515.9,1673.9 1516.9,1673.9 1518.0,1673.7 1519.1,1673.4 1520.1,1673.5 1521.2,1673.3 1522.3,1673.6 1523.4,1674.0 1524.4,1673.4 1525.5,1673.9 1526.6,1673.8 1527.6,1674.0 1528.7,1673.5 1529.8,1673.8 1530.8,1673.3 1531.9,1673.7 1533.0,1673.9 1534.0,1673.5 1535.1,1673.6 1536.2,1673.5 1537.2,1673.7 1538.3,1674.0 1539.4,1673.5 1540.4,1673.9 1541.5,1673.8 1542.6,1673.8 1543.7,1673.7 1544.7,1673.7 1545.8,1673.4 1546.9,1674.0 1547.9,1674.0 1549.0,1673.9 1550.1,1673.8 1551.1,1673.7 1552.2,1673.7 1553.3,1673.9 1554.3,1673.6 1555.4,1673.8 1556.5,1673.9 1557.5,1673.4 1558.6,1673.9 1559.7,1673.8 1560.7,1674.0 1561.8,1674.0 1562.9,1673.7 1563.9,1674.0 1565.0,1673.8 1566.1,1673.7 1567.2,1673.8 1568.2,1673.2 1569.3,1673.8 1570.4,1673.9 1571.4,1673.9 1572.5,1673.7 1573.6,1673.9 1574.6,1673.8 1575.7,1673.2 1576.8,1673.8 1577.8,1673.6 1578.9,1673.6 1580.0,1673.7 1581.0,1673.9 1582.1,1673.5 1583.2,1673.3 1584.2,1673.5 1585.3,1673.7 1586.4,1673.5 1587.5,1673.3 1588.5,1672.7 1589.6,1673.1 1590.7,1672.8 1591.7,1672.4 1592.8,1672.0 1593.9,1670.8 1594.9,1671.0 1596.0,1671.2 1597.1,1671.5 1598.1,1671.6 1599.2,1672.8 1600.3,1673.2 1601.3,1673.4 1602.4,1673.6 1603.5,1673.3 1604.5,1673.3 1605.6,1673.4 1606.7,1673.4 1607.8,1673.5 1608.8,1673.8 1609.9,1673.9 1611.0,1673.4 1612.0,1673.6 1613.1,1673.9 1614.2,1673.0 1615.2,1673.8 1616.3,1673.6 1617.4,1673.7 1618.4,1673.9 1619.5,1674.0 1620.6,1673.9 1621.6,1673.2 1622.7,1673.9 1623.8,1674.0 1624.8,1673.5 1625.9,1674.0 1627.0,1673.7 1628.0,1673.8 1629.1,1673.5 1630.2,1673.4 1631.3,1673.9 1632.3,1673.1 1633.4,1673.8 1634.5,1673.7 1635.5,1674.0 1636.6,1673.6 1637.7,1673.7 1638.7,1673.8 1639.8,1673.8 1640.9,1673.8 1641.9,1673.9 1643.0,1673.6 1644.1,1674.0 1645.1,1673.3 1646.2,1673.6 1647.3,1673.8 1648.3,1673.4 1649.4,1673.8 1650.5,1673.9 1651.6,1673.9 1652.6,1673.7 1653.7,1673.9 1654.8,1673.9 1655.8,1673.3 1656.9,1673.7 1658.0,1673.7 1659.0,1673.3 1660.1,1673.4 1661.2,1673.4 1662.2,1673.8 1663.3,1673.8 1664.4,1673.5 1665.4,1673.7 1666.5,1673.2 1667.6,1673.5 1668.6,1673.5 1669.7,1673.7 1670.8,1672.4 1671.9,1673.2 1672.9,1673.3 1674.0,1673.1 1675.1,1673.4 1676.1,1673.2 1677.2,1673.6 1678.3,1673.3 1679.3,1673.1 1680.4,1673.2 1681.5,1673.3 1682.5,1672.6 1683.6,1672.9 1684.7,1673.0 1685.7,1672.6 1686.8,1672.7 1687.9,1672.7 1688.9,1672.4 1690.0,1670.4 1691.1,1672.4 1692.1,1672.0 1693.2,1671.6 1694.3,1670.8 1695.4,1671.3 1696.4,1670.9 1697.5,1670.6 1697.7,1670.4 1697.9,1670.2 1698.1,1670.0 1698.3,1669.8 1698.6,1669.6 1698.8,1669.5 1699.0,1669.5 1699.2,1669.4 1699.4,1669.3 1699.6,1669.2 1699.8,1669.1 1700.1,1669.0 1700.3,1668.8 1700.5,1668.7 1700.7,1668.6 1700.9,1668.4 1701.1,1668.1 1701.3,1667.9 1701.5,1667.7 1701.8,1667.4 1702.0,1667.2 1702.2,1667.0 1702.4,1666.7 1702.6,1666.5 1702.8,1666.2 1703.0,1665.9 1703.3,1665.6 1703.5,1665.3 1703.7,1665.0 1703.9,1664.6 1704.1,1664.2 1704.3,1663.8 1704.5,1663.4 1704.8,1663.0 1705.0,1662.5 1705.2,1662.0 1705.4,1661.4 1705.6,1660.8 1705.8,1660.2 1706.0,1659.5 1706.3,1659.1 1706.5,1658.6 1706.7,1658.1 1706.9,1657.6 1707.1,1657.1 1707.3,1656.5 1707.5,1656.0 1707.7,1655.4 1708.0,1654.8 1708.2,1654.3 1708.4,1653.7 1708.6,1653.2 1708.8,1652.8 1709.0,1652.4 1709.2,1652.0 1709.5,1651.7 1709.7,1651.4 1709.9,1651.2 1710.1,1651.1 1710.3,1651.0 1710.5,1651.1 1710.7,1651.2 1711.0,1651.4 1711.2,1651.6 1711.4,1651.9 1711.6,1652.3 1711.8,1652.7 1712.0,1653.2 1712.2,1653.7 1712.4,1654.2 1712.7,1654.7 1712.9,1655.3 1713.1,1655.8 1713.3,1656.3 1713.5,1656.9 1713.7,1657.5 1713.9,1658.1 1714.2,1658.7 1714.4,1659.3 1714.6,1659.8 1714.8,1660.4 1715.0,1661.0 1715.2,1661.5 1715.4,1662.0 1715.7,1662.5 1715.9,1662.9 1716.1,1663.2 1716.3,1663.5 1716.5,1663.8 1716.7,1664.0 1716.9,1664.5 1717.1,1664.8 1717.4,1665.2 1717.6,1665.6 1717.8,1665.9 1718.0,1666.3 1718.2,1666.6 1718.4,1667.0 1718.6,1667.3 1718.9,1667.6 1719.1,1667.8 1719.3,1668.0 1719.5,1668.1 1719.7,1668.3 1719.9,1668.4 1720.1,1668.6 1720.4,1668.8 1720.6,1668.9 1720.8,1669.1 1721.0,1669.2 1721.2,1669.4 1721.4,1669.6 1721.6,1669.7 1721.8,1669.9 1722.1,1670.0 1722.3,1670.1 1722.5,1670.3 1722.7,1670.4 1722.9,1670.5 1723.1,1670.6 1724.2,1670.7 1725.3,1671.3 1726.3,1671.5 1727.4,1671.8 1728.5,1672.2 1729.5,1672.2 1730.6,1672.4 1731.7,1672.6 1732.7,1672.7 1733.8,1672.6 1734.9,1673.0 1736.0,1672.6 1737.0,1673.1 1738.1,1672.9 1739.2,1673.1 1740.2,1672.8 1741.3,1673.4 1742.4,1672.8 1743.4,1673.1 1744.5,1673.4 1745.6,1673.5 1746.6,1673.3 1747.7,1673.6 1748.8,1673.5 1749.8,1673.1 1750.9,1673.5 1752.0,1673.5 1753.0,1673.4 1754.1,1673.4 1755.2,1673.7 1756.2,1673.4 1757.3,1673.7 1758.4,1673.5 1759.5,1673.0 1760.5,1673.6 1761.6,1673.5 1762.7,1673.5 1763.7,1673.5 1764.8,1673.6 1765.9,1673.8 1766.9,1673.8 1768.0,1673.8 1769.1,1673.8 1770.1,1673.4 1771.2,1673.7 1772.3,1673.8 1773.3,1673.7 1774.4,1673.4 1775.5,1673.7 1776.5,1673.6 1777.6,1673.4 1778.7,1673.1 1779.8,1673.8 1780.8,1673.6 1781.9,1673.3 1783.0,1673.8 1784.0,1673.6 1785.1,1673.7 1786.2,1673.2 1787.2,1673.5 1788.3,1673.6 1789.4,1673.4 1790.4,1672.9 1791.5,1673.7 1792.6,1673.7 1793.6,1673.5 1794.7,1673.2 1795.8,1673.3 1796.8,1673.6 1797.9,1673.0 1799.0,1673.5 1800.0,1673.0 1801.1,1673.4 1802.2,1673.2 1803.3,1672.6 1804.3,1672.9 1805.4,1673.4 1806.5,1672.3 1807.5,1673.3 1808.6,1673.2 1809.7,1673.2 1810.7,1673.1 1811.8,1672.9 1812.9,1673.0 1813.9,1672.4 1815.0,1673.0 1816.1,1672.9 1817.1,1672.5 1818.2,1672.3 1819.3,1672.4 1820.3,1672.1 1821.4,1672.1 1822.5,1672.2 1823.6,1671.8 1824.6,1671.6 1825.7,1671.2 1826.8,1671.5 1827.8,1671.0 1828.9,1670.4 1830.0,1669.9 1831.0,1669.4 1832.1,1668.9 1833.2,1668.1 1834.2,1666.8 1835.3,1666.2 1836.4,1665.1 1837.4,1664.2 1838.5,1663.9 1839.6,1663.1 1840.6,1663.9 1840.9,1663.8 1841.1,1663.8 1841.3,1663.8 1841.5,1663.7 1841.7,1663.7 1841.9,1663.7 1842.1,1663.8 1842.4,1663.9 1842.6,1663.9 1842.8,1664.0 1843.0,1663.9 1843.2,1663.8 1843.4,1663.7 1843.6,1663.6 1843.9,1663.5 1844.1,1663.5 1844.3,1663.5 1844.5,1663.4 1844.7,1663.4 1844.9,1663.3 1845.1,1663.2 1845.3,1663.0 1845.6,1662.9 1845.8,1662.7 1846.0,1662.5 1846.2,1662.2 1846.4,1661.9 1846.6,1661.5 1846.8,1661.2 1847.1,1660.8 1847.3,1660.5 1847.5,1660.2 1847.7,1659.8 1847.9,1659.5 1848.1,1659.1 1848.3,1658.8 1848.6,1658.4 1848.8,1658.1 1849.0,1657.7 1849.2,1657.3 1849.4,1656.9 1849.6,1656.4 1849.8,1656.0 1850.0,1655.6 1850.3,1655.1 1850.5,1654.7 1850.7,1654.2 1850.9,1653.8 1851.1,1653.4 1851.3,1653.0 1851.5,1652.6 1851.8,1652.2 1852.0,1651.9 1852.2,1651.6 1852.4,1651.4 1852.6,1651.2 1852.8,1651.1 1853.0,1651.0 1853.3,1651.0 1853.5,1651.0 1853.7,1651.1 1853.9,1651.2 1854.1,1651.4 1854.3,1651.6 1854.5,1651.8 1854.7,1652.0 1855.0,1652.3 1855.2,1652.6 1855.4,1652.9 1855.6,1653.3 1855.8,1653.5 1856.0,1653.8 1856.2,1654.1 1856.5,1654.4 1856.7,1654.7 1856.9,1655.5 1857.1,1656.3 1857.3,1657.2 1857.5,1658.0 1857.7,1658.8 1858.0,1659.2 1858.2,1659.5 1858.4,1659.9 1858.6,1660.2 1858.8,1660.5 1859.0,1661.0 1859.2,1661.4 1859.4,1661.9 1859.7,1662.3 1859.9,1662.7 1860.1,1663.2 1860.3,1663.7 1860.5,1664.1 1860.7,1664.6 1860.9,1665.0 1861.2,1665.2 1861.4,1665.4 1861.6,1665.6 1861.8,1665.8 1862.0,1666.0 1862.2,1666.2 1862.4,1666.4 1862.7,1666.6 1862.9,1666.7 1863.1,1666.9 1863.3,1667.2 1863.5,1667.5 1863.7,1667.8 1863.9,1668.1 1864.2,1668.4 1864.4,1668.4 1864.6,1668.5 1864.8,1668.6 1865.0,1668.7 1865.2,1668.7 1865.4,1668.9 1865.6,1669.2 1865.9,1669.4 1866.1,1669.6 1866.3,1669.8 1867.4,1670.3 1868.4,1670.8 1869.5,1671.0 1870.6,1671.2 1871.6,1671.1 1872.7,1671.8 1873.8,1672.1 1874.8,1672.2 1875.9,1672.4 1877.0,1671.9 1878.0,1672.6 1879.1,1672.8 1880.2,1672.6 1881.2,1672.6 1882.3,1673.0 1883.4,1672.9 1884.4,1673.0 1885.5,1672.9 1886.6,1673.3 1887.7,1673.0 1888.7,1672.9 1889.8,1673.0 1890.9,1673.4 1891.9,1673.5 1893.0,1673.2 1894.1,1673.5 1895.1,1673.6 1896.2,1673.4 1897.3,1673.0 1898.3,1673.2 1899.4,1673.3 1900.5,1673.7 1901.5,1673.5 1902.6,1673.7 1903.7,1673.3 1904.7,1673.5 1905.8,1673.7 1906.9,1673.7 1908.0,1672.0 1909.0,1673.4 1910.1,1673.3 1911.2,1673.3 1912.2,1673.5 1913.3,1673.8 1914.4,1673.9 1915.4,1673.5 1916.5,1673.3 1917.6,1673.4 1918.6,1673.8 1919.7,1674.0 1920.8,1673.6 1921.8,1673.6 1922.9,1673.6 1924.0,1673.7 1925.0,1673.9 1926.1,1673.4 1927.2,1673.6 1928.2,1673.8 1929.3,1673.3 1930.4,1673.4 1931.5,1673.7 1932.5,1673.7 1933.6,1673.7 1934.7,1673.5 1935.7,1674.0 1936.8,1673.8 1937.9,1673.7 1938.9,1673.5 1940.0,1673.7 1941.1,1673.7 1942.1,1673.5 1943.2,1673.9 1944.3,1673.9 1945.3,1673.9 1946.4,1674.0 1947.5,1673.8 1948.5,1673.6 1949.6,1673.6 1950.7,1673.8 1951.8,1673.9 1952.8,1673.2 1953.9,1673.9 1955.0,1673.8 1956.0,1674.0 1957.1,1673.9 1958.2,1674.0 1959.2,1673.7 1960.3,1673.9 1961.4,1673.9 1962.4,1674.0 1963.5,1674.0 1964.6,1674.0 1965.6,1673.4 1966.7,1673.9 1967.8,1673.8 1968.8,1673.7 1969.9,1673.7 1971.0,1674.0 1972.1,1674.0 1973.1,1673.4 1974.2,1673.7 1975.3,1673.8 1976.3,1673.6 1977.4,1673.5 1978.5,1673.6 1979.5,1673.9 1980.6,1674.0 1981.7,1674.1 1982.7,1673.9 1983.8,1673.8 1984.9,1674.1 1985.9,1673.2 1987.0,1673.8 1988.1,1673.7 1989.1,1673.9 1990.2,1673.9 1991.3,1673.8 1992.4,1674.0 1993.4,1674.1 1994.5,1673.8 1995.6,1673.7 1996.6,1673.8 1997.7,1674.1 1998.8,1673.6 1999.8,1673.8 2000.9,1674.0 2002.0,1674.0 2003.0,1673.9 2004.1,1673.8 2005.2,1673.9 2006.2,1673.6 2007.3,1674.1 2008.4,1674.0 2009.4,1674.1 2010.5,1674.1 2011.6,1674.0 2012.6,1673.8 2013.7,1673.6 2014.8,1673.9 2015.9,1673.9 2016.9,1674.1 2018.0,1674.1 2019.1,1673.7 2020.1,1674.1 2021.2,1674.0 2022.3,1673.8 2023.3,1673.7 2024.4,1673.5 2025.5,1674.0 2026.5,1673.7 2027.6,1674.1 2028.7,1674.1 2029.7,1673.6 2030.8,1674.0 2031.9,1673.8 2032.9,1673.2 2034.0,1673.6 2035.1,1673.5 2036.2,1674.0 2037.2,1674.1 2038.3,1673.9 2039.4,1674.1 2040.4,1673.8 2041.5,1673.8 2042.6,1673.8 2043.6,1673.0 2044.7,1674.1 2045.8,1674.1 2046.8,1673.7 2047.9,1674.1 2049.0,1674.1 2050.0,1674.1 2051.1,1674.1 2052.2,1674.1 2053.2,1673.9 2054.3,1673.8 2055.4,1674.2 2056.4,1674.1 2057.5,1674.0 2058.6,1674.0 2059.7,1673.6 2060.7,1673.6 2061.8,1673.9 2062.9,1674.1 2063.9,1674.0 2065.0,1673.5 2066.1,1674.0 2067.1,1673.8 2068.2,1674.0 2069.3,1674.1 2070.3,1674.0 2071.4,1673.9 2072.5,1673.7 2073.5,1674.0 2074.6,1674.1 2075.7,1673.8 2076.7,1674.0 2077.8,1674.0 2078.9,1673.9 2080.0,1673.8 2081.0,1674.0 2082.1,1673.9 2083.2,1674.0 2084.2,1674.1 2085.3,1674.0 2086.4,1673.8 2087.4,1673.9 2088.5,1673.6"/>
<polyline class="c" stroke="#000" stroke-width="6.6" stroke-linejoin="round" points="165.5,1975.3 166.6,1975.3 167.6,1973.7 168.7,1975.0 169.8,1974.8 170.8,1974.7 171.9,1975.3 173.0,1974.9 174.0,1975.3 175.1,1975.4 176.2,1975.4 177.3,1975.5 178.3,1975.0 179.4,1975.1 180.5,1975.0 181.5,1975.5 182.6,1975.6 183.7,1974.9 184.7,1975.6 185.8,1974.1 186.9,1975.6 187.9,1972.1 189.0,1973.7 190.1,1975.0 191.1,1975.0 192.2,1975.2 193.3,1974.9 194.3,1975.0 195.4,1973.6 196.5,1974.4 197.6,1974.7 198.6,1975.2 199.7,1975.5 200.8,1974.6 201.8,1975.0 202.9,1975.6 204.0,1975.2 205.0,1975.2 206.1,1975.2 207.2,1975.4 208.2,1975.1 209.3,1975.0 210.4,1975.3 211.4,1974.6 212.5,1975.4 213.6,1974.3 214.6,1969.7 215.7,1975.3 216.8,1975.4 217.8,1974.1 218.9,1974.9 220.0,1975.5 221.1,1975.5 222.1,1975.3 223.2,1975.5 224.3,1974.6 225.3,1975.0 226.4,1975.1 227.5,1975.5 228.5,1975.3 229.6,1974.7 230.7,1975.2 231.7,1975.0 232.8,1975.5 233.9,1974.7 234.9,1975.5 236.0,1975.3 237.1,1975.3 238.1,1975.4 239.2,1974.0 240.3,1974.8 241.4,1975.2 242.4,1975.1 243.5,1974.9 244.6,1974.4 245.6,1974.4 246.7,1975.2 247.8,1974.9 248.8,1974.8 249.9,1975.5 251.0,1974.9 252.0,1974.7 253.1,1975.5 254.2,1975.6 255.2,1974.8 256.3,1975.5 257.4,1975.4 258.4,1975.4 259.5,1974.9 260.6,1975.1 261.6,1975.6 262.7,1975.3 263.8,1975.6 264.9,1975.5 265.9,1975.5 267.0,1975.2 268.1,1975.5 269.1,1974.7 270.2,1975.2 271.3,1975.0 272.3,1975.4 273.4,1975.5 274.5,1975.3 275.5,1975.0 276.6,1974.4 277.7,1975.4 278.7,1975.3 279.8,1973.6 280.9,1974.7 281.9,1974.3 283.0,1975.4 284.1,1973.8 285.2,1975.0 286.2,1975.1 287.3,1975.2 288.4,1975.3 289.4,1975.3 290.5,1974.9 291.6,1975.6 292.6,1974.7 293.7,1975.5 294.8,1974.7 295.8,1975.0 296.9,1975.3 298.0,1975.0 299.0,1972.7 300.1,1975.4 301.2,1975.3 302.2,1974.9 303.3,1975.3 304.4,1974.7 305.5,1975.0 306.5,1975.3 307.6,1975.3 308.7,1975.5 309.7,1974.8 310.8,1974.4 311.9,1975.5 312.9,1975.5 314.0,1974.9 315.1,1975.5 316.1,1975.4 317.2,1974.5 318.3,1975.0 319.3,1975.5 320.4,1975.1 321.5,1975.1 322.5,1975.3 323.6,1974.7 324.7,1975.3 325.8,1975.2 326.8,1974.6 327.9,1975.4 329.0,1975.2 330.0,1975.2 331.1,1975.6 332.2,1975.5 333.2,1975.5 334.3,1974.8 335.4,1975.3 336.4,1975.4 337.5,1975.0 338.6,1975.3 339.6,1973.9 340.7,1975.4 341.8,1975.5 342.8,1975.4 343.9,1974.9 345.0,1974.9 346.0,1975.0 347.1,1975.1 348.2,1975.2 349.3,1974.4 350.3,1973.9 351.4,1975.2 352.5,1975.4 353.5,1974.4 354.6,1975.0 355.7,1975.6 356.7,1974.4 357.8,1975.2 358.9,1975.3 359.9,1975.5 361.0,1975.2 362.1,1974.8 363.1,1975.5 364.2,1975.6 365.3,1974.8 366.3,1975.1 367.4,1974.2 368.5,1975.4 369.6,1974.5 370.6,1975.0 371.7,1975.3 372.8,1974.5 373.8,1974.2 374.9,1975.2 376.0,1974.9 377.0,1975.5 378.1,1975.6 379.2,1975.1 380.2,1974.6 381.3,1975.5 382.4,1975.1 383.4,1975.1 384.5,1975.1 385.6,1975.0 386.6,1975.3 387.7,1974.9 388.8,1975.1 389.9,1975.5 390.9,1975.5 392.0,1975.5 393.1,1975.5 394.1,1975.1 395.2,1975.5 396.3,1975.0 397.3,1974.9 398.4,1974.9 399.5,1974.8 400.5,1975.4 401.6,1975.5 402.7,1975.2 403.7,1975.1 404.8,1975.3 405.9,1975.0 406.9,1974.7 408.0,1974.5 409.1,1975.4 410.1,1975.4 411.2,1974.8 412.3,1975.5 413.4,1974.6 414.4,1974.9 415.5,1975.0 416.6,1975.3 417.6,1975.5 418.7,1975.1 419.8,1975.4 420.8,1975.5 421.9,1975.1 423.0,1975.2 424.0,1975.5 425.1,1975.4 426.2,1974.8 427.2,1975.3 428.3,1975.3 429.4,1974.4 430.4,1975.6 431.5,1975.4 432.6,1973.5 433.7,1974.8 434.7,1975.5 435.8,1975.5 436.9,1975.3 437.9,1975.1 439.0,1974.9 440.1,1975.1 441.1,1975.1 442.2,1974.7 443.3,1975.3 444.3,1974.7 445.4,1975.0 446.5,1975.4 447.5,1975.6 448.6,1973.7 449.7,1974.8 450.7,1975.5 451.8,1975.1 452.9,1975.1 453.9,1975.0 455.0,1975.2 456.1,1974.6 457.2,1975.4 458.2,1975.5 459.3,1975.0 460.4,1975.4 461.4,1975.5 462.5,1973.6 463.6,1975.2 464.6,1974.7 465.7,1975.6 466.8,1975.4 467.8,1974.5 468.9,1975.5 470.0,1975.4 471.0,1975.3 472.1,1975.3 473.2,1974.5 474.2,1975.3 475.3,1975.6 476.4,1975.4 477.5,1975.3 478.5,1975.0 479.6,1975.5 480.7,1974.8 481.7,1973.5 482.8,1975.2 483.9,1975.1 484.9,1975.1 486.0,1975.2 487.1,1975.1 488.1,1975.1 489.2,1973.2 490.3,1975.2 491.3,1975.2 492.4,1975.5 493.5,1975.3 494.5,1975.2 495.6,1975.5 496.7,1975.4 497.8,1975.6 498.8,1975.6 499.9,1974.8 501.0,1974.9 502.0,1975.6 503.1,1975.5 504.2,1974.9 505.2,1974.7 506.3,1974.5 507.4,1975.0 508.4,1974.6 509.5,1975.6 510.6,1975.3 511.6,1975.4 512.7,1975.5 513.8,1975.4 514.8,1975.5 515.9,1975.4 517.0,1975.4 518.0,1975.4 519.1,1974.8 520.2,1975.3 521.3,1975.3 522.3,1975.1 523.4,1973.4 524.5,1975.3 525.5,1975.4 526.6,1974.8 527.7,1974.9 528.7,1975.3 529.8,1975.4 530.9,1975.0 531.9,1975.2 533.0,1974.7 534.1,1975.0 535.1,1975.5 536.2,1975.1 537.3,1975.4 538.3,1975.3 539.4,1975.5 540.5,1974.9 541.6,1974.9 542.6,1975.3 543.7,1974.8 544.8,1974.7 545.8,1974.9 546.9,1974.7 548.0,1975.4 549.0,1975.5 550.1,1975.3 551.2,1974.9 552.2,1975.4 553.3,1975.0 554.4,1975.5 555.4,1975.6 556.5,1973.2 557.6,1974.9 558.6,1974.8 559.7,1974.9 560.8,1974.9 561.9,1974.6 562.9,1974.5 564.0,1975.5 565.1,1975.0 566.1,1974.8 567.2,1975.2 568.3,1974.0 569.3,1974.8 570.4,1974.8 571.5,1974.7 572.5,1975.0 573.6,1974.7 574.7,1975.2 575.7,1974.4 576.8,1975.0 577.9,1975.5 578.9,1972.9 580.0,1975.1 581.1,1974.8 582.2,1975.2 583.2,1974.9 584.3,1975.5 585.4,1973.6 586.4,1975.2 587.5,1975.3 588.6,1975.4 589.6,1974.7 590.7,1974.8 591.8,1974.9 592.8,1975.4 593.9,1975.4 595.0,1975.6 596.0,1975.3 597.1,1974.5 598.2,1975.3 599.2,1974.9 600.3,1975.1 601.4,1975.5 602.4,1975.2 603.5,1975.5 604.6,1975.5 605.7,1975.5 606.7,1975.4 607.8,1975.3 608.9,1975.5 609.9,1975.5 611.0,1975.3 612.1,1974.8 613.1,1975.0 614.2,1975.5 615.3,1975.3 616.3,1974.6 617.4,1974.8 618.5,1974.4 619.5,1975.3 620.6,1975.1 621.7,1974.0 622.7,1975.1 623.8,1975.4 624.9,1974.5 626.0,1975.1 627.0,1975.2 628.1,1975.2 629.2,1975.3 630.2,1975.3 631.3,1975.2 632.4,1975.5 633.4,1974.6 634.5,1974.6 635.6,1974.4 636.6,1975.3 637.7,1975.3 638.8,1975.4 639.8,1974.1 640.9,1974.5 642.0,1974.2 643.0,1975.2 644.1,1972.1 645.2,1975.0 646.2,1974.5 647.3,1975.6 648.4,1975.1 649.5,1975.1 650.5,1974.9 651.6,1975.2 652.7,1975.5 653.7,1975.2 654.8,1975.4 655.9,1975.6 656.9,1972.6 658.0,1975.5 659.1,1974.6 660.1,1975.1 661.2,1975.1 662.3,1974.8 663.3,1975.5 664.4,1974.7 665.5,1975.5 666.5,1974.8 667.6,1975.2 668.7,1975.2 669.8,1974.2 670.8,1975.0 671.9,1975.4 673.0,1975.2 674.0,1975.6 675.1,1974.7 676.2,1974.8 677.2,1975.0 678.3,1975.5 679.4,1975.3 680.4,1975.5 681.5,1975.1 682.6,1974.7 683.6,1974.9 684.7,1975.5 685.8,1975.5 686.8,1975.2 687.9,1975.2 689.0,1974.9 690.1,1975.5 691.1,1973.9 692.2,1975.4 693.3,1975.3 694.3,1974.9 695.4,1974.3 696.5,1974.8 697.5,1975.4 698.6,1975.4 699.7,1975.5 700.7,1974.9 701.8,1975.3 702.9,1975.6 703.9,1974.5 705.0,1975.1 706.1,1975.4 707.1,1974.4 708.2,1974.3 709.3,1975.3 710.4,1975.3 711.4,1975.5 712.5,1975.2 713.6,1974.7 714.6,1975.3 715.7,1975.3 716.8,1975.5 717.8,1974.9 718.9,1975.4 720.0,1975.6 721.0,1974.9 722.1,1975.3 723.2,1975.2 724.2,1975.2 725.3,1975.5 726.4,1974.9 727.4,1975.3 728.5,1974.8 729.6,1975.3 730.6,1975.0 731.7,1975.4 732.8,1975.5 733.9,1975.4 734.9,1975.2 736.0,1974.9 737.1,1975.2 738.1,1975.2 739.2,1975.4 740.3,1975.2 741.3,1974.6 742.4,1975.3 743.5,1975.4 744.5,1975.3 745.6,1974.9 746.7,1975.0 747.7,1975.1 748.8,1974.8 749.9,1974.7 750.9,1975.1 752.0,1975.0 753.1,1974.6 754.2,1975.4 755.2,1975.3 756.3,1975.4 757.4,1975.0 758.4,1973.8 759.5,1975.4 760.6,1975.6 761.6,1974.3 762.7,1975.3 763.8,1975.5 764.8,1974.8 765.9,1975.4 767.0,1975.4 768.0,1975.4 769.1,1975.2 770.2,1975.4 771.2,1975.4 772.3,1974.7 773.4,1975.5 774.5,1974.8 775.5,1974.7 776.6,1974.6 777.7,1974.8 778.7,1975.5 779.8,1975.5 780.9,1974.9 781.9,1975.2 783.0,1975.2 784.1,1975.4 785.1,1975.4 786.2,1975.2 787.3,1974.9 788.3,1975.6 789.4,1974.8 790.5,1975.4 791.5,1974.9 792.6,1975.1 793.7,1973.6 794.7,1975.3 795.8,1975.3 796.9,1975.4 798.0,1975.3 799.0,1974.2 800.1,1975.5 801.2,1973.9 802.2,1975.4 803.3,1975.5 804.4,1975.1 805.4,1975.3 806.5,1974.9 807.6,1975.1 808.6,1975.5 809.7,1975.5 810.8,1975.4 811.8,1974.8 812.9,1975.4 814.0,1975.5 815.0,1975.5 816.1,1975.3 817.2,1974.7 818.3,1975.2 819.3,1975.0 820.4,1975.4 821.5,1974.8 822.5,1975.3 823.6,1975.3 824.7,1975.4 825.7,1975.2 826.8,1975.5 827.9,1975.2 828.9,1974.6 830.0,1974.9 831.1,1974.9 832.1,1975.0 833.2,1974.6 834.3,1975.4 835.3,1974.3 836.4,1974.5 837.5,1974.8 838.6,1975.2 839.6,1975.4 840.7,1975.1 841.8,1975.3 842.8,1974.8 843.9,1974.9 845.0,1975.3 846.0,1975.3 847.1,1975.2 848.2,1975.4 849.2,1974.2 850.3,1975.2 851.4,1974.8 852.4,1975.4 853.5,1974.0 854.6,1974.5 855.6,1975.0 856.7,1975.4 857.8,1975.2 858.8,1975.2 859.9,1975.2 861.0,1974.5 862.1,1974.6 863.1,1975.0 864.2,1974.9 865.3,1974.4 866.3,1975.3 867.4,1974.8 868.5,1974.6 869.5,1974.6 870.6,1975.2 871.7,1973.7 872.7,1974.9 873.8,1973.4 874.9,1975.0 875.9,1974.7 877.0,1974.9 878.1,1974.3 879.1,1974.2 880.2,1974.4 881.3,1974.6 882.4,1974.4 883.4,1973.5 884.5,1974.2 885.6,1974.7 886.6,1974.1 887.7,1973.7 888.8,1974.3 889.8,1972.6 890.9,1973.0 892.0,1972.9 893.0,1971.8 893.2,1971.9 893.5,1972.1 893.7,1972.2 893.9,1972.4 894.1,1972.5 894.3,1972.5 894.5,1972.4 894.7,1972.4 895.0,1972.4 895.2,1972.3 895.4,1972.2 895.6,1972.0 895.8,1971.9 896.0,1971.7 896.2,1971.5 896.5,1971.4 896.7,1971.3 896.9,1971.2 897.1,1971.1 897.3,1971.0 897.5,1970.7 897.7,1970.3 897.9,1970.0 898.2,1969.7 898.4,1969.3 898.6,1969.0 898.8,1968.7 899.0,1968.4 899.2,1968.0 899.4,1967.6 899.7,1967.0 899.9,1966.4 900.1,1965.7 900.3,1965.0 900.5,1964.2 900.7,1963.6 900.9,1963.0 901.2,1962.2 901.4,1961.4 901.6,1960.4 901.8,1959.2 902.0,1957.8 902.2,1956.3 902.4,1954.5 902.6,1952.5 902.9,1950.5 903.1,1948.0 903.3,1945.1 903.5,1941.7 903.7,1937.6 903.9,1932.2 904.1,1925.6 904.4,1917.2 904.6,1906.5 904.8,1892.3 905.0,1873.6 905.2,1847.9 905.4,1813.1 905.6,1770.2 905.9,1729.2 906.1,1711.0 906.3,1729.2 906.5,1770.5 906.7,1813.6 906.9,1848.6 907.1,1874.6 907.4,1893.6 907.6,1907.7 907.8,1918.2 908.0,1926.4 908.2,1932.7 908.4,1937.8 908.6,1942.0 908.8,1945.5 909.1,1948.4 909.3,1950.9 909.5,1953.0 909.7,1954.8 909.9,1956.4 910.1,1957.8 910.3,1959.1 910.6,1960.3 910.8,1961.4 911.0,1962.4 911.2,1963.3 911.4,1964.0 911.6,1964.7 911.8,1965.3 912.1,1965.8 912.3,1966.3 912.5,1966.9 912.7,1967.5 912.9,1968.1 913.1,1968.6 913.3,1969.1 913.5,1969.4 913.8,1969.7 914.0,1970.0 914.2,1970.2 914.4,1970.4 914.6,1970.7 914.8,1970.9 915.0,1971.1 915.3,1971.3 915.5,1971.5 915.7,1971.5 915.9,1971.5 916.1,1971.4 916.3,1971.4 916.5,1971.4 916.8,1971.6 917.0,1971.8 917.2,1972.0 917.4,1972.2 917.6,1972.4 917.8,1972.6 918.0,1972.7 918.2,1972.9 918.5,1973.0 918.7,1973.2 918.9,1973.2 919.7,1973.1 920.8,1973.7 921.9,1973.8 922.9,1974.1 924.0,1971.4 925.1,1974.3 926.2,1974.2 927.2,1974.4 928.3,1974.7 929.4,1974.7 930.4,1974.4 931.5,1974.4 932.6,1974.8 933.6,1975.1 934.7,1975.1 935.8,1974.9 936.8,1974.5 937.9,1975.0 939.0,1975.1 940.0,1974.7 941.1,1975.1 942.2,1974.9 943.2,1975.1 944.3,1974.5 945.4,1974.9 946.5,1974.8 947.5,1974.7 948.6,1974.1 949.7,1975.0 950.7,1974.6 951.8,1974.5 952.9,1975.4 953.9,1975.0 955.0,1974.8 956.1,1974.9 957.1,1975.1 958.2,1975.1 959.3,1974.4 960.3,1975.2 961.4,1975.3 962.5,1975.3 963.5,1975.2 964.6,1974.7 965.7,1973.5 966.8,1974.7 967.8,1975.3 968.9,1974.9 970.0,1975.2 971.0,1975.4 972.1,1975.4 973.2,1974.6 974.2,1975.2 975.3,1974.4 976.4,1975.4 977.4,1974.7 978.5,1975.5 979.6,1975.4 980.6,1975.5 981.7,1975.3 982.8,1975.3 983.8,1974.9 984.9,1975.3 986.0,1975.3 987.0,1974.5 988.1,1975.1 989.2,1975.2 990.3,1975.2 991.3,1975.5 992.4,1975.1 993.5,1974.7 994.5,1975.2 995.6,1975.3 996.7,1975.2 997.7,1971.8 998.8,1975.1 999.9,1975.5 1000.9,1975.2 1002.0,1975.4 1003.1,1974.5 1004.1,1975.5 1005.2,1975.5 1006.3,1975.2 1007.3,1974.9 1008.4,1975.0 1009.5,1975.4 1010.6,1975.4 1011.6,1975.3 1012.7,1975.4 1013.8,1974.8 1014.8,1975.3 1015.9,1975.0 1017.0,1975.5 1018.0,1975.0 1019.1,1975.4 1020.2,1975.0 1021.2,1975.3 1022.3,1975.2 1023.4,1975.0 1024.4,1975.5 1025.5,1975.2 1026.6,1975.1 1027.6,1975.3 1028.7,1974.6 1029.8,1974.0 1030.8,1975.4 1031.9,1974.0 1033.0,1975.2 1034.1,1975.3 1035.1,1974.7 1036.2,1975.6 1037.3,1974.9 1038.3,1975.2 1039.4,1975.5 1040.5,1975.0 1041.5,1975.5 1042.6,1975.1 1043.7,1975.4 1044.7,1974.7 1045.8,1975.6 1046.9,1975.5 1047.9,1975.0 1049.0,1974.2 1050.1,1974.8 1051.1,1975.2 1052.2,1974.2 1053.3,1975.5 1054.4,1975.4 1055.4,1975.2 1056.5,1975.0 1057.6,1974.6 1058.6,1975.3 1059.7,1975.5 1060.8,1975.3 1061.8,1975.0 1062.9,1974.5 1064.0,1975.1 1065.0,1975.1 1066.1,1975.3 1067.2,1975.2 1068.2,1975.0 1069.3,1975.1 1070.4,1975.4 1071.4,1975.5 1072.5,1975.5 1073.6,1975.1 1074.7,1975.1 1075.7,1974.7 1076.8,1975.4 1077.9,1974.7 1078.9,1974.8 1080.0,1975.4 1081.1,1975.5 1082.1,1975.2 1083.2,1975.4 1084.3,1975.4 1085.3,1974.6 1086.4,1975.3 1087.5,1975.0 1088.5,1975.4 1089.6,1974.8 1090.7,1975.1 1091.7,1975.1 1092.8,1974.8 1093.9,1975.5 1095.0,1975.1 1096.0,1975.5 1097.1,1975.4 1098.2,1974.7 1099.2,1975.4 1100.3,1975.6 1101.4,1974.9 1102.4,1974.7 1103.5,1975.2 1104.6,1974.9 1105.6,1974.9 1106.7,1974.5 1107.8,1975.0 1108.8,1974.9 1109.9,1975.3 1111.0,1975.0 1112.0,1975.4 1113.1,1975.5 1114.2,1975.0 1115.2,1974.0 1116.3,1975.0 1117.4,1975.5 1118.5,1975.6 1119.5,1975.5 1120.6,1975.1 1121.7,1975.3 1122.7,1974.6 1123.8,1975.3 1124.9,1975.4 1125.9,1975.0 1127.0,1975.2 1128.1,1975.5 1129.1,1975.5 1130.2,1975.4 1131.3,1975.5 1132.3,1974.7 1133.4,1975.2 1134.5,1974.9 1135.5,1974.6 1136.6,1974.3 1137.7,1975.3 1138.8,1974.2 1139.8,1974.8 1140.9,1975.5 1142.0,1975.2 1143.0,1975.1 1144.1,1974.6 1145.2,1974.8 1146.2,1975.0 1147.3,1974.7 1148.4,1974.5 1149.4,1975.2 1150.5,1975.5 1151.6,1975.0 1152.6,1975.3 1153.7,1975.3 1154.8,1975.3 1155.8,1975.0 1156.9,1975.6 1158.0,1975.4 1159.1,1975.4 1160.1,1974.5 1161.2,1975.6 1162.3,1975.2 1163.3,1975.0 1164.4,1972.2 1165.5,1975.5 1166.5,1975.4 1167.6,1974.9 1168.7,1975.4 1169.7,1975.2 1170.8,1975.3 1171.9,1974.6 1172.9,1975.2 1174.0,1974.4 1175.1,1975.3 1176.1,1975.4 1177.2,1975.5 1178.3,1974.7 1179.3,1975.1 1180.4,1975.6 1181.5,1975.6 1182.6,1975.5 1183.6,1974.4 1184.7,1975.2 1185.8,1974.4 1186.8,1974.3 1187.9,1975.1 1189.0,1975.1 1190.0,1975.2 1191.1,1974.2 1192.2,1975.5 1193.2,1975.2 1194.3,1975.4 1195.4,1975.2 1196.4,1974.7 1197.5,1974.8 1198.6,1974.5 1199.6,1975.1 1200.7,1975.4 1201.8,1975.4 1202.9,1975.4 1203.9,1974.4 1205.0,1974.2 1206.1,1975.4 1207.1,1975.5 1208.2,1975.0 1209.3,1975.3 1210.3,1974.9 1211.4,1975.3 1212.5,1975.4 1213.5,1974.9 1214.6,1974.8 1215.7,1975.1 1216.7,1975.2 1217.8,1975.2 1218.9,1975.6 1219.9,1974.9 1221.0,1975.0 1222.1,1975.0 1223.2,1974.7 1224.2,1974.9 1225.3,1974.6 1226.4,1975.4 1227.4,1975.1 1228.5,1975.4 1229.6,1974.4 1230.6,1974.8 1231.7,1975.0 1232.8,1974.5 1233.8,1975.4 1234.9,1975.0 1236.0,1975.2 1237.0,1975.2 1238.1,1974.9 1239.2,1974.9 1240.2,1975.0 1241.3,1975.0 1242.4,1975.5 1243.4,1975.4 1244.5,1975.3 1245.6,1974.4 1246.7,1975.4 1247.7,1975.4 1248.8,1973.5 1249.9,1975.2 1250.9,1975.5 1252.0,1975.2 1253.1,1974.8 1254.1,1974.7 1255.2,1974.5 1256.3,1975.5 1257.3,1975.4 1258.4,1974.7 1259.5,1975.4 1260.5,1975.5 1261.6,1974.2 1262.7,1975.2 1263.7,1975.5 1264.8,1975.3 1265.9,1975.1 1267.0,1974.8 1268.0,1975.5 1269.1,1974.8 1270.2,1974.9 1271.2,1975.0 1272.3,1975.3 1273.4,1975.1 1274.4,1975.1 1275.5,1974.8 1276.6,1975.3 1277.6,1974.9 1278.7,1975.2 1279.8,1975.3 1280.8,1974.7 1281.9,1974.9 1283.0,1975.0 1284.0,1975.2 1285.1,1975.5 1286.2,1974.2 1287.2,1974.7 1288.3,1975.5 1289.4,1974.0 1290.5,1973.8 1291.5,1974.8 1292.6,1975.2 1293.7,1975.5 1294.7,1975.5 1295.8,1975.1 1296.9,1974.9 1297.9,1975.5 1299.0,1974.7 1300.1,1974.2 1301.1,1975.2 1302.2,1974.0 1303.3,1975.3 1304.3,1975.5 1305.4,1974.8 1306.5,1975.2 1307.5,1974.9 1308.6,1975.0 1309.7,1974.7 1310.8,1974.2 1311.8,1975.3 1312.9,1975.0 1314.0,1975.1 1315.0,1974.2 1316.1,1974.9 1317.2,1973.3 1318.2,1975.0 1319.3,1975.1 1320.4,1974.2 1321.4,1974.3 1322.5,1974.8 1323.6,1974.8 1324.6,1975.0 1325.7,1974.8 1326.8,1973.8 1327.8,1974.7 1328.1,1974.6 1328.3,1974.5 1328.5,1974.4 1328.7,1974.3 1328.9,1974.3 1329.1,1974.2 1329.3,1974.1 1329.6,1974.1 1329.8,1974.0 1330.0,1973.9 1330.2,1974.0 1330.4,1974.1 1330.6,1974.1 1330.8,1974.2 1331.1,1974.2 1331.3,1974.1 1331.5,1973.9 1331.7,1973.8 1331.9,1973.6 1332.1,1973.5 1332.3,1973.4 1332.5,1973.4 1332.8,1973.4 1333.0,1973.3 1333.2,1973.3 1333.4,1973.1 1333.6,1972.9 1333.8,1972.7 1334.0,1972.5 1334.3,1972.3 1334.5,1972.0 1334.7,1971.7 1334.9,1971.4 1335.1,1971.1 1335.3,1970.8 1335.5,1970.7 1335.8,1970.6 1336.0,1970.4 1336.2,1970.3 1336.4,1970.1 1336.6,1969.6 1336.8,1969.0 1337.0,1968.4 1337.2,1967.7 1337.5,1967.0 1337.7,1966.7 1337.9,1966.2 1338.1,1965.7 1338.3,1965.0 1338.5,1964.2 1338.7,1962.8 1339.0,1961.1 1339.2,1958.9 1339.4,1956.2 1339.6,1952.7 1339.8,1948.4 1340.0,1943.3 1340.2,1937.8 1340.5,1933.3 1340.7,1931.6 1340.9,1933.3 1341.1,1937.8 1341.3,1943.2 1341.5,1948.3 1341.7,1952.6 1341.9,1956.0 1342.2,1958.7 1342.4,1960.8 1342.6,1962.4 1342.8,1963.8 1343.0,1964.9 1343.2,1965.8 1343.4,1966.5 1343.7,1967.2 1343.9,1967.7 1344.1,1968.4 1344.3,1968.9 1344.5,1969.5 1344.7,1969.9 1344.9,1970.4 1345.2,1970.7 1345.4,1970.9 1345.6,1971.1 1345.8,1971.4 1346.0,1971.5 1346.2,1971.8 1346.4,1972.0 1346.6,1972.2 1346.9,1972.5 1347.1,1972.7 1347.3,1972.7 1347.5,1972.7 1347.7,1972.8 1347.9,1972.8 1348.1,1972.8 1348.4,1973.0 1348.6,1973.1 1348.8,1973.3 1349.0,1973.4 1349.2,1973.5 1349.4,1973.6 1349.6,1973.7 1349.9,1973.8 1350.1,1973.9 1350.3,1974.0 1350.5,1974.0 1350.7,1974.0 1350.9,1974.0 1351.1,1974.0 1351.4,1974.0 1351.6,1974.1 1351.8,1974.1 1352.0,1974.2 1352.2,1974.2 1352.4,1974.3 1352.6,1974.2 1352.8,1974.1 1353.1,1974.0 1353.3,1973.9 1353.5,1973.8 1354.6,1974.9 1355.6,1974.9 1356.7,1975.0 1357.8,1975.1 1358.8,1974.0 1359.9,1972.7 1361.0,1975.1 1362.0,1975.1 1363.1,1975.0 1364.2,1973.8 1365.2,1974.4 1366.3,1975.1 1367.4,1974.1 1368.4,1975.3 1369.5,1975.2 1370.6,1975.3 1371.6,1974.8 1372.7,1975.3 1373.8,1975.3 1374.9,1975.4 1375.9,1974.4 1377.0,1975.1 1378.1,1975.0 1379.1,1974.8 1380.2,1975.0 1381.3,1975.4 1382.3,1975.2 1383.4,1975.3 1384.5,1975.0 1385.5,1975.2 1386.6,1975.1 1387.7,1975.0 1388.7,1975.4 1389.8,1975.1 1390.9,1974.6 1391.9,1975.2 1393.0,1975.3 1394.1,1974.9 1395.2,1973.8 1396.2,1975.4 1397.3,1975.0 1398.4,1975.5 1399.4,1975.4 1400.5,1974.5 1401.6,1975.0 1402.6,1975.2 1403.7,1975.2 1404.8,1975.4 1405.8,1975.2 1406.9,1974.0 1408.0,1975.3 1409.0,1975.5 1410.1,1974.3 1411.2,1974.7 1412.2,1975.6 1413.3,1975.1 1414.4,1975.1 1415.5,1975.5 1416.5,1974.8 1417.6,1975.4 1418.7,1975.2 1419.7,1974.8 1420.8,1975.0 1421.9,1975.0 1422.9,1974.7 1424.0,1975.5 1425.1,1974.4 1426.1,1975.1 1427.2,1975.2 1428.3,1974.8 1429.3,1975.6 1430.4,1975.3 1431.5,1975.0 1432.5,1975.4 1433.6,1975.1 1434.7,1974.8 1435.7,1974.8 1436.8,1974.9 1437.9,1973.9 1439.0,1975.0 1440.0,1975.5 1441.1,1974.7 1442.2,1973.9 1443.2,1974.9 1444.3,1975.2 1445.4,1974.9 1446.4,1975.4 1447.5,1975.0 1448.6,1975.3 1449.6,1975.4 1450.7,1975.6 1451.8,1975.1 1452.8,1974.8 1453.9,1975.3 1455.0,1975.4 1456.0,1975.0 1457.1,1975.1 1458.2,1975.6 1459.3,1974.5 1460.3,1975.5 1461.4,1975.6 1462.5,1974.8 1463.5,1975.3 1464.6,1974.6 1465.7,1975.3 1466.7,1974.8 1467.8,1975.0 1468.9,1975.4 1469.9,1975.2 1471.0,1974.9 1472.1,1975.2 1473.1,1975.1 1474.2,1974.7 1475.3,1975.5 1476.3,1974.7 1477.4,1974.7 1478.5,1975.5 1479.5,1975.5 1480.6,1975.2 1481.7,1975.0 1482.8,1975.0 1483.8,1975.3 1484.9,1975.1 1486.0,1974.2 1487.0,1975.0 1488.1,1975.6 1489.2,1975.2 1490.2,1974.9 1491.3,1974.3 1492.4,1975.0 1493.4,1975.3 1494.5,1975.4 1495.6,1975.2 1496.6,1974.2 1497.7,1974.8 1498.8,1974.9 1499.8,1975.0 1500.9,1975.2 1502.0,1975.1 1503.1,1974.5 1504.1,1974.6 1505.2,1975.5 1506.3,1975.4 1507.3,1975.4 1508.4,1974.3 1509.5,1975.4 1510.5,1975.1 1511.6,1975.0 1512.7,1974.5 1513.7,1975.0 1514.8,1975.5 1515.9,1975.0 1516.9,1975.1 1518.0,1975.0 1519.1,1975.4 1520.1,1975.0 1521.2,1975.5 1522.3,1974.9 1523.4,1975.1 1524.4,1974.9 1525.5,1974.9 1526.6,1975.0 1527.6,1975.3 1528.7,1975.3 1529.8,1975.1 1530.8,1974.7 1531.9,1975.6 1533.0,1974.7 1534.0,1974.9 1535.1,1975.4 1536.2,1974.5 1537.2,1974.8 1538.3,1975.5 1539.4,1975.3 1540.4,1975.4 1541.5,1975.4 1542.6,1974.7 1543.7,1975.5 1544.7,1974.6 1545.8,1975.3 1546.9,1975.5 1547.9,1975.1 1549.0,1975.2 1550.1,1975.2 1551.1,1974.9 1552.2,1974.6 1553.3,1975.3 1554.3,1975.3 1555.4,1975.5 1556.5,1975.2 1557.5,1975.4 1558.6,1975.2 1559.7,1975.0 1560.7,1974.9 1561.8,1975.2 1562.9,1975.5 1563.9,1974.7 1565.0,1975.1 1566.1,1975.2 1567.2,1975.5 1568.2,1975.2 1569.3,1975.3 1570.4,1975.1 1571.4,1975.2 1572.5,1975.5 1573.6,1975.5 1574.6,1974.8 1575.7,1975.4 1576.8,1975.2 1577.8,1975.5 1578.9,1975.0 1580.0,1974.1 1581.0,1975.1 1582.1,1974.4 1583.2,1975.5 1584.2,1974.5 1585.3,1975.1 1586.4,1975.2 1587.5,1975.5 1588.5,1975.2 1589.6,1974.9 1590.7,1975.1 1591.7,1975.2 1592.8,1975.5 1593.9,1975.0 1594.9,1975.5 1596.0,1975.1 1597.1,1975.3 1598.1,1975.5 1599.2,1975.3 1600.3,1974.6 1601.3,1974.8 1602.4,1975.4 1603.5,1975.2 1604.5,1975.0 1605.6,1974.8 1606.7,1974.7 1607.8,1974.9 1608.8,1975.3 1609.9,1975.0 1611.0,1975.5 1612.0,1974.9 1613.1,1974.9 1614.2,1975.2 1615.2,1974.8 1616.3,1975.1 1617.4,1975.3 1618.4,1975.0 1619.5,1975.1 1620.6,1974.5 1621.6,1974.6 1622.7,1975.0 1623.8,1975.3 1624.8,1975.4 1625.9,1975.3 1627.0,1975.1 1628.0,1974.1 1629.1,1975.2 1630.2,1975.3 1631.3,1975.2 1632.3,1974.9 1633.4,1975.2 1634.5,1974.6 1635.5,1975.3 1636.6,1974.8 1637.7,1975.2 1638.7,1975.5 1639.8,1975.3 1640.9,1975.5 1641.9,1975.1 1643.0,1974.6 1644.1,1975.5 1645.1,1974.3 1646.2,1975.3 1647.3,1975.4 1648.3,1974.4 1649.4,1974.5 1650.5,1975.3 1651.6,1975.3 1652.6,1974.7 1653.7,1975.3 1654.8,1974.6 1655.8,1975.3 1656.9,1974.9 1658.0,1975.5 1659.0,1975.4 1660.1,1974.7 1661.2,1975.5 1662.2,1975.2 1663.3,1974.8 1664.4,1974.8 1665.4,1975.1 1666.5,1975.1 1667.6,1974.4 1668.6,1975.3 1669.7,1974.4 1670.8,1975.5 1671.9,1975.0 1672.9,1975.4 1674.0,1974.5 1675.1,1974.6 1676.1,1974.3 1677.2,1975.3 1678.3,1974.5 1679.3,1975.0 1680.4,1975.3 1681.5,1975.1 1682.5,1974.8 1683.6,1975.1 1684.7,1974.4 1685.7,1974.8 1686.8,1975.0 1687.9,1975.1 1688.9,1973.6 1690.0,1975.1 1691.1,1974.7 1692.1,1974.5 1693.2,1974.9 1694.3,1974.7 1695.4,1974.1 1696.4,1973.6 1697.5,1973.8 1698.6,1974.0 1699.0,1973.6 1699.2,1973.5 1699.4,1973.3 1699.6,1973.1 1699.8,1973.2 1700.1,1973.4 1700.3,1973.5 1700.5,1973.6 1700.7,1973.8 1700.9,1973.6 1701.1,1973.5 1701.3,1973.4 1701.5,1973.2 1701.8,1973.1 1702.0,1972.9 1702.2,1972.8 1702.4,1972.6 1702.6,1972.5 1702.8,1972.3 1703.0,1972.2 1703.3,1972.0 1703.5,1971.8 1703.7,1971.7 1703.9,1971.5 1704.1,1971.2 1704.3,1970.9 1704.5,1970.6 1704.8,1970.3 1705.0,1970.0 1705.2,1970.0 1705.4,1969.9 1705.6,1969.9 1705.8,1969.8 1706.0,1969.7 1706.3,1969.4 1706.5,1969.0 1706.7,1968.6 1706.9,1968.2 1707.1,1967.7 1707.3,1967.0 1707.5,1966.2 1707.7,1965.4 1708.0,1964.5 1708.2,1963.5 1708.4,1962.8 1708.6,1962.0 1708.8,1961.1 1709.0,1960.0 1709.2,1958.7 1709.5,1956.7 1709.7,1954.4 1709.9,1951.6 1710.1,1948.2 1710.3,1943.8 1710.5,1938.2 1710.7,1930.9 1711.0,1921.3 1711.2,1909.3 1711.4,1895.6 1711.6,1883.6 1711.8,1878.5 1712.0,1883.4 1712.2,1895.3 1712.4,1908.9 1712.7,1921.1 1712.9,1930.8 1713.1,1938.3 1713.3,1944.0 1713.5,1948.5 1713.7,1951.6 1713.9,1954.0 1714.2,1955.9 1714.4,1957.5 1714.6,1958.7 1714.8,1960.4 1715.0,1961.9 1715.2,1963.2 1715.4,1964.4 1715.7,1965.5 1715.9,1966.3 1716.1,1966.9 1716.3,1967.5 1716.5,1968.1 1716.7,1968.6 1716.9,1968.9 1717.1,1969.2 1717.4,1969.4 1717.6,1969.7 1717.8,1969.9 1718.0,1970.2 1718.2,1970.4 1718.4,1970.7 1718.6,1970.9 1718.9,1971.1 1719.1,1971.3 1719.3,1971.5 1719.5,1971.7 1719.7,1971.9 1719.9,1972.0 1720.1,1972.0 1720.4,1971.9 1720.6,1971.8 1720.8,1971.8 1721.0,1971.7 1721.2,1972.1 1721.4,1972.4 1721.6,1972.8 1721.8,1973.2 1722.1,1973.5 1722.3,1973.6 1722.5,1973.6 1722.7,1973.7 1722.9,1973.8 1723.1,1973.8 1723.3,1973.8 1723.6,1973.8 1723.8,1973.9 1724.0,1973.9 1724.2,1973.9 1724.4,1973.9 1725.3,1974.2 1726.3,1973.7 1727.4,1974.6 1728.5,1974.2 1729.5,1974.5 1730.6,1974.7 1731.7,1973.3 1732.7,1974.9 1733.8,1974.4 1734.9,1974.6 1736.0,1974.6 1737.0,1974.6 1738.1,1974.8 1739.2,1975.2 1740.2,1974.5 1741.3,1974.8 1742.4,1974.8 1743.4,1975.2 1744.5,1974.6 1745.6,1974.9 1746.6,1974.6 1747.7,1974.6 1748.8,1975.4 1749.8,1974.5 1750.9,1975.3 1752.0,1974.8 1753.0,1975.2 1754.1,1975.2 1755.2,1975.1 1756.2,1974.0 1757.3,1975.5 1758.4,1975.4 1759.5,1975.2 1760.5,1974.7 1761.6,1974.8 1762.7,1975.4 1763.7,1975.2 1764.8,1975.4 1765.9,1975.5 1766.9,1975.1 1768.0,1975.3 1769.1,1975.3 1770.1,1975.1 1771.2,1974.8 1772.3,1974.6 1773.3,1975.4 1774.4,1974.9 1775.5,1974.4 1776.5,1974.5 1777.6,1975.2 1778.7,1975.2 1779.8,1975.2 1780.8,1975.1 1781.9,1975.1 1783.0,1975.3 1784.0,1975.0 1785.1,1975.3 1786.2,1975.5 1787.2,1973.9 1788.3,1975.2 1789.4,1975.3 1790.4,1975.1 1791.5,1975.0 1792.6,1975.3 1793.6,1975.4 1794.7,1975.4 1795.8,1975.4 1796.8,1974.8 1797.9,1975.3 1799.0,1974.8 1800.0,1974.8 1801.1,1975.1 1802.2,1974.7 1803.3,1975.1 1804.3,1975.1 1805.4,1975.2 1806.5,1975.3 1807.5,1975.5 1808.6,1974.4 1809.7,1974.6 1810.7,1975.4 1811.8,1975.5 1812.9,1974.5 1813.9,1975.4 1815.0,1975.5 1816.1,1974.7 1817.1,1975.4 1818.2,1975.2 1819.3,1974.4 1820.3,1975.5 1821.4,1975.1 1822.5,1974.5 1823.6,1974.9 1824.6,1974.9 1825.7,1974.4 1826.8,1974.3 1827.8,1975.0 1828.9,1975.1 1830.0,1975.3 1831.0,1975.3 1832.1,1975.2 1833.2,1974.7 1834.2,1975.1 1835.3,1975.0 1836.4,1975.5 1837.4,1974.4 1838.5,1975.2 1839.6,1975.2 1840.6,1975.0 1841.7,1975.0 1842.8,1974.7 1843.9,1974.7 1844.9,1975.1 1846.0,1975.3 1847.1,1975.0 1848.1,1975.0 1849.2,1975.1 1850.3,1975.1 1851.3,1975.2 1852.4,1975.5 1853.5,1974.5 1854.5,1974.5 1855.6,1975.1 1856.7,1975.1 1857.7,1974.8 1858.8,1975.5 1859.9,1975.1 1860.9,1975.5 1862.0,1975.0 1863.1,1975.2 1864.2,1975.1 1865.2,1975.1 1866.3,1975.4 1867.4,1974.6 1868.4,1975.5 1869.5,1975.0 1870.6,1971.1 1871.6,1975.2 1872.7,1975.4 1873.8,1975.3 1874.8,1975.2 1875.9,1975.0 1877.0,1974.9 1878.0,1975.4 1879.1,1975.2 1880.2,1975.1 1881.2,1975.1 1882.3,1975.0 1883.4,1975.3 1884.4,1974.8 1885.5,1974.9 1886.6,1975.2 1887.7,1975.6 1888.7,1974.9 1889.8,1975.5 1890.9,1975.5 1891.9,1975.3 1893.0,1975.6 1894.1,1975.1 1895.1,1975.3 1896.2,1975.1 1897.3,1975.5 1898.3,1975.3 1899.4,1974.8 1900.5,1975.1 1901.5,1974.8 1902.6,1974.8 1903.7,1975.1 1904.7,1975.4 1905.8,1974.9 1906.9,1975.5 1908.0,1975.4 1909.0,1974.6 1910.1,1975.2 1911.2,1974.6 1912.2,1975.4 1913.3,1975.0 1914.4,1975.1 1915.4,1975.5 1916.5,1975.3 1917.6,1975.4 1918.6,1974.9 1919.7,1975.3 1920.8,1975.5 1921.8,1975.1 1922.9,1974.8 1924.0,1975.3 1925.0,1974.5 1926.1,1974.3 1927.2,1975.4 1928.2,1975.3 1929.3,1975.5 1930.4,1975.1 1931.5,1973.4 1932.5,1975.2 1933.6,1975.0 1934.7,1974.8 1935.7,1974.4 1936.8,1975.1 1937.9,1975.2 1938.9,1974.6 1940.0,1975.5 1941.1,1975.6 1942.1,1975.5 1943.2,1975.2 1944.3,1974.1 1945.3,1975.4 1946.4,1974.7 1947.5,1975.1 1948.5,1975.5 1949.6,1974.6 1950.7,1974.6 1951.8,1975.0 1952.8,1975.5 1953.9,1975.2 1955.0,1974.7 1956.0,1975.2 1957.1,1975.5 1958.2,1975.5 1959.2,1975.3 1960.3,1975.3 1961.4,1975.4 1962.4,1975.2 1963.5,1974.5 1964.6,1974.6 1965.6,1975.6 1966.7,1974.4 1967.8,1975.2 1968.8,1975.4 1969.9,1975.3 1971.0,1975.3 1972.1,1974.7 1973.1,1975.2 1974.2,1975.5 1975.3,1974.9 1976.3,1975.5 1977.4,1975.3 1978.5,1975.3 1979.5,1975.4 1980.6,1975.3 1981.7,1975.4 1982.7,1975.5 1983.8,1975.5 1984.9,1974.7 1985.9,1975.1 1987.0,1974.7 1988.1,1975.4 1989.1,1975.3 1990.2,1975.1 1991.3,1975.1 1992.4,1974.4 1993.4,1975.3 1994.5,1974.7 1995.6,1975.1 1996.6,1974.0 1997.7,1974.5 1998.8,1974.9 1999.8,1975.1 2000.9,1974.5 2002.0,1975.4 2003.0,1973.9 2004.1,1974.7 2005.2,1975.4 2006.2,1975.2 2007.3,1975.4 2008.4,1974.2 2009.4,1975.3 2010.5,1974.7 2011.6,1974.4 2012.6,1975.4 2013.7,1974.5 2014.8,1974.0 2015.9,1975.3 2016.9,1975.1 2018.0,1975.5 2019.1,1975.4 2020.1,1975.5 2021.2,1975.3 2022.3,1974.7 2023.3,1975.4 2024.4,1975.4 2025.5,1974.2 2026.5,1975.4 2027.6,1975.3 2028.7,1974.3 2029.7,1974.5 2030.8,1975.3 2031.9,1975.3 2032.9,1974.9 2034.0,1973.9 2035.1,1975.2 2036.2,1975.0 2037.2,1974.8 2038.3,1974.7 2039.4,1975.1 2040.4,1975.2 2041.5,1975.1 2042.6,1975.0 2043.6,1975.1 2044.7,1975.0 2045.8,1975.1 2046.8,1974.8 2047.9,1974.4 2049.0,1974.4 2050.0,1974.6 2051.1,1974.7 2052.2,1974.4 2053.2,1974.6 2053.5,1974.4 2053.7,1974.3 2053.9,1974.1 2054.1,1973.9 2054.3,1973.8 2054.5,1973.8 2054.7,1973.9 2055.0,1974.0 2055.2,1974.0 2055.4,1974.1 2055.6,1974.1 2055.8,1974.0 2056.0,1974.0 2056.2,1974.0 2056.4,1973.9 2056.7,1973.8 2056.9,1973.7 2057.1,1973.6 2057.3,1973.5 2057.5,1973.3 2057.7,1973.1 2057.9,1972.9 2058.2,1972.7 2058.4,1972.4 2058.6,1972.2 2058.8,1972.2 2059.0,1972.3 2059.2,1972.3 2059.4,1972.4 2059.7,1972.4 2059.9,1972.3 2060.1,1972.2 2060.3,1972.1 2060.5,1971.9 2060.7,1971.8 2060.9,1971.4 2061.2,1971.0 2061.4,1970.6 2061.6,1970.1 2061.8,1969.7 2062.0,1969.4 2062.2,1969.1 2062.4,1968.8 2062.6,1968.4 2062.9,1968.0 2063.1,1967.4 2063.3,1966.7 2063.5,1966.0 2063.7,1965.1 2063.9,1964.1 2064.1,1963.3 2064.4,1962.2 2064.6,1960.9 2064.8,1959.3 2065.0,1957.5 2065.2,1955.1 2065.4,1952.7 2065.6,1950.4 2065.9,1948.8 2066.1,1948.1 2066.3,1948.7 2066.5,1950.3 2066.7,1952.6 2066.9,1955.0 2067.1,1957.3 2067.3,1959.4 2067.6,1961.2 2067.8,1962.7 2068.0,1964.0 2068.2,1965.1 2068.4,1966.0 2068.6,1966.8 2068.8,1967.5 2069.1,1968.1 2069.3,1968.6 2069.5,1969.1 2069.7,1969.6 2069.9,1970.0 2070.1,1970.4 2070.3,1970.7 2070.6,1971.0 2070.8,1971.2 2071.0,1971.4 2071.2,1971.6 2071.4,1971.8 2071.6,1971.8 2071.8,1971.8 2072.0,1971.9 2072.3,1971.9 2072.5,1971.9 2072.7,1972.1 2072.9,1972.4 2073.1,1972.6 2073.3,1972.9 2073.5,1973.1 2073.8,1973.1 2074.0,1973.1 2074.2,1973.1 2074.4,1973.1 2074.6,1973.1 2074.8,1973.1 2075.0,1973.0 2075.3,1973.0 2075.5,1973.0 2075.7,1972.9 2075.9,1972.9 2076.1,1972.8 2076.3,1972.7 2076.5,1972.7 2076.7,1972.6 2077.0,1973.0 2077.2,1973.3 2077.4,1973.7 2077.6,1974.0 2077.8,1974.4 2078.0,1974.3 2078.2,1974.2 2078.5,1974.1 2078.7,1974.0 2078.9,1973.9 2080.0,1973.9 2081.0,1974.5 2082.1,1974.1 2083.2,1974.3 2084.2,1974.5 2085.3,1974.4 2086.4,1975.1 2087.4,1974.0 2088.5,1974.6"/>
<g class="ax" font-size="47.5" text-anchor="middle">
<text x="166.0" y="2069.5">10</text>
<text x="379.7" y="2069.5">20</text>
<text x="593.3" y="2069.5">30</text>
<text x="807.0" y="2069.5">40</text>
<text x="1020.7" y="2069.5">50</text>
<text x="1234.3" y="2069.5">60</text>
<text x="1448.0" y="2069.5">70</text>
<text x="1661.7" y="2069.5">80</text>
<text x="1875.3" y="2069.5">90</text>
<text x="2089.0" y="2069.5">100</text>
</g>
<text class="ax" font-size="66" x="1128.9" y="2168.0" text-anchor="middle" textLength="389" lengthAdjust="spacingAndGlyphs">2θ (degrees)</text>
<text class="ax" font-size="68" transform="translate(75.2 1004.2) rotate(-90)" text-anchor="middle" textLength="799" lengthAdjust="spacingAndGlyphs">Normalized Intensity (a.u.)</text>
<line x1="1663" y1="80.7" x2="1777" y2="80.7" stroke="#ff0000" stroke-opacity="1" stroke-width="6.5" stroke-linecap="butt"/>
<text class="lg" font-size="44.3" x="1816" y="97.1" textLength="243" lengthAdjust="spacingAndGlyphs">F20- 400 °C</text>
<line x1="1659.5" y1="385.4" x2="1778" y2="385.4" stroke="#0000ff" stroke-opacity="0.53" stroke-width="6.5" stroke-linecap="butt"/>
<text class="lg" font-size="44.3" x="1815" y="401.9" textLength="243" lengthAdjust="spacingAndGlyphs">F15- 400 °C</text>
<line x1="1662" y1="713.1" x2="1781.5" y2="713.1" stroke="#e29600" stroke-opacity="0.77" stroke-width="6.5" stroke-linecap="round"/>
<text class="lg" font-size="44.3" x="1818.5" y="729.9" textLength="243" lengthAdjust="spacingAndGlyphs">F10- 400 °C</text>
<line x1="1688" y1="1055.4" x2="1806" y2="1055.4" stroke="#505050" stroke-opacity="0.73" stroke-width="6.5" stroke-linecap="round"/>
<text class="lg" font-size="44.3" x="1843" y="1072.1" textLength="217" lengthAdjust="spacingAndGlyphs">F5- 400 °C</text>
<line x1="1772" y1="1408.8" x2="1886.5" y2="1408.8" stroke="#000000" stroke-opacity="1" stroke-width="6.5" stroke-linecap="butt"/>
<text class="lg" font-size="44.3" x="1900.5" y="1424.5" textLength="142" lengthAdjust="spacingAndGlyphs">MnAlC</text>
<line x1="1822" y1="1739.0" x2="1937" y2="1739.0" stroke="#000000" stroke-opacity="1" stroke-width="6.5" stroke-linecap="butt"/>
<text class="lg" font-size="44.3" x="1947" y="1755.8" textLength="94" lengthAdjust="spacingAndGlyphs">α-Fe</text>
<g class="ph" font-size="39.5" stroke="#000" stroke-width="1.7" stroke-linejoin="round">
<text x="209.3" y="83.2" font-family="DejaVu Sans,sans-serif" font-size="22.5" stroke="none">●</text>
<text x="250" y="89.6" textLength="19.5" lengthAdjust="spacingAndGlyphs">τ</text>
<text x="292.2" y="89.6" textLength="107" lengthAdjust="spacingAndGlyphs">phase</text>
<text x="201.5" y="136.9" font-family="DejaVu Sans,sans-serif" font-size="36" stroke="none" transform="translate(219.6 0) scale(1.17 1) translate(-218.6 0)">♦</text>
<text x="255.5" y="135.9" textLength="20" lengthAdjust="spacingAndGlyphs">γ</text>
<text x="270.5" y="156" font-size="25" stroke-width="0.5" font-family="Liberation Serif,serif">2</text>
<text x="295.8" y="135.9" textLength="107" lengthAdjust="spacingAndGlyphs">phase</text>
<text x="0" y="0" font-size="41" stroke-width="1.0" text-anchor="middle" transform="translate(224.6 203) scale(-1.17 1)">∇</text>
<text x="262.5" y="201.7" textLength="22" lengthAdjust="spacingAndGlyphs">β</text>
<text x="306" y="201.7" textLength="107" lengthAdjust="spacingAndGlyphs">phase</text>
<text x="0" y="23" transform="translate(221 234.5) scale(1 1.18)" font-family="Liberation Serif,serif" font-weight="bold" font-size="49" stroke="none" text-anchor="middle">*</text>
<text x="253.3" y="249" textLength="28" lengthAdjust="spacingAndGlyphs">α</text>
<text x="302.3" y="249" textLength="42" lengthAdjust="spacingAndGlyphs">Fe</text>
</g>
<g fill="#000">
<circle cx="475" cy="265.7" r="7.0"/>
<circle cx="644.4" cy="267.7" r="7.0"/>
<circle cx="824" cy="145.5" r="7.0"/>
<circle cx="952.1" cy="215.1" r="7.0"/>
<circle cx="1025.7" cy="280" r="7.0"/>
<circle cx="1087.9" cy="258.2" r="7.0"/>
<circle cx="1397.8" cy="261.2" r="7.0"/>
<circle cx="1471.8" cy="254.5" r="7.0"/>
<circle cx="1700.7" cy="153.6" r="7.0"/>
<circle cx="1855.8" cy="267.4" r="7.0"/>
<circle cx="478" cy="591.4" r="7.0"/>
<circle cx="644.4" cy="593.1" r="7.0"/>
<circle cx="825" cy="380.7" r="7.0"/>
<circle cx="945.7" cy="536.3" r="7.0"/>
<circle cx="1034.8" cy="598.5" r="7.0"/>
<circle cx="1087.9" cy="589.4" r="7.0"/>
<circle cx="1393.8" cy="586.4" r="7.0"/>
<circle cx="1471.8" cy="584.4" r="7.0"/>
<circle cx="1709.7" cy="452.3" r="7.0"/>
<circle cx="1855.7" cy="582.3" r="7.0"/>
<circle cx="472" cy="899.5" r="7.0"/>
<circle cx="653.8" cy="898.5" r="7.0"/>
<circle cx="825" cy="710.6" r="7.0"/>
<circle cx="948" cy="833.6" r="7.0"/>
<circle cx="1034.8" cy="878.3" r="7.0"/>
<circle cx="1087.9" cy="862.5" r="7.0"/>
<circle cx="1416" cy="887.4" r="7.0"/>
<circle cx="1492.6" cy="881.3" r="7.0"/>
<circle cx="1709.7" cy="787.6" r="7.0"/>
<circle cx="1846.9" cy="819.2" r="7.0"/>
<circle cx="475" cy="1263.1" r="7.0"/>
<circle cx="639" cy="1252" r="7.0"/>
<circle cx="828.1" cy="1045.3" r="7.0"/>
<circle cx="945.7" cy="1222.4" r="7.0"/>
<circle cx="1025.7" cy="1261.4" r="7.0"/>
<circle cx="1087.9" cy="1263.1" r="7.0"/>
<circle cx="1397.8" cy="1252" r="7.0"/>
<circle cx="1466" cy="1240.6" r="7.0"/>
<circle cx="1709.7" cy="1170.3" r="7.0"/>
<circle cx="1846.9" cy="1256.4" r="7.0"/>
<circle cx="475" cy="1654.6" r="7.0"/>
<circle cx="641.7" cy="1653.3" r="7.0"/>
<circle cx="830.8" cy="1376" r="7.0"/>
<circle cx="942" cy="1612.6" r="7.0"/>
<circle cx="1031.8" cy="1652.6" r="7.0"/>
<circle cx="1089.6" cy="1649.2" r="7.0"/>
<circle cx="1263" cy="1656.6" r="7.0"/>
<circle cx="1397.1" cy="1648.9" r="7.0"/>
<circle cx="1471.1" cy="1643.5" r="7.0"/>
<circle cx="1709.7" cy="1642.5" r="7.0"/>
<circle cx="1856" cy="1640.2" r="7.0"/>
<polygon points="847.9,223.8 856.9,235.3 847.9,246.8 838.9,235.3"/>
<polygon points="904.9,35.1 913.9,46.6 904.9,58.1 895.9,46.6"/>
<polygon points="850.9,549.7 859.9,561.2 850.9,572.7 841.9,561.2"/>
<polygon points="906.7,406.5 915.7,418 906.7,429.5 897.7,418"/>
<polygon points="850.9,848.3 859.9,859.8 850.9,871.3 841.9,859.8"/>
<polygon points="906,716.5 915.0,728 906,739.5 897.0,728"/>
<polygon points="850.9,1220.0 859.9,1231.5 850.9,1243.0 841.9,1231.5"/>
<polygon points="903.7,1169.9 912.7,1181.4 903.7,1192.9 894.7,1181.4"/>
</g>
<g class="as" font-size="42.0" text-anchor="middle">
<text transform="translate(905.1 69.6) scale(1 1.12)" x="0" y="19.7">*</text>
<text transform="translate(1342.4 253.1) scale(1 1.12)" x="0" y="19.7">*</text>
<text transform="translate(1707.4 175.8) scale(1 1.12)" x="0" y="19.7">*</text>
<text transform="translate(2063.5 265.7) scale(1 1.12)" x="0" y="19.7">*</text>
<text transform="translate(911.1 443.5) scale(1 1.12)" x="0" y="19.7">*</text>
<text transform="translate(1339.3 576.3) scale(1 1.12)" x="0" y="19.7">*</text>
<text transform="translate(1713.1 474.5) scale(1 1.12)" x="0" y="19.7">*</text>
<text transform="translate(2063.4 592.1) scale(1 1.12)" x="0" y="19.7">*</text>
<text transform="translate(909.1 752.3) scale(1 1.12)" x="0" y="19.7">*</text>
<text transform="translate(1351.1 892.8) scale(1 1.12)" x="0" y="19.7">*</text>
<text transform="translate(1711.4 807.1) scale(1 1.12)" x="0" y="19.7">*</text>
<text transform="translate(2048.2 876.8) scale(1 1.12)" x="0" y="19.7">*</text>
<text transform="translate(909.1 1207.6) scale(1 1.12)" x="0" y="19.7">*</text>
<text transform="translate(1342.4 1264.8) scale(1 1.12)" x="0" y="19.7">*</text>
<text transform="translate(1713.1 1188.8) scale(1 1.12)" x="0" y="19.7">*</text>
<text transform="translate(2060.4 1275.7) scale(1 1.12)" x="0" y="19.7">*</text>
<text transform="translate(905.4 1700.3) scale(1 1.12)" x="0" y="19.7">*</text>
<text transform="translate(1339.3 1926.1) scale(1 1.12)" x="0" y="19.7">*</text>
<text transform="translate(1710.4 1862.2) scale(1 1.12)" x="0" y="19.7">*</text>
<text transform="translate(2065.5 1930.2) scale(1 1.12)" x="0" y="19.7">*</text>
</g>
<g class="nb" font-size="34.5" text-anchor="middle" stroke="#000" stroke-width="0.8">
<text transform="translate(849.7 216.7) scale(-1.13 1)" x="0" y="0">∇</text>
<text transform="translate(854.5 547.4) scale(-1.13 1)" x="0" y="0">∇</text>
<text transform="translate(851.6 844.7) scale(-1.13 1)" x="0" y="0">∇</text>
<text transform="translate(851.6 1211.7) scale(-1.13 1)" x="0" y="0">∇</text>
</g>
</svg></body></html>
